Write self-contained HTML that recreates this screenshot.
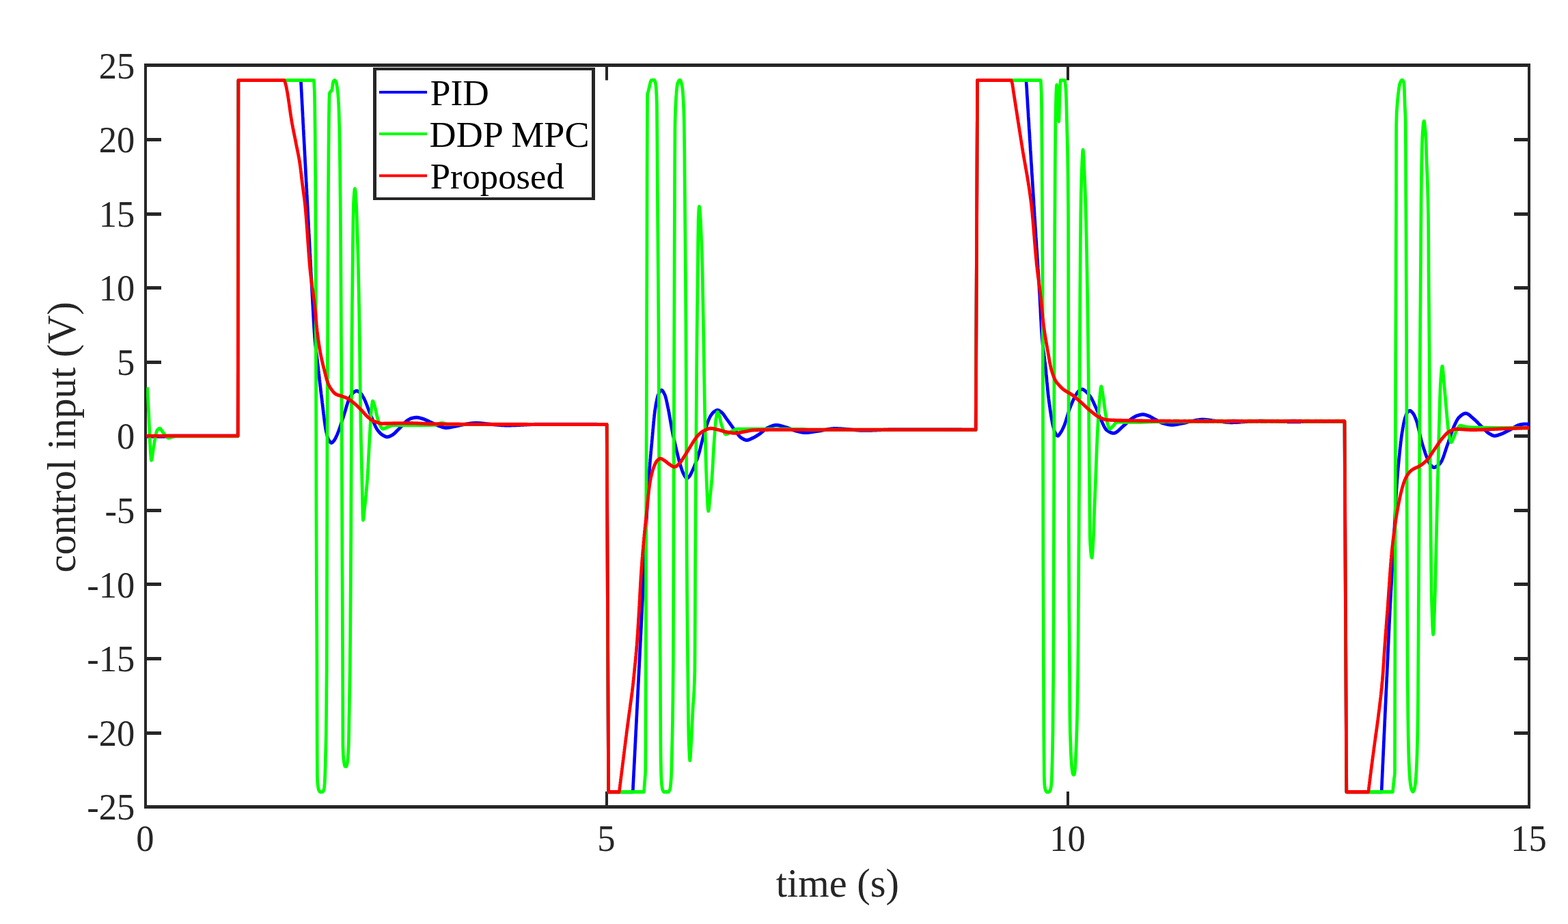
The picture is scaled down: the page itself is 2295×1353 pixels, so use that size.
<!DOCTYPE html>
<html lang="en"><head><meta charset="utf-8"><title>control input</title>
<style>html,body{margin:0;padding:0;background:#fff}body{width:2295px;height:1353px;overflow:hidden}svg{display:block}</style>
</head><body>
<svg width="2295" height="1353" viewBox="0 0 2295 1353" role="img" aria-label="control input versus time">
<rect width="2295" height="1353" fill="#fff"/>
<path d="M211,93H2240V98H211ZM211,1179H2240V1184H211ZM211,93H215V1184H211ZM2236,93H2240V1184H2236ZM215,1071H236V1076H215ZM2216,1071H2236V1076H2216ZM215,962H236V967H215ZM2216,962H2236V967H2216ZM215,853H236V858H215ZM2216,853H2236V858H2216ZM215,745H236V750H215ZM2216,745H2236V750H2216ZM215,636H236V641H215ZM2216,636H2236V641H2216ZM215,528H236V533H215ZM2216,528H2236V533H2216ZM215,419H236V424H215ZM2216,419H2236V424H2216ZM215,311H236V316H215ZM2216,311H2236V316H2216ZM215,202H236V207H215ZM2216,202H2236V207H2216ZM886,98H890V117.5H886ZM886,1159H890V1179H886ZM1561,98H1565V117.5H1561ZM1561,1159H1565V1179H1561Z" fill="#262626"/>
<clipPath id="c"><rect x="214.2" y="98" width="2024.6" height="1081"/></clipPath>
<g clip-path="url(#c)"><g transform="scale(1,1.0851063829787233)">
<path d="M213.2,589.16L241.0,589.16L245.0,588.24L348.2,588.24L348.9,108.28L440.4,108.28L440.6,112.68L440.9,117.07L441.1,121.46L441.4,125.86L441.6,130.24L441.9,134.63L442.1,139.02L442.4,143.41L442.6,147.79L442.9,152.17L443.1,156.56L443.4,160.94L443.6,165.32L443.9,169.70L444.1,174.07L444.4,178.45L444.6,182.83L444.9,187.20L445.1,191.57L445.4,195.95L445.6,200.32L445.9,204.69L446.1,209.05L446.4,213.42L446.6,217.79L446.9,222.15L447.1,226.52L447.4,230.88L447.6,235.24L447.9,239.60L448.1,243.96L448.4,248.32L448.6,252.68L448.9,257.04L449.1,261.39L449.4,265.75L449.6,270.10L449.8,272.78L449.9,274.45L450.1,278.82L450.4,283.19L450.6,287.57L450.9,291.97L451.1,296.36L451.4,300.77L451.6,305.18L451.9,309.59L452.1,314.00L452.4,318.41L452.6,322.82L452.9,327.23L453.1,331.63L453.4,336.03L453.6,340.42L453.9,344.80L454.1,349.17L454.4,353.53L454.6,357.87L454.9,362.21L455.1,366.52L455.4,370.82L455.6,375.11L455.9,379.37L456.1,383.61L456.4,387.83L456.6,392.02L456.9,396.19L457.1,400.33L457.4,404.44L457.4,404.57L457.6,408.60L457.9,412.85L458.1,417.16L458.4,421.49L458.6,425.80L458.9,430.05L459.1,434.20L459.4,438.22L459.6,442.07L459.9,445.70L460.1,449.08L460.4,452.17L460.5,453.41L460.6,454.96L460.9,457.60L461.1,460.13L461.4,462.54L461.6,464.84L461.9,467.06L462.1,469.20L462.4,471.26L462.6,473.26L462.9,475.21L463.1,477.11L463.4,478.99L463.6,480.84L463.9,482.67L464.1,484.51L464.4,486.35L464.6,488.21L464.9,490.10L465.1,492.02L465.4,493.99L465.5,494.88L465.6,496.01L465.9,498.03L466.1,500.06L466.4,502.08L466.6,504.11L466.9,506.13L467.1,508.15L467.4,510.17L467.6,512.18L467.9,514.19L468.1,516.19L468.4,518.18L468.6,520.16L468.9,522.13L469.1,524.10L469.4,526.05L469.6,527.99L469.9,529.91L470.1,531.82L470.4,533.71L470.6,535.59L470.9,537.45L471.0,538.29L471.1,539.30L471.4,541.17L471.6,543.07L471.9,544.99L472.1,546.93L472.4,548.87L472.6,550.82L472.9,552.78L473.1,554.72L473.4,556.66L473.6,558.58L473.9,560.48L474.1,562.35L474.4,564.20L474.6,566.01L474.9,567.77L475.1,569.49L475.4,571.16L475.6,572.77L475.9,574.33L476.1,575.81L476.4,577.22L476.6,578.55L476.9,579.81L477.1,580.97L477.3,581.69L477.4,582.05L477.6,583.09L477.9,584.11L478.1,585.11L478.4,586.08L478.6,587.02L478.9,587.92L479.1,588.78L479.4,589.60L479.6,590.37L479.9,591.08L480.1,591.73L480.4,592.32L480.6,592.85L480.9,593.30L481.0,593.49L481.1,593.69L481.4,594.07L481.6,594.44L481.9,594.80L482.1,595.15L482.4,595.49L482.6,595.81L482.9,596.11L483.1,596.39L483.4,596.64L483.6,596.87L483.9,597.07L484.1,597.24L484.4,597.37L484.6,597.47L484.9,597.53L485.1,597.55L485.1,597.54L485.4,597.52L485.6,597.46L485.9,597.36L486.1,597.22L486.4,597.06L486.6,596.88L486.9,596.67L487.1,596.44L487.4,596.19L487.6,595.93L487.9,595.66L488.1,595.39L488.4,595.11L488.6,594.82L488.9,594.55L489.0,594.41L489.1,594.27L489.4,593.96L489.6,593.63L489.9,593.28L490.1,592.90L490.4,592.50L490.6,592.08L490.9,591.64L491.1,591.19L491.4,590.72L491.6,590.24L491.9,589.76L492.1,589.26L492.4,588.76L492.6,588.26L492.9,587.75L493.0,587.50L493.1,587.24L493.4,586.72L493.6,586.19L493.9,585.64L494.1,585.08L494.4,584.50L494.6,583.92L494.9,583.32L495.1,582.72L495.4,582.10L495.6,581.47L495.9,580.84L496.1,580.20L496.4,579.54L496.6,578.89L496.9,578.22L497.1,577.55L497.4,576.87L497.6,576.19L497.9,575.50L498.1,574.81L498.4,574.12L498.6,573.42L498.9,572.72L499.1,572.02L499.4,571.31L499.6,570.61L499.9,569.90L500.1,569.20L500.4,568.50L500.6,567.80L500.9,567.10L501.1,566.40L501.4,565.70L501.6,565.01L501.9,564.33L502.1,563.65L502.4,562.97L502.4,562.89L502.6,562.29L502.9,561.60L503.1,560.89L503.4,560.17L503.6,559.44L503.9,558.69L504.1,557.94L504.4,557.19L504.6,556.42L504.9,555.65L505.1,554.88L505.4,554.10L505.6,553.32L505.9,552.54L506.1,551.76L506.4,550.98L506.6,550.21L506.9,549.44L507.1,548.67L507.4,547.91L507.6,547.16L507.9,546.42L508.1,545.68L508.4,544.96L508.6,544.25L508.9,543.56L509.1,542.88L509.4,542.21L509.6,541.56L509.9,540.93L510.1,540.32L510.4,539.73L510.6,539.17L510.9,538.62L511.1,538.10L511.4,537.61L511.6,537.14L511.8,536.81L511.9,536.70L512.1,536.26L512.4,535.84L512.6,535.42L512.9,535.01L513.1,534.61L513.4,534.21L513.6,533.82L513.9,533.45L514.1,533.08L514.4,532.73L514.6,532.39L514.9,532.06L515.1,531.75L515.4,531.45L515.6,531.16L515.9,530.90L516.1,530.64L516.4,530.41L516.6,530.20L516.9,530.00L517.0,529.90L517.1,529.82L517.4,529.64L517.6,529.47L517.9,529.30L518.1,529.12L518.4,528.96L518.6,528.79L518.9,528.64L519.1,528.48L519.4,528.34L519.6,528.20L519.9,528.08L520.1,527.96L520.4,527.85L520.6,527.76L520.9,527.68L521.1,527.61L521.4,527.56L521.6,527.53L521.9,527.51L522.0,527.51L522.1,527.51L522.4,527.52L522.6,527.56L522.9,527.61L523.1,527.67L523.4,527.75L523.6,527.85L523.9,527.95L524.1,528.07L524.4,528.19L524.6,528.33L524.9,528.47L525.1,528.62L525.4,528.78L525.6,528.94L525.9,529.11L526.1,529.28L526.4,529.45L526.6,529.63L526.9,529.80L527.0,529.90L527.1,529.98L527.4,530.18L527.6,530.40L527.9,530.64L528.1,530.89L528.4,531.17L528.6,531.46L528.9,531.77L529.1,532.09L529.4,532.43L529.6,532.77L529.9,533.13L530.1,533.50L530.4,533.88L530.6,534.26L530.9,534.65L531.1,535.05L531.4,535.45L531.6,535.85L531.9,536.26L532.1,536.67L532.2,536.81L532.4,537.07L532.6,537.50L532.9,537.94L533.1,538.39L533.4,538.86L533.6,539.34L533.9,539.83L534.1,540.34L534.4,540.85L534.6,541.38L534.9,541.92L535.1,542.47L535.4,543.02L535.6,543.59L535.9,544.16L536.1,544.74L536.4,545.33L536.6,545.92L536.9,546.52L537.1,547.12L537.4,547.73L537.6,548.34L537.9,548.95L538.1,549.57L538.4,550.18L538.6,550.80L538.9,551.42L539.1,552.04L539.4,552.66L539.6,553.27L539.9,553.89L540.1,554.50L540.4,555.11L540.6,555.72L540.9,556.32L541.1,556.91L541.4,557.50L541.6,558.09L541.9,558.66L542.1,559.23L542.4,559.80L542.6,560.35L542.9,560.89L543.1,561.42L543.1,561.43L543.4,561.96L543.6,562.50L543.9,563.04L544.1,563.59L544.4,564.15L544.6,564.71L544.9,565.27L545.1,565.83L545.4,566.39L545.6,566.96L545.9,567.52L546.1,568.09L546.4,568.65L546.6,569.22L546.9,569.77L547.1,570.33L547.4,570.88L547.6,571.43L547.9,571.97L548.1,572.51L548.4,573.04L548.6,573.56L548.9,574.07L549.1,574.58L549.4,575.07L549.6,575.56L549.9,576.03L550.1,576.50L550.4,576.95L550.6,577.38L550.9,577.81L551.1,578.22L551.4,578.61L551.6,578.99L551.9,579.36L552.1,579.70L552.4,580.03L552.5,580.22L552.6,580.34L552.8,580.65L553.1,580.95L553.3,581.24L553.6,581.53L553.8,581.81L554.1,582.09L554.3,582.37L554.6,582.64L554.8,582.90L555.1,583.16L555.3,583.41L555.6,583.66L555.8,583.90L556.1,584.14L556.3,584.37L556.6,584.60L556.8,584.82L557.1,585.03L557.3,585.24L557.6,585.44L557.8,585.63L558.1,585.82L558.3,586.00L558.6,586.18L558.8,586.35L559.1,586.51L559.3,586.66L559.6,586.81L559.8,586.96L560.0,587.04L560.1,587.09L560.3,587.23L560.6,587.36L560.8,587.50L561.1,587.64L561.3,587.77L561.6,587.91L561.8,588.04L562.1,588.17L562.3,588.30L562.6,588.42L562.8,588.55L563.1,588.66L563.3,588.78L563.6,588.89L563.8,588.99L564.1,589.09L564.3,589.18L564.6,589.26L564.8,589.34L565.1,589.40L565.3,589.46L565.6,589.51L565.8,589.56L566.1,589.59L566.3,589.61L566.6,589.62L566.7,589.62L566.8,589.62L567.1,589.61L567.3,589.59L567.6,589.56L567.8,589.52L568.1,589.48L568.3,589.43L568.6,589.37L568.8,589.30L569.1,589.23L569.3,589.15L569.6,589.06L569.8,588.97L570.1,588.88L570.3,588.78L570.6,588.67L570.8,588.57L571.1,588.45L571.3,588.34L571.6,588.22L571.8,588.10L572.1,587.98L572.3,587.86L572.6,587.74L572.8,587.61L573.1,587.49L573.3,587.36L573.6,587.24L573.8,587.12L574.0,587.04L574.1,586.99L574.3,586.87L574.6,586.73L574.8,586.58L575.1,586.43L575.3,586.27L575.6,586.11L575.8,585.94L576.1,585.76L576.3,585.57L576.6,585.38L576.8,585.19L577.1,584.99L577.3,584.78L577.6,584.57L577.8,584.36L578.1,584.14L578.3,583.92L578.6,583.70L578.8,583.47L579.1,583.24L579.3,583.01L579.6,582.78L579.8,582.54L580.1,582.31L580.3,582.07L580.6,581.83L580.8,581.59L581.1,581.35L581.3,581.11L581.6,580.88L581.8,580.64L582.1,580.40L582.3,580.17L582.6,579.93L582.8,579.70L583.1,579.47L583.3,579.25L583.6,579.02L583.8,578.80L583.9,578.75L584.1,578.58L584.3,578.36L584.6,578.13L584.8,577.90L585.1,577.67L585.3,577.43L585.6,577.19L585.8,576.95L586.1,576.71L586.3,576.46L586.6,576.21L586.8,575.96L587.1,575.71L587.3,575.46L587.6,575.20L587.8,574.95L588.1,574.69L588.3,574.44L588.6,574.18L588.8,573.92L589.1,573.67L589.3,573.41L589.6,573.16L589.8,572.90L590.1,572.65L590.3,572.40L590.6,572.15L590.8,571.90L591.1,571.65L591.3,571.41L591.6,571.17L591.8,570.93L592.1,570.69L592.3,570.46L592.6,570.23L592.8,570.00L593.1,569.78L593.3,569.56L593.6,569.35L593.8,569.14L594.1,568.93L594.3,568.73L594.6,568.54L594.8,568.35L595.1,568.16L595.3,567.98L595.6,567.81L595.8,567.64L596.1,567.48L596.3,567.33L596.5,567.23L596.6,567.18L596.8,567.03L597.1,566.89L597.3,566.74L597.6,566.60L597.8,566.46L598.1,566.32L598.3,566.18L598.6,566.04L598.8,565.91L599.1,565.78L599.3,565.65L599.6,565.53L599.8,565.41L600.1,565.29L600.3,565.18L600.6,565.07L600.8,564.96L601.1,564.86L601.3,564.77L601.6,564.68L601.8,564.59L602.1,564.51L602.3,564.44L602.6,564.37L602.8,564.31L603.0,564.28L603.1,564.26L603.3,564.21L603.6,564.16L603.8,564.11L604.1,564.05L604.3,564.00L604.6,563.96L604.8,563.91L605.1,563.86L605.3,563.82L605.6,563.77L605.8,563.73L606.1,563.69L606.3,563.65L606.6,563.61L606.8,563.58L607.1,563.54L607.3,563.51L607.6,563.48L607.8,563.46L608.1,563.43L608.3,563.41L608.6,563.40L608.8,563.38L609.1,563.37L609.3,563.36L609.6,563.36L609.8,563.35L610.1,563.36L610.3,563.37L610.6,563.38L610.8,563.39L611.1,563.41L611.3,563.44L611.6,563.47L611.8,563.50L612.1,563.53L612.3,563.57L612.6,563.62L612.8,563.66L613.1,563.71L613.3,563.76L613.6,563.81L613.8,563.86L614.1,563.92L614.3,563.98L614.6,564.04L614.8,564.10L615.1,564.16L615.3,564.22L615.6,564.29L615.8,564.35L616.1,564.42L616.3,564.48L616.6,564.55L616.8,564.62L617.1,564.68L617.3,564.75L617.6,564.81L617.8,564.88L618.0,564.92L618.1,564.94L618.3,565.00L618.6,565.07L618.8,565.14L619.1,565.21L619.3,565.29L619.6,565.37L619.8,565.45L620.1,565.53L620.3,565.61L620.6,565.70L620.8,565.79L621.1,565.88L621.3,565.97L621.6,566.06L621.8,566.15L622.1,566.25L622.3,566.35L622.6,566.45L622.8,566.55L623.1,566.65L623.3,566.75L623.6,566.86L623.8,566.96L624.1,567.07L624.3,567.18L624.6,567.28L624.8,567.39L625.1,567.50L625.3,567.61L625.6,567.72L625.8,567.83L626.1,567.94L626.3,568.05L626.6,568.16L626.8,568.28L627.1,568.39L627.3,568.50L627.6,568.61L627.8,568.72L628.1,568.83L628.3,568.94L628.6,569.05L628.8,569.16L629.1,569.27L629.3,569.38L629.6,569.48L629.8,569.59L630.1,569.70L630.3,569.80L630.6,569.90L630.8,570.01L631.0,570.08L631.1,570.11L631.3,570.21L631.6,570.31L631.8,570.42L632.1,570.52L632.3,570.63L632.6,570.74L632.8,570.84L633.1,570.95L633.3,571.06L633.6,571.17L633.8,571.28L634.1,571.39L634.3,571.50L634.6,571.62L634.8,571.73L635.1,571.84L635.3,571.95L635.6,572.06L635.8,572.17L636.1,572.28L636.3,572.39L636.6,572.50L636.8,572.61L637.1,572.72L637.3,572.83L637.6,572.93L637.8,573.04L638.1,573.14L638.3,573.25L638.6,573.35L638.8,573.45L639.1,573.55L639.3,573.65L639.6,573.75L639.8,573.84L640.1,573.94L640.3,574.03L640.6,574.12L640.8,574.21L641.1,574.29L641.3,574.38L641.6,574.46L641.8,574.54L642.0,574.60L642.1,574.62L642.3,574.69L642.6,574.77L642.8,574.85L643.1,574.93L643.3,575.02L643.6,575.10L643.8,575.18L644.1,575.26L644.3,575.35L644.6,575.43L644.8,575.51L645.1,575.60L645.3,575.68L645.6,575.76L645.8,575.84L646.1,575.92L646.3,576.00L646.6,576.08L646.8,576.16L647.1,576.24L647.3,576.31L647.6,576.38L647.8,576.45L648.1,576.52L648.3,576.59L648.6,576.66L648.8,576.72L649.1,576.78L649.3,576.83L649.6,576.89L649.8,576.94L650.1,576.99L650.3,577.03L650.6,577.07L650.8,577.11L651.1,577.15L651.3,577.18L651.6,577.20L651.8,577.23L652.1,577.24L652.3,577.26L652.6,577.27L652.8,577.27L652.9,577.27L653.1,577.27L653.3,577.27L653.6,577.26L653.8,577.25L654.1,577.24L654.3,577.23L654.6,577.21L654.8,577.20L655.1,577.18L655.3,577.15L655.6,577.13L655.8,577.10L656.1,577.08L656.3,577.05L656.6,577.01L656.8,576.98L657.1,576.95L657.3,576.91L657.6,576.87L657.8,576.84L658.1,576.80L658.3,576.75L658.6,576.71L658.8,576.67L659.1,576.63L659.3,576.58L659.6,576.54L659.8,576.49L660.1,576.44L660.3,576.40L660.6,576.35L660.8,576.30L661.1,576.25L661.3,576.20L661.6,576.16L661.8,576.11L662.1,576.06L662.3,576.01L662.6,575.96L662.8,575.91L663.1,575.87L663.3,575.82L663.6,575.77L663.8,575.73L664.1,575.68L664.3,575.64L664.5,575.60L664.8,575.55L665.0,575.52L665.0,575.51L665.3,575.47L665.5,575.43L665.8,575.38L666.0,575.34L666.3,575.29L666.5,575.25L666.8,575.20L667.0,575.15L667.3,575.11L667.5,575.06L667.8,575.01L668.0,574.96L668.3,574.91L668.5,574.86L668.8,574.81L669.0,574.76L669.3,574.71L669.5,574.66L669.8,574.60L670.0,574.55L670.3,574.50L670.5,574.45L670.8,574.39L671.0,574.34L671.3,574.29L671.5,574.24L671.8,574.19L672.0,574.13L672.3,574.08L672.5,574.03L672.8,573.98L673.0,573.93L673.3,573.88L673.5,573.83L673.8,573.78L674.0,573.73L674.3,573.68L674.5,573.63L674.8,573.58L675.0,573.53L675.3,573.49L675.5,573.44L675.8,573.39L676.0,573.35L676.3,573.31L676.5,573.26L676.8,573.22L677.0,573.18L677.3,573.14L677.5,573.10L677.8,573.06L678.0,573.03L678.0,573.02L678.3,572.99L678.5,572.95L678.8,572.91L679.0,572.87L679.3,572.84L679.5,572.80L679.8,572.76L680.0,572.72L680.3,572.68L680.5,572.64L680.8,572.60L681.0,572.56L681.3,572.52L681.5,572.48L681.8,572.44L682.0,572.40L682.3,572.36L682.5,572.32L682.8,572.28L683.0,572.24L683.3,572.20L683.5,572.16L683.8,572.12L684.0,572.09L684.3,572.05L684.5,572.01L684.8,571.97L685.0,571.93L685.3,571.89L685.5,571.85L685.8,571.82L686.0,571.78L686.3,571.74L686.5,571.71L686.8,571.67L687.0,571.63L687.3,571.60L687.5,571.56L687.8,571.53L688.0,571.50L688.3,571.46L688.5,571.43L688.8,571.40L689.0,571.37L689.3,571.34L689.5,571.31L689.8,571.28L690.0,571.25L690.3,571.22L690.5,571.19L690.8,571.17L691.0,571.14L691.3,571.12L691.5,571.09L691.8,571.07L692.0,571.05L692.3,571.03L692.5,571.00L692.8,570.98L693.0,570.97L693.3,570.95L693.5,570.93L693.8,570.92L694.0,570.90L694.3,570.89L694.5,570.88L694.8,570.87L695.0,570.86L695.3,570.85L695.5,570.84L695.8,570.83L696.0,570.83L696.3,570.82L696.5,570.82L696.8,570.82L696.9,570.82L697.0,570.82L697.3,570.82L697.5,570.82L697.8,570.83L698.0,570.83L698.3,570.83L698.5,570.84L698.8,570.85L699.0,570.85L699.3,570.86L699.5,570.87L699.8,570.88L700.0,570.89L700.3,570.90L700.5,570.92L700.8,570.93L701.0,570.94L701.3,570.96L701.5,570.97L701.8,570.99L702.0,571.00L702.3,571.02L702.5,571.04L702.8,571.06L703.0,571.07L703.3,571.09L703.5,571.11L703.8,571.13L704.0,571.15L704.3,571.18L704.5,571.20L704.8,571.22L705.0,571.24L705.3,571.27L705.5,571.29L705.8,571.31L706.0,571.34L706.3,571.36L706.5,571.39L706.8,571.41L707.0,571.44L707.3,571.46L707.5,571.49L707.8,571.52L708.0,571.54L708.3,571.57L708.5,571.60L708.8,571.62L709.0,571.65L709.3,571.68L709.5,571.71L709.8,571.73L710.0,571.76L710.3,571.79L710.5,571.82L710.8,571.85L711.0,571.87L711.3,571.90L711.5,571.93L711.8,571.96L712.0,571.99L712.3,572.01L712.5,572.04L712.8,572.07L713.0,572.10L713.3,572.13L713.5,572.15L713.8,572.18L714.0,572.21L714.3,572.23L714.5,572.26L714.8,572.29L715.0,572.31L715.3,572.34L715.5,572.36L715.8,572.39L716.0,572.42L716.3,572.44L716.5,572.46L716.8,572.49L717.0,572.51L717.3,572.53L717.5,572.56L717.8,572.58L718.0,572.60L718.3,572.62L718.5,572.64L718.8,572.66L719.0,572.68L719.3,572.70L719.5,572.72L719.8,572.74L720.0,572.75L720.0,572.76L720.3,572.77L720.5,572.79L720.8,572.81L721.0,572.83L721.3,572.85L721.5,572.86L721.8,572.88L722.0,572.90L722.3,572.92L722.5,572.94L722.8,572.96L723.0,572.98L723.3,573.00L723.5,573.01L723.8,573.03L724.0,573.05L724.3,573.07L724.5,573.09L724.8,573.11L725.0,573.13L725.3,573.15L725.5,573.17L725.8,573.19L726.0,573.21L726.3,573.23L726.5,573.25L726.8,573.27L727.0,573.29L727.3,573.31L727.5,573.33L727.8,573.35L728.0,573.37L728.3,573.39L728.5,573.41L728.8,573.43L729.0,573.44L729.3,573.46L729.5,573.48L729.8,573.50L730.0,573.52L730.3,573.54L730.5,573.56L730.8,573.57L731.0,573.59L731.3,573.61L731.5,573.63L731.8,573.64L732.0,573.66L732.3,573.68L732.5,573.69L732.8,573.71L733.0,573.73L733.3,573.74L733.5,573.76L733.8,573.77L734.0,573.79L734.3,573.80L734.5,573.81L734.8,573.83L735.0,573.84L735.3,573.86L735.5,573.87L735.8,573.88L736.0,573.89L736.3,573.90L736.5,573.92L736.8,573.93L737.0,573.94L737.3,573.95L737.5,573.96L737.8,573.97L738.0,573.97L738.3,573.98L738.5,573.99L738.8,574.00L739.0,574.00L739.3,574.01L739.5,574.02L739.8,574.02L740.0,574.03L740.3,574.03L740.5,574.03L740.8,574.04L741.0,574.04L741.3,574.04L741.5,574.04L741.8,574.04L742.0,574.05L742.3,574.04L742.5,574.04L742.8,574.04L743.0,574.04L743.3,574.04L743.5,574.04L743.8,574.04L744.0,574.04L744.3,574.04L744.5,574.03L744.8,574.03L745.0,574.03L745.3,574.03L745.5,574.02L745.8,574.02L746.0,574.02L746.3,574.01L746.5,574.01L746.8,574.00L747.0,574.00L747.3,574.00L747.5,573.99L747.8,573.99L748.0,573.98L748.3,573.98L748.5,573.97L748.8,573.97L749.0,573.96L749.3,573.95L749.5,573.95L749.8,573.94L750.0,573.94L750.3,573.93L750.5,573.92L750.8,573.92L751.0,573.91L751.3,573.90L751.5,573.89L751.8,573.89L752.0,573.88L752.3,573.87L752.5,573.86L752.8,573.86L753.0,573.85L753.3,573.84L753.5,573.83L753.8,573.82L754.0,573.81L754.3,573.81L754.5,573.80L754.8,573.79L755.0,573.78L755.3,573.77L755.5,573.76L755.8,573.75L756.0,573.74L756.3,573.73L756.5,573.72L756.8,573.71L757.0,573.70L757.3,573.69L757.5,573.68L757.8,573.67L758.0,573.66L758.3,573.65L758.5,573.64L758.8,573.63L759.0,573.62L759.3,573.61L759.5,573.60L759.8,573.59L760.0,573.58L760.3,573.57L760.5,573.56L760.8,573.55L761.0,573.53L761.3,573.52L761.5,573.51L761.8,573.50L762.0,573.49L762.3,573.48L762.5,573.47L762.8,573.46L763.0,573.45L763.3,573.43L763.5,573.42L763.8,573.41L764.0,573.40L764.3,573.39L764.5,573.38L764.8,573.37L765.0,573.35L765.3,573.34L765.5,573.33L765.8,573.32L766.0,573.31L766.3,573.30L766.5,573.28L766.8,573.27L767.0,573.26L767.3,573.25L767.5,573.24L767.8,573.23L768.0,573.22L768.3,573.20L768.5,573.19L768.8,573.18L769.0,573.17L769.3,573.16L769.5,573.15L769.8,573.14L770.0,573.13L770.3,573.11L770.5,573.10L770.8,573.09L771.0,573.08L771.3,573.07L771.5,573.06L771.8,573.05L772.0,573.04L772.3,573.03L772.5,573.02L772.8,573.00L773.0,572.99L773.3,572.98L773.5,572.97L773.8,572.96L774.0,572.95L774.3,572.94L774.5,572.93L774.8,572.92L775.0,572.91L775.3,572.90L775.5,572.89L775.8,572.88L776.0,572.87L776.2,572.86L776.5,572.85L776.7,572.85L777.0,572.84L777.2,572.83L777.5,572.82L777.7,572.81L778.0,572.80L778.2,572.79L778.5,572.78L778.7,572.78L779.0,572.77L779.2,572.76L779.5,572.75L779.7,572.74L780.0,572.74L780.2,572.73L780.5,572.72L780.7,572.71L781.0,572.71L781.2,572.70L781.5,572.69L781.7,572.69L782.0,572.68L782.2,572.67L782.5,572.67L782.7,572.66L783.0,572.66L783.2,572.65L783.5,572.64L783.7,572.64L784.0,572.63L784.2,572.63L784.5,572.62L784.7,572.62L785.0,572.62L785.2,572.61L785.5,572.61L785.7,572.60L786.0,572.60L786.2,572.60L786.5,572.59L786.7,572.59L787.0,572.59L787.2,572.58L787.5,572.58L787.7,572.58L788.0,572.58L788.2,572.58L788.5,572.57L788.7,572.57L789.0,572.57L789.2,572.57L789.5,572.57L789.7,572.57L790.0,572.57L790.2,572.57L790.5,572.57L790.7,572.57L791.0,572.57L791.2,572.57L791.5,572.57L791.7,572.57L792.0,572.57L792.2,572.57L792.5,572.57L792.7,572.57L793.0,572.57L793.2,572.57L793.5,572.57L793.7,572.57L794.0,572.57L794.2,572.57L794.5,572.57L794.7,572.57L795.0,572.57L795.2,572.57L795.5,572.57L795.7,572.57L796.0,572.57L796.2,572.57L796.5,572.57L796.7,572.57L797.0,572.57L797.2,572.57L797.5,572.57L797.7,572.57L798.0,572.57L798.2,572.57L798.5,572.57L798.7,572.57L799.0,572.57L799.2,572.57L799.5,572.57L799.7,572.57L800.0,572.57L800.2,572.57L800.5,572.57L800.7,572.57L801.0,572.57L801.2,572.57L801.5,572.57L801.7,572.57L802.0,572.57L802.2,572.57L802.5,572.57L802.7,572.57L803.0,572.57L803.2,572.57L803.5,572.57L803.7,572.57L804.0,572.57L804.2,572.57L804.5,572.57L804.7,572.57L805.0,572.57L805.2,572.57L805.5,572.57L805.7,572.57L806.0,572.57L806.2,572.57L806.5,572.57L806.7,572.57L807.0,572.57L807.2,572.57L807.5,572.57L807.7,572.57L808.0,572.57L808.2,572.57L808.5,572.57L808.7,572.57L809.0,572.57L809.2,572.57L809.5,572.57L809.7,572.57L810.0,572.57L810.2,572.57L810.5,572.57L810.7,572.57L811.0,572.57L811.2,572.57L811.5,572.57L811.7,572.57L812.0,572.57L812.2,572.57L812.5,572.57L812.7,572.57L813.0,572.57L813.2,572.57L813.5,572.57L813.7,572.57L814.0,572.57L814.2,572.57L814.5,572.57L814.7,572.57L815.0,572.57L815.2,572.57L815.5,572.57L815.7,572.57L816.0,572.57L816.2,572.57L816.5,572.57L816.7,572.57L817.0,572.57L817.2,572.57L817.5,572.57L817.7,572.57L818.0,572.57L818.2,572.57L818.5,572.58L818.7,572.58L819.0,572.58L819.2,572.58L819.5,572.58L819.7,572.58L820.0,572.58L820.2,572.58L820.5,572.58L820.7,572.58L821.0,572.58L821.2,572.58L821.5,572.58L821.7,572.58L822.0,572.58L822.2,572.58L822.5,572.58L822.7,572.58L823.0,572.58L823.2,572.58L823.5,572.58L823.7,572.58L824.0,572.58L824.2,572.58L824.5,572.58L824.7,572.58L825.0,572.58L825.2,572.58L825.5,572.58L825.7,572.58L826.0,572.58L826.2,572.58L826.5,572.58L826.7,572.58L827.0,572.58L827.2,572.58L827.5,572.58L827.7,572.58L828.0,572.58L828.2,572.58L828.5,572.58L828.7,572.58L829.0,572.58L829.2,572.58L829.5,572.58L829.7,572.58L830.0,572.58L830.2,572.58L830.5,572.58L830.7,572.58L831.0,572.58L831.2,572.58L831.5,572.58L831.7,572.58L832.0,572.58L832.2,572.59L832.5,572.59L832.7,572.59L833.0,572.59L833.2,572.59L833.5,572.59L833.7,572.59L834.0,572.59L834.2,572.59L834.5,572.59L834.7,572.59L835.0,572.59L835.2,572.59L835.5,572.59L835.7,572.59L836.0,572.59L836.2,572.59L836.5,572.59L836.7,572.59L837.0,572.59L837.2,572.59L837.5,572.59L837.7,572.59L838.0,572.59L838.2,572.59L838.5,572.59L838.7,572.59L839.0,572.59L839.2,572.59L839.5,572.59L839.7,572.59L840.0,572.59L840.2,572.60L840.5,572.60L840.7,572.60L841.0,572.60L841.2,572.60L841.5,572.60L841.7,572.60L842.0,572.60L842.2,572.60L842.5,572.60L842.7,572.60L843.0,572.60L843.2,572.60L843.5,572.60L843.7,572.60L844.0,572.60L844.2,572.60L844.5,572.60L844.7,572.60L845.0,572.60L845.2,572.60L845.5,572.60L845.7,572.60L846.0,572.60L846.2,572.61L846.5,572.61L846.7,572.61L847.0,572.61L847.2,572.61L847.5,572.61L847.7,572.61L848.0,572.61L848.2,572.61L848.5,572.61L848.7,572.61L849.0,572.61L849.2,572.61L849.5,572.61L849.7,572.61L850.0,572.61L850.2,572.61L850.5,572.61L850.7,572.61L851.0,572.61L851.2,572.62L851.5,572.62L851.7,572.62L852.0,572.62L852.2,572.62L852.5,572.62L852.7,572.62L853.0,572.62L853.2,572.62L853.5,572.62L853.7,572.62L854.0,572.62L854.2,572.62L854.5,572.62L854.7,572.62L855.0,572.62L855.2,572.62L855.5,572.63L855.7,572.63L856.0,572.63L856.2,572.63L856.5,572.63L856.7,572.63L857.0,572.63L857.2,572.63L857.5,572.63L857.7,572.63L858.0,572.63L858.2,572.63L858.5,572.63L858.7,572.63L859.0,572.63L859.2,572.64L859.5,572.64L859.7,572.64L860.0,572.64L860.2,572.64L860.5,572.64L860.7,572.64L861.0,572.64L861.2,572.64L861.5,572.64L861.7,572.64L862.0,572.64L862.2,572.64L862.5,572.64L862.7,572.65L863.0,572.65L863.2,572.65L863.5,572.65L863.7,572.65L864.0,572.65L864.2,572.65L864.5,572.65L864.7,572.65L865.0,572.65L865.2,572.65L865.5,572.65L865.7,572.66L866.0,572.66L866.2,572.66L866.5,572.66L866.7,572.66L867.0,572.66L867.2,572.66L867.5,572.66L867.7,572.66L868.0,572.66L868.2,572.66L868.5,572.66L868.7,572.67L869.0,572.67L869.2,572.67L869.5,572.67L869.7,572.67L870.0,572.67L870.2,572.67L870.5,572.67L870.7,572.67L871.0,572.67L871.2,572.67L871.5,572.68L871.7,572.68L872.0,572.68L872.2,572.68L872.5,572.68L872.7,572.68L873.0,572.68L873.2,572.68L873.5,572.68L873.7,572.68L874.0,572.69L874.2,572.69L874.5,572.69L874.7,572.69L875.0,572.69L875.2,572.69L875.5,572.69L875.7,572.69L876.0,572.69L876.2,572.70L876.5,572.70L876.7,572.70L877.0,572.70L877.2,572.70L877.5,572.70L877.7,572.70L878.0,572.70L878.2,572.70L878.5,572.71L878.7,572.71L879.0,572.71L879.2,572.71L879.5,572.71L879.7,572.71L880.0,572.71L880.2,572.71L880.5,572.71L880.7,572.72L881.0,572.72L881.2,572.72L881.5,572.72L881.7,572.72L882.0,572.72L882.2,572.72L882.5,572.72L882.7,572.73L883.0,572.73L883.2,572.73L883.5,572.73L883.7,572.73L884.0,572.73L884.2,572.73L884.5,572.73L884.7,572.74L885.0,572.74L885.2,572.74L885.5,572.74L885.7,572.74L886.0,572.74L886.2,572.74L886.5,572.75L886.7,572.75L887.0,572.75L887.2,572.75L887.5,572.75L887.7,572.75L888.0,572.75L888.2,572.75L890.6,1068.65L926.2,1068.65L926.5,1064.15L926.7,1059.64L927.0,1055.12L927.2,1050.61L927.5,1046.09L927.7,1041.57L928.0,1037.05L928.2,1032.53L928.5,1028.00L928.7,1023.47L929.0,1018.94L929.2,1014.41L929.5,1009.87L929.7,1005.33L930.0,1000.79L930.2,996.25L930.5,991.70L930.7,987.15L931.0,982.60L931.2,978.05L931.5,973.50L931.7,968.94L932.0,964.38L932.2,959.82L932.5,955.26L932.7,950.70L933.0,946.13L933.2,941.57L933.5,937.00L933.7,932.43L934.0,927.85L934.2,923.28L934.5,918.71L934.7,914.13L935.0,909.55L935.2,904.97L935.3,903.14L935.5,900.39L935.7,895.80L936.0,891.20L936.2,886.61L936.5,882.00L936.7,877.39L937.0,872.78L937.2,868.17L937.5,863.56L937.7,858.94L938.0,854.32L938.2,849.71L938.5,845.09L938.7,840.48L939.0,835.86L939.2,831.25L939.5,826.64L939.7,822.02L940.0,817.38L940.2,812.74L940.5,808.09L940.7,803.44L941.0,798.78L941.2,794.13L941.5,789.48L941.7,784.83L942.0,780.18L942.2,775.55L942.5,770.92L942.7,766.30L943.0,761.70L943.2,757.11L943.5,752.54L943.7,747.99L944.0,743.46L944.2,738.95L944.5,734.46L944.5,733.57L944.7,729.97L945.0,725.42L945.2,720.82L945.5,716.18L945.7,711.51L946.0,706.83L946.2,702.16L946.5,697.49L946.7,692.85L947.0,688.25L947.2,683.70L947.5,679.21L947.7,674.80L948.0,670.48L948.2,666.26L948.5,662.15L948.7,658.17L949.0,654.34L949.2,650.65L949.5,647.13L949.6,645.10L949.7,643.78L950.0,640.55L950.2,637.42L950.5,634.38L950.7,631.43L951.0,628.56L951.2,625.76L951.5,623.03L951.7,620.35L952.0,617.72L952.2,615.14L952.5,612.59L952.7,610.07L953.0,607.58L953.2,605.09L953.5,602.62L953.7,600.14L954.0,597.66L954.1,596.16L954.2,595.16L954.5,592.62L954.7,590.05L955.0,587.46L955.2,584.85L955.5,582.25L955.7,579.65L956.0,577.08L956.2,574.54L956.5,572.04L956.7,569.60L957.0,567.23L957.2,564.93L957.5,562.71L957.7,560.60L958.0,558.60L958.2,556.72L958.5,554.97L958.7,553.36L958.8,552.76L959.0,551.88L959.2,550.43L959.5,549.01L959.7,547.63L960.0,546.27L960.2,544.95L960.5,543.67L960.7,542.43L961.0,541.24L961.2,540.10L961.5,539.01L961.7,537.97L962.0,537.00L962.2,536.09L962.5,535.24L962.7,534.46L963.0,533.76L963.2,533.13L963.5,532.58L963.5,532.48L963.7,532.09L964.0,531.60L964.2,531.13L964.5,530.66L964.7,530.20L965.0,529.76L965.2,529.34L965.5,528.93L965.7,528.55L966.0,528.19L966.2,527.86L966.5,527.56L966.7,527.29L967.0,527.06L967.2,526.86L967.5,526.70L967.7,526.59L968.0,526.52L968.2,526.49L968.5,526.52L968.7,526.59L969.0,526.71L969.2,526.87L969.5,527.08L969.7,527.31L970.0,527.59L970.2,527.90L970.5,528.23L970.7,528.59L971.0,528.98L971.2,529.38L971.5,529.81L971.7,530.25L972.0,530.70L972.2,531.16L972.5,531.63L972.7,532.10L972.9,532.48L973.0,532.58L973.2,533.11L973.5,533.71L973.7,534.39L974.0,535.13L974.2,535.93L974.5,536.78L974.7,537.69L975.0,538.63L975.2,539.61L975.5,540.63L975.7,541.67L976.0,542.73L976.2,543.81L976.5,544.90L976.7,546.00L977.0,547.09L977.2,548.18L977.5,549.26L977.6,549.90L977.7,550.33L978.0,551.42L978.2,552.56L978.5,553.73L978.7,554.93L979.0,556.16L979.2,557.41L979.5,558.69L979.7,559.98L980.0,561.30L980.2,562.62L980.5,563.95L980.7,565.29L981.0,566.64L981.2,567.98L981.5,569.33L981.7,570.66L982.0,571.99L982.2,573.30L982.5,574.61L982.7,575.89L983.0,577.15L983.2,578.39L983.5,579.60L983.7,580.77L983.9,581.69L984.0,581.92L984.2,583.05L984.5,584.17L984.7,585.28L985.0,586.37L985.2,587.47L985.5,588.55L985.7,589.62L986.0,590.68L986.2,591.74L986.5,592.79L986.7,593.83L987.0,594.86L987.2,595.88L987.5,596.90L987.7,597.91L988.0,598.92L988.2,599.91L988.5,600.90L988.7,601.89L989.0,602.87L989.2,603.84L989.5,604.81L989.7,605.77L990.0,606.73L990.2,607.68L990.5,608.63L990.7,609.59L991.0,610.54L991.2,611.50L991.5,612.46L991.7,613.41L992.0,614.36L992.2,615.31L992.5,616.25L992.7,617.19L993.0,618.11L993.2,619.03L993.5,619.94L993.7,620.85L994.0,621.73L994.2,622.61L994.5,623.47L994.7,624.32L995.0,625.15L995.2,625.97L995.5,626.76L995.7,627.54L996.0,628.30L996.2,629.04L996.5,629.75L996.5,629.89L996.7,630.45L997.0,631.14L997.2,631.83L997.5,632.52L997.7,633.19L998.0,633.85L998.2,634.51L998.5,635.14L998.7,635.77L999.0,636.37L999.2,636.96L999.5,637.53L999.7,638.07L1000.0,638.60L1000.2,639.09L1000.5,639.56L1000.7,640.00L1001.0,640.41L1001.0,640.49L1001.2,640.80L1001.5,641.20L1001.7,641.61L1002.0,642.01L1002.2,642.41L1002.5,642.80L1002.7,643.18L1003.0,643.54L1003.2,643.88L1003.5,644.20L1003.7,644.48L1004.0,644.74L1004.2,644.96L1004.5,645.13L1004.7,645.26L1005.0,645.35L1005.2,645.37L1005.5,645.36L1005.7,645.31L1006.0,645.23L1006.2,645.12L1006.5,644.99L1006.7,644.83L1007.0,644.66L1007.2,644.47L1007.5,644.26L1007.7,644.04L1008.0,643.81L1008.2,643.57L1008.5,643.33L1008.7,643.09L1009.0,642.84L1009.0,642.79L1009.2,642.59L1009.5,642.29L1009.7,641.97L1010.0,641.61L1010.2,641.22L1010.5,640.81L1010.7,640.37L1011.0,639.92L1011.2,639.45L1011.5,638.97L1011.7,638.48L1012.0,637.98L1012.2,637.48L1012.5,636.97L1012.7,636.47L1013.0,635.98L1013.0,635.88L1013.2,635.49L1013.5,635.00L1013.7,634.50L1014.0,633.99L1014.2,633.49L1014.5,632.97L1014.7,632.45L1015.0,631.93L1015.2,631.40L1015.5,630.87L1015.7,630.33L1016.0,629.79L1016.2,629.23L1016.5,628.68L1016.7,628.12L1017.0,627.55L1017.2,626.98L1017.5,626.40L1017.7,625.82L1018.0,625.23L1018.2,624.63L1018.5,624.03L1018.7,623.42L1019.0,622.80L1019.2,622.18L1019.5,621.56L1019.7,620.92L1020.0,620.28L1020.2,619.63L1020.5,618.98L1020.7,618.32L1021.0,617.65L1021.2,616.98L1021.5,616.30L1021.7,615.61L1021.9,615.05L1022.0,614.91L1022.2,614.20L1022.5,613.46L1022.7,612.70L1023.0,611.92L1023.2,611.11L1023.5,610.29L1023.7,609.46L1024.0,608.60L1024.2,607.73L1024.5,606.85L1024.7,605.96L1025.0,605.05L1025.2,604.14L1025.5,603.22L1025.7,602.30L1026.0,601.37L1026.2,600.43L1026.5,599.50L1026.7,598.56L1027.0,597.63L1027.2,596.70L1027.5,595.77L1027.7,594.84L1028.0,593.93L1028.2,593.02L1028.5,592.12L1028.7,591.23L1029.0,590.35L1029.2,589.49L1029.5,588.64L1029.7,587.80L1030.0,586.99L1030.2,586.19L1030.5,585.42L1030.7,584.66L1030.8,584.37L1031.0,583.93L1031.2,583.19L1031.5,582.45L1031.7,581.71L1032.0,580.96L1032.2,580.22L1032.5,579.48L1032.7,578.73L1033.0,577.99L1033.2,577.26L1033.5,576.52L1033.7,575.80L1034.0,575.07L1034.2,574.35L1034.5,573.64L1034.7,572.94L1035.0,572.25L1035.2,571.56L1035.5,570.89L1035.7,570.22L1036.0,569.57L1036.2,568.93L1036.5,568.30L1036.7,567.69L1037.0,567.09L1037.2,566.51L1037.5,565.95L1037.7,565.40L1038.0,564.87L1038.2,564.36L1038.5,563.86L1038.7,563.39L1039.0,562.94L1039.2,562.52L1039.5,562.11L1039.6,561.88L1039.7,561.73L1040.0,561.36L1040.2,560.99L1040.5,560.63L1040.7,560.28L1041.0,559.94L1041.2,559.61L1041.5,559.28L1041.7,558.96L1042.0,558.66L1042.2,558.36L1042.5,558.07L1042.7,557.79L1043.0,557.53L1043.2,557.27L1043.5,557.02L1043.7,556.79L1044.0,556.57L1044.2,556.36L1044.5,556.16L1044.7,555.98L1045.0,555.80L1045.1,555.71L1045.2,555.64L1045.5,555.48L1045.7,555.33L1046.0,555.17L1046.2,555.01L1046.5,554.86L1046.7,554.71L1047.0,554.56L1047.2,554.42L1047.5,554.28L1047.7,554.16L1048.0,554.04L1048.2,553.93L1048.5,553.83L1048.7,553.74L1049.0,553.66L1049.2,553.60L1049.5,553.55L1049.7,553.52L1050.0,553.50L1050.1,553.49L1050.2,553.50L1050.5,553.51L1050.7,553.54L1051.0,553.58L1051.2,553.64L1051.5,553.71L1051.7,553.80L1052.0,553.89L1052.2,554.00L1052.5,554.11L1052.7,554.24L1053.0,554.37L1053.2,554.51L1053.5,554.66L1053.7,554.81L1054.0,554.97L1054.2,555.13L1054.5,555.29L1054.7,555.46L1055.0,555.63L1055.2,555.80L1055.5,555.98L1055.7,556.15L1056.0,556.32L1056.0,556.35L1056.2,556.49L1056.5,556.68L1056.7,556.89L1057.0,557.10L1057.2,557.34L1057.5,557.58L1057.7,557.84L1058.0,558.10L1058.2,558.38L1058.5,558.67L1058.7,558.97L1059.0,559.27L1059.2,559.58L1059.5,559.90L1059.7,560.22L1060.0,560.55L1060.2,560.89L1060.5,561.22L1060.7,561.56L1061.0,561.91L1061.2,562.25L1061.5,562.59L1061.7,562.94L1062.0,563.28L1062.2,563.62L1062.5,563.96L1062.7,564.30L1063.0,564.63L1063.2,564.96L1063.5,565.28L1063.7,565.60L1063.9,565.84L1064.0,565.90L1064.2,566.21L1064.5,566.52L1064.7,566.83L1065.0,567.14L1065.2,567.46L1065.5,567.77L1065.7,568.09L1066.0,568.40L1066.2,568.72L1066.5,569.04L1066.7,569.35L1067.0,569.67L1067.2,569.99L1067.5,570.31L1067.7,570.63L1068.0,570.95L1068.2,571.28L1068.5,571.60L1068.7,571.92L1069.0,572.24L1069.2,572.56L1069.5,572.89L1069.7,573.21L1070.0,573.53L1070.2,573.85L1070.5,574.17L1070.7,574.49L1071.0,574.82L1071.2,575.14L1071.5,575.46L1071.7,575.78L1072.0,576.09L1072.2,576.41L1072.5,576.73L1072.7,577.04L1073.0,577.36L1073.2,577.67L1073.5,577.99L1073.7,578.30L1074.0,578.61L1074.2,578.92L1074.5,579.23L1074.7,579.53L1075.0,579.84L1075.2,580.14L1075.5,580.44L1075.7,580.75L1076.0,581.04L1076.2,581.34L1076.5,581.64L1076.5,581.69L1076.7,581.93L1077.0,582.23L1077.2,582.54L1077.5,582.85L1077.7,583.16L1078.0,583.47L1078.2,583.79L1078.5,584.11L1078.7,584.43L1079.0,584.75L1079.2,585.07L1079.5,585.39L1079.7,585.70L1080.0,586.02L1080.2,586.33L1080.5,586.63L1080.7,586.94L1081.0,587.23L1081.2,587.52L1081.5,587.81L1081.7,588.08L1082.0,588.35L1082.2,588.61L1082.5,588.86L1082.7,589.10L1083.0,589.33L1083.2,589.55L1083.5,589.75L1083.7,589.95L1084.0,590.13L1084.2,590.29L1084.3,590.36L1084.5,590.45L1084.7,590.60L1085.0,590.76L1085.2,590.91L1085.5,591.06L1085.7,591.21L1086.0,591.36L1086.2,591.51L1086.5,591.66L1086.7,591.80L1087.0,591.95L1087.2,592.09L1087.5,592.22L1087.7,592.36L1088.0,592.49L1088.2,592.62L1088.5,592.74L1088.7,592.86L1089.0,592.97L1089.2,593.08L1089.5,593.19L1089.7,593.29L1090.0,593.38L1090.2,593.47L1090.5,593.55L1090.7,593.62L1091.0,593.69L1091.2,593.75L1091.5,593.80L1091.7,593.85L1092.0,593.89L1092.2,593.92L1092.5,593.94L1092.7,593.95L1092.9,593.95L1093.0,593.95L1093.2,593.95L1093.5,593.93L1093.7,593.91L1094.0,593.88L1094.2,593.85L1094.5,593.80L1094.7,593.75L1095.0,593.70L1095.2,593.64L1095.5,593.57L1095.7,593.50L1096.0,593.43L1096.2,593.35L1096.5,593.26L1096.7,593.17L1097.0,593.08L1097.2,592.98L1097.5,592.89L1097.7,592.78L1098.0,592.68L1098.2,592.58L1098.5,592.47L1098.7,592.36L1099.0,592.25L1099.2,592.14L1099.5,592.03L1099.7,591.92L1100.0,591.80L1100.2,591.69L1100.5,591.58L1100.7,591.47L1101.0,591.37L1101.2,591.26L1101.5,591.16L1101.6,591.09L1101.7,591.05L1102.0,590.95L1102.2,590.84L1102.5,590.73L1102.7,590.62L1103.0,590.51L1103.2,590.39L1103.5,590.27L1103.7,590.15L1104.0,590.03L1104.2,589.91L1104.5,589.78L1104.7,589.65L1105.0,589.52L1105.2,589.39L1105.5,589.26L1105.7,589.12L1106.0,588.98L1106.2,588.85L1106.5,588.71L1106.7,588.57L1107.0,588.42L1107.2,588.28L1107.5,588.14L1107.7,587.99L1108.0,587.85L1108.2,587.70L1108.5,587.55L1108.7,587.41L1109.0,587.26L1109.2,587.11L1109.5,586.96L1109.7,586.81L1110.0,586.66L1110.2,586.51L1110.5,586.36L1110.7,586.21L1111.0,586.06L1111.0,586.03L1111.2,585.90L1111.5,585.75L1111.7,585.59L1112.0,585.42L1112.2,585.25L1112.5,585.08L1112.7,584.91L1113.0,584.73L1113.2,584.55L1113.5,584.36L1113.7,584.18L1114.0,583.99L1114.2,583.80L1114.5,583.60L1114.7,583.41L1115.0,583.21L1115.2,583.02L1115.5,582.82L1115.7,582.62L1116.0,582.42L1116.2,582.23L1116.5,582.03L1116.7,581.83L1117.0,581.63L1117.2,581.43L1117.5,581.24L1117.7,581.04L1118.0,580.85L1118.2,580.66L1118.5,580.47L1118.7,580.28L1119.0,580.09L1119.2,579.91L1119.5,579.73L1119.7,579.55L1120.0,579.38L1120.2,579.20L1120.5,579.04L1120.7,578.87L1121.0,578.71L1121.2,578.56L1121.5,578.41L1121.7,578.26L1122.0,578.12L1122.2,577.98L1122.5,577.85L1122.7,577.72L1123.0,577.60L1123.2,577.49L1123.5,577.38L1123.5,577.36L1123.7,577.28L1124.0,577.18L1124.2,577.07L1124.5,576.97L1124.7,576.86L1125.0,576.76L1125.2,576.66L1125.5,576.55L1125.7,576.45L1126.0,576.34L1126.2,576.24L1126.5,576.14L1126.7,576.04L1127.0,575.94L1127.2,575.84L1127.5,575.74L1127.7,575.64L1128.0,575.54L1128.2,575.45L1128.5,575.35L1128.7,575.26L1129.0,575.17L1129.2,575.08L1129.5,574.99L1129.7,574.91L1130.0,574.82L1130.2,574.74L1130.5,574.66L1130.7,574.58L1131.0,574.51L1131.2,574.44L1131.5,574.37L1131.7,574.30L1132.0,574.24L1132.2,574.17L1132.5,574.12L1132.7,574.06L1133.0,574.01L1133.2,573.96L1133.5,573.92L1133.7,573.87L1134.0,573.84L1134.2,573.80L1134.5,573.77L1134.7,573.75L1135.0,573.72L1135.2,573.71L1135.5,573.69L1135.7,573.68L1136.0,573.68L1136.1,573.68L1136.2,573.68L1136.5,573.68L1136.7,573.69L1137.0,573.70L1137.2,573.71L1137.5,573.72L1137.7,573.74L1138.0,573.76L1138.2,573.79L1138.5,573.81L1138.7,573.84L1139.0,573.87L1139.2,573.91L1139.5,573.94L1139.7,573.98L1140.0,574.02L1140.2,574.07L1140.5,574.11L1140.7,574.16L1141.0,574.21L1141.2,574.26L1141.5,574.31L1141.7,574.36L1142.0,574.42L1142.2,574.48L1142.5,574.53L1142.7,574.59L1143.0,574.66L1143.2,574.72L1143.5,574.78L1143.7,574.85L1144.0,574.91L1144.2,574.98L1144.5,575.04L1144.7,575.11L1145.0,575.18L1145.2,575.25L1145.5,575.32L1145.7,575.39L1146.0,575.46L1146.2,575.53L1146.5,575.60L1146.7,575.67L1147.0,575.74L1147.2,575.81L1147.5,575.88L1147.7,575.95L1148.0,576.02L1148.2,576.09L1148.5,576.16L1148.7,576.23L1149.0,576.30L1149.2,576.36L1149.5,576.43L1149.7,576.50L1150.0,576.56L1150.2,576.63L1150.5,576.69L1150.7,576.76L1151.0,576.82L1151.2,576.89L1151.5,576.96L1151.7,577.04L1152.0,577.11L1152.2,577.19L1152.5,577.26L1152.7,577.34L1153.0,577.42L1153.2,577.50L1153.5,577.59L1153.7,577.67L1154.0,577.75L1154.2,577.84L1154.5,577.93L1154.7,578.01L1155.0,578.10L1155.2,578.19L1155.5,578.28L1155.7,578.37L1156.0,578.46L1156.2,578.55L1156.5,578.64L1156.7,578.73L1157.0,578.82L1157.2,578.91L1157.5,579.00L1157.7,579.10L1158.0,579.19L1158.2,579.28L1158.5,579.37L1158.7,579.46L1159.0,579.55L1159.2,579.64L1159.5,579.73L1159.7,579.82L1160.0,579.91L1160.2,580.00L1160.5,580.09L1160.7,580.17L1161.0,580.26L1161.2,580.35L1161.5,580.43L1161.7,580.51L1162.0,580.59L1162.2,580.68L1162.5,580.76L1162.7,580.83L1163.0,580.91L1163.2,580.99L1163.5,581.06L1163.7,581.13L1164.0,581.20L1164.2,581.27L1164.5,581.34L1164.7,581.41L1165.0,581.47L1165.2,581.53L1165.5,581.59L1165.7,581.65L1165.9,581.69L1166.0,581.71L1166.2,581.76L1166.5,581.82L1166.7,581.87L1167.0,581.93L1167.2,581.99L1167.5,582.05L1167.7,582.10L1168.0,582.16L1168.2,582.22L1168.5,582.28L1168.7,582.34L1169.0,582.39L1169.2,582.45L1169.5,582.51L1169.7,582.57L1170.0,582.62L1170.2,582.68L1170.5,582.74L1170.7,582.79L1171.0,582.85L1171.2,582.90L1171.5,582.95L1171.7,583.01L1172.0,583.06L1172.2,583.11L1172.5,583.16L1172.7,583.20L1173.0,583.25L1173.2,583.30L1173.5,583.34L1173.7,583.38L1174.0,583.42L1174.2,583.46L1174.5,583.50L1174.7,583.54L1175.0,583.57L1175.2,583.60L1175.5,583.63L1175.7,583.66L1176.0,583.69L1176.2,583.71L1176.5,583.73L1176.7,583.75L1177.0,583.77L1177.2,583.78L1177.5,583.79L1177.7,583.80L1178.0,583.81L1178.2,583.81L1178.4,583.81L1178.5,583.81L1178.7,583.81L1179.0,583.81L1179.2,583.81L1179.5,583.80L1179.7,583.80L1180.0,583.79L1180.2,583.78L1180.5,583.77L1180.7,583.76L1181.0,583.74L1181.2,583.73L1181.5,583.72L1181.7,583.70L1182.0,583.68L1182.2,583.67L1182.5,583.65L1182.7,583.63L1183.0,583.61L1183.2,583.58L1183.5,583.56L1183.7,583.54L1184.0,583.51L1184.2,583.49L1184.5,583.46L1184.7,583.43L1185.0,583.41L1185.2,583.38L1185.5,583.35L1185.7,583.32L1186.0,583.29L1186.2,583.26L1186.5,583.23L1186.7,583.20L1187.0,583.16L1187.2,583.13L1187.5,583.10L1187.7,583.06L1188.0,583.03L1188.2,582.99L1188.5,582.96L1188.7,582.92L1189.0,582.89L1189.2,582.85L1189.5,582.81L1189.7,582.78L1190.0,582.74L1190.2,582.70L1190.5,582.67L1190.7,582.63L1191.0,582.59L1191.2,582.55L1191.5,582.52L1191.7,582.48L1192.0,582.44L1192.2,582.40L1192.5,582.37L1192.7,582.33L1193.0,582.29L1193.2,582.26L1193.5,582.22L1193.7,582.18L1194.0,582.15L1194.2,582.11L1194.5,582.07L1194.7,582.04L1195.0,582.00L1195.2,581.97L1195.5,581.93L1195.7,581.90L1196.0,581.87L1196.2,581.83L1196.5,581.80L1196.7,581.77L1197.0,581.74L1197.2,581.71L1197.3,581.69L1197.5,581.68L1197.7,581.64L1198.0,581.61L1198.2,581.58L1198.5,581.55L1198.7,581.51L1199.0,581.48L1199.2,581.44L1199.5,581.40L1199.7,581.37L1200.0,581.33L1200.2,581.29L1200.5,581.25L1200.7,581.22L1201.0,581.18L1201.2,581.14L1201.5,581.09L1201.7,581.05L1202.0,581.01L1202.2,580.97L1202.5,580.93L1202.7,580.89L1203.0,580.84L1203.2,580.80L1203.5,580.76L1203.7,580.71L1204.0,580.67L1204.2,580.63L1204.5,580.58L1204.7,580.54L1205.0,580.49L1205.2,580.45L1205.5,580.40L1205.7,580.36L1206.0,580.31L1206.2,580.27L1206.5,580.22L1206.7,580.18L1207.0,580.13L1207.2,580.09L1207.5,580.05L1207.7,580.00L1208.0,579.96L1208.2,579.91L1208.5,579.87L1208.7,579.82L1209.0,579.78L1209.2,579.74L1209.5,579.69L1209.7,579.65L1210.0,579.61L1210.2,579.57L1210.5,579.52L1210.7,579.48L1211.0,579.44L1211.2,579.40L1211.5,579.36L1211.7,579.32L1212.0,579.28L1212.2,579.24L1212.5,579.21L1212.7,579.17L1213.0,579.13L1213.2,579.09L1213.5,579.06L1213.7,579.02L1214.0,578.99L1214.2,578.95L1214.5,578.92L1214.7,578.89L1215.0,578.86L1215.2,578.83L1215.5,578.80L1215.7,578.77L1216.0,578.74L1216.2,578.71L1216.5,578.69L1216.7,578.66L1217.0,578.64L1217.2,578.61L1217.5,578.59L1217.7,578.57L1218.0,578.55L1218.2,578.53L1218.5,578.51L1218.7,578.49L1219.0,578.48L1219.2,578.46L1219.5,578.45L1219.7,578.43L1220.0,578.42L1220.2,578.41L1220.5,578.40L1220.7,578.40L1221.0,578.39L1221.2,578.38L1221.5,578.38L1221.7,578.38L1222.0,578.38L1222.2,578.38L1222.5,578.38L1222.7,578.38L1223.0,578.38L1223.2,578.38L1223.5,578.38L1223.7,578.39L1224.0,578.39L1224.2,578.40L1224.5,578.40L1224.7,578.40L1225.0,578.41L1225.2,578.42L1225.5,578.42L1225.7,578.43L1226.0,578.44L1226.2,578.44L1226.5,578.45L1226.7,578.46L1227.0,578.47L1227.2,578.48L1227.5,578.49L1227.7,578.50L1228.0,578.51L1228.2,578.52L1228.5,578.53L1228.7,578.54L1229.0,578.55L1229.2,578.56L1229.5,578.57L1229.7,578.59L1230.0,578.60L1230.2,578.61L1230.5,578.63L1230.7,578.64L1231.0,578.65L1231.2,578.67L1231.5,578.68L1231.7,578.70L1232.0,578.71L1232.2,578.73L1232.5,578.75L1232.7,578.76L1233.0,578.78L1233.2,578.79L1233.5,578.81L1233.7,578.83L1234.0,578.85L1234.2,578.86L1234.5,578.88L1234.7,578.90L1235.0,578.92L1235.2,578.94L1235.5,578.95L1235.7,578.97L1236.0,578.99L1236.2,579.01L1236.5,579.03L1236.7,579.05L1237.0,579.07L1237.2,579.09L1237.5,579.11L1237.7,579.13L1238.0,579.15L1238.2,579.17L1238.5,579.19L1238.7,579.21L1239.0,579.23L1239.2,579.25L1239.5,579.27L1239.7,579.29L1240.0,579.32L1240.2,579.34L1240.5,579.36L1240.7,579.38L1241.0,579.40L1241.2,579.42L1241.5,579.44L1241.7,579.46L1242.0,579.49L1242.2,579.51L1242.5,579.53L1242.7,579.55L1243.0,579.57L1243.2,579.59L1243.5,579.62L1243.7,579.64L1244.0,579.66L1244.2,579.68L1244.5,579.70L1244.7,579.72L1245.0,579.75L1245.2,579.77L1245.5,579.79L1245.7,579.81L1246.0,579.83L1246.2,579.85L1246.5,579.88L1246.7,579.90L1247.0,579.92L1247.2,579.94L1247.5,579.96L1247.7,579.98L1248.0,580.00L1248.2,580.02L1248.5,580.04L1248.7,580.06L1249.0,580.08L1249.2,580.10L1249.5,580.12L1249.7,580.14L1250.0,580.16L1250.2,580.18L1250.5,580.20L1250.7,580.22L1251.0,580.24L1251.2,580.26L1251.5,580.28L1251.7,580.30L1252.0,580.32L1252.2,580.33L1252.5,580.35L1252.7,580.37L1253.0,580.39L1253.2,580.41L1253.5,580.42L1253.7,580.44L1254.0,580.46L1254.2,580.47L1254.5,580.49L1254.7,580.50L1255.0,580.52L1255.2,580.54L1255.5,580.55L1255.7,580.57L1256.0,580.58L1256.2,580.59L1256.5,580.61L1256.7,580.62L1257.0,580.64L1257.2,580.65L1257.5,580.66L1257.7,580.67L1258.0,580.69L1258.2,580.70L1258.5,580.71L1258.7,580.72L1259.0,580.73L1259.2,580.74L1259.5,580.75L1259.7,580.76L1260.0,580.77L1260.2,580.78L1260.5,580.79L1260.7,580.80L1261.0,580.80L1261.2,580.81L1261.5,580.82L1261.7,580.82L1262.0,580.83L1262.2,580.83L1262.5,580.84L1262.7,580.84L1263.0,580.85L1263.2,580.85L1263.5,580.86L1263.7,580.86L1264.0,580.86L1264.2,580.86L1264.5,580.86L1264.7,580.86L1265.0,580.86L1265.2,580.86L1265.5,580.86L1265.7,580.86L1266.0,580.86L1266.2,580.86L1266.5,580.86L1266.7,580.86L1267.0,580.86L1267.2,580.86L1267.5,580.85L1267.7,580.85L1268.0,580.85L1268.2,580.85L1268.5,580.84L1268.7,580.84L1269.0,580.84L1269.2,580.84L1269.5,580.83L1269.7,580.83L1270.0,580.82L1270.2,580.82L1270.5,580.82L1270.7,580.81L1271.0,580.81L1271.2,580.80L1271.5,580.80L1271.7,580.79L1272.0,580.79L1272.2,580.78L1272.5,580.78L1272.7,580.77L1273.0,580.77L1273.2,580.76L1273.5,580.75L1273.7,580.75L1274.0,580.74L1274.2,580.73L1274.5,580.73L1274.7,580.72L1275.0,580.71L1275.2,580.71L1275.5,580.70L1275.7,580.69L1276.0,580.69L1276.2,580.68L1276.5,580.67L1276.7,580.66L1277.0,580.66L1277.2,580.65L1277.5,580.64L1277.7,580.63L1278.0,580.62L1278.2,580.62L1278.5,580.61L1278.7,580.60L1279.0,580.59L1279.2,580.58L1279.5,580.57L1279.7,580.56L1280.0,580.56L1280.2,580.55L1280.5,580.54L1280.7,580.53L1281.0,580.52L1281.2,580.51L1281.5,580.50L1281.7,580.49L1282.0,580.48L1282.2,580.47L1282.5,580.46L1282.7,580.45L1283.0,580.44L1283.2,580.44L1283.5,580.43L1283.7,580.42L1284.0,580.41L1284.2,580.40L1284.5,580.39L1284.7,580.38L1285.0,580.37L1285.2,580.36L1285.5,580.35L1285.7,580.34L1286.0,580.33L1286.2,580.32L1286.5,580.31L1286.7,580.30L1287.0,580.29L1287.2,580.28L1287.5,580.27L1287.7,580.26L1288.0,580.25L1288.2,580.24L1288.5,580.23L1288.7,580.22L1289.0,580.21L1289.2,580.20L1289.5,580.19L1289.7,580.18L1290.0,580.17L1290.2,580.16L1290.5,580.15L1290.7,580.14L1291.0,580.13L1291.2,580.12L1291.5,580.11L1291.7,580.10L1292.0,580.09L1292.2,580.08L1292.5,580.07L1292.7,580.06L1293.0,580.05L1293.2,580.04L1293.5,580.03L1293.7,580.02L1294.0,580.02L1294.2,580.01L1294.5,580.00L1294.7,579.99L1295.0,579.98L1295.2,579.97L1295.5,579.96L1295.7,579.95L1296.0,579.94L1296.2,579.94L1296.5,579.93L1296.7,579.92L1297.0,579.91L1297.2,579.90L1297.5,579.89L1297.7,579.89L1298.0,579.88L1298.2,579.87L1298.5,579.86L1298.7,579.86L1299.0,579.85L1299.2,579.84L1299.5,579.83L1299.7,579.83L1300.0,579.82L1300.2,579.81L1300.5,579.81L1300.7,579.80L1301.0,579.79L1301.2,579.79L1301.5,579.78L1301.7,579.77L1302.0,579.77L1302.2,579.76L1302.5,579.76L1302.7,579.75L1303.0,579.75L1303.2,579.74L1303.5,579.74L1303.7,579.73L1304.0,579.73L1304.2,579.72L1304.5,579.72L1304.7,579.71L1305.0,579.71L1305.2,579.70L1305.5,579.70L1305.7,579.70L1306.0,579.69L1306.2,579.69L1306.5,579.69L1306.7,579.69L1307.0,579.68L1307.2,579.68L1307.5,579.68L1307.7,579.68L1308.0,579.67L1308.2,579.67L1308.5,579.67L1308.7,579.67L1309.0,579.67L1309.2,579.67L1309.5,579.67L1309.7,579.67L1310.0,579.67L1310.2,579.67L1310.5,579.67L1310.7,579.67L1311.0,579.67L1311.2,579.67L1311.5,579.67L1311.7,579.67L1312.0,579.67L1312.2,579.67L1312.5,579.67L1312.7,579.67L1313.0,579.67L1313.2,579.67L1313.5,579.67L1313.7,579.67L1314.0,579.67L1314.2,579.67L1314.5,579.67L1314.7,579.67L1315.0,579.67L1315.2,579.67L1315.5,579.67L1315.7,579.67L1316.0,579.67L1316.2,579.67L1316.5,579.67L1316.7,579.67L1317.0,579.67L1317.2,579.67L1317.5,579.67L1317.7,579.67L1318.0,579.67L1318.2,579.67L1318.5,579.67L1318.7,579.67L1319.0,579.67L1319.2,579.67L1319.5,579.67L1319.7,579.67L1320.0,579.67L1320.2,579.67L1320.5,579.67L1320.7,579.67L1321.0,579.67L1321.2,579.67L1321.5,579.67L1321.7,579.67L1322.0,579.67L1322.2,579.67L1322.5,579.67L1322.7,579.67L1323.0,579.67L1323.2,579.67L1323.5,579.67L1323.7,579.67L1324.0,579.67L1324.2,579.67L1324.5,579.67L1324.7,579.67L1325.0,579.67L1325.2,579.67L1325.5,579.67L1325.7,579.67L1326.0,579.67L1326.2,579.67L1326.5,579.67L1326.7,579.67L1327.0,579.67L1327.2,579.67L1327.5,579.67L1327.7,579.67L1328.0,579.67L1328.2,579.67L1328.5,579.67L1328.7,579.67L1329.0,579.67L1329.2,579.67L1329.5,579.67L1329.7,579.67L1330.0,579.67L1330.2,579.67L1330.5,579.67L1330.7,579.67L1331.0,579.67L1331.2,579.67L1331.5,579.67L1331.7,579.67L1332.0,579.67L1332.2,579.67L1332.5,579.67L1332.7,579.67L1333.0,579.67L1333.2,579.67L1333.5,579.67L1333.7,579.67L1334.0,579.67L1334.2,579.67L1334.5,579.67L1334.7,579.67L1335.0,579.67L1335.2,579.67L1335.5,579.67L1335.7,579.67L1336.0,579.67L1336.2,579.67L1336.5,579.67L1336.7,579.67L1337.0,579.67L1337.2,579.67L1337.5,579.67L1337.7,579.67L1338.0,579.67L1338.2,579.67L1338.5,579.67L1338.7,579.67L1339.0,579.67L1339.2,579.67L1339.5,579.67L1339.7,579.67L1340.0,579.67L1340.2,579.67L1340.5,579.67L1340.7,579.67L1341.0,579.67L1341.2,579.67L1341.5,579.67L1341.7,579.67L1342.0,579.67L1342.2,579.67L1342.5,579.67L1342.7,579.67L1343.0,579.67L1343.2,579.67L1343.5,579.67L1343.7,579.67L1344.0,579.67L1344.2,579.67L1344.5,579.67L1344.7,579.67L1345.0,579.67L1345.2,579.67L1345.5,579.67L1345.7,579.67L1346.0,579.67L1346.2,579.67L1346.5,579.67L1346.7,579.67L1347.0,579.68L1347.2,579.68L1347.5,579.68L1347.7,579.68L1348.0,579.68L1348.2,579.68L1348.5,579.68L1348.7,579.68L1349.0,579.68L1349.2,579.68L1349.5,579.68L1349.7,579.68L1350.0,579.68L1350.2,579.68L1350.5,579.68L1350.7,579.68L1351.0,579.68L1351.2,579.68L1351.5,579.68L1351.7,579.68L1352.0,579.68L1352.2,579.68L1352.5,579.68L1352.7,579.68L1353.0,579.68L1353.2,579.68L1353.5,579.68L1353.7,579.68L1354.0,579.68L1354.2,579.68L1354.5,579.68L1354.7,579.68L1355.0,579.68L1355.2,579.68L1355.5,579.68L1355.7,579.68L1356.0,579.68L1356.2,579.68L1356.5,579.68L1356.7,579.68L1357.0,579.68L1357.2,579.68L1357.5,579.68L1357.7,579.68L1358.0,579.69L1358.2,579.69L1358.5,579.69L1358.7,579.69L1359.0,579.69L1359.2,579.69L1359.5,579.69L1359.7,579.69L1360.0,579.69L1360.2,579.69L1360.5,579.69L1360.7,579.69L1361.0,579.69L1361.2,579.69L1361.5,579.69L1361.7,579.69L1362.0,579.69L1362.2,579.69L1362.5,579.69L1362.7,579.69L1363.0,579.69L1363.2,579.69L1363.5,579.69L1363.7,579.69L1364.0,579.69L1364.2,579.69L1364.5,579.69L1364.7,579.69L1365.0,579.69L1365.2,579.69L1365.5,579.70L1365.7,579.70L1366.0,579.70L1366.2,579.70L1366.5,579.70L1366.7,579.70L1367.0,579.70L1367.2,579.70L1367.5,579.70L1367.7,579.70L1368.0,579.70L1368.2,579.70L1368.5,579.70L1368.7,579.70L1369.0,579.70L1369.2,579.70L1369.5,579.70L1369.7,579.70L1370.0,579.70L1370.2,579.70L1370.5,579.70L1370.7,579.70L1371.0,579.70L1371.2,579.71L1371.5,579.71L1371.7,579.71L1372.0,579.71L1372.2,579.71L1372.5,579.71L1372.7,579.71L1373.0,579.71L1373.2,579.71L1373.5,579.71L1373.7,579.71L1374.0,579.71L1374.2,579.71L1374.5,579.71L1374.7,579.71L1375.0,579.71L1375.2,579.71L1375.5,579.71L1375.7,579.71L1376.0,579.71L1376.2,579.72L1376.5,579.72L1376.7,579.72L1377.0,579.72L1377.2,579.72L1377.5,579.72L1377.7,579.72L1378.0,579.72L1378.2,579.72L1378.5,579.72L1378.7,579.72L1379.0,579.72L1379.2,579.72L1379.5,579.72L1379.7,579.72L1380.0,579.72L1380.2,579.72L1380.5,579.73L1380.7,579.73L1381.0,579.73L1381.2,579.73L1381.5,579.73L1381.7,579.73L1382.0,579.73L1382.2,579.73L1382.5,579.73L1382.7,579.73L1383.0,579.73L1383.2,579.73L1383.5,579.73L1383.7,579.73L1384.0,579.73L1384.2,579.74L1384.5,579.74L1384.7,579.74L1385.0,579.74L1385.2,579.74L1385.5,579.74L1385.7,579.74L1386.0,579.74L1386.2,579.74L1386.5,579.74L1386.7,579.74L1387.0,579.74L1387.2,579.74L1387.5,579.74L1387.7,579.75L1388.0,579.75L1388.2,579.75L1388.5,579.75L1388.7,579.75L1389.0,579.75L1389.2,579.75L1389.5,579.75L1389.7,579.75L1390.0,579.75L1390.2,579.75L1390.5,579.75L1390.7,579.75L1391.0,579.76L1391.2,579.76L1391.5,579.76L1391.7,579.76L1392.0,579.76L1392.2,579.76L1392.5,579.76L1392.7,579.76L1393.0,579.76L1393.2,579.76L1393.5,579.76L1393.7,579.76L1394.0,579.77L1394.2,579.77L1394.5,579.77L1394.7,579.77L1395.0,579.77L1395.2,579.77L1395.5,579.77L1395.7,579.77L1396.0,579.77L1396.2,579.77L1396.5,579.77L1396.7,579.78L1397.0,579.78L1397.2,579.78L1397.5,579.78L1397.7,579.78L1398.0,579.78L1398.2,579.78L1398.5,579.78L1398.7,579.78L1399.0,579.78L1399.2,579.79L1399.5,579.79L1399.7,579.79L1400.0,579.79L1400.2,579.79L1400.5,579.79L1400.7,579.79L1401.0,579.79L1401.2,579.79L1401.5,579.79L1401.7,579.80L1402.0,579.80L1402.2,579.80L1402.5,579.80L1402.7,579.80L1403.0,579.80L1403.2,579.80L1403.5,579.80L1403.7,579.80L1404.0,579.81L1404.2,579.81L1404.5,579.81L1404.7,579.81L1405.0,579.81L1405.2,579.81L1405.5,579.81L1405.7,579.81L1406.0,579.81L1406.2,579.82L1406.5,579.82L1406.7,579.82L1407.0,579.82L1407.2,579.82L1407.5,579.82L1407.7,579.82L1408.0,579.82L1408.2,579.83L1408.5,579.83L1408.7,579.83L1409.0,579.83L1409.2,579.83L1409.5,579.83L1409.7,579.83L1410.0,579.83L1410.2,579.84L1410.5,579.84L1410.7,579.84L1411.0,579.84L1411.2,579.84L1411.5,579.84L1411.7,579.84L1412.0,579.84L1412.2,579.85L1412.5,579.85L1412.7,579.85L1413.0,579.85L1413.2,579.85L1413.5,579.85L1413.7,579.85L1414.0,579.85L1414.2,579.86L1414.5,579.86L1414.7,579.86L1415.0,579.86L1415.2,579.86L1415.5,579.86L1415.7,579.86L1416.0,579.87L1416.2,579.87L1416.5,579.87L1416.7,579.87L1417.0,579.87L1417.2,579.87L1417.5,579.87L1417.7,579.88L1418.0,579.88L1418.2,579.88L1418.5,579.88L1418.7,579.88L1419.0,579.88L1419.2,579.88L1419.5,579.89L1419.7,579.89L1420.0,579.89L1420.2,579.89L1420.5,579.89L1420.7,579.89L1421.0,579.90L1421.2,579.90L1421.5,579.90L1421.7,579.90L1422.0,579.90L1422.2,579.90L1422.5,579.90L1422.7,579.91L1423.0,579.91L1423.2,579.91L1423.5,579.91L1423.7,579.91L1424.0,579.91L1424.2,579.92L1424.5,579.92L1424.7,579.92L1425.0,579.92L1425.2,579.92L1425.5,579.92L1425.7,579.93L1426.0,579.93L1426.2,579.93L1426.5,579.93L1426.7,579.93L1427.0,579.93L1427.2,579.94L1427.5,579.94L1427.7,579.94L1428.0,579.94L1428.2,579.94L1430.6,108.28L1502.0,108.28L1502.2,112.09L1502.5,115.89L1502.8,119.69L1503.0,123.49L1503.2,127.28L1503.5,131.07L1503.8,134.85L1504.0,138.64L1504.2,142.42L1504.5,146.19L1504.8,149.97L1505.0,153.74L1505.2,157.50L1505.5,161.27L1505.8,165.03L1506.0,168.79L1506.2,172.54L1506.5,176.29L1506.8,180.04L1507.0,183.78L1507.2,187.53L1507.5,191.27L1507.8,195.00L1508.0,198.73L1508.2,202.47L1508.5,206.19L1508.8,209.92L1509.0,213.64L1509.2,217.36L1509.5,221.07L1509.8,224.78L1510.0,228.49L1510.2,232.20L1510.5,235.90L1510.8,239.60L1511.0,243.30L1511.2,247.00L1511.5,250.69L1511.8,254.38L1512.0,258.07L1512.2,261.75L1512.5,265.43L1512.8,269.11L1513.0,272.78L1513.2,276.45L1513.5,280.09L1513.8,283.71L1514.0,287.32L1514.2,290.90L1514.5,294.48L1514.8,298.04L1515.0,301.59L1515.2,305.13L1515.5,308.67L1515.8,312.19L1516.0,315.72L1516.2,319.24L1516.5,322.76L1516.8,326.28L1517.0,329.80L1517.2,333.33L1517.5,336.87L1517.8,340.41L1518.0,343.96L1518.2,347.52L1518.5,351.10L1518.8,354.69L1519.0,358.30L1519.2,361.92L1519.5,365.57L1519.8,369.23L1520.0,372.92L1520.2,376.64L1520.5,380.38L1520.8,384.15L1521.0,387.95L1521.2,391.78L1521.5,395.64L1521.6,397.20L1521.8,399.58L1522.0,403.74L1522.2,408.09L1522.5,412.58L1522.8,417.15L1523.0,421.75L1523.2,426.33L1523.5,430.84L1523.8,435.22L1524.0,439.42L1524.2,443.40L1524.5,447.09L1524.8,450.44L1525.0,453.41L1525.2,456.09L1525.5,458.62L1525.8,461.02L1526.0,463.29L1526.2,465.45L1526.5,467.51L1526.8,469.49L1527.0,471.39L1527.2,473.24L1527.5,475.04L1527.8,476.80L1528.0,478.54L1528.2,480.27L1528.5,482.01L1528.8,483.76L1529.0,485.54L1529.2,487.36L1529.5,489.24L1529.8,491.18L1530.0,493.20L1530.2,494.88L1530.2,495.31L1530.5,497.52L1530.8,499.79L1531.0,502.14L1531.2,504.54L1531.5,506.98L1531.8,509.45L1532.0,511.93L1532.2,514.43L1532.5,516.92L1532.8,519.39L1533.0,521.84L1533.2,524.24L1533.5,526.60L1533.8,528.89L1534.0,531.11L1534.2,533.24L1534.5,535.27L1534.8,537.19L1534.9,538.29L1535.0,539.00L1535.2,540.77L1535.5,542.53L1535.8,544.26L1536.0,545.97L1536.2,547.65L1536.5,549.31L1536.8,550.95L1537.0,552.56L1537.2,554.14L1537.5,555.69L1537.8,557.21L1538.0,558.70L1538.2,560.15L1538.5,561.57L1538.8,562.96L1539.0,564.31L1539.2,565.62L1539.5,566.89L1539.8,568.12L1540.0,569.31L1540.2,570.46L1540.5,571.57L1540.8,572.62L1541.0,573.64L1541.2,574.41L1541.2,574.60L1541.5,575.55L1541.8,576.48L1542.0,577.39L1542.2,578.27L1542.5,579.13L1542.8,579.95L1543.0,580.73L1543.2,581.47L1543.5,582.15L1543.8,582.78L1544.0,583.35L1544.2,583.85L1544.5,584.27L1544.8,584.67L1545.0,585.05L1545.2,585.43L1545.5,585.80L1545.8,586.16L1546.0,586.50L1546.2,586.81L1546.5,587.11L1546.8,587.37L1547.0,587.60L1547.2,587.79L1547.5,587.95L1547.8,588.06L1548.0,588.13L1548.2,588.15L1548.2,588.14L1548.5,588.10L1548.8,588.01L1549.0,587.87L1549.2,587.69L1549.5,587.47L1549.8,587.21L1550.0,586.93L1550.2,586.62L1550.5,586.30L1550.8,585.97L1551.0,585.62L1551.2,585.28L1551.5,584.93L1551.8,584.60L1552.0,584.27L1552.2,583.95L1552.5,583.62L1552.8,583.27L1553.0,582.90L1553.2,582.53L1553.5,582.14L1553.8,581.74L1554.0,581.34L1554.2,580.91L1554.5,580.48L1554.8,580.04L1555.0,579.59L1555.2,579.13L1555.5,578.66L1555.8,578.19L1556.0,577.70L1556.2,577.21L1556.5,576.70L1556.8,576.20L1556.9,575.89L1557.0,575.68L1557.2,575.14L1557.5,574.58L1557.8,574.00L1558.0,573.40L1558.2,572.78L1558.5,572.14L1558.8,571.49L1559.0,570.82L1559.2,570.13L1559.5,569.43L1559.8,568.72L1560.0,568.00L1560.2,567.27L1560.5,566.53L1560.8,565.79L1561.0,565.04L1561.2,564.28L1561.5,563.52L1561.8,562.76L1562.0,562.00L1562.2,561.24L1562.5,560.47L1562.8,559.72L1563.0,558.96L1563.2,558.21L1563.5,557.46L1563.8,556.73L1564.0,556.00L1564.2,555.28L1564.5,554.57L1564.8,553.88L1565.0,553.19L1565.2,552.52L1565.5,551.87L1565.8,551.23L1566.0,550.62L1566.2,550.02L1566.3,549.90L1566.5,549.43L1566.8,548.85L1567.0,548.27L1567.2,547.69L1567.5,547.12L1567.8,546.55L1568.0,545.98L1568.2,545.41L1568.5,544.85L1568.8,544.30L1569.0,543.74L1569.2,543.20L1569.5,542.66L1569.8,542.12L1570.0,541.59L1570.2,541.06L1570.5,540.55L1570.8,540.04L1571.0,539.53L1571.2,539.03L1571.5,538.54L1571.8,538.06L1572.0,537.59L1572.2,537.12L1572.5,536.66L1572.8,536.21L1573.0,535.77L1573.2,535.34L1573.5,534.92L1573.8,534.51L1574.0,534.11L1574.1,533.96L1574.2,533.72L1574.5,533.33L1574.8,532.94L1575.0,532.55L1575.2,532.16L1575.5,531.78L1575.8,531.40L1576.0,531.03L1576.2,530.67L1576.5,530.32L1576.8,529.98L1577.0,529.65L1577.2,529.33L1577.5,529.03L1577.8,528.74L1578.0,528.47L1578.2,528.22L1578.5,527.99L1578.8,527.78L1579.0,527.60L1579.2,527.42L1579.5,527.25L1579.8,527.07L1580.0,526.90L1580.2,526.73L1580.5,526.57L1580.8,526.41L1581.0,526.26L1581.2,526.11L1581.5,525.97L1581.8,525.84L1582.0,525.73L1582.2,525.62L1582.5,525.53L1582.8,525.45L1583.0,525.39L1583.2,525.34L1583.5,525.31L1583.8,525.29L1584.0,525.30L1584.2,525.33L1584.5,525.37L1584.8,525.44L1585.0,525.52L1585.2,525.62L1585.5,525.73L1585.8,525.85L1586.0,525.99L1586.2,526.13L1586.5,526.29L1586.8,526.45L1587.0,526.62L1587.2,526.80L1587.5,526.98L1587.8,527.16L1588.0,527.34L1588.2,527.52L1588.5,527.70L1588.8,527.88L1589.0,528.06L1589.2,528.24L1589.5,528.42L1589.8,528.61L1590.0,528.81L1590.2,529.01L1590.5,529.22L1590.8,529.44L1591.0,529.66L1591.2,529.89L1591.5,530.13L1591.8,530.37L1592.0,530.62L1592.2,530.87L1592.5,531.13L1592.8,531.40L1593.0,531.67L1593.2,531.94L1593.5,532.22L1593.8,532.51L1594.0,532.80L1594.2,533.10L1594.5,533.40L1594.8,533.70L1595.0,534.01L1595.2,534.33L1595.5,534.65L1595.8,534.97L1596.0,535.30L1596.1,535.43L1596.2,535.63L1596.5,535.98L1596.8,536.34L1597.0,536.71L1597.2,537.10L1597.5,537.50L1597.8,537.91L1598.0,538.33L1598.2,538.76L1598.5,539.20L1598.8,539.64L1599.0,540.10L1599.2,540.56L1599.5,541.04L1599.8,541.51L1600.0,542.00L1600.2,542.49L1600.5,542.98L1600.8,543.48L1601.0,543.99L1601.2,544.49L1601.5,545.00L1601.8,545.51L1602.0,546.02L1602.2,546.54L1602.5,547.05L1602.8,547.56L1603.0,548.07L1603.2,548.58L1603.5,549.09L1603.8,549.60L1603.9,549.90L1604.0,550.10L1604.2,550.61L1604.5,551.13L1604.8,551.66L1605.0,552.20L1605.2,552.75L1605.5,553.30L1605.8,553.86L1606.0,554.42L1606.2,554.99L1606.5,555.56L1606.8,556.13L1607.0,556.71L1607.2,557.29L1607.5,557.87L1607.8,558.45L1608.0,559.02L1608.2,559.60L1608.5,560.18L1608.8,560.75L1609.0,561.32L1609.2,561.88L1609.5,562.44L1609.8,562.99L1610.0,563.54L1610.2,564.08L1610.5,564.61L1610.8,565.14L1611.0,565.65L1611.2,566.16L1611.5,566.65L1611.8,567.13L1611.8,567.23L1612.0,567.61L1612.2,568.09L1612.5,568.58L1612.8,569.07L1613.0,569.57L1613.2,570.07L1613.5,570.57L1613.8,571.08L1614.0,571.58L1614.2,572.08L1614.5,572.58L1614.8,573.07L1615.0,573.56L1615.2,574.04L1615.5,574.52L1615.8,574.98L1616.0,575.44L1616.2,575.88L1616.5,576.32L1616.8,576.74L1617.0,577.14L1617.2,577.53L1617.5,577.90L1617.8,578.26L1618.0,578.59L1618.2,578.91L1618.5,579.21L1618.8,579.48L1619.0,579.73L1619.2,579.95L1619.5,580.15L1619.6,580.22L1619.8,580.32L1620.0,580.50L1620.2,580.67L1620.5,580.83L1620.8,581.00L1621.0,581.17L1621.2,581.33L1621.5,581.49L1621.8,581.65L1622.0,581.80L1622.2,581.95L1622.5,582.10L1622.8,582.25L1623.0,582.39L1623.2,582.53L1623.5,582.67L1623.8,582.80L1624.0,582.93L1624.2,583.06L1624.5,583.18L1624.8,583.29L1625.0,583.41L1625.2,583.52L1625.5,583.62L1625.8,583.72L1626.0,583.81L1626.2,583.90L1626.5,583.99L1626.8,584.07L1627.0,584.14L1627.2,584.21L1627.5,584.27L1627.8,584.33L1628.0,584.38L1628.2,584.42L1628.5,584.46L1628.8,584.49L1629.0,584.52L1629.2,584.53L1629.5,584.55L1629.8,584.55L1630.0,584.55L1630.2,584.53L1630.5,584.51L1630.8,584.47L1631.0,584.43L1631.2,584.38L1631.5,584.31L1631.8,584.24L1632.0,584.16L1632.2,584.07L1632.5,583.97L1632.8,583.86L1633.0,583.75L1633.2,583.62L1633.5,583.49L1633.8,583.36L1634.0,583.21L1634.2,583.06L1634.5,582.91L1634.8,582.75L1635.0,582.58L1635.2,582.40L1635.5,582.23L1635.8,582.04L1636.0,581.85L1636.2,581.66L1636.5,581.47L1636.8,581.26L1637.0,581.06L1637.2,580.85L1637.5,580.64L1637.8,580.43L1638.0,580.21L1638.2,579.99L1638.5,579.77L1638.8,579.55L1639.0,579.33L1639.2,579.10L1639.5,578.88L1639.8,578.65L1640.0,578.42L1640.2,578.20L1640.5,577.97L1640.8,577.74L1641.0,577.52L1641.2,577.29L1641.5,577.07L1641.8,576.84L1642.0,576.62L1642.2,576.40L1642.5,576.19L1642.8,575.97L1643.0,575.76L1643.2,575.55L1643.5,575.35L1643.8,575.14L1644.0,574.95L1644.2,574.75L1644.5,574.56L1644.7,574.41L1644.8,574.38L1645.0,574.19L1645.2,574.00L1645.5,573.81L1645.8,573.61L1646.0,573.42L1646.2,573.21L1646.5,573.01L1646.8,572.81L1647.0,572.60L1647.2,572.39L1647.5,572.18L1647.8,571.97L1648.0,571.75L1648.2,571.54L1648.5,571.32L1648.8,571.10L1649.0,570.89L1649.2,570.67L1649.5,570.45L1649.8,570.23L1650.0,570.01L1650.2,569.79L1650.5,569.58L1650.8,569.36L1651.0,569.14L1651.2,568.92L1651.5,568.71L1651.8,568.49L1652.0,568.28L1652.2,568.07L1652.5,567.86L1652.8,567.65L1653.0,567.44L1653.2,567.24L1653.5,567.04L1653.8,566.84L1654.0,566.64L1654.2,566.45L1654.5,566.26L1654.8,566.07L1655.0,565.88L1655.2,565.70L1655.5,565.53L1655.8,565.35L1656.0,565.18L1656.2,565.02L1656.5,564.85L1656.8,564.70L1657.0,564.55L1657.2,564.40L1657.3,564.37L1657.5,564.25L1657.8,564.11L1658.0,563.97L1658.2,563.82L1658.5,563.68L1658.8,563.54L1659.0,563.40L1659.2,563.27L1659.5,563.13L1659.8,562.99L1660.0,562.86L1660.2,562.73L1660.5,562.60L1660.8,562.47L1661.0,562.35L1661.2,562.22L1661.5,562.10L1661.8,561.99L1662.0,561.87L1662.2,561.76L1662.5,561.65L1662.8,561.55L1663.0,561.45L1663.2,561.35L1663.5,561.25L1663.8,561.16L1664.0,561.08L1664.2,561.00L1664.5,560.92L1664.8,560.84L1665.0,560.77L1665.2,560.71L1665.5,560.64L1665.8,560.57L1666.0,560.51L1666.2,560.44L1666.5,560.37L1666.8,560.31L1667.0,560.24L1667.2,560.18L1667.5,560.11L1667.8,560.05L1668.0,559.99L1668.2,559.93L1668.5,559.87L1668.8,559.82L1669.0,559.76L1669.2,559.71L1669.5,559.66L1669.8,559.61L1670.0,559.57L1670.2,559.53L1670.5,559.49L1670.8,559.45L1671.0,559.42L1671.2,559.39L1671.5,559.37L1671.8,559.35L1672.0,559.33L1672.2,559.32L1672.5,559.31L1672.8,559.30L1672.9,559.30L1673.0,559.30L1673.2,559.31L1673.5,559.32L1673.8,559.33L1674.0,559.36L1674.2,559.38L1674.5,559.42L1674.8,559.45L1675.0,559.49L1675.2,559.54L1675.5,559.59L1675.8,559.64L1676.0,559.70L1676.2,559.76L1676.5,559.82L1676.8,559.89L1677.0,559.96L1677.2,560.03L1677.5,560.10L1677.8,560.18L1678.0,560.26L1678.2,560.33L1678.5,560.41L1678.8,560.50L1679.0,560.58L1679.2,560.66L1679.5,560.74L1679.8,560.83L1680.0,560.91L1680.2,560.99L1680.5,561.07L1680.8,561.15L1681.0,561.24L1681.2,561.32L1681.5,561.40L1681.8,561.50L1682.0,561.59L1682.2,561.69L1682.5,561.80L1682.8,561.90L1683.0,562.02L1683.2,562.13L1683.5,562.25L1683.8,562.37L1684.0,562.49L1684.2,562.62L1684.5,562.74L1684.8,562.87L1685.0,563.00L1685.2,563.14L1685.5,563.27L1685.8,563.41L1686.0,563.54L1686.2,563.68L1686.5,563.82L1686.8,563.95L1687.0,564.09L1687.2,564.23L1687.5,564.36L1687.8,564.50L1688.0,564.64L1688.2,564.77L1688.5,564.90L1688.8,565.03L1689.0,565.16L1689.2,565.29L1689.5,565.41L1689.8,565.54L1690.0,565.66L1690.2,565.75L1690.2,565.77L1690.5,565.89L1690.8,566.01L1691.0,566.13L1691.2,566.25L1691.5,566.37L1691.8,566.50L1692.0,566.62L1692.2,566.74L1692.5,566.87L1692.8,566.99L1693.0,567.12L1693.2,567.25L1693.5,567.37L1693.8,567.50L1694.0,567.63L1694.2,567.75L1694.5,567.88L1694.8,568.01L1695.0,568.13L1695.2,568.26L1695.5,568.38L1695.8,568.51L1696.0,568.63L1696.2,568.75L1696.5,568.88L1696.8,569.00L1697.0,569.12L1697.2,569.23L1697.5,569.35L1697.8,569.47L1698.0,569.58L1698.2,569.69L1698.5,569.80L1698.8,569.91L1699.0,570.02L1699.2,570.12L1699.5,570.22L1699.8,570.32L1700.0,570.42L1700.2,570.52L1700.5,570.61L1700.8,570.70L1701.0,570.79L1701.2,570.87L1701.5,570.95L1701.8,571.03L1702.0,571.11L1702.2,571.18L1702.5,571.25L1702.8,571.31L1703.0,571.37L1703.2,571.43L1703.5,571.49L1703.8,571.55L1704.0,571.61L1704.2,571.67L1704.5,571.73L1704.8,571.79L1705.0,571.85L1705.2,571.91L1705.5,571.97L1705.8,572.03L1706.0,572.09L1706.2,572.14L1706.5,572.20L1706.8,572.26L1707.0,572.31L1707.2,572.37L1707.5,572.42L1707.8,572.47L1708.0,572.53L1708.2,572.58L1708.5,572.63L1708.8,572.68L1709.0,572.73L1709.2,572.77L1709.5,572.82L1709.8,572.86L1710.0,572.91L1710.2,572.95L1710.5,572.99L1710.8,573.03L1711.0,573.06L1711.2,573.10L1711.5,573.13L1711.8,573.17L1712.0,573.20L1712.2,573.22L1712.5,573.25L1712.8,573.27L1713.0,573.30L1713.2,573.32L1713.5,573.34L1713.8,573.35L1714.0,573.37L1714.2,573.38L1714.5,573.39L1714.8,573.39L1715.0,573.40L1715.2,573.40L1715.3,573.40L1715.5,573.40L1715.8,573.40L1716.0,573.39L1716.2,573.39L1716.5,573.38L1716.8,573.37L1717.0,573.35L1717.2,573.34L1717.5,573.32L1717.8,573.31L1718.0,573.29L1718.2,573.27L1718.5,573.24L1718.8,573.22L1719.0,573.20L1719.2,573.17L1719.5,573.14L1719.8,573.11L1720.0,573.08L1720.2,573.05L1720.5,573.02L1720.8,572.98L1721.0,572.95L1721.2,572.91L1721.5,572.88L1721.8,572.84L1722.0,572.80L1722.2,572.76L1722.5,572.72L1722.8,572.68L1723.0,572.64L1723.2,572.59L1723.5,572.55L1723.8,572.51L1724.0,572.46L1724.2,572.42L1724.5,572.37L1724.8,572.33L1725.0,572.28L1725.2,572.24L1725.5,572.19L1725.8,572.14L1726.0,572.10L1726.2,572.05L1726.5,572.00L1726.8,571.96L1727.0,571.91L1727.2,571.86L1727.5,571.82L1727.8,571.77L1728.0,571.72L1728.2,571.68L1728.5,571.63L1728.8,571.59L1729.0,571.54L1729.2,571.50L1729.5,571.46L1729.8,571.41L1730.0,571.37L1730.2,571.33L1730.5,571.29L1730.8,571.24L1731.0,571.20L1731.2,571.15L1731.5,571.10L1731.8,571.05L1732.0,571.00L1732.2,570.95L1732.5,570.90L1732.8,570.85L1733.0,570.80L1733.2,570.74L1733.5,570.69L1733.8,570.64L1734.0,570.58L1734.2,570.53L1734.5,570.47L1734.8,570.41L1735.0,570.36L1735.2,570.30L1735.5,570.24L1735.8,570.18L1736.0,570.12L1736.2,570.06L1736.5,570.01L1736.8,569.95L1737.0,569.89L1737.2,569.83L1737.5,569.77L1737.8,569.71L1738.0,569.65L1738.2,569.59L1738.5,569.53L1738.8,569.47L1739.0,569.42L1739.2,569.36L1739.5,569.30L1739.8,569.24L1740.0,569.18L1740.2,569.13L1740.5,569.07L1740.8,569.01L1741.0,568.96L1741.2,568.90L1741.5,568.85L1741.8,568.79L1742.0,568.74L1742.2,568.69L1742.5,568.64L1742.8,568.58L1743.0,568.53L1743.2,568.48L1743.5,568.44L1743.8,568.39L1744.0,568.34L1744.2,568.29L1744.5,568.25L1744.8,568.21L1745.0,568.16L1745.1,568.15L1745.2,568.12L1745.5,568.08L1745.8,568.04L1746.0,567.99L1746.2,567.95L1746.5,567.91L1746.8,567.86L1747.0,567.82L1747.2,567.77L1747.5,567.73L1747.8,567.68L1748.0,567.63L1748.2,567.59L1748.5,567.54L1748.8,567.50L1749.0,567.45L1749.2,567.40L1749.5,567.36L1749.8,567.31L1750.0,567.27L1750.2,567.22L1750.5,567.18L1750.8,567.13L1751.0,567.09L1751.2,567.04L1751.5,567.00L1751.8,566.96L1752.0,566.91L1752.2,566.87L1752.5,566.83L1752.8,566.79L1753.0,566.75L1753.2,566.71L1753.5,566.67L1753.8,566.64L1754.0,566.60L1754.2,566.57L1754.5,566.53L1754.8,566.50L1755.0,566.47L1755.2,566.43L1755.5,566.41L1755.8,566.38L1756.0,566.35L1756.2,566.32L1756.5,566.30L1756.8,566.27L1757.0,566.25L1757.2,566.23L1757.5,566.21L1757.8,566.20L1758.0,566.18L1758.2,566.17L1758.5,566.15L1758.8,566.14L1759.0,566.14L1759.2,566.13L1759.5,566.12L1759.8,566.12L1760.0,566.12L1760.2,566.12L1760.5,566.12L1760.8,566.13L1761.0,566.13L1761.2,566.14L1761.5,566.14L1761.8,566.15L1762.0,566.16L1762.2,566.17L1762.5,566.18L1762.8,566.19L1763.0,566.21L1763.2,566.22L1763.5,566.24L1763.8,566.25L1764.0,566.27L1764.2,566.29L1764.5,566.31L1764.8,566.33L1765.0,566.35L1765.2,566.37L1765.5,566.39L1765.8,566.41L1766.0,566.44L1766.2,566.46L1766.5,566.49L1766.8,566.51L1767.0,566.54L1767.2,566.57L1767.5,566.60L1767.8,566.62L1768.0,566.65L1768.2,566.68L1768.5,566.71L1768.8,566.74L1769.0,566.77L1769.2,566.80L1769.5,566.83L1769.8,566.87L1770.0,566.90L1770.2,566.93L1770.5,566.96L1770.8,567.00L1771.0,567.03L1771.2,567.06L1771.5,567.09L1771.8,567.13L1772.0,567.16L1772.2,567.20L1772.5,567.23L1772.8,567.26L1773.0,567.30L1773.2,567.33L1773.5,567.36L1773.8,567.40L1774.0,567.43L1774.2,567.47L1774.5,567.50L1774.8,567.53L1775.0,567.57L1775.2,567.60L1775.5,567.63L1775.8,567.66L1776.0,567.69L1776.2,567.73L1776.5,567.76L1776.8,567.79L1777.0,567.82L1777.2,567.85L1777.5,567.88L1777.8,567.91L1778.0,567.94L1778.2,567.97L1778.5,567.99L1778.8,568.02L1779.0,568.05L1779.2,568.07L1779.5,568.10L1779.8,568.12L1780.0,568.15L1780.2,568.17L1780.5,568.20L1780.8,568.22L1781.0,568.24L1781.2,568.27L1781.5,568.30L1781.8,568.32L1782.0,568.35L1782.2,568.37L1782.5,568.40L1782.8,568.43L1783.0,568.46L1783.2,568.48L1783.5,568.51L1783.8,568.54L1784.0,568.57L1784.2,568.60L1784.5,568.63L1784.8,568.65L1785.0,568.68L1785.2,568.71L1785.5,568.74L1785.8,568.77L1786.0,568.80L1786.2,568.83L1786.5,568.86L1786.8,568.89L1787.0,568.92L1787.2,568.95L1787.5,568.98L1787.8,569.00L1788.0,569.03L1788.2,569.06L1788.5,569.09L1788.8,569.12L1789.0,569.15L1789.2,569.18L1789.5,569.21L1789.8,569.24L1790.0,569.26L1790.2,569.29L1790.5,569.32L1790.8,569.35L1791.0,569.37L1791.2,569.40L1791.5,569.43L1791.8,569.45L1792.0,569.48L1792.2,569.51L1792.5,569.53L1792.8,569.56L1793.0,569.58L1793.2,569.61L1793.5,569.63L1793.8,569.65L1794.0,569.68L1794.2,569.70L1794.5,569.72L1794.8,569.74L1795.0,569.76L1795.2,569.78L1795.5,569.80L1795.8,569.82L1796.0,569.84L1796.2,569.86L1796.5,569.88L1796.8,569.89L1797.0,569.91L1797.2,569.93L1797.5,569.94L1797.8,569.96L1798.0,569.97L1798.2,569.98L1798.5,570.00L1798.8,570.01L1799.0,570.02L1799.2,570.03L1799.5,570.04L1799.8,570.05L1800.0,570.05L1800.2,570.06L1800.5,570.07L1800.8,570.07L1801.0,570.07L1801.2,570.08L1801.5,570.08L1801.8,570.08L1802.0,570.08L1802.2,570.08L1802.5,570.08L1802.8,570.08L1803.0,570.08L1803.2,570.08L1803.5,570.08L1803.8,570.07L1804.0,570.07L1804.2,570.07L1804.5,570.06L1804.8,570.06L1805.0,570.05L1805.2,570.05L1805.5,570.04L1805.8,570.04L1806.0,570.03L1806.2,570.03L1806.5,570.02L1806.8,570.01L1807.0,570.01L1807.2,570.00L1807.5,569.99L1807.8,569.98L1808.0,569.97L1808.2,569.97L1808.5,569.96L1808.8,569.95L1809.0,569.94L1809.2,569.93L1809.5,569.92L1809.8,569.91L1810.0,569.90L1810.2,569.89L1810.5,569.88L1810.8,569.86L1811.0,569.85L1811.2,569.84L1811.5,569.83L1811.8,569.82L1812.0,569.80L1812.2,569.79L1812.5,569.78L1812.8,569.77L1813.0,569.75L1813.2,569.74L1813.5,569.72L1813.8,569.71L1814.0,569.70L1814.2,569.68L1814.5,569.67L1814.8,569.65L1815.0,569.64L1815.2,569.62L1815.5,569.61L1815.8,569.59L1816.0,569.58L1816.2,569.56L1816.5,569.55L1816.8,569.53L1817.0,569.51L1817.2,569.50L1817.5,569.48L1817.8,569.47L1818.0,569.45L1818.2,569.43L1818.5,569.42L1818.8,569.40L1819.0,569.38L1819.2,569.37L1819.5,569.35L1819.8,569.33L1820.0,569.31L1820.2,569.30L1820.5,569.28L1820.8,569.26L1821.0,569.24L1821.2,569.23L1821.5,569.21L1821.8,569.19L1822.0,569.17L1822.2,569.16L1822.5,569.14L1822.8,569.12L1823.0,569.10L1823.2,569.09L1823.5,569.07L1823.8,569.05L1824.0,569.03L1824.2,569.02L1824.5,569.00L1824.8,568.98L1825.0,568.96L1825.2,568.95L1825.5,568.93L1825.8,568.91L1826.0,568.89L1826.2,568.88L1826.5,568.86L1826.8,568.84L1827.0,568.82L1827.2,568.81L1827.5,568.79L1827.8,568.77L1828.0,568.76L1828.2,568.74L1828.5,568.72L1828.8,568.70L1829.0,568.69L1829.2,568.67L1829.5,568.66L1829.8,568.64L1830.0,568.62L1830.2,568.61L1830.5,568.59L1830.8,568.58L1831.0,568.56L1831.2,568.54L1831.5,568.53L1831.8,568.51L1832.0,568.50L1832.2,568.48L1832.5,568.47L1832.8,568.45L1833.0,568.44L1833.2,568.43L1833.5,568.41L1833.8,568.40L1834.0,568.39L1834.2,568.37L1834.5,568.36L1834.8,568.35L1835.0,568.33L1835.2,568.32L1835.5,568.31L1835.8,568.30L1836.0,568.28L1836.2,568.27L1836.5,568.26L1836.8,568.25L1837.0,568.24L1837.2,568.23L1837.5,568.22L1837.8,568.21L1838.0,568.20L1838.2,568.19L1838.5,568.18L1838.8,568.17L1839.0,568.16L1839.2,568.15L1839.5,568.15L1839.8,568.14L1840.0,568.13L1840.2,568.12L1840.5,568.12L1840.8,568.11L1841.0,568.10L1841.2,568.10L1841.5,568.09L1841.8,568.09L1842.0,568.08L1842.2,568.08L1842.5,568.07L1842.8,568.07L1843.0,568.07L1843.2,568.06L1843.5,568.06L1843.8,568.06L1844.0,568.06L1844.2,568.06L1844.5,568.06L1844.8,568.06L1845.0,568.05L1845.2,568.05L1845.5,568.06L1845.8,568.06L1846.0,568.06L1846.2,568.06L1846.5,568.06L1846.8,568.06L1847.0,568.06L1847.2,568.06L1847.5,568.06L1847.8,568.06L1848.0,568.06L1848.2,568.07L1848.5,568.07L1848.8,568.07L1849.0,568.07L1849.2,568.07L1849.5,568.08L1849.8,568.08L1850.0,568.08L1850.2,568.08L1850.5,568.09L1850.8,568.09L1851.0,568.09L1851.2,568.09L1851.5,568.10L1851.8,568.10L1852.0,568.10L1852.2,568.11L1852.5,568.11L1852.8,568.11L1853.0,568.12L1853.2,568.12L1853.5,568.12L1853.8,568.13L1854.0,568.13L1854.2,568.14L1854.5,568.14L1854.8,568.14L1855.0,568.15L1855.2,568.15L1855.5,568.16L1855.8,568.16L1856.0,568.17L1856.2,568.17L1856.5,568.17L1856.8,568.18L1857.0,568.18L1857.2,568.19L1857.5,568.19L1857.8,568.20L1858.0,568.20L1858.2,568.21L1858.5,568.21L1858.8,568.22L1859.0,568.22L1859.2,568.23L1859.5,568.24L1859.8,568.24L1860.0,568.25L1860.2,568.25L1860.5,568.26L1860.8,568.26L1861.0,568.27L1861.2,568.27L1861.5,568.28L1861.8,568.29L1862.0,568.29L1862.2,568.30L1862.5,568.30L1862.8,568.31L1863.0,568.31L1863.2,568.32L1863.5,568.33L1863.8,568.33L1864.0,568.34L1864.2,568.34L1864.5,568.35L1864.8,568.36L1865.0,568.36L1865.2,568.37L1865.5,568.37L1865.8,568.38L1866.0,568.39L1866.2,568.39L1866.5,568.40L1866.8,568.41L1867.0,568.41L1867.2,568.42L1867.5,568.42L1867.8,568.43L1868.0,568.44L1868.2,568.44L1868.5,568.45L1868.8,568.45L1869.0,568.46L1869.2,568.47L1869.5,568.47L1869.8,568.48L1870.0,568.48L1870.2,568.49L1870.5,568.50L1870.8,568.50L1871.0,568.51L1871.2,568.51L1871.5,568.52L1871.8,568.53L1872.0,568.53L1872.2,568.54L1872.5,568.54L1872.8,568.55L1873.0,568.56L1873.2,568.56L1873.5,568.57L1873.8,568.57L1874.0,568.58L1874.2,568.58L1874.5,568.59L1874.8,568.60L1875.0,568.60L1875.2,568.61L1875.5,568.61L1875.8,568.62L1876.0,568.62L1876.2,568.63L1876.5,568.63L1876.8,568.64L1877.0,568.64L1877.2,568.65L1877.5,568.65L1877.8,568.66L1878.0,568.66L1878.2,568.67L1878.5,568.67L1878.8,568.68L1879.0,568.68L1879.2,568.69L1879.5,568.69L1879.8,568.69L1880.0,568.70L1880.2,568.70L1880.5,568.71L1880.8,568.71L1881.0,568.72L1881.2,568.72L1881.5,568.72L1881.8,568.73L1882.0,568.73L1882.2,568.73L1882.5,568.74L1882.8,568.74L1883.0,568.74L1883.2,568.75L1883.5,568.75L1883.8,568.75L1884.0,568.76L1884.2,568.76L1884.5,568.76L1884.8,568.76L1885.0,568.77L1885.2,568.77L1885.5,568.77L1885.8,568.77L1886.0,568.78L1886.2,568.78L1886.5,568.78L1886.8,568.78L1887.0,568.78L1887.2,568.78L1887.5,568.79L1887.8,568.79L1888.0,568.79L1888.2,568.79L1888.5,568.79L1888.8,568.79L1889.0,568.79L1889.2,568.79L1889.5,568.79L1889.8,568.79L1890.0,568.79L1890.2,568.79L1890.5,568.79L1890.8,568.79L1891.0,568.79L1891.2,568.79L1891.5,568.79L1891.8,568.79L1892.0,568.79L1892.2,568.79L1892.5,568.79L1892.8,568.79L1893.0,568.79L1893.2,568.79L1893.5,568.79L1893.8,568.79L1894.0,568.78L1894.2,568.78L1894.5,568.78L1894.8,568.78L1895.0,568.78L1895.2,568.78L1895.5,568.78L1895.8,568.78L1896.0,568.78L1896.2,568.77L1896.5,568.77L1896.8,568.77L1897.0,568.77L1897.2,568.77L1897.5,568.77L1897.8,568.77L1898.0,568.76L1898.2,568.76L1898.5,568.76L1898.8,568.76L1899.0,568.76L1899.2,568.75L1899.5,568.75L1899.8,568.75L1900.0,568.75L1900.2,568.75L1900.5,568.75L1900.8,568.74L1901.0,568.74L1901.2,568.74L1901.5,568.74L1901.8,568.73L1902.0,568.73L1902.2,568.73L1902.5,568.73L1902.8,568.73L1903.0,568.72L1903.2,568.72L1903.5,568.72L1903.8,568.72L1904.0,568.71L1904.2,568.71L1904.5,568.71L1904.8,568.71L1905.0,568.70L1905.2,568.70L1905.5,568.70L1905.8,568.70L1906.0,568.69L1906.2,568.69L1906.5,568.69L1906.8,568.69L1907.0,568.68L1907.2,568.68L1907.5,568.68L1907.8,568.68L1908.0,568.67L1908.2,568.67L1908.5,568.67L1908.8,568.67L1909.0,568.66L1909.2,568.66L1909.5,568.66L1909.8,568.66L1910.0,568.65L1910.2,568.65L1910.5,568.65L1910.8,568.65L1911.0,568.64L1911.2,568.64L1911.5,568.64L1911.8,568.64L1912.0,568.63L1912.2,568.63L1912.5,568.63L1912.8,568.63L1913.0,568.62L1913.2,568.62L1913.5,568.62L1913.8,568.62L1914.0,568.61L1914.2,568.61L1914.5,568.61L1914.8,568.61L1915.0,568.60L1915.2,568.60L1915.5,568.60L1915.8,568.60L1916.0,568.59L1916.2,568.59L1916.5,568.59L1916.8,568.59L1917.0,568.58L1917.2,568.58L1917.5,568.58L1917.8,568.58L1918.0,568.58L1918.2,568.57L1918.5,568.57L1918.8,568.57L1919.0,568.57L1919.2,568.56L1919.5,568.56L1919.8,568.56L1920.0,568.56L1920.2,568.56L1920.5,568.56L1920.8,568.55L1921.0,568.55L1921.2,568.55L1921.5,568.55L1921.8,568.55L1922.0,568.54L1922.2,568.54L1922.5,568.54L1922.8,568.54L1923.0,568.54L1923.2,568.54L1923.5,568.54L1923.8,568.53L1924.0,568.53L1924.2,568.53L1924.5,568.53L1924.8,568.53L1925.0,568.53L1925.2,568.53L1925.5,568.53L1925.8,568.52L1926.0,568.52L1926.2,568.52L1926.5,568.52L1926.8,568.52L1927.0,568.52L1927.2,568.52L1927.5,568.52L1927.8,568.52L1928.0,568.52L1928.2,568.52L1928.5,568.52L1928.8,568.52L1929.0,568.52L1929.2,568.52L1929.5,568.52L1929.8,568.52L1930.0,568.52L1930.2,568.52L1930.5,568.52L1930.8,568.52L1931.0,568.52L1931.2,568.52L1931.5,568.52L1931.8,568.52L1932.0,568.52L1932.2,568.52L1932.5,568.52L1932.8,568.52L1933.0,568.52L1933.2,568.52L1933.5,568.52L1933.8,568.52L1934.0,568.52L1934.2,568.52L1934.5,568.52L1934.8,568.52L1935.0,568.52L1935.2,568.52L1935.5,568.52L1935.8,568.52L1936.0,568.52L1936.2,568.52L1936.5,568.52L1936.8,568.52L1937.0,568.52L1937.2,568.52L1937.5,568.52L1937.8,568.52L1938.0,568.52L1938.2,568.52L1938.5,568.52L1938.8,568.52L1939.0,568.52L1939.2,568.52L1939.5,568.52L1939.8,568.52L1940.0,568.52L1940.2,568.52L1940.5,568.52L1940.8,568.52L1941.0,568.52L1941.2,568.52L1941.5,568.52L1941.8,568.52L1942.0,568.52L1942.2,568.52L1942.5,568.52L1942.8,568.52L1943.0,568.52L1943.2,568.52L1943.5,568.52L1943.8,568.52L1944.0,568.52L1944.2,568.52L1944.5,568.52L1944.8,568.52L1945.0,568.52L1945.2,568.52L1945.5,568.52L1945.8,568.52L1946.0,568.52L1946.2,568.52L1946.5,568.52L1946.8,568.52L1947.0,568.52L1947.2,568.52L1947.5,568.52L1947.8,568.52L1948.0,568.52L1948.2,568.52L1948.5,568.52L1948.8,568.52L1949.0,568.52L1949.2,568.52L1949.5,568.52L1949.8,568.52L1950.0,568.52L1950.2,568.52L1950.5,568.52L1950.8,568.52L1951.0,568.52L1951.2,568.52L1951.5,568.52L1951.8,568.52L1952.0,568.52L1952.2,568.52L1952.5,568.52L1952.8,568.52L1953.0,568.52L1953.2,568.52L1953.5,568.52L1953.8,568.52L1954.0,568.52L1954.2,568.52L1954.5,568.52L1954.8,568.52L1955.0,568.52L1955.2,568.52L1955.5,568.52L1955.8,568.52L1956.0,568.52L1956.2,568.52L1956.5,568.52L1956.8,568.52L1957.0,568.52L1957.2,568.52L1957.5,568.52L1957.8,568.52L1958.0,568.52L1958.2,568.52L1958.5,568.52L1958.8,568.52L1959.0,568.52L1959.2,568.52L1959.5,568.52L1959.8,568.52L1960.0,568.52L1960.2,568.52L1960.5,568.52L1960.8,568.52L1961.0,568.52L1961.2,568.52L1961.5,568.52L1961.8,568.52L1962.0,568.52L1962.2,568.52L1962.5,568.52L1962.8,568.52L1963.0,568.52L1963.2,568.52L1963.5,568.52L1963.8,568.52L1964.0,568.52L1964.2,568.52L1964.5,568.52L1964.8,568.52L1965.0,568.52L1965.2,568.52L1965.5,568.52L1965.8,568.52L1966.0,568.52L1966.2,568.52L1966.5,568.52L1966.8,568.52L1967.0,568.52L1967.2,568.52L1967.5,568.52L1967.8,568.52L1968.0,568.52L1970.8,1068.65L2022.1,1068.65L2022.3,1063.58L2022.6,1058.51L2022.8,1053.44L2023.1,1048.38L2023.3,1043.33L2023.6,1038.28L2023.8,1033.23L2024.1,1028.19L2024.3,1023.15L2024.6,1018.12L2024.8,1013.09L2025.1,1008.06L2025.3,1003.04L2025.6,998.03L2025.8,993.02L2026.1,988.01L2026.3,983.00L2026.6,978.00L2026.8,973.01L2027.1,968.02L2027.3,963.03L2027.6,958.04L2027.8,953.06L2028.1,948.09L2028.3,943.11L2028.6,938.14L2028.8,933.18L2029.1,928.21L2029.3,923.25L2029.6,918.30L2029.8,913.34L2029.9,912.35L2030.1,908.38L2030.3,903.39L2030.6,898.38L2030.8,893.35L2031.1,888.31L2031.3,883.27L2031.6,878.23L2031.8,873.20L2032.1,868.18L2032.3,863.18L2032.6,858.21L2032.8,853.28L2033.1,848.38L2033.3,843.53L2033.6,838.74L2033.8,834.00L2034.1,829.32L2034.3,824.72L2034.6,820.20L2034.8,815.76L2035.1,811.42L2035.3,807.16L2035.6,802.96L2035.8,798.82L2036.1,794.72L2036.3,790.66L2036.6,786.61L2036.8,782.56L2037.1,778.51L2037.3,774.44L2037.6,770.34L2037.8,766.19L2038.1,761.99L2038.2,760.29L2038.3,757.73L2038.6,753.42L2038.8,749.07L2039.1,744.70L2039.3,740.31L2039.6,735.91L2039.8,731.50L2040.1,727.10L2040.3,722.72L2040.6,718.36L2040.8,714.03L2041.0,711.45L2041.1,709.73L2041.3,705.35L2041.6,700.90L2041.8,696.40L2042.1,691.89L2042.3,687.38L2042.6,682.92L2042.8,678.52L2043.1,674.23L2043.3,670.06L2043.6,666.04L2043.8,662.22L2044.1,658.60L2044.3,655.88L2044.3,655.22L2044.6,652.00L2044.8,648.87L2045.1,645.83L2045.3,642.89L2045.6,640.02L2045.8,637.24L2046.1,634.53L2046.3,631.90L2046.6,629.33L2046.8,626.82L2047.1,624.37L2047.3,621.97L2047.6,619.62L2047.8,617.32L2048.1,615.05L2048.3,612.82L2048.6,610.61L2048.8,608.43L2049.1,606.28L2049.3,604.16L2049.6,602.09L2049.8,600.06L2050.1,598.07L2050.3,596.13L2050.6,594.25L2050.8,592.42L2051.1,590.66L2051.3,588.95L2051.6,587.32L2051.8,585.76L2052.1,584.27L2052.3,582.84L2052.6,581.42L2052.8,580.02L2053.1,578.65L2053.3,577.31L2053.6,576.00L2053.8,574.73L2054.1,573.49L2054.3,572.29L2054.6,571.13L2054.8,570.01L2055.1,568.95L2055.3,567.93L2055.6,566.97L2055.8,566.07L2056.1,565.22L2056.3,564.44L2056.5,564.00L2056.6,563.72L2056.8,563.02L2057.1,562.34L2057.3,561.68L2057.6,561.04L2057.8,560.43L2058.1,559.84L2058.3,559.29L2058.6,558.78L2058.8,558.29L2059.1,557.85L2059.3,557.45L2059.6,557.10L2059.8,556.79L2060.0,556.63L2060.1,556.53L2060.3,556.27L2060.6,556.03L2060.8,555.79L2061.1,555.56L2061.3,555.33L2061.6,555.13L2061.8,554.94L2062.1,554.76L2062.3,554.61L2062.6,554.48L2062.8,554.37L2063.1,554.30L2063.3,554.25L2063.6,554.23L2063.8,554.25L2064.1,554.30L2064.3,554.37L2064.6,554.48L2064.8,554.61L2065.1,554.76L2065.3,554.94L2065.6,555.13L2065.8,555.34L2066.1,555.57L2066.3,555.81L2066.6,556.06L2066.8,556.31L2067.1,556.58L2067.3,556.85L2067.6,557.12L2067.8,557.39L2068.0,557.55L2068.1,557.66L2068.3,557.95L2068.6,558.28L2068.8,558.63L2069.1,559.00L2069.3,559.40L2069.6,559.82L2069.8,560.26L2070.1,560.73L2070.3,561.21L2070.6,561.72L2070.8,562.23L2071.1,562.77L2071.3,563.32L2071.6,563.88L2071.8,564.46L2072.1,565.04L2072.3,565.64L2072.6,566.24L2072.8,566.86L2073.0,567.23L2073.1,567.48L2073.3,568.14L2073.6,568.84L2073.8,569.58L2074.1,570.35L2074.3,571.16L2074.6,572.01L2074.8,572.88L2075.1,573.78L2075.3,574.70L2075.6,575.65L2075.8,576.61L2076.1,577.59L2076.3,578.59L2076.6,579.60L2076.8,580.61L2077.1,581.63L2077.3,582.66L2077.6,583.69L2077.8,584.71L2078.1,585.74L2078.3,586.75L2078.6,587.76L2078.8,588.75L2079.1,589.74L2079.3,590.70L2079.6,591.65L2079.8,592.57L2080.1,593.47L2080.3,594.35L2080.6,595.19L2080.8,596.00L2080.9,596.16L2081.1,596.79L2081.3,597.58L2081.6,598.36L2081.8,599.14L2082.1,599.91L2082.3,600.68L2082.6,601.45L2082.8,602.21L2083.1,602.97L2083.3,603.72L2083.6,604.46L2083.8,605.20L2084.1,605.93L2084.3,606.65L2084.6,607.37L2084.8,608.08L2085.1,608.78L2085.3,609.47L2085.6,610.16L2085.8,610.83L2086.1,611.50L2086.3,612.16L2086.6,612.81L2086.8,613.44L2087.1,614.07L2087.3,614.69L2087.6,615.29L2087.8,615.89L2088.1,616.47L2088.3,617.04L2088.6,617.60L2088.7,617.82L2088.8,618.15L2089.1,618.70L2089.3,619.25L2089.6,619.80L2089.8,620.35L2090.1,620.90L2090.3,621.44L2090.6,621.97L2090.8,622.50L2091.1,623.01L2091.3,623.51L2091.6,624.00L2091.8,624.47L2092.1,624.92L2092.3,625.36L2092.6,625.77L2092.8,626.16L2093.1,626.52L2093.3,626.85L2093.6,627.16L2093.8,627.44L2094.0,627.59L2094.1,627.68L2094.3,627.93L2094.6,628.17L2094.8,628.41L2095.1,628.64L2095.3,628.87L2095.6,629.10L2095.8,629.31L2096.1,629.52L2096.3,629.72L2096.6,629.90L2096.8,630.07L2097.1,630.23L2097.3,630.37L2097.6,630.50L2097.8,630.60L2098.1,630.69L2098.3,630.75L2098.6,630.80L2098.8,630.81L2098.9,630.81L2099.1,630.81L2099.3,630.79L2099.6,630.75L2099.8,630.69L2100.1,630.62L2100.3,630.54L2100.6,630.45L2100.8,630.34L2101.1,630.23L2101.3,630.10L2101.6,629.97L2101.8,629.83L2102.1,629.69L2102.3,629.54L2102.6,629.39L2102.8,629.23L2103.1,629.07L2103.3,628.92L2103.6,628.76L2103.8,628.60L2104.0,628.51L2104.1,628.45L2104.3,628.29L2104.6,628.12L2104.8,627.94L2105.1,627.76L2105.3,627.56L2105.6,627.36L2105.8,627.15L2106.1,626.93L2106.3,626.71L2106.6,626.47L2106.8,626.23L2107.1,625.97L2107.3,625.71L2107.6,625.44L2107.8,625.16L2108.1,624.87L2108.3,624.57L2108.6,624.27L2108.8,623.95L2109.1,623.63L2109.3,623.28L2109.6,622.91L2109.8,622.51L2110.1,622.08L2110.3,621.63L2110.6,621.16L2110.8,620.66L2111.1,620.14L2111.3,619.60L2111.6,619.05L2111.8,618.47L2112.1,617.88L2112.3,617.27L2112.6,616.65L2112.8,616.01L2113.1,615.36L2113.3,614.70L2113.6,614.03L2113.8,613.35L2114.1,612.66L2114.3,611.97L2114.6,611.27L2114.8,610.57L2115.1,609.86L2115.3,609.15L2115.6,608.44L2115.8,607.73L2116.1,607.02L2116.3,606.31L2116.6,605.61L2116.8,604.91L2117.1,604.22L2117.3,603.53L2117.6,602.85L2117.8,602.18L2118.1,601.52L2118.3,600.88L2118.5,600.49L2118.6,600.24L2118.8,599.60L2119.1,598.94L2119.3,598.28L2119.6,597.61L2119.8,596.94L2120.1,596.26L2120.3,595.57L2120.6,594.88L2120.8,594.18L2121.1,593.48L2121.3,592.78L2121.6,592.07L2121.8,591.37L2122.1,590.66L2122.3,589.96L2122.6,589.25L2122.8,588.55L2123.1,587.85L2123.3,587.15L2123.6,586.46L2123.8,585.77L2124.1,585.09L2124.3,584.41L2124.6,583.74L2124.8,583.08L2125.1,582.42L2125.3,581.78L2125.6,581.14L2125.8,580.52L2126.1,579.90L2126.3,579.30L2126.6,578.71L2126.8,578.14L2127.1,577.58L2127.3,577.03L2127.6,576.50L2127.8,575.99L2127.9,575.89L2128.1,575.49L2128.3,574.98L2128.6,574.48L2128.8,573.98L2129.1,573.47L2129.3,572.97L2129.6,572.48L2129.8,571.98L2130.1,571.49L2130.3,571.01L2130.6,570.53L2130.8,570.05L2131.1,569.58L2131.3,569.12L2131.6,568.67L2131.8,568.22L2132.1,567.79L2132.3,567.36L2132.6,566.95L2132.8,566.55L2133.1,566.16L2133.3,565.78L2133.6,565.41L2133.8,565.06L2134.1,564.73L2134.3,564.41L2134.6,564.10L2134.8,563.82L2135.1,563.55L2135.3,563.30L2135.6,563.07L2135.8,562.89L2135.8,562.85L2136.1,562.65L2136.3,562.44L2136.6,562.24L2136.8,562.04L2137.1,561.83L2137.3,561.64L2137.6,561.44L2137.8,561.24L2138.1,561.05L2138.3,560.86L2138.6,560.68L2138.8,560.49L2139.1,560.31L2139.3,560.14L2139.6,559.97L2139.8,559.80L2140.1,559.64L2140.3,559.48L2140.6,559.33L2140.8,559.19L2141.1,559.05L2141.3,558.91L2141.6,558.79L2141.8,558.66L2142.1,558.55L2142.3,558.44L2142.6,558.35L2142.8,558.25L2143.1,558.17L2143.3,558.10L2143.6,558.03L2143.8,557.97L2144.1,557.92L2144.3,557.88L2144.6,557.86L2144.8,557.84L2145.1,557.83L2145.2,557.83L2145.3,557.83L2145.6,557.84L2145.8,557.86L2146.1,557.90L2146.3,557.94L2146.6,558.00L2146.8,558.06L2147.1,558.14L2147.3,558.22L2147.6,558.31L2147.8,558.41L2148.1,558.52L2148.3,558.64L2148.6,558.76L2148.8,558.89L2149.1,559.03L2149.3,559.17L2149.6,559.33L2149.8,559.48L2150.1,559.65L2150.3,559.82L2150.6,559.99L2150.8,560.17L2151.1,560.35L2151.3,560.54L2151.6,560.73L2151.8,560.92L2152.1,561.12L2152.3,561.32L2152.6,561.53L2152.8,561.73L2153.1,561.94L2153.3,562.15L2153.6,562.36L2153.8,562.57L2154.1,562.79L2154.3,563.00L2154.6,563.21L2154.8,563.43L2155.1,563.64L2155.3,563.85L2155.6,564.06L2155.8,564.27L2156.1,564.48L2156.3,564.69L2156.6,564.89L2156.8,565.09L2157.1,565.29L2157.3,565.48L2157.6,565.68L2157.7,565.75L2157.8,565.86L2158.1,566.06L2158.3,566.25L2158.6,566.45L2158.8,566.65L2159.1,566.86L2159.3,567.07L2159.6,567.28L2159.8,567.50L2160.1,567.72L2160.3,567.94L2160.6,568.16L2160.8,568.39L2161.1,568.62L2161.3,568.85L2161.6,569.08L2161.8,569.32L2162.1,569.55L2162.3,569.79L2162.6,570.03L2162.8,570.27L2163.1,570.51L2163.3,570.75L2163.6,571.00L2163.8,571.24L2164.1,571.49L2164.3,571.73L2164.6,571.98L2164.8,572.22L2165.1,572.47L2165.3,572.71L2165.6,572.96L2165.8,573.21L2166.1,573.45L2166.3,573.70L2166.6,573.94L2166.8,574.18L2167.1,574.42L2167.3,574.66L2167.6,574.90L2167.8,575.14L2168.1,575.38L2168.3,575.61L2168.6,575.84L2168.8,576.07L2169.1,576.30L2169.3,576.53L2169.6,576.75L2169.8,576.97L2170.1,577.19L2170.3,577.36L2170.3,577.41L2170.6,577.62L2170.8,577.84L2171.1,578.06L2171.3,578.28L2171.6,578.51L2171.8,578.73L2172.1,578.95L2172.3,579.18L2172.6,579.41L2172.8,579.63L2173.1,579.86L2173.3,580.09L2173.6,580.31L2173.8,580.54L2174.1,580.76L2174.3,580.99L2174.6,581.21L2174.8,581.43L2175.1,581.64L2175.3,581.86L2175.6,582.07L2175.8,582.29L2176.1,582.49L2176.3,582.70L2176.6,582.90L2176.8,583.10L2177.1,583.29L2177.3,583.48L2177.6,583.67L2177.8,583.85L2178.1,584.03L2178.3,584.20L2178.6,584.37L2178.8,584.53L2179.1,584.69L2179.3,584.84L2179.6,584.98L2179.8,585.12L2180.0,585.20L2180.1,585.25L2180.3,585.38L2180.6,585.51L2180.8,585.65L2181.1,585.79L2181.3,585.92L2181.6,586.06L2181.8,586.19L2182.1,586.33L2182.3,586.46L2182.6,586.59L2182.8,586.72L2183.1,586.85L2183.3,586.97L2183.6,587.09L2183.8,587.20L2184.1,587.32L2184.3,587.42L2184.6,587.52L2184.8,587.62L2185.1,587.70L2185.3,587.79L2185.6,587.86L2185.8,587.93L2186.1,587.99L2186.3,588.04L2186.6,588.08L2186.8,588.11L2187.1,588.13L2187.3,588.14L2187.5,588.15L2187.6,588.14L2187.8,588.14L2188.1,588.13L2188.3,588.11L2188.6,588.09L2188.8,588.06L2189.1,588.03L2189.3,587.99L2189.6,587.95L2189.8,587.91L2190.1,587.86L2190.3,587.81L2190.6,587.75L2190.8,587.69L2191.1,587.63L2191.3,587.56L2191.6,587.49L2191.8,587.42L2192.1,587.35L2192.3,587.28L2192.6,587.20L2192.8,587.12L2193.1,587.04L2193.3,586.96L2193.6,586.88L2193.8,586.80L2194.1,586.72L2194.3,586.64L2194.6,586.56L2194.8,586.48L2195.1,586.40L2195.3,586.32L2195.6,586.24L2195.8,586.16L2196.0,586.12L2196.1,586.09L2196.3,586.01L2196.6,585.93L2196.8,585.85L2197.1,585.76L2197.3,585.68L2197.6,585.59L2197.8,585.50L2198.1,585.41L2198.3,585.31L2198.6,585.21L2198.8,585.12L2199.1,585.02L2199.3,584.92L2199.6,584.81L2199.8,584.71L2200.1,584.60L2200.3,584.50L2200.6,584.39L2200.8,584.28L2201.1,584.17L2201.3,584.06L2201.6,583.94L2201.8,583.83L2202.1,583.72L2202.3,583.60L2202.6,583.48L2202.8,583.37L2203.1,583.25L2203.3,583.13L2203.6,583.01L2203.8,582.89L2204.1,582.77L2204.3,582.65L2204.6,582.53L2204.8,582.41L2205.1,582.29L2205.3,582.17L2205.6,582.05L2205.8,581.93L2206.1,581.81L2206.3,581.69L2206.6,581.57L2206.8,581.45L2207.1,581.33L2207.3,581.21L2207.6,581.09L2207.8,580.98L2208.1,580.86L2208.3,580.74L2208.6,580.63L2208.8,580.51L2209.1,580.40L2209.3,580.29L2209.5,580.22L2209.6,580.17L2209.8,580.06L2210.1,579.94L2210.3,579.83L2210.6,579.71L2210.8,579.58L2211.1,579.46L2211.3,579.33L2211.6,579.20L2211.8,579.07L2212.1,578.94L2212.3,578.81L2212.6,578.68L2212.8,578.54L2213.1,578.41L2213.3,578.27L2213.6,578.13L2213.8,578.00L2214.1,577.86L2214.3,577.72L2214.6,577.58L2214.8,577.44L2215.1,577.30L2215.3,577.16L2215.6,577.02L2215.8,576.88L2216.1,576.75L2216.3,576.61L2216.6,576.47L2216.8,576.34L2217.1,576.20L2217.3,576.07L2217.6,575.93L2217.8,575.80L2218.1,575.67L2218.3,575.54L2218.6,575.42L2218.8,575.29L2219.1,575.17L2219.3,575.04L2219.6,574.92L2219.8,574.81L2220.1,574.69L2220.3,574.58L2220.6,574.47L2220.8,574.36L2221.1,574.26L2221.3,574.15L2221.6,574.05L2221.8,573.96L2222.1,573.87L2222.3,573.78L2222.6,573.69L2222.8,573.61L2223.1,573.53L2223.3,573.45L2223.6,573.38L2223.8,573.32L2224.1,573.25L2224.3,573.20L2224.6,573.14L2224.8,573.09L2225.1,573.05L2225.2,573.03L2225.3,573.01L2225.6,572.97L2225.8,572.93L2226.1,572.89L2226.3,572.85L2226.6,572.81L2226.8,572.77L2227.1,572.73L2227.3,572.69L2227.6,572.66L2227.8,572.62L2228.1,572.59L2228.3,572.56L2228.6,572.52L2228.8,572.50L2229.1,572.47L2229.3,572.44L2229.6,572.42L2229.8,572.39L2230.1,572.37L2230.3,572.35L2230.6,572.34L2230.8,572.32L2231.1,572.31L2231.3,572.30L2231.6,572.30L2231.8,572.29L2232.0,572.29L2232.1,572.29L2232.3,572.29L2232.6,572.30L2232.8,572.30L2233.1,572.30L2233.3,572.30L2233.6,572.30L2233.8,572.31L2234.1,572.31L2234.3,572.32L2234.6,572.33L2234.8,572.34L2235.1,572.34L2235.3,572.35L2235.6,572.37L2235.8,572.38L2236.1,572.39L2236.3,572.41L2236.6,572.43L2236.8,572.45L2237.1,572.47L2237.3,572.49L2237.6,572.52L2237.8,572.54L2238.1,572.57" fill="none" stroke="#0000ff" stroke-width="4.7" stroke-linejoin="round" stroke-linecap="butt"/>
<path d="M215.5,522.53L215.8,525.86L216.0,529.43L216.2,533.22L216.5,537.21L216.8,541.38L217.0,545.72L217.2,550.20L217.5,554.82L217.8,559.54L217.8,560.50L218.0,564.56L218.2,570.09L218.5,575.83L218.8,581.46L218.9,584.64L219.0,586.72L219.2,592.01L219.5,597.13L219.8,601.68L219.9,604.00L220.0,605.43L220.2,609.11L220.5,612.73L220.8,616.00L221.0,618.68L221.2,620.48L221.5,621.14L221.8,620.93L222.0,620.36L222.2,619.46L222.5,618.29L222.8,616.90L223.0,615.33L223.2,613.65L223.5,611.88L223.8,610.10L224.0,608.34L224.2,606.67L224.5,605.11L224.7,604.00L224.8,603.73L225.0,602.40L225.2,601.04L225.5,599.68L225.8,598.31L226.0,596.95L226.2,595.61L226.5,594.30L226.8,593.02L227.0,591.80L227.2,590.63L227.5,589.53L227.8,588.44L228.0,587.31L228.2,586.18L228.5,585.08L228.8,584.03L229.0,583.06L229.2,582.22L229.5,581.52L229.8,580.99L229.9,580.77L230.0,580.65L230.2,580.37L230.5,580.09L230.8,579.84L231.0,579.59L231.2,579.37L231.5,579.16L231.8,578.98L232.0,578.81L232.2,578.66L232.5,578.54L232.8,578.44L233.0,578.36L233.2,578.31L233.5,578.29L233.6,578.28L233.8,578.29L234.0,578.34L234.2,578.44L234.5,578.58L234.8,578.75L235.0,578.95L235.2,579.19L235.5,579.45L235.8,579.73L236.0,580.04L236.2,580.36L236.5,580.69L236.8,581.03L237.0,581.38L237.2,581.73L237.5,582.07L237.8,582.42L238.0,582.75L238.2,583.07L238.5,583.38L238.8,583.67L238.8,583.72L239.0,583.94L239.2,584.23L239.5,584.53L239.8,584.83L240.0,585.13L240.2,585.44L240.5,585.75L240.8,586.06L241.0,586.37L241.2,586.67L241.5,586.97L241.8,587.26L242.0,587.54L242.2,587.80L242.5,588.06L242.8,588.29L243.0,588.51L243.2,588.73L243.5,588.95L243.8,589.18L244.0,589.41L244.2,589.64L244.5,589.86L244.8,590.07L245.0,590.26L245.2,590.45L245.5,590.61L245.8,590.75L246.0,590.86L246.2,590.94L246.5,590.99L246.7,591.00L246.8,591.00L247.0,590.99L247.2,590.96L247.5,590.92L247.8,590.86L248.0,590.79L248.2,590.72L248.5,590.63L248.8,590.55L249.0,590.46L249.2,590.37L249.5,590.28L249.8,590.19L250.0,590.11L250.2,590.03L250.4,589.99L250.5,589.96L250.8,589.89L251.0,589.82L251.2,589.75L251.5,589.67L251.8,589.60L252.0,589.53L252.2,589.46L252.5,589.39L252.8,589.32L253.0,589.26L253.2,589.20L253.5,589.15L253.8,589.10L254.0,589.07L254.2,589.03L254.5,589.00L254.8,588.97L255.0,588.93L255.2,588.90L255.5,588.87L255.8,588.84L256.0,588.82L256.2,588.79L256.5,588.77L256.8,588.75L257.0,588.73L257.2,588.72L257.5,588.71L257.8,588.70L258.0,588.70L348.2,588.70L348.9,108.28L459.2,108.28L459.4,109.34L459.7,112.24L459.9,116.60L460.2,122.02L460.3,124.41L460.4,128.92L460.7,140.52L460.9,157.37L461.2,179.65L461.4,207.55L461.7,241.26L461.9,272.78L461.9,282.68L462.2,374.29L462.4,460.78L462.4,479.57L462.7,584.43L462.9,684.63L463.1,733.57L463.2,758.40L463.4,808.53L463.7,854.90L463.9,903.14L463.9,918.75L464.2,1013.18L464.2,1013.73L464.4,1048.09L464.5,1050.59L464.7,1054.42L464.9,1057.31L465.2,1059.10L465.3,1059.80L465.4,1060.82L465.7,1062.39L465.9,1063.74L466.2,1064.84L466.4,1065.66L466.5,1065.79L466.7,1066.25L466.9,1066.79L467.2,1067.27L467.4,1067.68L467.7,1068.00L467.9,1068.24L468.2,1068.37L468.4,1068.45L468.7,1068.51L468.9,1068.57L469.2,1068.62L469.4,1068.66L469.7,1068.69L469.9,1068.72L470.2,1068.74L470.4,1068.74L470.5,1068.74L470.7,1068.74L470.9,1068.72L471.2,1068.68L471.4,1068.63L471.7,1068.56L471.9,1068.48L472.2,1068.38L472.4,1068.28L472.7,1068.15L472.8,1068.10L472.9,1067.99L473.2,1067.66L473.4,1067.17L473.7,1066.52L473.9,1065.74L474.2,1064.84L474.3,1064.41L474.4,1063.72L474.7,1061.94L474.9,1059.56L475.1,1057.78L475.2,1056.59L475.4,1052.27L475.7,1046.79L475.8,1044.14L475.9,1040.31L476.2,1032.07L476.4,1022.87L476.6,1016.95L476.7,1013.80L476.9,1005.40L477.2,995.40L477.3,989.76L477.4,979.86L477.7,954.75L477.9,927.54L478.0,921.57L478.2,904.64L478.2,903.14L478.4,810.99L478.6,733.57L478.7,698.23L478.9,601.55L479.1,552.94L479.2,533.31L479.4,489.81L479.6,460.78L479.7,441.91L479.9,380.93L480.2,319.88L480.4,278.31L480.4,272.40L480.7,236.62L480.9,206.57L481.2,181.77L481.2,180.63L481.4,160.34L481.7,143.28L481.8,138.24L481.9,133.59L482.2,127.37L482.3,126.25L482.4,125.80L482.7,125.14L482.9,124.67L483.2,124.33L483.4,124.07L483.7,123.83L483.9,123.57L484.0,123.49L484.2,123.28L484.4,123.06L484.7,122.88L484.9,122.71L485.2,122.50L485.4,122.23L485.7,121.86L485.8,121.65L485.9,121.16L486.2,119.46L486.4,117.49L486.5,117.04L486.7,115.77L486.9,113.95L487.2,112.37L487.4,111.51L487.4,111.43L487.7,110.85L487.9,110.31L488.2,109.84L488.4,109.41L488.7,109.05L488.9,108.75L489.2,108.53L489.4,108.37L489.7,108.29L489.8,108.28L489.9,108.30L490.2,108.37L490.4,108.52L490.7,108.74L490.9,109.02L491.2,109.37L491.4,109.76L491.7,110.21L491.9,110.70L492.2,111.24L492.3,111.51L492.4,111.91L492.7,113.09L492.9,114.64L493.2,116.29L493.3,117.04L493.4,117.82L493.7,119.30L493.9,120.87L494.2,122.62L494.4,124.41L494.4,124.67L494.7,127.07L494.9,129.87L495.2,133.16L495.4,137.02L495.5,138.24L495.7,141.64L495.9,147.38L496.2,154.25L496.4,162.28L496.7,171.47L496.9,180.63L496.9,181.87L497.2,194.98L497.4,211.43L497.7,230.76L497.9,252.47L498.2,276.09L498.2,278.31L498.4,303.13L498.7,335.40L498.9,371.63L499.2,410.52L499.4,450.74L499.5,462.63L499.7,492.36L499.9,538.46L500.0,552.94L500.2,590.05L500.4,647.38L500.7,705.73L500.8,733.57L500.9,759.84L501.2,808.46L501.4,860.15L501.6,903.14L501.7,929.76L501.9,1004.51L501.9,1005.73L502.2,1014.46L502.4,1018.95L502.6,1021.10L502.7,1021.98L502.9,1024.59L503.2,1026.71L503.4,1028.41L503.7,1029.75L503.8,1030.31L503.9,1030.83L504.2,1031.85L504.4,1032.77L504.7,1033.53L504.9,1034.06L505.2,1034.27L505.2,1034.28L505.4,1034.28L505.7,1034.28L505.9,1034.28L506.2,1034.28L506.4,1034.28L506.7,1034.28L506.8,1034.28L506.9,1034.23L507.2,1033.90L507.4,1033.29L507.7,1032.46L507.9,1031.49L508.2,1030.44L508.2,1030.31L508.4,1029.14L508.7,1027.35L508.9,1025.12L509.2,1022.54L509.3,1021.10L509.4,1019.66L509.7,1016.24L509.9,1011.99L510.2,1006.63L510.3,1003.31L510.4,999.16L510.7,986.43L510.9,971.93L511.0,967.65L511.2,959.12L511.4,946.76L511.7,934.08L511.9,921.57L511.9,920.48L512.2,905.41L512.2,903.14L512.4,884.56L512.7,859.08L512.9,829.59L513.2,796.69L513.4,760.97L513.6,733.57L513.7,722.39L513.9,671.99L514.2,612.67L514.4,552.37L514.7,499.03L514.9,462.63L514.9,460.55L515.2,434.49L515.4,413.37L515.7,394.57L515.9,375.49L516.0,368.63L516.2,353.85L516.4,331.69L516.6,317.94L516.7,313.60L516.9,297.60L517.2,284.20L517.4,276.47L517.4,276.15L517.7,271.46L517.9,267.24L518.2,263.57L518.4,260.46L518.7,257.98L518.9,256.17L519.2,255.07L519.4,254.72L519.7,255.22L519.9,256.54L520.2,258.56L520.4,261.16L520.7,264.24L520.9,267.67L521.2,271.35L521.4,275.15L521.5,276.47L521.7,279.37L521.9,285.11L522.2,291.94L522.4,299.33L522.7,306.75L522.9,313.33L522.9,313.67L523.2,319.91L523.4,326.11L523.7,333.02L523.7,334.16L523.9,341.18L524.2,350.48L524.4,360.62L524.6,368.63L524.7,371.31L524.9,382.50L525.2,394.26L525.4,406.63L525.7,419.68L525.9,433.46L526.2,448.02L526.2,450.37L526.4,464.36L526.7,483.32L526.9,503.45L527.2,523.29L527.4,541.34L527.6,552.94L527.7,556.22L527.9,569.19L528.2,581.22L528.4,592.45L528.7,603.02L528.9,613.08L529.2,622.77L529.4,632.24L529.7,641.63L529.8,646.94L529.9,651.24L530.2,662.14L530.4,673.54L530.7,684.33L530.9,693.38L531.2,699.57L531.4,701.77L531.7,701.37L531.9,700.30L532.2,698.69L532.4,696.68L532.7,694.41L532.9,692.01L533.2,689.61L533.4,687.35L533.5,686.57L533.7,685.29L533.9,683.24L534.2,681.16L534.4,679.06L534.7,676.93L534.9,674.76L535.2,672.54L535.4,670.26L535.7,667.93L535.9,665.52L536.2,663.05L536.4,660.49L536.7,657.85L536.9,655.11L537.2,652.27L537.4,649.33L537.6,646.94L537.7,646.26L537.9,642.92L538.2,639.26L538.4,635.34L538.7,631.20L538.9,626.88L539.2,622.42L539.4,617.88L539.7,613.30L539.9,608.72L540.2,604.19L540.4,599.76L540.7,595.46L540.9,591.35L541.0,589.80L541.2,587.38L541.4,583.26L541.7,579.05L541.9,574.82L542.2,570.66L542.4,566.65L542.7,562.87L542.9,559.42L543.2,556.37L543.4,553.80L543.5,552.94L543.7,551.69L543.9,549.61L544.2,547.59L544.4,545.72L544.7,544.07L544.9,542.73L545.1,541.77L545.4,541.28L545.5,541.24L545.6,541.27L545.9,541.45L546.1,541.78L546.4,542.23L546.6,542.78L546.9,543.41L547.1,544.09L547.4,544.80L547.6,545.51L547.9,546.21L548.0,546.49L548.1,546.90L548.4,547.67L548.6,548.52L548.9,549.44L549.1,550.42L549.4,551.44L549.6,552.50L549.9,553.59L550.1,554.69L550.4,555.79L550.6,556.88L550.9,557.95L551.1,558.99L551.4,559.99L551.6,560.93L551.9,561.81L552.0,562.16L552.1,562.63L552.4,563.44L552.6,564.25L552.9,565.05L553.1,565.84L553.4,566.62L553.6,567.39L553.9,568.13L554.1,568.85L554.4,569.55L554.6,570.22L554.9,570.86L555.1,571.46L555.4,572.03L555.6,572.55L555.9,573.03L556.0,573.22L556.1,573.47L556.4,573.91L556.6,574.35L556.9,574.79L557.1,575.23L557.4,575.66L557.6,576.07L557.9,576.47L558.1,576.85L558.4,577.21L558.6,577.54L558.9,577.83L559.1,578.09L559.4,578.32L559.6,578.50L559.9,578.63L560.1,578.71L560.4,578.75L560.6,578.74L560.9,578.72L561.1,578.68L561.4,578.64L561.6,578.58L561.9,578.52L562.1,578.44L562.4,578.36L562.6,578.27L562.9,578.17L563.1,578.07L563.4,577.97L563.6,577.86L563.9,577.75L564.1,577.64L564.4,577.53L564.6,577.42L564.9,577.32L565.1,577.22L565.4,577.12L565.6,577.02L565.9,576.94L566.0,576.90L566.1,576.86L566.4,576.77L566.6,576.69L566.9,576.60L567.1,576.51L567.4,576.42L567.6,576.32L567.9,576.22L568.1,576.13L568.4,576.03L568.6,575.93L568.9,575.82L569.1,575.72L569.4,575.62L569.6,575.52L569.9,575.42L570.1,575.32L570.4,575.22L570.6,575.12L570.9,575.03L571.1,574.93L571.4,574.84L571.6,574.75L571.9,574.67L572.1,574.58L572.4,574.50L572.6,574.42L572.9,574.35L573.1,574.28L573.4,574.22L573.6,574.16L573.9,574.10L574.1,574.05L574.4,574.00L574.6,573.96L574.9,573.93L575.1,573.90L575.4,573.88L575.6,573.87L575.9,573.86L576.0,573.86L576.1,573.86L576.4,573.86L576.6,573.86L576.9,573.86L577.1,573.86L577.4,573.86L577.6,573.86L577.9,573.86L578.1,573.86L578.4,573.86L578.6,573.86L578.9,573.86L579.1,573.86L579.4,573.86L579.6,573.86L579.9,573.86L580.1,573.86L580.4,573.86L580.6,573.86L580.9,573.86L581.1,573.86L581.4,573.86L581.6,573.86L581.9,573.86L582.1,573.86L582.4,573.86L582.6,573.86L582.9,573.86L583.1,573.86L583.4,573.86L583.6,573.86L583.9,573.86L584.1,573.86L584.4,573.86L584.6,573.86L584.9,573.86L585.1,573.86L585.4,573.86L585.6,573.86L585.9,573.86L586.1,573.86L586.4,573.86L586.6,573.86L586.9,573.86L587.1,573.86L587.4,573.86L587.6,573.86L587.9,573.86L588.1,573.86L588.4,573.86L588.6,573.86L588.9,573.86L589.1,573.86L589.4,573.86L589.6,573.86L589.9,573.86L590.1,573.86L590.4,573.86L590.6,573.86L590.9,573.86L591.1,573.86L591.4,573.86L591.6,573.86L591.9,573.86L592.1,573.86L592.4,573.86L592.6,573.86L592.9,573.86L593.1,573.86L593.4,573.86L593.6,573.86L593.9,573.86L594.1,573.86L594.4,573.86L594.6,573.86L594.9,573.86L595.1,573.86L595.4,573.86L595.6,573.86L595.9,573.86L596.1,573.86L596.4,573.86L596.6,573.86L596.9,573.86L597.1,573.86L597.4,573.86L597.6,573.86L597.9,573.86L598.1,573.86L598.4,573.86L598.6,573.86L598.9,573.86L599.1,573.86L599.4,573.86L599.6,573.86L599.9,573.86L600.0,573.86L600.1,573.86L600.4,573.86L600.6,573.86L600.9,573.86L601.1,573.86L601.4,573.86L601.6,573.86L601.9,573.86L602.1,573.86L602.4,573.86L602.6,573.86L602.9,573.86L603.1,573.86L603.4,573.86L603.6,573.86L603.9,573.86L604.1,573.86L604.4,573.86L604.6,573.85L604.9,573.85L605.1,573.85L605.4,573.85L605.6,573.85L605.9,573.85L606.1,573.85L606.4,573.85L606.6,573.85L606.9,573.85L607.1,573.85L607.4,573.85L607.6,573.84L607.9,573.84L608.1,573.84L608.4,573.84L608.6,573.84L608.9,573.84L609.1,573.84L609.4,573.84L609.6,573.83L609.9,573.83L610.1,573.83L610.4,573.83L610.6,573.83L610.9,573.83L611.1,573.82L611.4,573.82L611.6,573.82L611.9,573.82L612.1,573.82L612.4,573.82L612.6,573.81L612.9,573.81L613.1,573.81L613.4,573.81L613.6,573.81L613.9,573.80L614.1,573.80L614.4,573.80L614.6,573.80L614.9,573.79L615.1,573.79L615.4,573.79L615.6,573.79L615.9,573.78L616.1,573.78L616.4,573.78L616.6,573.78L616.9,573.77L617.1,573.77L617.4,573.77L617.6,573.77L617.9,573.76L618.1,573.76L618.4,573.76L618.6,573.75L618.9,573.75L619.1,573.75L619.4,573.74L619.6,573.74L619.9,573.74L620.1,573.73L620.4,573.73L620.6,573.73L620.9,573.72L621.1,573.72L621.4,573.72L621.6,573.71L621.9,573.71L622.1,573.70L622.4,573.70L622.6,573.70L622.9,573.69L623.1,573.69L623.4,573.68L623.6,573.68L623.9,573.68L624.1,573.67L624.4,573.67L624.6,573.66L624.9,573.66L625.1,573.65L625.4,573.65L625.6,573.65L625.9,573.64L626.1,573.64L626.4,573.63L626.6,573.63L626.9,573.62L627.1,573.62L627.4,573.61L627.6,573.61L627.9,573.60L628.1,573.60L628.4,573.59L628.6,573.59L628.9,573.58L629.1,573.57L629.4,573.57L629.6,573.56L629.9,573.56L630.1,573.55L630.4,573.55L630.6,573.54L630.8,573.54L631.1,573.53L631.3,573.52L631.6,573.52L631.8,573.51L632.1,573.50L632.3,573.50L632.6,573.49L632.8,573.49L633.1,573.48L633.3,573.47L633.6,573.47L633.8,573.46L634.1,573.45L634.3,573.45L634.6,573.44L634.8,573.43L635.1,573.43L635.3,573.42L635.6,573.41L635.8,573.40L636.0,573.40L636.1,573.40L636.3,573.38L636.6,573.36L636.8,573.33L637.1,573.30L637.3,573.26L637.6,573.22L637.8,573.17L638.1,573.11L638.3,573.05L638.6,572.99L638.8,572.92L639.1,572.85L639.3,572.78L639.6,572.70L639.8,572.62L640.1,572.54L640.3,572.46L640.6,572.37L640.8,572.29L641.1,572.20L641.3,572.12L641.6,572.03L641.8,571.95L642.1,571.87L642.3,571.78L642.6,571.70L642.8,571.62L643.1,571.55L643.3,571.47L643.6,571.40L643.8,571.33L644.1,571.27L644.3,571.21L644.6,571.15L644.8,571.10L645.1,571.06L645.3,571.02L645.6,570.98L645.8,570.96L646.1,570.93L646.3,570.92L646.6,570.91L646.7,570.91L646.8,570.91L647.1,570.92L647.3,570.94L647.6,570.96L647.8,570.99L648.1,571.02L648.3,571.06L648.6,571.11L648.8,571.16L649.1,571.21L649.3,571.27L649.6,571.33L649.8,571.40L650.1,571.47L650.3,571.54L650.6,571.61L650.8,571.68L651.1,571.76L651.3,571.83L651.6,571.90L651.8,571.98L652.1,572.05L652.3,572.12L652.6,572.19L652.8,572.26L653.1,572.33L653.3,572.39L653.6,572.45L653.8,572.50L654.1,572.55L654.3,572.60L654.6,572.64L654.8,572.68L655.1,572.70L655.3,572.73L655.6,572.74L655.8,572.75L656.0,572.75L656.1,572.75L656.3,572.75L656.6,572.75L656.8,572.75L657.1,572.75L657.3,572.75L657.6,572.75L657.8,572.75L658.1,572.75L658.3,572.75L658.6,572.75L658.8,572.75L659.1,572.75L659.3,572.75L659.6,572.75L659.8,572.75L660.1,572.75L660.3,572.75L660.6,572.75L660.8,572.75L661.1,572.75L661.3,572.75L661.6,572.75L661.8,572.75L662.1,572.75L662.3,572.75L662.6,572.75L662.8,572.75L663.1,572.75L663.3,572.75L663.6,572.75L663.8,572.75L664.1,572.75L664.3,572.75L664.6,572.75L664.8,572.75L665.1,572.75L665.3,572.75L665.6,572.75L665.8,572.75L666.1,572.75L666.3,572.75L666.6,572.75L666.8,572.75L667.1,572.75L667.3,572.75L667.6,572.75L667.8,572.75L668.1,572.75L668.3,572.75L668.6,572.75L668.8,572.75L669.1,572.75L669.3,572.75L669.6,572.75L669.8,572.75L670.1,572.75L670.3,572.75L670.6,572.75L670.8,572.75L671.1,572.75L671.3,572.75L671.6,572.75L671.8,572.75L672.1,572.75L672.3,572.75L672.6,572.75L672.8,572.75L673.1,572.75L673.3,572.75L673.6,572.75L673.8,572.75L674.1,572.75L674.3,572.75L674.6,572.75L674.8,572.75L675.1,572.75L675.3,572.75L675.6,572.75L675.8,572.75L676.1,572.75L676.3,572.75L676.6,572.75L676.8,572.75L677.1,572.75L677.3,572.75L677.6,572.75L677.8,572.75L678.1,572.75L678.3,572.75L678.6,572.75L678.8,572.75L679.1,572.75L679.3,572.75L679.6,572.75L679.8,572.75L680.1,572.75L680.3,572.75L680.6,572.75L680.8,572.75L681.1,572.75L681.3,572.75L681.6,572.75L681.8,572.75L682.1,572.75L682.3,572.75L682.6,572.75L682.8,572.75L683.1,572.75L683.3,572.75L683.6,572.75L683.8,572.75L684.1,572.75L684.3,572.75L684.6,572.75L684.8,572.75L685.1,572.75L685.3,572.75L685.6,572.75L685.8,572.75L686.1,572.75L686.3,572.75L686.6,572.75L686.8,572.75L687.1,572.75L687.3,572.75L687.6,572.75L687.8,572.75L688.1,572.75L688.3,572.75L688.6,572.75L688.8,572.75L689.1,572.75L689.3,572.75L689.6,572.75L689.8,572.75L690.1,572.75L690.3,572.75L690.6,572.75L690.8,572.75L691.1,572.75L691.3,572.75L691.6,572.75L691.8,572.75L692.1,572.75L692.3,572.75L692.6,572.75L692.8,572.75L693.1,572.75L693.3,572.75L693.6,572.75L693.8,572.75L694.1,572.75L694.3,572.75L694.6,572.75L694.8,572.75L695.1,572.75L695.3,572.75L695.6,572.75L695.8,572.75L696.1,572.75L696.3,572.75L696.6,572.75L696.8,572.75L697.1,572.75L697.3,572.75L697.6,572.75L697.8,572.75L698.1,572.75L698.3,572.75L698.6,572.75L698.8,572.75L699.1,572.75L699.3,572.75L699.6,572.75L699.8,572.75L700.0,572.75L700.1,572.75L700.3,572.75L700.6,572.75L700.8,572.75L701.1,572.75L701.3,572.75L701.6,572.75L701.8,572.75L702.1,572.75L702.3,572.75L702.6,572.75L702.8,572.75L703.1,572.75L703.3,572.75L703.6,572.75L703.8,572.75L704.1,572.75L704.3,572.75L704.6,572.75L704.8,572.75L705.1,572.75L705.3,572.75L705.6,572.75L705.8,572.75L706.1,572.75L706.3,572.75L706.6,572.75L706.8,572.75L707.1,572.75L707.3,572.75L707.6,572.75L707.8,572.75L708.1,572.75L708.3,572.75L708.6,572.75L708.8,572.75L709.1,572.75L709.3,572.75L709.6,572.75L709.8,572.75L710.1,572.75L710.3,572.75L710.6,572.75L710.8,572.75L711.1,572.75L711.3,572.75L711.6,572.75L711.8,572.75L712.1,572.75L712.3,572.75L712.6,572.75L712.8,572.75L713.1,572.75L713.3,572.75L713.6,572.75L713.8,572.75L714.1,572.75L714.3,572.75L714.6,572.75L714.8,572.75L715.1,572.75L715.3,572.75L715.6,572.75L715.8,572.75L716.1,572.75L716.3,572.75L716.6,572.75L716.8,572.75L717.0,572.75L717.3,572.75L717.5,572.75L717.8,572.75L718.0,572.75L718.3,572.75L718.5,572.75L718.8,572.75L719.0,572.75L719.3,572.75L719.5,572.75L719.8,572.75L720.0,572.75L720.3,572.75L720.5,572.75L720.8,572.75L721.0,572.75L721.3,572.75L721.5,572.75L721.8,572.75L722.0,572.75L722.3,572.75L722.5,572.75L722.8,572.75L723.0,572.75L723.3,572.75L723.5,572.75L723.8,572.75L724.0,572.75L724.3,572.75L724.5,572.75L724.8,572.75L725.0,572.75L725.3,572.75L725.5,572.75L725.8,572.75L726.0,572.75L726.3,572.75L726.5,572.75L726.8,572.75L727.0,572.75L727.3,572.75L727.5,572.75L727.8,572.75L728.0,572.75L728.3,572.75L728.5,572.75L728.8,572.75L729.0,572.75L729.3,572.75L729.5,572.75L729.8,572.75L730.0,572.75L730.3,572.75L730.5,572.75L730.8,572.75L731.0,572.75L731.3,572.75L731.5,572.75L731.8,572.75L732.0,572.75L732.3,572.75L732.5,572.75L732.8,572.75L733.0,572.75L733.3,572.75L733.5,572.75L733.8,572.75L734.0,572.75L734.3,572.75L734.5,572.75L734.8,572.75L735.0,572.75L735.3,572.75L735.5,572.75L735.8,572.75L736.0,572.75L736.3,572.75L736.5,572.75L736.8,572.75L737.0,572.75L737.3,572.75L737.5,572.75L737.8,572.75L738.0,572.75L738.3,572.75L738.5,572.75L738.8,572.75L739.0,572.75L739.3,572.75L739.5,572.75L739.8,572.75L740.0,572.75L740.3,572.75L740.5,572.75L740.8,572.75L741.0,572.75L741.3,572.75L741.5,572.75L741.8,572.75L742.0,572.75L742.3,572.75L742.5,572.75L742.8,572.75L743.0,572.75L743.3,572.75L743.5,572.75L743.8,572.75L744.0,572.75L744.3,572.75L744.5,572.75L744.8,572.75L745.0,572.75L745.3,572.75L745.5,572.75L745.8,572.75L746.0,572.75L746.3,572.75L746.5,572.75L746.8,572.75L747.0,572.75L747.3,572.75L747.5,572.75L747.8,572.75L748.0,572.75L748.3,572.75L748.5,572.75L748.8,572.75L749.0,572.75L749.3,572.75L749.5,572.75L749.8,572.75L750.0,572.75L750.3,572.75L750.5,572.75L750.8,572.75L751.0,572.75L751.3,572.75L751.5,572.75L751.8,572.75L752.0,572.75L752.3,572.75L752.5,572.75L752.8,572.75L753.0,572.75L753.3,572.75L753.5,572.75L753.8,572.75L754.0,572.75L754.3,572.75L754.5,572.75L754.8,572.75L755.0,572.75L755.3,572.75L755.5,572.75L755.8,572.75L756.0,572.75L756.3,572.75L756.5,572.75L756.8,572.75L757.0,572.75L757.3,572.75L757.5,572.75L757.8,572.75L758.0,572.75L758.3,572.75L758.5,572.75L758.8,572.75L759.0,572.75L759.3,572.75L759.5,572.75L759.8,572.75L760.0,572.75L760.3,572.75L760.5,572.75L760.8,572.75L761.0,572.75L761.3,572.75L761.5,572.75L761.8,572.75L762.0,572.75L762.3,572.75L762.5,572.75L762.8,572.75L763.0,572.75L763.3,572.75L763.5,572.75L763.8,572.75L764.0,572.75L764.3,572.75L764.5,572.75L764.8,572.75L765.0,572.75L765.3,572.75L765.5,572.75L765.8,572.75L766.0,572.75L766.3,572.75L766.5,572.75L766.8,572.75L767.0,572.75L767.3,572.75L767.5,572.75L767.8,572.75L768.0,572.75L768.3,572.75L768.5,572.75L768.8,572.75L769.0,572.75L769.3,572.75L769.5,572.75L769.8,572.75L770.0,572.75L770.3,572.75L770.5,572.75L770.8,572.75L771.0,572.75L771.3,572.75L771.5,572.75L771.8,572.75L772.0,572.75L772.3,572.75L772.5,572.75L772.8,572.75L773.0,572.75L773.3,572.75L773.5,572.75L773.8,572.75L774.0,572.75L774.3,572.75L774.5,572.75L774.8,572.75L775.0,572.75L775.3,572.75L775.5,572.75L775.8,572.75L776.0,572.75L776.3,572.75L776.5,572.75L776.8,572.75L777.0,572.75L777.3,572.75L777.5,572.75L777.8,572.75L778.0,572.75L778.3,572.75L778.5,572.75L778.8,572.75L779.0,572.75L779.3,572.75L779.5,572.75L779.8,572.75L780.0,572.75L780.3,572.75L780.5,572.75L780.8,572.75L781.0,572.75L781.3,572.75L781.5,572.75L781.8,572.75L782.0,572.75L782.3,572.75L782.5,572.75L782.8,572.75L783.0,572.75L783.3,572.75L783.5,572.75L783.8,572.75L784.0,572.75L784.3,572.75L784.5,572.75L784.8,572.75L785.0,572.75L785.3,572.75L785.5,572.75L785.8,572.75L786.0,572.75L786.3,572.75L786.5,572.75L786.8,572.75L787.0,572.75L787.3,572.75L787.5,572.75L787.8,572.75L788.0,572.75L788.3,572.75L788.5,572.75L788.8,572.75L789.0,572.75L789.3,572.75L789.5,572.75L789.8,572.75L790.0,572.75L790.3,572.75L790.5,572.75L790.8,572.75L791.0,572.75L791.3,572.75L791.5,572.75L791.8,572.75L792.0,572.75L792.3,572.75L792.5,572.75L792.8,572.75L793.0,572.75L793.3,572.75L793.5,572.75L793.8,572.75L794.0,572.75L794.3,572.75L794.5,572.75L794.8,572.75L795.0,572.75L795.3,572.75L795.5,572.75L795.8,572.75L796.0,572.75L796.3,572.75L796.5,572.75L796.8,572.75L797.0,572.75L797.3,572.75L797.5,572.75L797.8,572.75L798.0,572.75L798.3,572.75L798.5,572.75L798.8,572.75L799.0,572.75L799.3,572.75L799.5,572.75L799.8,572.75L800.0,572.75L800.3,572.75L800.5,572.75L800.8,572.75L801.0,572.75L801.3,572.75L801.5,572.75L801.8,572.75L802.0,572.75L802.3,572.75L802.5,572.75L802.7,572.75L803.0,572.75L803.2,572.75L803.5,572.75L803.7,572.75L804.0,572.75L804.2,572.75L804.5,572.75L804.7,572.75L805.0,572.75L805.2,572.75L805.5,572.75L805.7,572.75L806.0,572.75L806.2,572.75L806.5,572.75L806.7,572.75L807.0,572.75L807.2,572.75L807.5,572.75L807.7,572.75L808.0,572.75L808.2,572.75L808.5,572.75L808.7,572.75L809.0,572.75L809.2,572.75L809.5,572.75L809.7,572.75L810.0,572.75L810.2,572.75L810.5,572.75L810.7,572.75L811.0,572.75L811.2,572.75L811.5,572.75L811.7,572.75L812.0,572.75L812.2,572.75L812.5,572.75L812.7,572.75L813.0,572.75L813.2,572.75L813.5,572.75L813.7,572.75L814.0,572.75L814.2,572.75L814.5,572.75L814.7,572.75L815.0,572.75L815.2,572.75L815.5,572.75L815.7,572.75L816.0,572.75L816.2,572.75L816.5,572.75L816.7,572.75L817.0,572.75L817.2,572.75L817.5,572.75L817.7,572.75L818.0,572.75L818.2,572.75L818.5,572.75L818.7,572.75L819.0,572.75L819.2,572.75L819.5,572.75L819.7,572.75L820.0,572.75L820.2,572.75L820.5,572.75L820.7,572.75L821.0,572.75L821.2,572.75L821.5,572.75L821.7,572.75L822.0,572.75L822.2,572.75L822.5,572.75L822.7,572.75L823.0,572.75L823.2,572.75L823.5,572.75L823.7,572.75L824.0,572.75L824.2,572.75L824.5,572.75L824.7,572.75L825.0,572.75L825.2,572.75L825.5,572.75L825.7,572.75L826.0,572.75L826.2,572.75L826.5,572.75L826.7,572.75L827.0,572.75L827.2,572.75L827.5,572.75L827.7,572.75L828.0,572.75L828.2,572.75L828.5,572.75L828.7,572.75L829.0,572.75L829.2,572.75L829.5,572.75L829.7,572.75L830.0,572.75L830.2,572.75L830.5,572.75L830.7,572.75L831.0,572.75L831.2,572.75L831.5,572.75L831.7,572.75L832.0,572.75L832.2,572.75L832.5,572.75L832.7,572.75L833.0,572.75L833.2,572.75L833.5,572.75L833.7,572.75L834.0,572.75L834.2,572.75L834.5,572.75L834.7,572.75L835.0,572.75L835.2,572.75L835.5,572.75L835.7,572.75L836.0,572.75L836.2,572.75L836.5,572.75L836.7,572.75L837.0,572.75L837.2,572.75L837.5,572.75L837.7,572.75L838.0,572.75L838.2,572.75L838.5,572.75L838.7,572.75L839.0,572.75L839.2,572.75L839.5,572.75L839.7,572.75L840.0,572.75L840.2,572.75L840.5,572.75L840.7,572.75L841.0,572.75L841.2,572.75L841.5,572.75L841.7,572.75L842.0,572.75L842.2,572.75L842.5,572.75L842.7,572.75L843.0,572.75L843.2,572.75L843.5,572.75L843.7,572.75L844.0,572.75L844.2,572.75L844.5,572.75L844.7,572.75L845.0,572.75L845.2,572.75L845.5,572.75L845.7,572.75L846.0,572.75L846.2,572.75L846.5,572.75L846.7,572.75L847.0,572.75L847.2,572.75L847.5,572.75L847.7,572.75L848.0,572.75L848.2,572.75L848.5,572.75L848.7,572.75L849.0,572.75L849.2,572.75L849.5,572.75L849.7,572.75L850.0,572.75L850.2,572.75L850.5,572.75L850.7,572.75L851.0,572.75L851.2,572.75L851.5,572.75L851.7,572.75L852.0,572.75L852.2,572.75L852.5,572.75L852.7,572.75L853.0,572.75L853.2,572.75L853.5,572.75L853.7,572.75L854.0,572.75L854.2,572.75L854.5,572.75L854.7,572.75L855.0,572.75L855.2,572.75L855.5,572.75L855.7,572.75L856.0,572.75L856.2,572.75L856.5,572.75L856.7,572.75L857.0,572.75L857.2,572.75L857.5,572.75L857.7,572.75L858.0,572.75L858.2,572.75L858.5,572.75L858.7,572.75L859.0,572.75L859.2,572.75L859.5,572.75L859.7,572.75L860.0,572.75L860.2,572.75L860.5,572.75L860.7,572.75L861.0,572.75L861.2,572.75L861.5,572.75L861.7,572.75L862.0,572.75L862.2,572.75L862.5,572.75L862.7,572.75L863.0,572.75L863.2,572.75L863.5,572.75L863.7,572.75L864.0,572.75L864.2,572.75L864.5,572.75L864.7,572.75L865.0,572.75L865.2,572.75L865.5,572.75L865.7,572.75L866.0,572.75L866.2,572.75L866.5,572.75L866.7,572.75L867.0,572.75L867.2,572.75L867.5,572.75L867.7,572.75L868.0,572.75L868.2,572.75L868.5,572.75L868.7,572.75L869.0,572.75L869.2,572.75L869.5,572.75L869.7,572.75L870.0,572.75L870.2,572.75L870.5,572.75L870.7,572.75L871.0,572.75L871.2,572.75L871.5,572.75L871.7,572.75L872.0,572.75L872.2,572.75L872.5,572.75L872.7,572.75L873.0,572.75L873.2,572.75L873.5,572.75L873.7,572.75L874.0,572.75L874.2,572.75L874.5,572.75L874.7,572.75L875.0,572.75L875.2,572.75L875.5,572.75L875.7,572.75L876.0,572.75L876.2,572.75L876.5,572.75L876.7,572.75L877.0,572.75L877.2,572.75L877.5,572.75L877.7,572.75L878.0,572.75L878.2,572.75L878.5,572.75L878.7,572.75L879.0,572.75L879.2,572.75L879.5,572.75L879.7,572.75L880.0,572.75L880.2,572.75L880.5,572.75L880.7,572.75L881.0,572.75L881.2,572.75L881.5,572.75L881.7,572.75L882.0,572.75L882.2,572.75L882.5,572.75L882.7,572.75L883.0,572.75L883.2,572.75L883.5,572.75L883.7,572.75L884.0,572.75L884.2,572.75L884.5,572.75L884.7,572.75L885.0,572.75L885.2,572.75L885.5,572.75L885.7,572.75L886.0,572.75L886.2,572.75L886.5,572.75L886.7,572.75L887.0,572.75L887.2,572.75L887.5,572.75L887.7,572.75L888.0,572.75L888.2,572.75L890.6,1068.65L942.4,1068.65L942.6,1066.28L942.9,1063.71L943.1,1060.96L943.4,1058.06L943.6,1055.02L943.9,1051.88L944.0,1050.59L944.1,1048.91L944.4,1046.23L944.6,1041.78L944.7,1040.45L944.9,1017.77L945.1,953.01L945.3,903.14L945.4,853.04L945.6,733.57L945.6,716.33L945.9,648.80L946.1,593.61L946.3,552.94L946.4,520.62L946.6,426.56L946.8,368.63L946.9,330.44L947.1,230.79L947.3,184.31L947.4,160.10L947.6,129.02L947.6,128.51L947.9,126.53L948.1,125.39L948.4,124.69L948.6,124.03L948.8,123.49L948.9,123.09L949.1,122.08L949.4,121.12L949.6,120.18L949.9,119.26L950.1,118.34L950.4,117.42L950.5,117.04L950.6,116.47L950.9,115.43L951.1,114.34L951.4,113.25L951.6,112.21L951.9,111.27L952.1,110.47L952.4,109.85L952.5,109.67L952.6,109.44L952.9,109.06L953.1,108.71L953.4,108.43L953.6,108.22L953.9,108.11L954.0,108.10L954.1,108.10L954.4,108.10L954.6,108.10L954.9,108.10L955.1,108.10L955.4,108.10L955.6,108.10L955.9,108.10L956.1,108.10L956.4,108.10L956.6,108.10L956.9,108.10L957.1,108.10L957.4,108.10L957.5,108.10L957.6,108.13L957.9,108.30L958.1,108.62L958.4,109.08L958.6,109.66L958.9,110.35L959.1,111.15L959.4,112.03L959.5,112.43L959.6,113.07L959.9,114.69L960.1,116.99L960.4,120.03L960.6,123.87L960.9,128.57L961.1,134.19L961.3,138.24L961.4,141.93L961.6,162.31L961.9,193.35L962.1,229.37L962.4,264.67L962.5,278.31L962.6,294.67L962.9,321.79L963.1,348.31L963.4,376.12L963.6,407.07L963.9,443.06L964.0,460.78L964.1,489.29L964.4,550.74L964.4,552.94L964.6,617.73L964.9,686.99L965.1,733.57L965.1,740.70L965.4,778.71L965.6,809.69L965.9,837.75L966.1,867.02L966.4,901.60L966.4,903.14L966.6,951.92L966.9,1001.87L967.0,1013.73L967.1,1022.00L967.4,1034.26L967.6,1043.56L967.9,1050.19L968.1,1054.47L968.2,1055.20L968.4,1057.16L968.6,1059.43L968.9,1061.36L969.1,1062.96L969.4,1064.25L969.6,1065.26L969.9,1066.01L970.0,1066.25L970.1,1066.53L970.4,1067.00L970.6,1067.43L970.9,1067.81L971.1,1068.13L971.4,1068.38L971.6,1068.55L971.9,1068.64L972.0,1068.65L972.1,1068.65L972.4,1068.65L972.6,1068.65L972.9,1068.65L973.1,1068.65L973.4,1068.65L973.6,1068.65L973.9,1068.65L974.1,1068.65L974.4,1068.65L974.6,1068.65L974.9,1068.65L975.1,1068.65L975.4,1068.65L975.6,1068.65L975.9,1068.65L976.1,1068.65L976.4,1068.65L976.6,1068.65L976.9,1068.65L977.1,1068.65L977.4,1068.65L977.6,1068.65L977.9,1068.65L978.0,1068.65L978.1,1068.64L978.4,1068.56L978.6,1068.40L978.9,1068.18L979.1,1067.89L979.4,1067.54L979.6,1067.13L979.9,1066.67L980.1,1066.16L980.4,1065.60L980.5,1065.33L980.6,1064.95L980.9,1063.91L981.1,1062.45L981.4,1060.59L981.6,1058.34L981.9,1055.72L982.1,1052.75L982.3,1050.59L982.4,1049.32L982.6,1043.97L982.9,1036.69L983.1,1027.99L983.4,1018.38L983.5,1013.73L983.6,1008.46L983.9,998.58L984.1,987.98L984.4,975.78L984.6,961.10L984.9,943.09L985.1,920.85L985.3,903.14L985.4,890.51L985.6,822.53L985.9,739.14L985.9,733.57L986.1,656.14L986.4,566.43L986.6,481.57L986.7,460.78L986.9,408.37L987.1,341.25L987.4,282.29L987.4,278.31L987.6,226.42L987.9,180.46L988.0,169.57L988.1,163.45L988.4,153.98L988.6,146.88L988.9,141.56L989.1,137.43L989.4,133.89L989.4,133.63L989.6,130.54L989.9,127.38L990.1,124.44L990.4,121.75L990.6,119.33L990.9,117.22L991.1,115.42L991.4,113.98L991.6,112.92L991.8,112.43L991.9,112.25L992.1,111.69L992.4,111.17L992.6,110.68L992.9,110.23L993.1,109.82L993.4,109.44L993.6,109.11L993.9,108.82L994.1,108.58L994.4,108.39L994.6,108.24L994.9,108.14L995.1,108.10L995.2,108.10L995.4,108.13L995.6,108.28L995.9,108.55L996.1,108.93L996.4,109.42L996.6,110.01L996.9,110.71L997.1,111.50L997.4,112.38L997.6,113.34L997.9,114.39L998.1,115.51L998.4,116.71L998.6,117.97L998.8,118.88L998.9,119.33L999.1,121.35L999.4,124.11L999.6,127.50L999.9,131.40L1000.1,135.70L1000.4,140.28L1000.4,140.72L1000.6,145.27L1000.9,151.41L1001.1,159.38L1001.2,162.20L1001.4,171.08L1001.6,189.39L1001.9,212.54L1002.1,238.51L1002.4,265.28L1002.5,278.31L1002.6,291.12L1002.9,316.80L1003.1,343.54L1003.4,372.39L1003.6,404.42L1003.9,440.68L1004.0,460.78L1004.1,484.86L1004.4,548.37L1004.6,620.74L1004.9,688.23L1005.1,733.57L1005.1,737.22L1005.4,772.17L1005.6,802.56L1005.9,829.31L1006.1,853.31L1006.4,875.47L1006.6,896.69L1006.7,903.14L1006.9,918.04L1007.1,939.68L1007.4,960.09L1007.6,977.67L1007.9,990.82L1008.0,995.29L1008.1,998.75L1008.4,1005.41L1008.6,1011.43L1008.9,1016.64L1009.1,1020.88L1009.4,1023.98L1009.6,1025.78L1009.8,1026.17L1009.9,1026.10L1010.1,1024.87L1010.4,1022.36L1010.6,1018.93L1010.9,1014.91L1011.1,1010.66L1011.4,1006.50L1011.5,1004.51L1011.6,1002.66L1011.9,998.63L1012.1,994.34L1012.4,989.82L1012.6,985.14L1012.9,980.33L1013.1,975.46L1013.4,970.56L1013.6,965.68L1013.9,960.87L1014.0,958.43L1014.1,956.27L1014.4,952.34L1014.6,948.96L1014.9,945.88L1015.1,942.88L1015.4,939.73L1015.6,936.18L1015.9,932.00L1016.1,926.97L1016.4,920.84L1016.6,913.38L1016.9,904.36L1016.9,903.14L1017.1,879.06L1017.4,826.78L1017.6,768.14L1017.8,733.57L1017.9,723.01L1018.1,687.00L1018.4,653.84L1018.6,622.67L1018.9,592.61L1019.1,562.78L1019.2,552.94L1019.4,532.32L1019.6,501.93L1019.9,473.87L1020.0,460.78L1020.1,450.21L1020.4,430.22L1020.6,412.17L1020.9,394.44L1021.1,375.44L1021.2,368.63L1021.4,352.80L1021.6,328.81L1021.7,322.55L1021.9,311.38L1022.1,297.23L1022.3,291.22L1022.4,289.98L1022.6,285.83L1022.9,282.50L1023.1,280.13L1023.4,278.86L1023.5,278.68L1023.6,278.80L1023.9,279.79L1024.1,281.62L1024.4,284.12L1024.6,287.10L1024.9,290.38L1025.1,293.77L1025.2,294.90L1025.4,297.39L1025.6,302.03L1025.9,307.44L1026.1,313.32L1026.4,319.35L1026.5,322.55L1026.6,325.24L1026.9,330.99L1027.1,336.88L1027.4,343.20L1027.6,350.21L1027.9,358.19L1027.9,359.41L1028.1,368.03L1028.4,380.23L1028.6,393.74L1028.9,407.51L1029.0,414.71L1029.1,420.64L1029.4,433.78L1029.6,447.13L1029.9,460.66L1029.9,462.63L1030.1,474.69L1030.4,489.45L1030.6,504.49L1030.9,519.32L1031.1,533.48L1031.4,546.48L1031.5,552.94L1031.6,558.06L1031.9,569.22L1032.1,580.13L1032.4,590.70L1032.6,600.83L1032.9,610.45L1033.1,619.45L1033.4,627.74L1033.6,635.25L1033.9,641.86L1034.0,645.10L1034.1,647.62L1034.4,653.28L1034.6,658.91L1034.9,664.40L1035.1,669.63L1035.4,674.48L1035.6,678.86L1035.9,682.64L1036.1,685.72L1036.4,687.97L1036.6,689.30L1036.8,689.61L1036.9,689.59L1037.1,689.01L1037.4,687.77L1037.6,686.00L1037.9,683.84L1038.1,681.41L1038.4,678.87L1038.6,676.34L1038.9,673.96L1039.0,672.75L1039.1,671.83L1039.4,669.76L1039.6,667.69L1039.9,665.61L1040.1,663.50L1040.4,661.35L1040.6,659.14L1040.9,656.86L1041.1,654.48L1041.4,652.01L1041.6,649.42L1041.9,646.70L1042.0,645.10L1042.1,643.80L1042.4,640.57L1042.6,637.01L1042.9,633.19L1043.1,629.17L1043.4,625.02L1043.6,620.81L1043.9,616.58L1044.1,612.42L1044.4,608.38L1044.6,604.53L1044.9,600.93L1045.0,599.02L1045.1,597.61L1045.4,594.28L1045.6,590.93L1045.9,587.58L1046.1,584.29L1046.4,581.08L1046.6,578.00L1046.9,575.08L1047.1,572.36L1047.4,569.89L1047.6,567.70L1047.9,565.83L1048.0,564.92L1048.1,564.29L1048.4,562.79L1048.6,561.33L1048.9,559.96L1049.1,558.72L1049.4,557.67L1049.6,556.86L1049.9,556.35L1050.1,556.17L1050.4,556.24L1050.6,556.45L1050.9,556.77L1051.1,557.18L1051.4,557.66L1051.6,558.20L1051.9,558.78L1052.1,559.38L1052.4,559.97L1052.5,560.31L1052.6,560.57L1052.9,561.26L1053.1,562.06L1053.4,562.95L1053.6,563.91L1053.9,564.93L1054.1,565.98L1054.4,567.05L1054.6,568.12L1054.9,569.17L1055.1,570.18L1055.4,571.13L1055.6,572.01L1055.9,572.80L1056.0,573.22L1056.1,573.49L1056.4,574.17L1056.6,574.86L1056.9,575.55L1057.1,576.24L1057.4,576.94L1057.6,577.63L1057.9,578.31L1058.1,578.99L1058.4,579.65L1058.6,580.29L1058.9,580.92L1059.1,581.53L1059.4,582.11L1059.6,582.66L1059.9,583.18L1060.1,583.67L1060.4,584.12L1060.6,584.53L1060.9,584.90L1061.1,585.22L1061.4,585.49L1061.6,585.71L1061.9,585.87L1062.1,585.98L1062.4,586.02L1062.4,586.03L1062.6,586.02L1062.9,586.00L1063.1,585.96L1063.4,585.91L1063.6,585.85L1063.8,585.77L1064.1,585.69L1064.3,585.59L1064.6,585.48L1064.8,585.36L1065.1,585.24L1065.3,585.11L1065.6,584.97L1065.8,584.83L1066.1,584.68L1066.3,584.52L1066.6,584.37L1066.8,584.21L1067.1,584.06L1067.3,583.90L1067.6,583.74L1067.8,583.58L1068.1,583.43L1068.3,583.28L1068.6,583.13L1068.8,582.99L1069.1,582.86L1069.3,582.73L1069.6,582.61L1069.8,582.50L1070.0,582.43L1070.1,582.39L1070.3,582.29L1070.6,582.18L1070.8,582.07L1071.1,581.96L1071.3,581.84L1071.6,581.73L1071.8,581.61L1072.1,581.49L1072.3,581.37L1072.6,581.25L1072.8,581.14L1073.1,581.02L1073.3,580.90L1073.6,580.78L1073.8,580.66L1074.1,580.55L1074.3,580.44L1074.6,580.33L1074.8,580.22L1075.1,580.11L1075.3,580.01L1075.6,579.91L1075.8,579.81L1076.1,579.72L1076.3,579.63L1076.6,579.55L1076.8,579.47L1077.1,579.40L1077.3,579.33L1077.6,579.27L1077.8,579.21L1078.1,579.17L1078.3,579.12L1078.6,579.09L1078.8,579.06L1079.1,579.04L1079.3,579.03L1079.6,579.02L1079.8,579.02L1080.1,579.02L1080.3,579.02L1080.6,579.02L1080.8,579.02L1081.1,579.02L1081.3,579.02L1081.6,579.02L1081.8,579.02L1082.1,579.02L1082.3,579.02L1082.6,579.02L1082.8,579.02L1083.1,579.02L1083.3,579.02L1083.6,579.02L1083.8,579.02L1084.1,579.02L1084.3,579.02L1084.6,579.02L1084.8,579.02L1085.1,579.02L1085.3,579.02L1085.6,579.02L1085.8,579.02L1086.1,579.02L1086.3,579.02L1086.6,579.02L1086.8,579.02L1087.1,579.02L1087.3,579.02L1087.6,579.02L1087.8,579.02L1088.1,579.02L1088.3,579.02L1088.6,579.02L1088.8,579.02L1089.1,579.02L1089.3,579.02L1089.6,579.02L1089.8,579.02L1090.1,579.02L1090.3,579.02L1090.6,579.02L1090.8,579.02L1091.1,579.02L1091.3,579.02L1091.6,579.02L1091.8,579.02L1092.1,579.02L1092.3,579.02L1092.6,579.02L1092.8,579.02L1093.1,579.02L1093.3,579.02L1093.6,579.02L1093.8,579.02L1094.1,579.02L1094.3,579.02L1094.6,579.02L1094.8,579.02L1095.1,579.02L1095.3,579.02L1095.6,579.02L1095.8,579.02L1096.1,579.02L1096.3,579.02L1096.6,579.02L1096.8,579.02L1097.1,579.02L1097.3,579.02L1097.6,579.02L1097.8,579.02L1098.1,579.02L1098.3,579.02L1098.6,579.02L1098.8,579.02L1099.1,579.02L1099.3,579.02L1099.6,579.02L1099.8,579.02L1100.0,579.02L1100.1,579.02L1100.3,579.02L1100.6,579.02L1100.8,579.02L1101.1,579.02L1101.3,579.02L1101.6,579.02L1101.8,579.02L1102.1,579.02L1102.3,579.02L1102.6,579.02L1102.8,579.02L1103.1,579.02L1103.3,579.02L1103.6,579.02L1103.8,579.02L1104.1,579.02L1104.3,579.02L1104.6,579.02L1104.8,579.02L1105.1,579.02L1105.3,579.02L1105.6,579.02L1105.8,579.02L1106.1,579.02L1106.3,579.02L1106.6,579.02L1106.8,579.02L1107.1,579.02L1107.3,579.02L1107.6,579.02L1107.8,579.02L1108.1,579.02L1108.3,579.02L1108.6,579.02L1108.8,579.02L1109.1,579.02L1109.3,579.02L1109.6,579.02L1109.8,579.02L1110.1,579.02L1110.3,579.02L1110.6,579.02L1110.8,579.02L1111.1,579.02L1111.3,579.02L1111.6,579.02L1111.8,579.02L1112.1,579.03L1112.3,579.03L1112.6,579.03L1112.8,579.03L1113.1,579.03L1113.3,579.03L1113.6,579.03L1113.8,579.03L1114.1,579.03L1114.3,579.03L1114.6,579.03L1114.8,579.03L1115.1,579.03L1115.3,579.03L1115.6,579.03L1115.8,579.03L1116.1,579.03L1116.3,579.03L1116.6,579.03L1116.8,579.03L1117.1,579.03L1117.3,579.03L1117.6,579.03L1117.8,579.03L1118.1,579.03L1118.3,579.03L1118.6,579.03L1118.8,579.03L1119.1,579.03L1119.3,579.03L1119.6,579.03L1119.8,579.03L1120.1,579.03L1120.3,579.03L1120.6,579.03L1120.8,579.03L1121.1,579.03L1121.3,579.03L1121.6,579.03L1121.8,579.03L1122.1,579.03L1122.3,579.03L1122.6,579.03L1122.8,579.04L1123.1,579.04L1123.3,579.04L1123.6,579.04L1123.8,579.04L1124.1,579.04L1124.3,579.04L1124.6,579.04L1124.8,579.04L1125.1,579.04L1125.3,579.04L1125.6,579.04L1125.8,579.04L1126.1,579.04L1126.3,579.04L1126.6,579.04L1126.8,579.04L1127.1,579.04L1127.3,579.04L1127.6,579.04L1127.8,579.04L1128.1,579.04L1128.3,579.04L1128.6,579.04L1128.8,579.04L1129.1,579.04L1129.3,579.04L1129.6,579.05L1129.8,579.05L1130.1,579.05L1130.3,579.05L1130.6,579.05L1130.8,579.05L1131.1,579.05L1131.3,579.05L1131.6,579.05L1131.8,579.05L1132.1,579.05L1132.3,579.05L1132.6,579.05L1132.8,579.05L1133.1,579.05L1133.3,579.05L1133.6,579.05L1133.8,579.05L1134.1,579.05L1134.3,579.05L1134.6,579.06L1134.8,579.06L1135.1,579.06L1135.3,579.06L1135.6,579.06L1135.8,579.06L1136.1,579.06L1136.3,579.06L1136.6,579.06L1136.8,579.06L1137.1,579.06L1137.3,579.06L1137.6,579.06L1137.8,579.06L1138.1,579.06L1138.3,579.06L1138.6,579.06L1138.8,579.07L1139.1,579.07L1139.3,579.07L1139.6,579.07L1139.8,579.07L1140.1,579.07L1140.3,579.07L1140.6,579.07L1140.8,579.07L1141.1,579.07L1141.3,579.07L1141.6,579.07L1141.8,579.07L1142.1,579.07L1142.3,579.07L1142.6,579.08L1142.8,579.08L1143.1,579.08L1143.3,579.08L1143.6,579.08L1143.8,579.08L1144.1,579.08L1144.3,579.08L1144.6,579.08L1144.8,579.08L1145.1,579.08L1145.3,579.08L1145.6,579.08L1145.8,579.09L1146.1,579.09L1146.3,579.09L1146.6,579.09L1146.8,579.09L1147.1,579.09L1147.3,579.09L1147.6,579.09L1147.8,579.09L1148.1,579.09L1148.3,579.09L1148.6,579.09L1148.8,579.10L1149.1,579.10L1149.3,579.10L1149.6,579.10L1149.8,579.10L1150.1,579.10L1150.3,579.10L1150.6,579.10L1150.8,579.10L1151.1,579.10L1151.3,579.10L1151.6,579.11L1151.8,579.11L1152.1,579.11L1152.3,579.11L1152.6,579.11L1152.8,579.11L1153.1,579.11L1153.3,579.11L1153.6,579.11L1153.8,579.11L1154.1,579.12L1154.3,579.12L1154.6,579.12L1154.8,579.12L1155.1,579.12L1155.3,579.12L1155.6,579.12L1155.8,579.12L1156.1,579.12L1156.3,579.12L1156.6,579.13L1156.8,579.13L1157.1,579.13L1157.3,579.13L1157.6,579.13L1157.8,579.13L1158.1,579.13L1158.3,579.13L1158.6,579.13L1158.8,579.14L1159.1,579.14L1159.3,579.14L1159.6,579.14L1159.8,579.14L1160.1,579.14L1160.3,579.14L1160.6,579.14L1160.8,579.14L1161.1,579.15L1161.3,579.15L1161.6,579.15L1161.8,579.15L1162.1,579.15L1162.3,579.15L1162.6,579.15L1162.8,579.15L1163.1,579.16L1163.3,579.16L1163.6,579.16L1163.8,579.16L1164.1,579.16L1164.3,579.16L1164.6,579.16L1164.8,579.16L1165.1,579.17L1165.3,579.17L1165.6,579.17L1165.8,579.17L1166.1,579.17L1166.3,579.17L1166.6,579.17L1166.8,579.18L1167.1,579.18L1167.3,579.18L1167.6,579.18L1167.8,579.18L1168.1,579.18L1168.3,579.18L1168.6,579.19L1168.8,579.19L1169.1,579.19L1169.3,579.19L1169.6,579.19L1169.8,579.19L1170.1,579.19L1170.3,579.20L1170.6,579.20L1170.8,579.20L1171.1,579.20L1171.3,579.20L1171.6,579.20L1171.8,579.20L1172.0,579.21L1172.1,579.21L1172.3,579.21L1172.6,579.21L1172.8,579.22L1173.1,579.22L1173.3,579.23L1173.6,579.24L1173.8,579.25L1174.1,579.26L1174.3,579.27L1174.6,579.28L1174.8,579.29L1175.1,579.31L1175.3,579.32L1175.6,579.34L1175.8,579.35L1176.1,579.37L1176.3,579.38L1176.6,579.40L1176.8,579.42L1177.1,579.44L1177.3,579.46L1177.6,579.47L1177.8,579.49L1178.1,579.51L1178.3,579.53L1178.6,579.55L1178.8,579.57L1179.1,579.59L1179.3,579.61L1179.6,579.63L1179.8,579.65L1180.1,579.67L1180.3,579.68L1180.6,579.70L1180.8,579.72L1181.1,579.74L1181.3,579.76L1181.6,579.77L1181.8,579.79L1182.1,579.81L1182.3,579.82L1182.6,579.83L1182.8,579.85L1183.1,579.86L1183.3,579.87L1183.6,579.89L1183.8,579.90L1184.1,579.91L1184.3,579.91L1184.6,579.92L1184.8,579.93L1185.1,579.93L1185.3,579.94L1185.5,579.94L1185.8,579.94L1186.0,579.94L1186.3,579.94L1186.5,579.94L1186.8,579.94L1187.0,579.94L1187.3,579.94L1187.5,579.94L1187.8,579.94L1188.0,579.94L1188.3,579.94L1188.5,579.94L1188.8,579.94L1189.0,579.94L1189.3,579.94L1189.5,579.94L1189.8,579.94L1190.0,579.94L1190.3,579.94L1190.5,579.94L1190.8,579.94L1191.0,579.94L1191.3,579.94L1191.5,579.94L1191.8,579.94L1192.0,579.94L1192.3,579.94L1192.5,579.94L1192.8,579.94L1193.0,579.94L1193.3,579.94L1193.5,579.94L1193.8,579.94L1194.0,579.94L1194.3,579.94L1194.5,579.94L1194.8,579.94L1195.0,579.94L1195.3,579.94L1195.5,579.94L1195.8,579.94L1196.0,579.94L1196.3,579.94L1196.5,579.94L1196.8,579.94L1197.0,579.94L1197.3,579.94L1197.5,579.94L1197.8,579.94L1198.0,579.94L1198.3,579.94L1198.5,579.94L1198.8,579.94L1199.0,579.94L1199.3,579.94L1199.5,579.94L1199.8,579.94L1200.0,579.94L1200.3,579.94L1200.5,579.94L1200.8,579.94L1201.0,579.94L1201.3,579.94L1201.5,579.94L1201.8,579.94L1202.0,579.94L1202.3,579.94L1202.5,579.94L1202.8,579.94L1203.0,579.94L1203.3,579.94L1203.5,579.94L1203.8,579.94L1204.0,579.94L1204.3,579.94L1204.5,579.94L1204.8,579.94L1205.0,579.94L1205.3,579.94L1205.5,579.94L1205.8,579.94L1206.0,579.94L1206.3,579.94L1206.5,579.94L1206.8,579.94L1207.0,579.94L1207.3,579.94L1207.5,579.94L1207.8,579.94L1208.0,579.94L1208.3,579.94L1208.5,579.94L1208.8,579.94L1209.0,579.94L1209.3,579.94L1209.5,579.94L1209.8,579.94L1210.0,579.94L1210.3,579.94L1210.5,579.94L1210.8,579.94L1211.0,579.94L1211.3,579.94L1211.5,579.94L1211.8,579.94L1212.0,579.94L1212.3,579.94L1212.5,579.94L1212.8,579.94L1213.0,579.94L1213.3,579.94L1213.5,579.94L1213.8,579.94L1214.0,579.94L1214.3,579.94L1214.5,579.94L1214.8,579.94L1215.0,579.94L1215.3,579.94L1215.5,579.94L1215.8,579.94L1216.0,579.94L1216.3,579.94L1216.5,579.94L1216.8,579.94L1217.0,579.94L1217.3,579.94L1217.5,579.94L1217.8,579.94L1218.0,579.94L1218.3,579.94L1218.5,579.94L1218.8,579.94L1219.0,579.94L1219.3,579.94L1219.5,579.94L1219.8,579.94L1220.0,579.94L1220.3,579.94L1220.5,579.94L1220.8,579.94L1221.0,579.94L1221.3,579.94L1221.5,579.94L1221.8,579.94L1222.0,579.94L1222.3,579.94L1222.5,579.94L1222.8,579.94L1223.0,579.94L1223.3,579.94L1223.5,579.94L1223.8,579.94L1224.0,579.94L1224.3,579.94L1224.5,579.94L1224.8,579.94L1225.0,579.94L1225.3,579.94L1225.5,579.94L1225.8,579.94L1226.0,579.94L1226.3,579.94L1226.5,579.94L1226.8,579.94L1227.0,579.94L1227.3,579.94L1227.5,579.94L1227.8,579.94L1228.0,579.94L1228.3,579.94L1228.5,579.94L1228.8,579.94L1229.0,579.94L1229.3,579.94L1229.5,579.94L1229.8,579.94L1230.0,579.94L1230.3,579.94L1230.5,579.94L1230.8,579.94L1231.0,579.94L1231.3,579.94L1231.5,579.94L1231.8,579.94L1232.0,579.94L1232.3,579.94L1232.5,579.94L1232.8,579.94L1233.0,579.94L1233.3,579.94L1233.5,579.94L1233.8,579.94L1234.0,579.94L1234.3,579.94L1234.5,579.94L1234.8,579.94L1235.0,579.94L1235.3,579.94L1235.5,579.94L1235.8,579.94L1236.0,579.94L1236.3,579.94L1236.5,579.94L1236.8,579.94L1237.0,579.94L1237.3,579.94L1237.5,579.94L1237.8,579.94L1238.0,579.94L1238.3,579.94L1238.5,579.94L1238.8,579.94L1239.0,579.94L1239.3,579.94L1239.5,579.94L1239.8,579.94L1240.0,579.94L1240.3,579.94L1240.5,579.94L1240.8,579.94L1241.0,579.94L1241.3,579.94L1241.5,579.94L1241.8,579.94L1242.0,579.94L1242.3,579.94L1242.5,579.94L1242.8,579.94L1243.0,579.94L1243.3,579.94L1243.5,579.94L1243.8,579.94L1244.0,579.94L1244.3,579.94L1244.5,579.94L1244.8,579.94L1245.0,579.94L1245.3,579.94L1245.5,579.94L1245.8,579.94L1246.0,579.94L1246.3,579.94L1246.5,579.94L1246.8,579.94L1247.0,579.94L1247.3,579.94L1247.5,579.94L1247.8,579.94L1248.0,579.94L1248.3,579.94L1248.5,579.94L1248.8,579.94L1249.0,579.94L1249.3,579.94L1249.5,579.94L1249.8,579.94L1250.0,579.94L1250.3,579.94L1250.5,579.94L1250.8,579.94L1251.0,579.94L1251.3,579.94L1251.5,579.94L1251.8,579.94L1252.0,579.94L1252.3,579.94L1252.5,579.94L1252.8,579.94L1253.0,579.94L1253.3,579.94L1253.5,579.94L1253.8,579.94L1254.0,579.94L1254.3,579.94L1254.5,579.94L1254.8,579.94L1255.0,579.94L1255.3,579.94L1255.5,579.94L1255.8,579.94L1256.0,579.94L1256.3,579.94L1256.5,579.94L1256.8,579.94L1257.0,579.94L1257.3,579.94L1257.5,579.94L1257.8,579.94L1258.0,579.94L1258.3,579.94L1258.5,579.94L1258.8,579.94L1259.0,579.94L1259.3,579.94L1259.5,579.94L1259.8,579.94L1260.0,579.94L1260.3,579.94L1260.5,579.94L1260.8,579.94L1261.0,579.94L1261.3,579.94L1261.5,579.94L1261.8,579.94L1262.0,579.94L1262.3,579.94L1262.5,579.94L1262.8,579.94L1263.0,579.94L1263.3,579.94L1263.5,579.94L1263.8,579.94L1264.0,579.94L1264.3,579.94L1264.5,579.94L1264.8,579.94L1265.0,579.94L1265.3,579.94L1265.5,579.94L1265.8,579.94L1266.0,579.94L1266.3,579.94L1266.5,579.94L1266.8,579.94L1267.0,579.94L1267.3,579.94L1267.5,579.94L1267.8,579.94L1268.0,579.94L1268.3,579.94L1268.5,579.94L1268.8,579.94L1269.0,579.94L1269.3,579.94L1269.5,579.94L1269.8,579.94L1270.0,579.94L1270.3,579.94L1270.5,579.94L1270.8,579.94L1271.0,579.94L1271.3,579.94L1271.5,579.94L1271.8,579.94L1272.0,579.94L1272.3,579.94L1272.5,579.94L1272.8,579.94L1273.0,579.94L1273.3,579.94L1273.5,579.94L1273.8,579.94L1274.0,579.94L1274.3,579.94L1274.5,579.94L1274.8,579.94L1275.0,579.94L1275.3,579.94L1275.5,579.94L1275.8,579.94L1276.0,579.94L1276.3,579.94L1276.5,579.94L1276.8,579.94L1277.0,579.94L1277.3,579.94L1277.5,579.94L1277.8,579.94L1278.0,579.94L1278.3,579.94L1278.5,579.94L1278.8,579.94L1279.0,579.94L1279.3,579.94L1279.5,579.94L1279.8,579.94L1280.0,579.94L1280.3,579.94L1280.5,579.94L1280.8,579.94L1281.0,579.94L1281.3,579.94L1281.5,579.94L1281.8,579.94L1282.0,579.94L1282.3,579.94L1282.5,579.94L1282.8,579.94L1283.0,579.94L1283.3,579.94L1283.5,579.94L1283.8,579.94L1284.0,579.94L1284.3,579.94L1284.5,579.94L1284.8,579.94L1285.0,579.94L1285.3,579.94L1285.5,579.94L1285.8,579.94L1286.0,579.94L1286.3,579.94L1286.5,579.94L1286.8,579.94L1287.0,579.94L1287.3,579.94L1287.5,579.94L1287.8,579.94L1288.0,579.94L1288.3,579.94L1288.5,579.94L1288.8,579.94L1289.0,579.94L1289.3,579.94L1289.5,579.94L1289.8,579.94L1290.0,579.94L1290.3,579.94L1290.5,579.94L1290.8,579.94L1291.0,579.94L1291.3,579.94L1291.5,579.94L1291.8,579.94L1292.0,579.94L1292.3,579.94L1292.5,579.94L1292.8,579.94L1293.0,579.94L1293.3,579.94L1293.5,579.94L1293.8,579.94L1294.0,579.94L1294.3,579.94L1294.5,579.94L1294.8,579.94L1295.0,579.94L1295.3,579.94L1295.5,579.94L1295.8,579.94L1296.0,579.94L1296.3,579.94L1296.5,579.94L1296.8,579.94L1297.0,579.94L1297.3,579.94L1297.5,579.94L1297.8,579.94L1298.0,579.94L1298.3,579.94L1298.5,579.94L1298.8,579.94L1299.0,579.94L1299.3,579.94L1299.5,579.94L1299.8,579.94L1300.0,579.94L1300.3,579.94L1300.5,579.94L1300.8,579.94L1301.0,579.94L1301.3,579.94L1301.5,579.94L1301.8,579.94L1302.0,579.94L1302.3,579.94L1302.5,579.94L1302.8,579.94L1303.0,579.94L1303.3,579.94L1303.5,579.94L1303.8,579.94L1304.0,579.94L1304.3,579.94L1304.5,579.94L1304.8,579.94L1305.0,579.94L1305.3,579.94L1305.5,579.94L1305.8,579.94L1306.0,579.94L1306.3,579.94L1306.5,579.94L1306.8,579.94L1307.0,579.94L1307.2,579.94L1307.5,579.94L1307.7,579.94L1308.0,579.94L1308.2,579.94L1308.5,579.94L1308.7,579.94L1309.0,579.94L1309.2,579.94L1309.5,579.94L1309.7,579.94L1310.0,579.94L1310.2,579.94L1310.5,579.94L1310.7,579.94L1311.0,579.94L1311.2,579.94L1311.5,579.94L1311.7,579.94L1312.0,579.94L1312.2,579.94L1312.5,579.94L1312.7,579.94L1313.0,579.94L1313.2,579.94L1313.5,579.94L1313.7,579.94L1314.0,579.94L1314.2,579.94L1314.5,579.94L1314.7,579.94L1315.0,579.94L1315.2,579.94L1315.5,579.94L1315.7,579.94L1316.0,579.94L1316.2,579.94L1316.5,579.94L1316.7,579.94L1317.0,579.94L1317.2,579.94L1317.5,579.94L1317.7,579.94L1318.0,579.94L1318.2,579.94L1318.5,579.94L1318.7,579.94L1319.0,579.94L1319.2,579.94L1319.5,579.94L1319.7,579.94L1320.0,579.94L1320.2,579.94L1320.5,579.94L1320.7,579.94L1321.0,579.94L1321.2,579.94L1321.5,579.94L1321.7,579.94L1322.0,579.94L1322.2,579.94L1322.5,579.94L1322.7,579.94L1323.0,579.94L1323.2,579.94L1323.5,579.94L1323.7,579.94L1324.0,579.94L1324.2,579.94L1324.5,579.94L1324.7,579.94L1325.0,579.94L1325.2,579.94L1325.5,579.94L1325.7,579.94L1326.0,579.94L1326.2,579.94L1326.5,579.94L1326.7,579.94L1327.0,579.94L1327.2,579.94L1327.5,579.94L1327.7,579.94L1328.0,579.94L1328.2,579.94L1328.5,579.94L1328.7,579.94L1329.0,579.94L1329.2,579.94L1329.5,579.94L1329.7,579.94L1330.0,579.94L1330.2,579.94L1330.5,579.94L1330.7,579.94L1331.0,579.94L1331.2,579.94L1331.5,579.94L1331.7,579.94L1332.0,579.94L1332.2,579.94L1332.5,579.94L1332.7,579.94L1333.0,579.94L1333.2,579.94L1333.5,579.94L1333.7,579.94L1334.0,579.94L1334.2,579.94L1334.5,579.94L1334.7,579.94L1335.0,579.94L1335.2,579.94L1335.5,579.94L1335.7,579.94L1336.0,579.94L1336.2,579.94L1336.5,579.94L1336.7,579.94L1337.0,579.94L1337.2,579.94L1337.5,579.94L1337.7,579.94L1338.0,579.94L1338.2,579.94L1338.5,579.94L1338.7,579.94L1339.0,579.94L1339.2,579.94L1339.5,579.94L1339.7,579.94L1340.0,579.94L1340.2,579.94L1340.5,579.94L1340.7,579.94L1341.0,579.94L1341.2,579.94L1341.5,579.94L1341.7,579.94L1342.0,579.94L1342.2,579.94L1342.5,579.94L1342.7,579.94L1343.0,579.94L1343.2,579.94L1343.5,579.94L1343.7,579.94L1344.0,579.94L1344.2,579.94L1344.5,579.94L1344.7,579.94L1345.0,579.94L1345.2,579.94L1345.5,579.94L1345.7,579.94L1346.0,579.94L1346.2,579.94L1346.5,579.94L1346.7,579.94L1347.0,579.94L1347.2,579.94L1347.5,579.94L1347.7,579.94L1348.0,579.94L1348.2,579.94L1348.5,579.94L1348.7,579.94L1349.0,579.94L1349.2,579.94L1349.5,579.94L1349.7,579.94L1350.0,579.94L1350.2,579.94L1350.5,579.94L1350.7,579.94L1351.0,579.94L1351.2,579.94L1351.5,579.94L1351.7,579.94L1352.0,579.94L1352.2,579.94L1352.5,579.94L1352.7,579.94L1353.0,579.94L1353.2,579.94L1353.5,579.94L1353.7,579.94L1354.0,579.94L1354.2,579.94L1354.5,579.94L1354.7,579.94L1355.0,579.94L1355.2,579.94L1355.5,579.94L1355.7,579.94L1356.0,579.94L1356.2,579.94L1356.5,579.94L1356.7,579.94L1357.0,579.94L1357.2,579.94L1357.5,579.94L1357.7,579.94L1358.0,579.94L1358.2,579.94L1358.5,579.94L1358.7,579.94L1359.0,579.94L1359.2,579.94L1359.5,579.94L1359.7,579.94L1360.0,579.94L1360.2,579.94L1360.5,579.94L1360.7,579.94L1361.0,579.94L1361.2,579.94L1361.5,579.94L1361.7,579.94L1362.0,579.94L1362.2,579.94L1362.5,579.94L1362.7,579.94L1363.0,579.94L1363.2,579.94L1363.5,579.94L1363.7,579.94L1364.0,579.94L1364.2,579.94L1364.5,579.94L1364.7,579.94L1365.0,579.94L1365.2,579.94L1365.5,579.94L1365.7,579.94L1366.0,579.94L1366.2,579.94L1366.5,579.94L1366.7,579.94L1367.0,579.94L1367.2,579.94L1367.5,579.94L1367.7,579.94L1368.0,579.94L1368.2,579.94L1368.5,579.94L1368.7,579.94L1369.0,579.94L1369.2,579.94L1369.5,579.94L1369.7,579.94L1370.0,579.94L1370.2,579.94L1370.5,579.94L1370.7,579.94L1371.0,579.94L1371.2,579.94L1371.5,579.94L1371.7,579.94L1372.0,579.94L1372.2,579.94L1372.5,579.94L1372.7,579.94L1373.0,579.94L1373.2,579.94L1373.5,579.94L1373.7,579.94L1374.0,579.94L1374.2,579.94L1374.5,579.94L1374.7,579.94L1375.0,579.94L1375.2,579.94L1375.5,579.94L1375.7,579.94L1376.0,579.94L1376.2,579.94L1376.5,579.94L1376.7,579.94L1377.0,579.94L1377.2,579.94L1377.5,579.94L1377.7,579.94L1378.0,579.94L1378.2,579.94L1378.5,579.94L1378.7,579.94L1379.0,579.94L1379.2,579.94L1379.5,579.94L1379.7,579.94L1380.0,579.94L1380.2,579.94L1380.5,579.94L1380.7,579.94L1381.0,579.94L1381.2,579.94L1381.5,579.94L1381.7,579.94L1382.0,579.94L1382.2,579.94L1382.5,579.94L1382.7,579.94L1383.0,579.94L1383.2,579.94L1383.5,579.94L1383.7,579.94L1384.0,579.94L1384.2,579.94L1384.5,579.94L1384.7,579.94L1385.0,579.94L1385.2,579.94L1385.5,579.94L1385.7,579.94L1386.0,579.94L1386.2,579.94L1386.5,579.94L1386.7,579.94L1387.0,579.94L1387.2,579.94L1387.5,579.94L1387.7,579.94L1388.0,579.94L1388.2,579.94L1388.5,579.94L1388.7,579.94L1389.0,579.94L1389.2,579.94L1389.5,579.94L1389.7,579.94L1390.0,579.94L1390.2,579.94L1390.5,579.94L1390.7,579.94L1391.0,579.94L1391.2,579.94L1391.5,579.94L1391.7,579.94L1392.0,579.94L1392.2,579.94L1392.5,579.94L1392.7,579.94L1393.0,579.94L1393.2,579.94L1393.5,579.94L1393.7,579.94L1394.0,579.94L1394.2,579.94L1394.5,579.94L1394.7,579.94L1395.0,579.94L1395.2,579.94L1395.5,579.94L1395.7,579.94L1396.0,579.94L1396.2,579.94L1396.5,579.94L1396.7,579.94L1397.0,579.94L1397.2,579.94L1397.5,579.94L1397.7,579.94L1398.0,579.94L1398.2,579.94L1398.5,579.94L1398.7,579.94L1399.0,579.94L1399.2,579.94L1399.5,579.94L1399.7,579.94L1400.0,579.94L1400.2,579.94L1400.5,579.94L1400.7,579.94L1401.0,579.94L1401.2,579.94L1401.5,579.94L1401.7,579.94L1402.0,579.94L1402.2,579.94L1402.5,579.94L1402.7,579.94L1403.0,579.94L1403.2,579.94L1403.5,579.94L1403.7,579.94L1404.0,579.94L1404.2,579.94L1404.5,579.94L1404.7,579.94L1405.0,579.94L1405.2,579.94L1405.5,579.94L1405.7,579.94L1406.0,579.94L1406.2,579.94L1406.5,579.94L1406.7,579.94L1407.0,579.94L1407.2,579.94L1407.5,579.94L1407.7,579.94L1408.0,579.94L1408.2,579.94L1408.5,579.94L1408.7,579.94L1409.0,579.94L1409.2,579.94L1409.5,579.94L1409.7,579.94L1410.0,579.94L1410.2,579.94L1410.5,579.94L1410.7,579.94L1411.0,579.94L1411.2,579.94L1411.5,579.94L1411.7,579.94L1412.0,579.94L1412.2,579.94L1412.5,579.94L1412.7,579.94L1413.0,579.94L1413.2,579.94L1413.5,579.94L1413.7,579.94L1414.0,579.94L1414.2,579.94L1414.5,579.94L1414.7,579.94L1415.0,579.94L1415.2,579.94L1415.5,579.94L1415.7,579.94L1416.0,579.94L1416.2,579.94L1416.5,579.94L1416.7,579.94L1417.0,579.94L1417.2,579.94L1417.5,579.94L1417.7,579.94L1418.0,579.94L1418.2,579.94L1418.5,579.94L1418.7,579.94L1419.0,579.94L1419.2,579.94L1419.5,579.94L1419.7,579.94L1420.0,579.94L1420.2,579.94L1420.5,579.94L1420.7,579.94L1421.0,579.94L1421.2,579.94L1421.5,579.94L1421.7,579.94L1422.0,579.94L1422.2,579.94L1422.5,579.94L1422.7,579.94L1423.0,579.94L1423.2,579.94L1423.5,579.94L1423.7,579.94L1424.0,579.94L1424.2,579.94L1424.5,579.94L1424.7,579.94L1425.0,579.94L1425.2,579.94L1425.5,579.94L1425.7,579.94L1426.0,579.94L1426.2,579.94L1426.5,579.94L1426.7,579.94L1427.0,579.94L1427.2,579.94L1427.5,579.94L1427.7,579.94L1428.0,579.94L1428.2,579.94L1430.6,108.28L1523.1,108.28L1523.3,109.36L1523.6,112.39L1523.8,117.12L1524.1,123.26L1524.3,129.02L1524.3,130.83L1524.6,148.20L1524.8,176.78L1525.1,213.04L1525.3,253.45L1525.5,278.31L1525.6,295.00L1525.8,341.98L1526.1,400.88L1526.3,460.78L1526.3,479.86L1526.6,625.92L1526.8,733.57L1526.8,751.55L1527.1,829.57L1527.3,891.64L1527.4,903.14L1527.6,946.56L1527.8,993.31L1528.0,1013.73L1528.1,1024.41L1528.3,1046.67L1528.5,1053.35L1528.6,1055.21L1528.8,1058.69L1529.1,1060.88L1529.3,1062.11L1529.3,1062.37L1529.6,1063.61L1529.8,1064.67L1530.1,1065.56L1530.3,1066.28L1530.6,1066.84L1530.8,1067.18L1530.8,1067.24L1531.1,1067.58L1531.3,1067.90L1531.6,1068.18L1531.8,1068.41L1532.1,1068.59L1532.3,1068.70L1532.6,1068.74L1532.8,1068.74L1533.1,1068.74L1533.3,1068.74L1533.6,1068.74L1533.8,1068.74L1534.1,1068.74L1534.3,1068.74L1534.6,1068.74L1534.8,1068.74L1535.1,1068.70L1535.3,1068.60L1535.6,1068.45L1535.8,1068.25L1536.1,1068.01L1536.3,1067.74L1536.6,1067.44L1536.8,1067.18L1536.8,1067.11L1537.1,1066.66L1537.3,1066.02L1537.6,1065.21L1537.8,1064.25L1538.1,1063.13L1538.3,1062.11L1538.3,1061.85L1538.6,1060.14L1538.8,1057.80L1539.1,1054.80L1539.2,1053.35L1539.3,1050.60L1539.6,1044.06L1539.6,1043.95L1539.8,1036.84L1540.1,1028.92L1540.3,1019.81L1540.6,1009.02L1540.8,996.04L1540.9,992.90L1541.1,977.02L1541.3,949.34L1541.6,921.97L1541.6,921.57L1541.8,903.14L1541.8,896.37L1542.1,834.54L1542.3,751.58L1542.4,733.57L1542.6,659.07L1542.8,551.36L1543.1,462.01L1543.1,460.78L1543.3,399.82L1543.6,347.45L1543.8,302.88L1544.0,278.31L1544.1,263.66L1544.3,225.62L1544.6,191.68L1544.8,166.23L1545.0,156.67L1545.1,152.60L1545.3,142.65L1545.6,133.92L1545.8,126.59L1546.1,120.86L1546.3,116.91L1546.6,114.93L1546.7,114.74L1546.8,115.09L1547.1,117.16L1547.3,120.65L1547.6,125.07L1547.8,129.92L1548.1,134.70L1548.3,138.24L1548.3,138.96L1548.6,143.81L1548.8,149.40L1549.1,154.95L1549.3,159.72L1549.6,162.92L1549.8,163.85L1549.8,163.75L1550.1,159.68L1550.3,151.54L1550.6,141.81L1550.8,132.98L1551.0,129.02L1551.1,127.14L1551.3,122.02L1551.6,117.10L1551.8,112.87L1552.1,109.79L1552.3,108.34L1552.4,108.28L1552.6,108.28L1552.8,108.28L1553.1,108.28L1553.3,108.28L1553.6,108.28L1553.8,108.28L1554.1,108.28L1554.3,108.28L1554.6,108.28L1554.8,108.28L1555.1,108.28L1555.3,108.28L1555.6,108.28L1555.8,108.28L1556.1,108.28L1556.3,108.28L1556.6,108.28L1556.8,108.28L1557.1,108.28L1557.3,108.28L1557.6,108.28L1557.8,108.28L1558.1,108.28L1558.2,108.28L1558.3,108.38L1558.6,108.96L1558.8,110.04L1559.1,111.56L1559.3,113.45L1559.6,115.66L1559.8,118.13L1560.0,119.80L1560.1,120.97L1560.3,125.73L1560.6,132.46L1560.8,140.67L1561.1,149.89L1561.3,159.64L1561.5,165.88L1561.6,169.34L1561.8,177.94L1562.1,186.13L1562.3,195.06L1562.6,205.83L1562.8,219.57L1563.1,237.39L1563.3,260.43L1563.5,278.31L1563.6,300.97L1563.8,429.62L1563.9,460.78L1564.1,574.13L1564.3,714.14L1564.4,733.57L1564.6,776.81L1564.8,819.00L1565.1,851.51L1565.3,881.71L1565.5,903.14L1565.6,917.11L1565.8,956.33L1566.0,972.25L1566.1,977.17L1566.3,987.69L1566.6,995.18L1566.8,1001.55L1566.9,1003.13L1567.1,1008.10L1567.3,1014.12L1567.6,1019.34L1567.8,1022.94L1567.8,1023.54L1568.1,1027.14L1568.3,1030.40L1568.6,1033.29L1568.8,1035.79L1569.1,1037.84L1569.2,1038.61L1569.3,1039.50L1569.6,1041.02L1569.8,1042.36L1570.1,1043.47L1570.3,1044.28L1570.5,1044.60L1570.6,1044.73L1570.8,1045.07L1571.1,1045.33L1571.3,1045.49L1571.5,1045.52L1571.6,1045.51L1571.8,1045.32L1572.1,1044.97L1572.3,1044.49L1572.5,1044.14L1572.6,1043.89L1572.8,1042.80L1573.1,1041.19L1573.3,1039.17L1573.6,1036.87L1573.6,1036.76L1573.8,1033.93L1574.1,1029.97L1574.3,1025.28L1574.6,1020.09L1574.8,1014.69L1574.9,1013.36L1575.1,1009.20L1575.3,1003.37L1575.6,997.09L1575.8,990.25L1576.1,982.74L1576.3,974.44L1576.4,972.25L1576.6,965.22L1576.8,954.74L1577.1,942.76L1577.3,928.99L1577.6,913.18L1577.6,912.35L1577.8,892.68L1578.0,875.49L1578.1,863.98L1578.3,831.25L1578.3,825.82L1578.6,791.46L1578.8,758.61L1579.1,725.10L1579.3,688.75L1579.6,647.37L1579.6,645.10L1579.8,592.80L1580.1,528.27L1580.3,471.66L1580.4,460.78L1580.6,431.82L1580.8,395.53L1581.1,362.51L1581.3,333.30L1581.6,308.43L1581.8,288.46L1582.0,278.31L1582.1,273.69L1582.3,261.67L1582.6,251.45L1582.8,242.82L1583.1,235.60L1583.3,230.39L1583.3,229.57L1583.6,223.91L1583.8,218.40L1584.1,213.30L1584.3,208.86L1584.6,205.34L1584.8,203.00L1585.1,202.10L1585.3,202.83L1585.6,205.01L1585.8,208.34L1586.1,212.53L1586.3,217.29L1586.6,222.30L1586.8,227.28L1587.0,230.39L1587.1,231.98L1587.3,236.77L1587.6,241.85L1587.8,247.27L1588.1,253.08L1588.3,259.31L1588.6,266.01L1588.8,273.24L1589.0,278.31L1589.1,281.04L1589.3,289.55L1589.6,298.77L1589.8,308.71L1590.1,319.34L1590.3,330.66L1590.6,342.66L1590.8,355.32L1591.1,368.63L1591.3,382.58L1591.6,397.17L1591.8,412.36L1592.1,428.17L1592.3,444.57L1592.6,461.55L1592.6,462.63L1592.8,480.57L1593.1,502.90L1593.3,527.62L1593.6,553.79L1593.8,580.46L1594.1,606.72L1594.3,631.62L1594.5,646.94L1594.6,654.73L1594.8,680.32L1595.1,705.18L1595.3,723.75L1595.5,729.88L1595.6,731.35L1595.8,735.43L1596.1,739.06L1596.3,742.23L1596.6,744.96L1596.8,747.26L1597.1,749.13L1597.3,750.58L1597.6,751.61L1597.8,752.24L1598.1,752.46L1598.3,752.03L1598.6,750.69L1598.8,748.56L1599.1,745.74L1599.3,742.36L1599.6,738.53L1599.8,734.37L1600.1,729.99L1600.3,725.51L1600.5,722.51L1600.6,720.92L1600.8,714.92L1601.1,707.78L1601.3,700.35L1601.6,693.46L1601.6,693.02L1601.8,687.33L1602.1,681.41L1602.3,675.65L1602.6,669.99L1602.8,664.39L1603.1,658.79L1603.3,653.13L1603.6,647.36L1603.6,646.94L1603.8,641.40L1604.1,635.21L1604.3,628.89L1604.6,622.52L1604.8,616.20L1605.1,610.01L1605.3,604.04L1605.6,598.37L1605.8,593.10L1606.0,589.80L1606.1,588.28L1606.3,583.65L1606.6,579.12L1606.8,574.71L1607.1,570.43L1607.3,566.30L1607.6,562.34L1607.8,558.56L1608.1,554.97L1608.3,551.60L1608.6,548.45L1608.8,545.55L1609.0,543.73L1609.1,542.88L1609.3,540.20L1609.6,537.48L1609.8,534.77L1610.1,532.15L1610.3,529.68L1610.6,527.42L1610.8,525.45L1611.1,523.81L1611.3,522.59L1611.6,521.83L1611.8,521.61L1612.1,521.85L1612.3,522.44L1612.6,523.33L1612.8,524.47L1613.1,525.80L1613.3,527.27L1613.6,528.84L1613.8,530.44L1614.1,532.02L1614.3,533.54L1614.5,534.51L1614.6,534.95L1614.8,536.42L1615.1,537.98L1615.3,539.62L1615.6,541.33L1615.8,543.08L1616.1,544.85L1616.3,546.64L1616.6,548.42L1616.8,550.17L1617.1,551.89L1617.3,553.54L1617.6,555.11L1617.8,556.60L1618.0,557.55L1618.1,557.97L1618.3,559.32L1618.6,560.65L1618.8,561.97L1619.1,563.26L1619.3,564.51L1619.6,565.72L1619.8,566.88L1620.1,567.98L1620.3,569.01L1620.6,569.96L1620.8,570.83L1621.0,571.37L1621.1,571.61L1621.3,572.38L1621.6,573.16L1621.8,573.94L1622.1,574.70L1622.3,575.43L1622.6,576.12L1622.8,576.75L1623.1,577.32L1623.3,577.81L1623.6,578.21L1623.8,578.51L1624.1,578.69L1624.3,578.75L1624.3,578.74L1624.6,578.72L1624.8,578.66L1625.1,578.56L1625.3,578.44L1625.6,578.29L1625.8,578.11L1626.1,577.91L1626.3,577.69L1626.6,577.46L1626.8,577.21L1627.1,576.96L1627.3,576.70L1627.6,576.44L1627.8,576.18L1628.1,575.92L1628.3,575.67L1628.6,575.43L1628.8,575.21L1629.0,575.06L1629.1,574.99L1629.3,574.77L1629.6,574.54L1629.8,574.28L1630.1,574.02L1630.3,573.74L1630.6,573.46L1630.8,573.17L1631.1,572.88L1631.3,572.59L1631.6,572.30L1631.8,572.01L1632.1,571.73L1632.3,571.45L1632.6,571.19L1632.8,570.93L1633.1,570.69L1633.3,570.47L1633.6,570.26L1633.8,570.08L1634.1,569.92L1634.3,569.78L1634.6,569.67L1634.8,569.59L1635.1,569.54L1635.3,569.53L1635.6,569.53L1635.8,569.53L1636.1,569.53L1636.3,569.53L1636.6,569.53L1636.8,569.53L1637.1,569.53L1637.3,569.53L1637.6,569.54L1637.8,569.54L1638.1,569.54L1638.3,569.54L1638.6,569.54L1638.8,569.54L1639.1,569.55L1639.3,569.55L1639.6,569.55L1639.8,569.55L1640.1,569.56L1640.3,569.56L1640.6,569.56L1640.8,569.56L1641.1,569.57L1641.3,569.57L1641.6,569.57L1641.8,569.58L1642.1,569.58L1642.3,569.58L1642.6,569.59L1642.8,569.59L1643.1,569.59L1643.3,569.60L1643.6,569.60L1643.8,569.61L1644.1,569.61L1644.3,569.61L1644.6,569.62L1644.8,569.62L1645.1,569.63L1645.3,569.63L1645.6,569.63L1645.8,569.64L1646.1,569.64L1646.3,569.65L1646.6,569.65L1646.8,569.65L1647.1,569.66L1647.3,569.66L1647.6,569.67L1647.8,569.67L1648.1,569.67L1648.3,569.68L1648.6,569.68L1648.8,569.69L1649.1,569.69L1649.3,569.70L1649.6,569.70L1649.8,569.70L1650.1,569.71L1650.3,569.71L1650.6,569.72L1650.8,569.72L1651.1,569.72L1651.3,569.73L1651.6,569.73L1651.8,569.74L1652.1,569.74L1652.3,569.74L1652.6,569.75L1652.8,569.75L1653.1,569.75L1653.3,569.76L1653.6,569.76L1653.8,569.76L1654.1,569.77L1654.3,569.77L1654.6,569.77L1654.8,569.77L1655.1,569.78L1655.3,569.78L1655.6,569.78L1655.8,569.78L1656.1,569.79L1656.3,569.79L1656.6,569.79L1656.8,569.79L1657.1,569.80L1657.3,569.80L1657.6,569.80L1657.8,569.80L1658.1,569.80L1658.3,569.80L1658.6,569.80L1658.8,569.80L1659.1,569.80L1659.3,569.81L1659.6,569.81L1659.8,569.81L1660.0,569.81L1660.1,569.81L1660.3,569.81L1660.6,569.81L1660.8,569.80L1661.1,569.80L1661.3,569.80L1661.6,569.80L1661.8,569.80L1662.1,569.80L1662.3,569.80L1662.6,569.80L1662.8,569.79L1663.1,569.79L1663.3,569.79L1663.6,569.79L1663.8,569.78L1664.1,569.78L1664.3,569.78L1664.6,569.77L1664.8,569.77L1665.1,569.77L1665.3,569.76L1665.6,569.76L1665.8,569.76L1666.1,569.75L1666.3,569.75L1666.6,569.74L1666.8,569.74L1667.1,569.73L1667.3,569.73L1667.6,569.72L1667.8,569.72L1668.1,569.71L1668.3,569.71L1668.6,569.70L1668.8,569.70L1669.1,569.69L1669.3,569.69L1669.6,569.68L1669.8,569.67L1670.1,569.67L1670.3,569.66L1670.6,569.65L1670.8,569.65L1671.1,569.64L1671.3,569.63L1671.6,569.63L1671.8,569.62L1672.1,569.61L1672.3,569.61L1672.6,569.60L1672.8,569.59L1673.1,569.59L1673.3,569.58L1673.6,569.57L1673.8,569.56L1674.1,569.56L1674.3,569.55L1674.6,569.54L1674.8,569.53L1675.1,569.52L1675.3,569.52L1675.6,569.51L1675.8,569.50L1676.1,569.49L1676.3,569.48L1676.6,569.48L1676.8,569.47L1677.1,569.46L1677.3,569.45L1677.6,569.44L1677.8,569.44L1678.1,569.43L1678.3,569.42L1678.6,569.41L1678.8,569.40L1679.1,569.39L1679.3,569.39L1679.6,569.38L1679.8,569.37L1680.1,569.36L1680.3,569.35L1680.6,569.34L1680.8,569.34L1681.1,569.33L1681.3,569.32L1681.6,569.31L1681.8,569.30L1682.1,569.29L1682.3,569.28L1682.6,569.28L1682.8,569.27L1683.1,569.26L1683.3,569.25L1683.6,569.24L1683.8,569.24L1684.1,569.23L1684.3,569.22L1684.6,569.21L1684.8,569.20L1685.1,569.19L1685.3,569.19L1685.6,569.18L1685.8,569.17L1686.1,569.16L1686.3,569.16L1686.6,569.15L1686.8,569.14L1687.1,569.13L1687.3,569.12L1687.6,569.12L1687.8,569.11L1688.1,569.10L1688.3,569.09L1688.6,569.09L1688.8,569.08L1689.1,569.07L1689.3,569.07L1689.6,569.06L1689.8,569.05L1690.1,569.05L1690.3,569.04L1690.6,569.03L1690.8,569.03L1691.1,569.02L1691.3,569.01L1691.6,569.01L1691.8,569.00L1692.1,569.00L1692.3,568.99L1692.6,568.99L1692.8,568.98L1693.1,568.97L1693.3,568.97L1693.6,568.96L1693.8,568.96L1694.1,568.95L1694.3,568.95L1694.6,568.95L1694.8,568.94L1695.1,568.94L1695.3,568.93L1695.6,568.93L1695.8,568.92L1696.1,568.92L1696.3,568.92L1696.6,568.91L1696.8,568.91L1697.1,568.91L1697.3,568.90L1697.6,568.90L1697.8,568.90L1698.1,568.90L1698.3,568.89L1698.6,568.89L1698.8,568.89L1699.1,568.89L1699.3,568.89L1699.6,568.89L1699.8,568.89L1700.0,568.88L1700.1,568.88L1700.3,568.88L1700.6,568.88L1700.8,568.88L1701.1,568.88L1701.3,568.88L1701.6,568.88L1701.8,568.88L1702.1,568.88L1702.3,568.88L1702.6,568.88L1702.8,568.87L1703.1,568.87L1703.3,568.87L1703.6,568.87L1703.8,568.87L1704.1,568.87L1704.3,568.87L1704.6,568.87L1704.8,568.87L1705.1,568.87L1705.3,568.87L1705.6,568.87L1705.8,568.86L1706.1,568.86L1706.3,568.86L1706.6,568.86L1706.8,568.86L1707.1,568.86L1707.3,568.86L1707.6,568.86L1707.8,568.86L1708.1,568.86L1708.3,568.86L1708.6,568.85L1708.8,568.85L1709.1,568.85L1709.3,568.85L1709.6,568.85L1709.8,568.85L1710.1,568.85L1710.3,568.85L1710.6,568.85L1710.8,568.85L1711.1,568.85L1711.3,568.85L1711.6,568.85L1711.8,568.84L1712.1,568.84L1712.3,568.84L1712.6,568.84L1712.8,568.84L1713.1,568.84L1713.3,568.84L1713.6,568.84L1713.8,568.84L1714.1,568.84L1714.3,568.84L1714.6,568.84L1714.8,568.83L1715.1,568.83L1715.3,568.83L1715.6,568.83L1715.8,568.83L1716.1,568.83L1716.3,568.83L1716.6,568.83L1716.8,568.83L1717.1,568.83L1717.3,568.83L1717.6,568.83L1717.8,568.82L1718.1,568.82L1718.3,568.82L1718.6,568.82L1718.8,568.82L1719.1,568.82L1719.3,568.82L1719.6,568.82L1719.8,568.82L1720.1,568.82L1720.3,568.82L1720.6,568.82L1720.8,568.82L1721.1,568.81L1721.3,568.81L1721.6,568.81L1721.8,568.81L1722.1,568.81L1722.3,568.81L1722.6,568.81L1722.8,568.81L1723.1,568.81L1723.3,568.81L1723.6,568.81L1723.8,568.81L1724.1,568.81L1724.3,568.80L1724.6,568.80L1724.8,568.80L1725.1,568.80L1725.3,568.80L1725.6,568.80L1725.8,568.80L1726.1,568.80L1726.3,568.80L1726.6,568.80L1726.8,568.80L1727.1,568.80L1727.3,568.80L1727.6,568.80L1727.8,568.79L1728.1,568.79L1728.3,568.79L1728.6,568.79L1728.8,568.79L1729.1,568.79L1729.3,568.79L1729.6,568.79L1729.8,568.79L1730.1,568.79L1730.3,568.79L1730.6,568.79L1730.8,568.79L1731.1,568.78L1731.3,568.78L1731.6,568.78L1731.8,568.78L1732.1,568.78L1732.3,568.78L1732.6,568.78L1732.8,568.78L1733.1,568.78L1733.3,568.78L1733.6,568.78L1733.8,568.78L1734.1,568.78L1734.3,568.78L1734.6,568.77L1734.8,568.77L1735.1,568.77L1735.3,568.77L1735.6,568.77L1735.8,568.77L1736.1,568.77L1736.3,568.77L1736.6,568.77L1736.8,568.77L1737.1,568.77L1737.3,568.77L1737.6,568.77L1737.8,568.77L1738.1,568.77L1738.3,568.76L1738.6,568.76L1738.8,568.76L1739.1,568.76L1739.3,568.76L1739.6,568.76L1739.8,568.76L1740.1,568.76L1740.3,568.76L1740.6,568.76L1740.8,568.76L1741.1,568.76L1741.3,568.76L1741.6,568.76L1741.8,568.75L1742.1,568.75L1742.3,568.75L1742.6,568.75L1742.8,568.75L1743.1,568.75L1743.3,568.75L1743.6,568.75L1743.8,568.75L1744.1,568.75L1744.3,568.75L1744.6,568.75L1744.8,568.75L1745.1,568.75L1745.3,568.75L1745.5,568.74L1745.8,568.74L1746.0,568.74L1746.3,568.74L1746.5,568.74L1746.8,568.74L1747.0,568.74L1747.3,568.74L1747.5,568.74L1747.8,568.74L1748.0,568.74L1748.3,568.74L1748.5,568.74L1748.8,568.74L1749.0,568.74L1749.3,568.74L1749.5,568.73L1749.8,568.73L1750.0,568.73L1750.3,568.73L1750.5,568.73L1750.8,568.73L1751.0,568.73L1751.3,568.73L1751.5,568.73L1751.8,568.73L1752.0,568.73L1752.3,568.73L1752.5,568.73L1752.8,568.73L1753.0,568.73L1753.3,568.73L1753.5,568.72L1753.8,568.72L1754.0,568.72L1754.3,568.72L1754.5,568.72L1754.8,568.72L1755.0,568.72L1755.3,568.72L1755.5,568.72L1755.8,568.72L1756.0,568.72L1756.3,568.72L1756.5,568.72L1756.8,568.72L1757.0,568.72L1757.3,568.72L1757.5,568.71L1757.8,568.71L1758.0,568.71L1758.3,568.71L1758.5,568.71L1758.8,568.71L1759.0,568.71L1759.3,568.71L1759.5,568.71L1759.8,568.71L1760.0,568.71L1760.3,568.71L1760.5,568.71L1760.8,568.71L1761.0,568.71L1761.3,568.71L1761.5,568.71L1761.8,568.70L1762.0,568.70L1762.3,568.70L1762.5,568.70L1762.8,568.70L1763.0,568.70L1763.3,568.70L1763.5,568.70L1763.8,568.70L1764.0,568.70L1764.3,568.70L1764.5,568.70L1764.8,568.70L1765.0,568.70L1765.3,568.70L1765.5,568.70L1765.8,568.70L1766.0,568.69L1766.3,568.69L1766.5,568.69L1766.8,568.69L1767.0,568.69L1767.3,568.69L1767.5,568.69L1767.8,568.69L1768.0,568.69L1768.3,568.69L1768.5,568.69L1768.8,568.69L1769.0,568.69L1769.3,568.69L1769.5,568.69L1769.8,568.69L1770.0,568.69L1770.3,568.69L1770.5,568.68L1770.8,568.68L1771.0,568.68L1771.3,568.68L1771.5,568.68L1771.8,568.68L1772.0,568.68L1772.3,568.68L1772.5,568.68L1772.8,568.68L1773.0,568.68L1773.3,568.68L1773.5,568.68L1773.8,568.68L1774.0,568.68L1774.3,568.68L1774.5,568.68L1774.8,568.68L1775.0,568.68L1775.3,568.67L1775.5,568.67L1775.8,568.67L1776.0,568.67L1776.3,568.67L1776.5,568.67L1776.8,568.67L1777.0,568.67L1777.3,568.67L1777.5,568.67L1777.8,568.67L1778.0,568.67L1778.3,568.67L1778.5,568.67L1778.8,568.67L1779.0,568.67L1779.3,568.67L1779.5,568.67L1779.8,568.67L1780.0,568.66L1780.3,568.66L1780.5,568.66L1780.8,568.66L1781.0,568.66L1781.3,568.66L1781.5,568.66L1781.8,568.66L1782.0,568.66L1782.3,568.66L1782.5,568.66L1782.8,568.66L1783.0,568.66L1783.3,568.66L1783.5,568.66L1783.8,568.66L1784.0,568.66L1784.3,568.66L1784.5,568.66L1784.8,568.66L1785.0,568.66L1785.3,568.65L1785.5,568.65L1785.8,568.65L1786.0,568.65L1786.3,568.65L1786.5,568.65L1786.8,568.65L1787.0,568.65L1787.3,568.65L1787.5,568.65L1787.8,568.65L1788.0,568.65L1788.3,568.65L1788.5,568.65L1788.8,568.65L1789.0,568.65L1789.3,568.65L1789.5,568.65L1789.8,568.65L1790.0,568.65L1790.3,568.65L1790.5,568.64L1790.8,568.64L1791.0,568.64L1791.3,568.64L1791.5,568.64L1791.8,568.64L1792.0,568.64L1792.3,568.64L1792.5,568.64L1792.8,568.64L1793.0,568.64L1793.3,568.64L1793.5,568.64L1793.8,568.64L1794.0,568.64L1794.3,568.64L1794.5,568.64L1794.8,568.64L1795.0,568.64L1795.3,568.64L1795.5,568.64L1795.8,568.64L1796.0,568.63L1796.3,568.63L1796.5,568.63L1796.8,568.63L1797.0,568.63L1797.3,568.63L1797.5,568.63L1797.8,568.63L1798.0,568.63L1798.3,568.63L1798.5,568.63L1798.8,568.63L1799.0,568.63L1799.3,568.63L1799.5,568.63L1799.8,568.63L1800.0,568.63L1800.3,568.63L1800.5,568.63L1800.8,568.63L1801.0,568.63L1801.3,568.63L1801.5,568.63L1801.8,568.62L1802.0,568.62L1802.3,568.62L1802.5,568.62L1802.8,568.62L1803.0,568.62L1803.3,568.62L1803.5,568.62L1803.8,568.62L1804.0,568.62L1804.3,568.62L1804.5,568.62L1804.8,568.62L1805.0,568.62L1805.3,568.62L1805.5,568.62L1805.8,568.62L1806.0,568.62L1806.3,568.62L1806.5,568.62L1806.8,568.62L1807.0,568.62L1807.3,568.62L1807.5,568.62L1807.8,568.62L1808.0,568.61L1808.3,568.61L1808.5,568.61L1808.8,568.61L1809.0,568.61L1809.3,568.61L1809.5,568.61L1809.8,568.61L1810.0,568.61L1810.3,568.61L1810.5,568.61L1810.8,568.61L1811.0,568.61L1811.3,568.61L1811.5,568.61L1811.8,568.61L1812.0,568.61L1812.3,568.61L1812.5,568.61L1812.8,568.61L1813.0,568.61L1813.3,568.61L1813.5,568.61L1813.8,568.61L1814.0,568.61L1814.3,568.61L1814.5,568.60L1814.8,568.60L1815.0,568.60L1815.3,568.60L1815.5,568.60L1815.8,568.60L1816.0,568.60L1816.3,568.60L1816.5,568.60L1816.8,568.60L1817.0,568.60L1817.3,568.60L1817.5,568.60L1817.8,568.60L1818.0,568.60L1818.3,568.60L1818.5,568.60L1818.8,568.60L1819.0,568.60L1819.3,568.60L1819.5,568.60L1819.8,568.60L1820.0,568.60L1820.3,568.60L1820.5,568.60L1820.8,568.60L1821.0,568.60L1821.3,568.60L1821.5,568.59L1821.8,568.59L1822.0,568.59L1822.3,568.59L1822.5,568.59L1822.8,568.59L1823.0,568.59L1823.3,568.59L1823.5,568.59L1823.8,568.59L1824.0,568.59L1824.3,568.59L1824.5,568.59L1824.8,568.59L1825.0,568.59L1825.3,568.59L1825.5,568.59L1825.8,568.59L1826.0,568.59L1826.3,568.59L1826.5,568.59L1826.8,568.59L1827.0,568.59L1827.3,568.59L1827.5,568.59L1827.8,568.59L1828.0,568.59L1828.3,568.59L1828.5,568.59L1828.8,568.59L1829.0,568.58L1829.3,568.58L1829.5,568.58L1829.8,568.58L1830.0,568.58L1830.3,568.58L1830.5,568.58L1830.8,568.58L1831.0,568.58L1831.3,568.58L1831.5,568.58L1831.8,568.58L1832.0,568.58L1832.3,568.58L1832.5,568.58L1832.8,568.58L1833.0,568.58L1833.3,568.58L1833.5,568.58L1833.8,568.58L1834.0,568.58L1834.3,568.58L1834.5,568.58L1834.8,568.58L1835.0,568.58L1835.3,568.58L1835.5,568.58L1835.8,568.58L1836.0,568.58L1836.3,568.58L1836.5,568.58L1836.8,568.58L1837.0,568.58L1837.3,568.57L1837.5,568.57L1837.8,568.57L1838.0,568.57L1838.3,568.57L1838.5,568.57L1838.8,568.57L1839.0,568.57L1839.3,568.57L1839.5,568.57L1839.8,568.57L1840.0,568.57L1840.3,568.57L1840.5,568.57L1840.8,568.57L1841.0,568.57L1841.3,568.57L1841.5,568.57L1841.8,568.57L1842.0,568.57L1842.3,568.57L1842.5,568.57L1842.8,568.57L1843.0,568.57L1843.3,568.57L1843.5,568.57L1843.8,568.57L1844.0,568.57L1844.3,568.57L1844.5,568.57L1844.8,568.57L1845.0,568.57L1845.3,568.57L1845.5,568.57L1845.8,568.57L1846.0,568.57L1846.3,568.56L1846.5,568.56L1846.8,568.56L1847.0,568.56L1847.3,568.56L1847.5,568.56L1847.8,568.56L1848.0,568.56L1848.3,568.56L1848.5,568.56L1848.8,568.56L1849.0,568.56L1849.3,568.56L1849.5,568.56L1849.8,568.56L1850.0,568.56L1850.3,568.56L1850.5,568.56L1850.8,568.56L1851.0,568.56L1851.3,568.56L1851.5,568.56L1851.8,568.56L1852.0,568.56L1852.3,568.56L1852.5,568.56L1852.8,568.56L1853.0,568.56L1853.3,568.56L1853.5,568.56L1853.8,568.56L1854.0,568.56L1854.3,568.56L1854.5,568.56L1854.8,568.56L1855.0,568.56L1855.3,568.56L1855.5,568.56L1855.8,568.56L1856.0,568.56L1856.3,568.55L1856.5,568.55L1856.8,568.55L1857.0,568.55L1857.3,568.55L1857.5,568.55L1857.8,568.55L1858.0,568.55L1858.3,568.55L1858.5,568.55L1858.8,568.55L1859.0,568.55L1859.3,568.55L1859.5,568.55L1859.8,568.55L1860.0,568.55L1860.3,568.55L1860.5,568.55L1860.8,568.55L1861.0,568.55L1861.3,568.55L1861.5,568.55L1861.8,568.55L1862.0,568.55L1862.3,568.55L1862.5,568.55L1862.8,568.55L1863.0,568.55L1863.3,568.55L1863.5,568.55L1863.8,568.55L1864.0,568.55L1864.3,568.55L1864.5,568.55L1864.8,568.55L1865.0,568.55L1865.3,568.55L1865.5,568.55L1865.8,568.55L1866.0,568.55L1866.3,568.55L1866.5,568.55L1866.8,568.55L1867.0,568.55L1867.3,568.55L1867.5,568.55L1867.8,568.55L1868.0,568.55L1868.3,568.54L1868.5,568.54L1868.8,568.54L1869.0,568.54L1869.3,568.54L1869.5,568.54L1869.8,568.54L1870.0,568.54L1870.3,568.54L1870.5,568.54L1870.8,568.54L1871.0,568.54L1871.3,568.54L1871.5,568.54L1871.8,568.54L1872.0,568.54L1872.3,568.54L1872.5,568.54L1872.8,568.54L1873.0,568.54L1873.3,568.54L1873.5,568.54L1873.8,568.54L1874.0,568.54L1874.3,568.54L1874.5,568.54L1874.8,568.54L1875.0,568.54L1875.3,568.54L1875.5,568.54L1875.8,568.54L1876.0,568.54L1876.3,568.54L1876.5,568.54L1876.8,568.54L1877.0,568.54L1877.3,568.54L1877.5,568.54L1877.8,568.54L1878.0,568.54L1878.3,568.54L1878.5,568.54L1878.8,568.54L1879.0,568.54L1879.3,568.54L1879.5,568.54L1879.8,568.54L1880.0,568.54L1880.3,568.54L1880.5,568.54L1880.8,568.54L1881.0,568.54L1881.3,568.54L1881.5,568.54L1881.8,568.54L1882.0,568.54L1882.3,568.54L1882.5,568.53L1882.8,568.53L1883.0,568.53L1883.3,568.53L1883.5,568.53L1883.8,568.53L1884.0,568.53L1884.3,568.53L1884.5,568.53L1884.8,568.53L1885.0,568.53L1885.3,568.53L1885.5,568.53L1885.8,568.53L1886.0,568.53L1886.3,568.53L1886.5,568.53L1886.8,568.53L1887.0,568.53L1887.3,568.53L1887.5,568.53L1887.8,568.53L1888.0,568.53L1888.3,568.53L1888.5,568.53L1888.8,568.53L1889.0,568.53L1889.3,568.53L1889.5,568.53L1889.8,568.53L1890.0,568.53L1890.3,568.53L1890.5,568.53L1890.8,568.53L1891.0,568.53L1891.3,568.53L1891.5,568.53L1891.8,568.53L1892.0,568.53L1892.3,568.53L1892.5,568.53L1892.8,568.53L1893.0,568.53L1893.3,568.53L1893.5,568.53L1893.8,568.53L1894.0,568.53L1894.3,568.53L1894.5,568.53L1894.8,568.53L1895.0,568.53L1895.3,568.53L1895.5,568.53L1895.8,568.53L1896.0,568.53L1896.3,568.53L1896.5,568.53L1896.8,568.53L1897.0,568.53L1897.3,568.53L1897.5,568.53L1897.8,568.53L1898.0,568.53L1898.3,568.53L1898.5,568.53L1898.8,568.53L1899.0,568.53L1899.3,568.53L1899.5,568.53L1899.8,568.53L1900.0,568.53L1900.3,568.53L1900.5,568.53L1900.8,568.53L1901.0,568.53L1901.3,568.53L1901.5,568.53L1901.8,568.53L1902.0,568.53L1902.3,568.52L1902.5,568.52L1902.8,568.52L1903.0,568.52L1903.3,568.52L1903.5,568.52L1903.8,568.52L1904.0,568.52L1904.3,568.52L1904.5,568.52L1904.8,568.52L1905.0,568.52L1905.3,568.52L1905.5,568.52L1905.8,568.52L1906.0,568.52L1906.3,568.52L1906.5,568.52L1906.8,568.52L1907.0,568.52L1907.3,568.52L1907.5,568.52L1907.8,568.52L1908.0,568.52L1908.3,568.52L1908.5,568.52L1908.8,568.52L1909.0,568.52L1909.3,568.52L1909.5,568.52L1909.8,568.52L1910.0,568.52L1910.3,568.52L1910.5,568.52L1910.8,568.52L1911.0,568.52L1911.3,568.52L1911.5,568.52L1911.8,568.52L1912.0,568.52L1912.3,568.52L1912.5,568.52L1912.8,568.52L1913.0,568.52L1913.3,568.52L1913.5,568.52L1913.8,568.52L1914.0,568.52L1914.3,568.52L1914.5,568.52L1914.8,568.52L1915.0,568.52L1915.3,568.52L1915.5,568.52L1915.8,568.52L1916.0,568.52L1916.3,568.52L1916.5,568.52L1916.8,568.52L1917.0,568.52L1917.3,568.52L1917.5,568.52L1917.8,568.52L1918.0,568.52L1918.3,568.52L1918.5,568.52L1918.8,568.52L1919.0,568.52L1919.3,568.52L1919.5,568.52L1919.8,568.52L1920.0,568.52L1920.3,568.52L1920.5,568.52L1920.8,568.52L1921.0,568.52L1921.3,568.52L1921.5,568.52L1921.8,568.52L1922.0,568.52L1922.3,568.52L1922.5,568.52L1922.8,568.52L1923.0,568.52L1923.3,568.52L1923.5,568.52L1923.8,568.52L1924.0,568.52L1924.3,568.52L1924.5,568.52L1924.8,568.52L1925.0,568.52L1925.3,568.52L1925.5,568.52L1925.8,568.52L1926.0,568.52L1926.3,568.52L1926.5,568.52L1926.8,568.52L1927.0,568.52L1927.3,568.52L1927.5,568.52L1927.8,568.52L1928.0,568.52L1928.3,568.52L1928.5,568.52L1928.8,568.52L1929.0,568.52L1929.3,568.52L1929.5,568.52L1929.8,568.52L1930.0,568.52L1930.3,568.52L1930.5,568.52L1930.8,568.52L1931.0,568.52L1931.3,568.52L1931.5,568.52L1931.8,568.52L1932.0,568.52L1932.3,568.52L1932.5,568.52L1932.8,568.52L1933.0,568.52L1933.3,568.52L1933.5,568.52L1933.8,568.52L1934.0,568.52L1934.3,568.52L1934.5,568.52L1934.8,568.52L1935.0,568.52L1935.3,568.52L1935.5,568.52L1935.8,568.52L1936.0,568.52L1936.3,568.52L1936.5,568.52L1936.8,568.52L1937.0,568.52L1937.3,568.52L1937.5,568.52L1937.8,568.52L1938.0,568.52L1938.3,568.52L1938.5,568.52L1938.8,568.52L1939.0,568.52L1939.3,568.52L1939.5,568.52L1939.8,568.52L1940.0,568.52L1940.3,568.52L1940.5,568.52L1940.8,568.52L1941.0,568.52L1941.3,568.52L1941.5,568.52L1941.8,568.52L1942.0,568.52L1942.3,568.52L1942.5,568.52L1942.8,568.52L1943.0,568.52L1943.3,568.52L1943.5,568.52L1943.8,568.52L1944.0,568.52L1944.3,568.52L1944.5,568.52L1944.8,568.52L1945.0,568.52L1945.3,568.52L1945.5,568.52L1945.8,568.52L1946.0,568.52L1946.3,568.52L1946.5,568.52L1946.8,568.52L1947.0,568.52L1947.3,568.52L1947.5,568.52L1947.8,568.52L1948.0,568.52L1948.3,568.52L1948.5,568.52L1948.8,568.52L1949.0,568.52L1949.3,568.52L1949.5,568.52L1949.8,568.52L1950.0,568.52L1950.3,568.52L1950.5,568.52L1950.8,568.52L1951.0,568.52L1951.3,568.52L1951.5,568.52L1951.8,568.52L1952.0,568.52L1952.3,568.52L1952.5,568.52L1952.8,568.52L1953.0,568.52L1953.3,568.52L1953.5,568.52L1953.8,568.52L1954.0,568.52L1954.3,568.52L1954.5,568.52L1954.8,568.52L1955.0,568.52L1955.3,568.52L1955.5,568.52L1955.8,568.52L1956.0,568.52L1956.3,568.52L1956.5,568.52L1956.8,568.52L1957.0,568.52L1957.3,568.52L1957.5,568.52L1957.8,568.52L1958.0,568.52L1958.3,568.52L1958.5,568.52L1958.8,568.52L1959.0,568.52L1959.3,568.52L1959.5,568.52L1959.8,568.52L1960.0,568.52L1960.3,568.52L1960.5,568.52L1960.8,568.52L1961.0,568.52L1961.3,568.52L1961.5,568.52L1961.8,568.52L1962.0,568.52L1962.3,568.52L1962.5,568.52L1962.8,568.52L1963.0,568.52L1963.3,568.52L1963.5,568.52L1963.8,568.52L1964.0,568.52L1964.3,568.52L1964.5,568.52L1964.8,568.52L1965.0,568.52L1965.3,568.52L1965.5,568.52L1965.8,568.52L1966.0,568.52L1966.3,568.52L1966.5,568.52L1966.8,568.52L1967.0,568.52L1967.3,568.52L1967.5,568.52L1967.8,568.52L1968.0,568.52L1970.8,1068.65L2038.5,1068.65L2038.7,1066.29L2039.0,1063.96L2039.2,1061.66L2039.5,1059.40L2039.7,1057.16L2040.0,1054.95L2040.2,1052.76L2040.5,1050.60L2040.5,1050.59L2040.7,1049.01L2041.0,1047.84L2041.2,1045.98L2041.5,1042.34L2041.5,1042.29L2041.7,932.45L2041.8,903.14L2042.0,790.18L2042.1,733.57L2042.2,660.19L2042.5,553.97L2042.5,552.94L2042.7,481.07L2043.0,420.99L2043.2,368.63L2043.2,356.43L2043.5,280.17L2043.5,278.31L2043.6,184.31L2043.7,168.90L2044.0,158.63L2044.0,158.51L2044.2,152.43L2044.5,148.11L2044.7,144.78L2044.9,142.84L2045.0,141.65L2045.2,138.80L2045.5,136.26L2045.7,133.94L2046.0,131.74L2046.2,129.94L2046.2,129.55L2046.5,127.33L2046.7,125.15L2047.0,123.06L2047.2,121.16L2047.5,119.50L2047.6,118.88L2047.7,118.11L2048.0,116.80L2048.2,115.56L2048.5,114.43L2048.7,113.42L2049.0,112.55L2049.2,111.85L2049.4,111.51L2049.5,111.34L2049.7,110.87L2050.0,110.43L2050.2,110.01L2050.5,109.61L2050.7,109.26L2051.0,108.94L2051.2,108.66L2051.5,108.44L2051.7,108.27L2052.0,108.15L2052.2,108.10L2052.3,108.10L2052.5,108.12L2052.7,108.23L2053.0,108.40L2053.2,108.64L2053.5,108.93L2053.7,109.27L2054.0,109.65L2054.0,109.67L2054.2,110.17L2054.5,110.98L2054.7,112.10L2055.0,113.55L2055.0,113.63L2055.2,116.54L2055.5,121.92L2055.7,128.71L2056.0,135.96L2056.2,142.71L2056.3,144.23L2056.5,147.89L2056.7,152.00L2057.0,157.34L2057.2,164.68L2057.2,166.80L2057.5,206.12L2057.7,264.35L2057.8,278.31L2058.0,316.69L2058.2,370.69L2058.5,430.42L2058.6,460.78L2058.7,501.78L2059.0,591.73L2059.2,682.66L2059.4,733.57L2059.5,756.40L2059.7,822.40L2060.0,878.65L2060.2,912.35L2060.2,916.14L2060.5,941.64L2060.7,962.86L2061.0,980.28L2061.2,994.38L2061.5,1005.67L2061.5,1006.35L2061.7,1014.87L2062.0,1022.63L2062.2,1029.12L2062.5,1034.53L2062.6,1036.76L2062.7,1039.10L2063.0,1043.21L2063.2,1046.90L2063.5,1050.12L2063.7,1052.85L2064.0,1055.05L2064.0,1055.20L2064.2,1056.87L2064.5,1058.55L2064.7,1060.08L2065.0,1061.46L2065.2,1062.67L2065.5,1063.72L2065.7,1064.59L2066.0,1065.28L2066.0,1065.33L2066.2,1065.86L2066.5,1066.42L2066.7,1066.94L2067.0,1067.40L2067.2,1067.79L2067.5,1068.10L2067.7,1068.30L2068.0,1068.37L2068.2,1068.32L2068.5,1068.15L2068.7,1067.87L2069.0,1067.50L2069.2,1067.05L2069.5,1066.54L2069.7,1065.98L2070.0,1065.39L2070.0,1065.33L2070.2,1064.67L2070.5,1063.70L2070.7,1062.49L2071.0,1061.08L2071.2,1059.47L2071.5,1057.70L2071.7,1055.79L2071.8,1055.20L2072.0,1053.67L2072.2,1051.05L2072.5,1047.97L2072.7,1044.47L2073.0,1040.58L2073.2,1036.76L2073.2,1036.34L2073.5,1031.57L2073.7,1026.04L2074.0,1019.63L2074.2,1012.24L2074.4,1006.35L2074.5,1003.73L2074.7,993.39L2075.0,980.45L2075.2,964.24L2075.3,958.43L2075.5,941.47L2075.7,907.07L2076.0,867.05L2076.2,831.25L2076.2,828.06L2076.5,790.66L2076.7,752.43L2077.0,713.45L2077.2,673.84L2077.4,645.10L2077.5,633.50L2077.7,590.18L2078.0,545.57L2078.2,502.77L2078.5,464.86L2078.5,460.78L2078.7,433.81L2079.0,406.90L2079.2,380.41L2079.4,359.41L2079.5,350.41L2079.7,314.08L2080.0,281.48L2080.0,278.31L2080.2,258.57L2080.5,239.72L2080.7,225.78L2080.7,224.82L2081.0,212.72L2081.2,202.57L2081.5,194.43L2081.5,193.53L2081.7,187.85L2082.0,182.23L2082.2,177.98L2082.3,176.94L2082.5,175.08L2082.7,172.41L2083.0,169.96L2083.2,167.79L2083.5,165.99L2083.7,164.62L2084.0,163.76L2084.2,163.49L2084.5,163.89L2084.7,164.91L2085.0,166.41L2085.2,168.29L2085.5,170.39L2085.7,172.60L2086.0,174.79L2086.0,175.10L2086.2,176.99L2086.5,179.49L2086.7,182.52L2086.9,185.24L2087.0,186.33L2087.2,192.13L2087.5,199.51L2087.7,207.38L2088.0,214.68L2088.0,215.65L2088.2,220.82L2088.5,226.42L2088.7,231.89L2089.0,237.61L2089.2,243.96L2089.3,246.43L2089.5,251.19L2089.7,259.18L2090.0,268.27L2090.2,278.31L2090.2,278.82L2090.5,290.77L2090.7,307.80L2090.7,308.86L2091.0,353.19L2091.0,359.41L2091.2,386.45L2091.5,413.85L2091.7,439.75L2091.9,460.78L2092.0,467.88L2092.2,499.00L2092.5,531.60L2092.7,564.37L2093.0,596.00L2093.2,625.21L2093.4,645.10L2093.5,650.83L2093.7,675.38L2094.0,699.76L2094.2,723.39L2094.5,745.68L2094.7,766.03L2095.0,783.84L2095.2,798.54L2095.5,809.52L2095.5,810.98L2095.7,817.67L2096.0,825.40L2096.2,832.62L2096.5,839.17L2096.7,844.88L2097.0,849.59L2097.2,853.14L2097.5,855.38L2097.7,856.14L2098.0,855.24L2098.2,852.79L2098.5,849.03L2098.7,844.19L2099.0,838.51L2099.2,832.24L2099.5,825.60L2099.7,818.83L2100.0,812.18L2100.0,810.98L2100.2,805.30L2100.5,797.32L2100.7,788.44L2101.0,778.91L2101.2,768.96L2101.5,758.84L2101.7,748.80L2102.0,739.06L2102.0,737.25L2102.2,729.60L2102.5,720.02L2102.7,710.34L2103.0,700.60L2103.2,690.84L2103.5,681.11L2103.7,671.44L2104.0,661.88L2104.2,652.47L2104.4,645.10L2104.5,643.25L2104.7,634.06L2105.0,624.88L2105.2,615.75L2105.4,606.74L2105.7,597.90L2105.9,589.28L2106.2,580.95L2106.4,572.96L2106.5,571.37L2106.7,565.10L2106.9,556.99L2107.2,548.86L2107.4,540.97L2107.7,533.56L2107.9,526.90L2108.2,521.24L2108.4,516.82L2108.5,516.08L2108.7,513.43L2108.9,510.15L2109.2,507.03L2109.4,504.11L2109.7,501.45L2109.9,499.13L2110.2,497.19L2110.4,495.69L2110.7,494.69L2110.9,494.25L2111.0,494.24L2111.2,494.48L2111.4,495.45L2111.7,497.04L2111.9,499.13L2112.2,501.60L2112.4,504.34L2112.7,507.22L2112.9,510.12L2113.2,512.94L2113.4,515.53L2113.5,516.08L2113.7,517.95L2113.9,520.43L2114.2,523.00L2114.4,525.62L2114.7,528.29L2114.9,531.00L2115.2,533.73L2115.4,536.47L2115.7,539.21L2115.9,541.93L2116.2,544.61L2116.4,547.26L2116.7,549.84L2116.9,552.36L2117.0,552.94L2117.2,554.85L2117.4,557.42L2117.7,560.05L2117.9,562.72L2118.2,565.39L2118.4,568.03L2118.7,570.62L2118.9,573.13L2119.2,575.53L2119.4,577.79L2119.7,579.89L2119.9,581.79L2120.2,583.46L2120.4,584.89L2120.5,585.20L2120.7,586.12L2120.9,587.33L2121.2,588.53L2121.4,589.70L2121.7,590.83L2121.9,591.90L2122.2,592.90L2122.4,593.81L2122.7,594.63L2122.9,595.34L2123.2,595.93L2123.4,596.37L2123.7,596.67L2123.9,596.80L2124.0,596.81L2124.2,596.78L2124.4,596.66L2124.7,596.46L2124.9,596.17L2125.2,595.82L2125.4,595.41L2125.7,594.94L2125.9,594.44L2126.2,593.90L2126.4,593.34L2126.7,592.76L2126.9,592.17L2127.2,591.59L2127.4,591.02L2127.7,590.46L2127.9,589.94L2128.0,589.80L2128.2,589.43L2128.4,588.88L2128.7,588.31L2128.9,587.70L2129.2,587.08L2129.4,586.44L2129.7,585.80L2129.9,585.16L2130.2,584.52L2130.4,583.89L2130.7,583.28L2130.9,582.69L2131.2,582.13L2131.4,581.61L2131.7,581.13L2131.9,580.70L2132.0,580.59L2132.2,580.31L2132.4,579.91L2132.7,579.51L2132.9,579.11L2133.2,578.71L2133.4,578.32L2133.7,577.93L2133.9,577.55L2134.2,577.18L2134.4,576.82L2134.7,576.48L2134.9,576.16L2135.2,575.85L2135.4,575.57L2135.7,575.32L2135.9,575.09L2136.2,574.89L2136.4,574.72L2136.7,574.59L2136.9,574.49L2137.2,574.43L2137.4,574.41L2137.7,574.42L2137.9,574.43L2138.2,574.45L2138.4,574.48L2138.7,574.51L2138.9,574.55L2139.2,574.59L2139.4,574.64L2139.7,574.69L2139.9,574.75L2140.2,574.81L2140.4,574.87L2140.7,574.94L2140.9,575.00L2141.2,575.07L2141.4,575.14L2141.7,575.21L2141.9,575.28L2142.2,575.35L2142.4,575.42L2142.7,575.49L2142.9,575.56L2143.2,575.62L2143.4,575.68L2143.7,575.74L2143.9,575.80L2144.2,575.85L2144.4,575.89L2144.7,575.93L2144.9,575.97L2145.0,575.98L2145.2,576.00L2145.4,576.03L2145.7,576.06L2145.9,576.09L2146.2,576.12L2146.4,576.15L2146.7,576.18L2146.9,576.21L2147.2,576.24L2147.4,576.27L2147.7,576.29L2147.9,576.32L2148.2,576.35L2148.4,576.37L2148.7,576.40L2148.9,576.42L2149.2,576.45L2149.4,576.47L2149.7,576.50L2149.9,576.52L2150.2,576.54L2150.4,576.56L2150.7,576.58L2150.9,576.60L2151.2,576.62L2151.4,576.64L2151.7,576.66L2151.9,576.68L2152.2,576.69L2152.4,576.71L2152.7,576.73L2152.9,576.74L2153.2,576.75L2153.4,576.76L2153.7,576.78L2153.9,576.79L2154.2,576.80L2154.4,576.80L2154.6,576.81L2154.7,576.81L2154.9,576.82L2155.2,576.83L2155.4,576.83L2155.7,576.84L2155.9,576.85L2156.2,576.85L2156.4,576.86L2156.7,576.87L2156.9,576.87L2157.2,576.88L2157.4,576.89L2157.7,576.90L2157.9,576.90L2158.2,576.91L2158.4,576.92L2158.7,576.92L2158.9,576.93L2159.2,576.93L2159.4,576.94L2159.7,576.95L2159.9,576.95L2160.2,576.96L2160.4,576.97L2160.7,576.97L2160.9,576.98L2161.2,576.99L2161.4,576.99L2161.7,577.00L2161.9,577.00L2162.2,577.01L2162.4,577.02L2162.7,577.02L2162.9,577.03L2163.2,577.03L2163.4,577.04L2163.7,577.04L2163.9,577.05L2164.2,577.06L2164.4,577.06L2164.7,577.07L2164.9,577.07L2165.2,577.08L2165.4,577.08L2165.7,577.09L2165.9,577.09L2166.2,577.10L2166.4,577.10L2166.7,577.11L2166.9,577.12L2167.2,577.12L2167.4,577.13L2167.7,577.13L2167.9,577.14L2168.2,577.14L2168.4,577.15L2168.7,577.15L2168.9,577.16L2169.2,577.16L2169.4,577.17L2169.7,577.17L2169.9,577.17L2170.2,577.18L2170.4,577.18L2170.7,577.19L2170.9,577.19L2171.2,577.20L2171.4,577.20L2171.6,577.21L2171.9,577.21L2172.1,577.22L2172.4,577.22L2172.6,577.22L2172.9,577.23L2173.1,577.23L2173.4,577.24L2173.6,577.24L2173.9,577.24L2174.1,577.25L2174.4,577.25L2174.6,577.26L2174.9,577.26L2175.1,577.26L2175.4,577.27L2175.6,577.27L2175.9,577.28L2176.1,577.28L2176.4,577.28L2176.6,577.29L2176.9,577.29L2177.1,577.29L2177.4,577.30L2177.6,577.30L2177.9,577.30L2178.1,577.31L2178.4,577.31L2178.6,577.31L2178.9,577.32L2179.1,577.32L2179.4,577.32L2179.6,577.33L2179.9,577.33L2180.1,577.33L2180.4,577.34L2180.6,577.34L2180.9,577.34L2181.1,577.35L2181.4,577.35L2181.6,577.35L2181.9,577.35L2182.1,577.36L2182.4,577.36L2182.6,577.36L2182.9,577.37L2183.1,577.37L2183.4,577.37L2183.6,577.37L2183.9,577.38L2184.1,577.38L2184.4,577.38L2184.6,577.38L2184.9,577.39L2185.1,577.39L2185.4,577.39L2185.6,577.39L2185.9,577.39L2186.1,577.40L2186.4,577.40L2186.6,577.40L2186.9,577.40L2187.1,577.40L2187.4,577.41L2187.6,577.41L2187.9,577.41L2188.1,577.41L2188.4,577.41L2188.6,577.42L2188.9,577.42L2189.1,577.42L2189.4,577.42L2189.6,577.42L2189.9,577.42L2190.1,577.43L2190.4,577.43L2190.6,577.43L2190.9,577.43L2191.1,577.43L2191.4,577.43L2191.6,577.43L2191.9,577.43L2192.1,577.44L2192.4,577.44L2192.6,577.44L2192.9,577.44L2193.1,577.44L2193.4,577.44L2193.6,577.44L2193.9,577.44L2194.1,577.44L2194.4,577.45L2194.6,577.45L2194.9,577.45L2195.1,577.45L2195.4,577.45L2195.6,577.45L2195.9,577.45L2196.1,577.45L2196.4,577.45L2196.6,577.45L2196.9,577.45L2197.1,577.45L2197.4,577.45L2197.6,577.45L2197.9,577.45L2198.1,577.45L2198.4,577.45L2198.6,577.45L2198.9,577.45L2199.1,577.45L2199.4,577.45L2199.6,577.45L2199.9,577.45L2200.0,577.45L2200.1,577.45L2200.4,577.45L2200.6,577.45L2200.9,577.45L2201.1,577.45L2201.4,577.45L2201.6,577.45L2201.9,577.45L2202.1,577.45L2202.4,577.45L2202.6,577.45L2202.9,577.45L2203.1,577.45L2203.4,577.45L2203.6,577.45L2203.9,577.45L2204.1,577.45L2204.4,577.45L2204.6,577.45L2204.9,577.45L2205.1,577.45L2205.4,577.45L2205.6,577.45L2205.9,577.45L2206.1,577.45L2206.4,577.45L2206.6,577.45L2206.9,577.45L2207.1,577.45L2207.4,577.45L2207.6,577.45L2207.9,577.45L2208.1,577.45L2208.4,577.45L2208.6,577.45L2208.9,577.45L2209.1,577.45L2209.4,577.45L2209.6,577.45L2209.9,577.45L2210.1,577.45L2210.4,577.45L2210.6,577.45L2210.9,577.45L2211.1,577.45L2211.4,577.45L2211.6,577.45L2211.9,577.45L2212.1,577.45L2212.4,577.45L2212.6,577.45L2212.9,577.45L2213.1,577.45L2213.4,577.45L2213.6,577.45L2213.9,577.45L2214.1,577.45L2214.4,577.45L2214.6,577.45L2214.9,577.45L2215.1,577.45L2215.4,577.45L2215.6,577.45L2215.9,577.45L2216.1,577.45L2216.4,577.45L2216.6,577.45L2216.9,577.45L2217.1,577.45L2217.4,577.45L2217.6,577.45L2217.9,577.45L2218.1,577.45L2218.4,577.45L2218.6,577.45L2218.9,577.45L2219.1,577.45L2219.4,577.45L2219.6,577.45L2219.9,577.45L2220.1,577.45L2220.4,577.45L2220.6,577.45L2220.9,577.45L2221.1,577.45L2221.4,577.45L2221.6,577.45L2221.9,577.45L2222.1,577.45L2222.4,577.45L2222.6,577.45L2222.9,577.45L2223.1,577.45L2223.4,577.45L2223.6,577.45L2223.9,577.45L2224.1,577.45L2224.4,577.45L2224.6,577.45L2224.9,577.45L2225.1,577.45L2225.4,577.45L2225.6,577.45L2225.9,577.45L2226.1,577.45L2226.4,577.45L2226.6,577.45L2226.9,577.45L2227.1,577.45L2227.4,577.45L2227.6,577.45L2227.9,577.45L2228.1,577.45L2228.4,577.45L2228.6,577.45L2228.9,577.45L2229.1,577.45L2229.4,577.45L2229.6,577.45L2229.9,577.45L2230.1,577.45L2230.4,577.45L2230.6,577.45L2230.9,577.45L2231.1,577.45L2231.4,577.45L2231.6,577.45L2231.9,577.45L2232.1,577.45L2232.4,577.45L2232.6,577.45L2232.9,577.45L2233.1,577.45L2233.4,577.45L2233.6,577.45L2233.9,577.45L2234.1,577.45L2234.4,577.45L2234.6,577.45L2234.9,577.45L2235.1,577.45L2235.4,577.45L2235.6,577.45L2235.9,577.45L2236.1,577.45L2236.4,577.45L2236.6,577.45L2236.9,577.45L2237.1,577.45L2237.4,577.45L2237.6,577.45L2237.9,577.45L2238.1,577.45" fill="none" stroke="#00ff00" stroke-width="4.7" stroke-linejoin="round" stroke-linecap="butt"/>
<path d="M1698,568.52H1968" fill="none" stroke="#00ff00" stroke-width="5.9" stroke-dasharray="7 5 3 4 9 6 4 3 5 8 3 7"/>
<path d="M1740,568.79H1960" fill="none" stroke="#0000ff" stroke-width="5.6" stroke-dasharray="0 60 14 70 20 90 16 200"/>
<path d="M213.2,588.24L348.2,588.24L348.9,108.28L416.0,108.28L416.2,108.74L416.5,109.25L416.7,109.82L417.0,110.44L417.2,111.11L417.5,111.82L417.7,112.57L418.0,113.35L418.2,114.20L418.5,115.12L418.7,116.13L419.0,117.19L419.2,118.32L419.5,119.48L419.7,120.69L420.0,121.91L420.2,123.16L420.5,124.41L420.7,125.69L421.0,127.02L421.2,128.39L421.5,129.81L421.7,131.27L422.0,132.77L422.2,134.29L422.5,135.85L422.7,137.43L423.0,139.02L423.2,140.63L423.5,142.26L423.7,143.88L424.0,145.52L424.2,147.15L424.5,148.77L424.7,150.39L425.0,151.99L425.2,153.58L425.5,155.14L425.7,156.68L426.0,158.19L426.2,159.67L426.5,161.10L426.7,162.50L427.0,163.85L427.2,165.16L427.5,166.45L427.7,167.72L428.0,168.97L428.2,170.20L428.5,171.41L428.7,172.60L429.0,173.79L429.2,174.96L429.5,176.12L429.7,177.27L430.0,178.41L430.2,179.54L430.5,180.68L430.7,181.81L431.0,182.93L431.2,184.06L431.5,185.19L431.7,186.32L432.0,187.46L432.2,188.61L432.5,189.76L432.7,190.92L433.0,192.10L433.2,193.28L433.3,193.53L433.5,194.47L433.7,195.64L434.0,196.80L434.2,197.94L434.5,199.08L434.7,200.20L435.0,201.33L435.2,202.45L435.5,203.58L435.7,204.71L436.0,205.86L436.2,207.01L436.5,208.18L436.7,209.37L437.0,210.59L437.2,211.82L437.5,213.09L437.7,214.38L438.0,215.71L438.2,217.08L438.5,218.49L438.7,219.94L438.8,220.25L439.0,221.46L439.2,223.07L439.5,224.75L439.7,226.52L440.0,228.34L440.2,230.21L440.5,232.13L440.7,234.07L441.0,236.04L441.2,238.02L441.5,240.00L441.7,241.96L442.0,243.91L442.2,245.83L442.5,247.71L442.7,249.19L442.7,249.53L443.0,251.30L443.2,253.02L443.5,254.71L443.7,256.37L444.0,258.01L444.2,259.66L444.5,261.31L444.7,262.99L445.0,264.70L445.2,266.46L445.5,268.27L445.7,270.16L446.0,272.12L446.2,274.18L446.3,274.63L446.5,276.35L446.7,278.65L447.0,281.08L447.2,283.63L447.5,286.29L447.7,289.05L448.0,291.90L448.2,294.83L448.5,297.84L448.7,300.91L449.0,304.04L449.2,307.22L449.5,310.43L449.7,313.68L450.0,316.95L450.2,320.23L450.5,323.51L450.7,326.79L451.0,330.06L451.2,333.30L451.5,336.51L451.7,339.68L452.0,342.81L452.2,345.87L452.5,348.87L452.7,351.80L453.0,354.64L453.2,357.39L453.5,360.04L453.7,362.57L454.0,364.99L454.2,367.28L454.4,368.63L454.5,369.44L454.7,371.50L455.0,373.48L455.2,375.38L455.5,377.22L455.7,379.00L456.0,380.72L456.2,382.40L456.5,384.04L456.7,385.65L457.0,387.24L457.2,388.80L457.5,390.36L457.7,391.92L458.0,393.49L458.2,395.06L458.5,396.66L458.7,398.29L459.0,399.95L459.2,401.65L459.5,403.40L459.7,405.20L460.0,407.08L460.2,409.02L460.3,409.45L460.5,411.05L460.7,413.20L461.0,415.46L461.2,417.79L461.5,420.20L461.7,422.67L462.0,425.17L462.2,427.69L462.5,430.23L462.7,432.75L463.0,435.25L463.2,437.70L463.5,440.10L463.7,442.43L464.0,444.67L464.2,446.80L464.5,448.82L464.7,450.37L464.7,450.70L465.0,452.51L465.2,454.27L465.5,456.01L465.7,457.70L466.0,459.36L466.2,460.98L466.5,462.56L466.7,464.12L467.0,465.63L467.2,467.11L467.5,468.56L467.7,469.97L468.0,471.35L468.2,472.70L468.5,474.02L468.7,475.30L469.0,476.55L469.2,477.56L469.2,477.77L469.5,478.96L469.7,480.12L470.0,481.25L470.2,482.35L470.5,483.43L470.7,484.48L471.0,485.51L471.2,486.53L471.5,487.52L471.7,488.50L472.0,489.47L472.2,490.42L472.5,491.36L472.7,492.29L473.0,493.22L473.2,494.14L473.5,495.06L473.7,495.97L474.0,496.89L474.2,497.81L474.3,498.02L474.5,498.73L474.7,499.66L475.0,500.60L475.2,501.55L475.5,502.49L475.7,503.43L476.0,504.37L476.2,505.30L476.5,506.23L476.7,507.14L477.0,508.04L477.2,508.92L477.5,509.78L477.7,510.62L478.0,511.44L478.2,512.23L478.5,512.99L478.7,513.72L479.0,514.42L479.2,515.07L479.5,515.69L479.5,515.71L479.7,516.28L480.0,516.86L480.2,517.42L480.5,517.96L480.7,518.49L481.0,519.01L481.2,519.51L481.5,520.00L481.7,520.47L482.0,520.92L482.2,521.36L482.5,521.79L482.7,522.20L483.0,522.60L483.2,522.98L483.5,523.35L483.7,523.70L483.9,523.91L484.0,524.04L484.2,524.37L484.5,524.70L484.7,525.03L485.0,525.35L485.2,525.67L485.5,525.99L485.7,526.30L486.0,526.61L486.2,526.92L486.5,527.22L486.7,527.51L487.0,527.80L487.2,528.09L487.5,528.36L487.7,528.63L488.0,528.90L488.2,529.16L488.5,529.41L488.7,529.66L489.0,529.89L489.2,530.12L489.5,530.34L489.7,530.56L490.0,530.76L490.2,530.96L490.5,531.14L490.7,531.32L491.0,531.49L491.2,531.65L491.5,531.80L491.7,531.93L492.0,532.06L492.1,532.11L492.2,532.18L492.5,532.29L492.7,532.40L493.0,532.50L493.2,532.60L493.5,532.69L493.7,532.78L494.0,532.87L494.2,532.95L494.5,533.03L494.7,533.11L495.0,533.18L495.2,533.26L495.5,533.33L495.7,533.40L496.0,533.46L496.2,533.53L496.5,533.59L496.7,533.65L497.0,533.72L497.2,533.78L497.5,533.84L497.7,533.90L498.0,533.96L498.2,534.03L498.5,534.09L498.7,534.15L499.0,534.22L499.2,534.29L499.5,534.35L499.7,534.43L500.0,534.50L500.2,534.57L500.5,534.65L500.7,534.73L500.9,534.79L501.0,534.82L501.2,534.90L501.5,534.99L501.7,535.07L502.0,535.15L502.2,535.24L502.5,535.32L502.7,535.41L503.0,535.49L503.2,535.58L503.5,535.66L503.7,535.75L504.0,535.83L504.2,535.92L504.5,536.01L504.7,536.10L505.0,536.19L505.2,536.28L505.5,536.37L505.7,536.46L506.0,536.56L506.2,536.65L506.5,536.75L506.7,536.85L507.0,536.95L507.2,537.05L507.5,537.15L507.7,537.26L508.0,537.36L508.2,537.47L508.5,537.58L508.7,537.69L509.0,537.81L509.2,537.93L509.5,538.04L509.7,538.17L509.8,538.20L510.0,538.29L510.2,538.42L510.5,538.55L510.7,538.69L511.0,538.83L511.2,538.98L511.5,539.13L511.7,539.28L512.0,539.43L512.2,539.59L512.5,539.76L512.7,539.92L513.0,540.09L513.2,540.26L513.5,540.43L513.7,540.61L514.0,540.79L514.2,540.97L514.5,541.15L514.7,541.33L515.0,541.52L515.2,541.70L515.5,541.89L515.7,542.08L516.0,542.27L516.2,542.46L516.5,542.66L516.7,542.85L517.0,543.04L517.2,543.24L517.5,543.43L517.7,543.63L518.0,543.82L518.2,544.01L518.5,544.21L518.7,544.37L518.7,544.40L519.0,544.60L519.2,544.79L519.5,544.99L519.7,545.19L520.0,545.39L520.2,545.59L520.5,545.79L520.7,546.00L521.0,546.21L521.2,546.41L521.5,546.62L521.7,546.84L522.0,547.05L522.2,547.26L522.5,547.48L522.7,547.69L523.0,547.91L523.2,548.13L523.5,548.35L523.7,548.57L524.0,548.79L524.2,549.01L524.5,549.23L524.7,549.46L525.0,549.68L525.2,549.91L525.5,550.14L525.7,550.37L526.0,550.60L526.2,550.82L526.5,551.06L526.7,551.29L527.0,551.52L527.2,551.75L527.5,551.98L527.7,552.22L528.0,552.45L528.2,552.68L528.5,552.92L528.7,553.15L529.0,553.39L529.0,553.40L529.2,553.63L529.5,553.87L529.7,554.12L530.0,554.37L530.2,554.63L530.5,554.88L530.7,555.15L531.0,555.41L531.2,555.68L531.5,555.94L531.7,556.21L532.0,556.48L532.2,556.75L532.5,557.02L532.7,557.29L533.0,557.56L533.2,557.83L533.5,558.10L533.7,558.37L534.0,558.63L534.2,558.89L534.5,559.15L534.7,559.40L535.0,559.66L535.2,559.90L535.5,560.15L535.7,560.39L536.0,560.62L536.2,560.85L536.5,561.07L536.7,561.28L536.9,561.42L537.0,561.49L537.2,561.70L537.5,561.91L537.7,562.11L538.0,562.32L538.2,562.52L538.5,562.73L538.7,562.93L539.0,563.13L539.2,563.33L539.5,563.53L539.7,563.73L540.0,563.92L540.2,564.12L540.5,564.31L540.7,564.50L541.0,564.69L541.2,564.87L541.5,565.06L541.7,565.24L542.0,565.42L542.2,565.59L542.5,565.77L542.7,565.94L543.0,566.10L543.2,566.27L543.5,566.43L543.7,566.58L544.0,566.74L544.2,566.89L544.5,567.03L544.7,567.17L545.0,567.31L545.2,567.44L545.5,567.57L545.7,567.70L546.0,567.82L546.2,567.93L546.3,567.96L546.5,568.05L546.7,568.15L547.0,568.26L547.2,568.36L547.5,568.46L547.7,568.56L548.0,568.66L548.2,568.75L548.5,568.84L548.7,568.93L549.0,569.01L549.2,569.10L549.5,569.18L549.7,569.26L550.0,569.34L550.2,569.42L550.5,569.50L550.7,569.58L551.0,569.65L551.2,569.72L551.5,569.80L551.7,569.87L552.0,569.94L552.2,570.01L552.5,570.08L552.7,570.15L553.0,570.22L553.2,570.30L553.5,570.37L553.7,570.45L554.0,570.53L554.2,570.61L554.5,570.69L554.7,570.77L555.0,570.84L555.2,570.92L555.5,570.99L555.7,571.06L556.0,571.13L556.2,571.19L556.5,571.26L556.7,571.31L557.0,571.36L557.2,571.41L557.5,571.45L557.7,571.49L558.0,571.51L558.2,571.54L558.5,571.55L558.7,571.56L558.8,571.56L559.0,571.56L559.2,571.56L559.5,571.56L559.7,571.56L560.0,571.55L560.2,571.55L560.5,571.55L560.7,571.55L561.0,571.55L561.2,571.55L561.5,571.54L561.7,571.54L562.0,571.54L562.2,571.54L562.5,571.53L562.7,571.53L563.0,571.53L563.2,571.52L563.5,571.52L563.7,571.52L564.0,571.51L564.2,571.51L564.5,571.50L564.7,571.50L565.0,571.50L565.2,571.49L565.5,571.49L565.7,571.48L566.0,571.48L566.2,571.47L566.5,571.47L566.7,571.46L567.0,571.46L567.2,571.45L567.5,571.45L567.7,571.44L568.0,571.44L568.2,571.43L568.5,571.43L568.7,571.42L569.0,571.42L569.2,571.41L569.5,571.41L569.7,571.40L570.0,571.39L570.2,571.39L570.5,571.38L570.7,571.38L571.0,571.37L571.2,571.37L571.5,571.36L571.7,571.36L572.0,571.35L572.2,571.35L572.5,571.34L572.7,571.34L573.0,571.33L573.2,571.33L573.5,571.32L573.7,571.32L574.0,571.31L574.2,571.31L574.5,571.31L574.7,571.30L575.0,571.30L575.2,571.29L575.5,571.29L575.7,571.29L576.0,571.28L576.1,571.28L576.2,571.28L576.5,571.28L576.7,571.27L577.0,571.27L577.2,571.26L577.5,571.26L577.7,571.26L578.0,571.25L578.2,571.25L578.5,571.25L578.7,571.24L579.0,571.24L579.2,571.23L579.5,571.23L579.7,571.23L580.0,571.22L580.2,571.22L580.5,571.22L580.7,571.21L581.0,571.21L581.2,571.20L581.5,571.20L581.7,571.20L582.0,571.19L582.2,571.19L582.5,571.18L582.7,571.18L583.0,571.18L583.2,571.17L583.5,571.17L583.7,571.16L584.0,571.16L584.2,571.16L584.5,571.15L584.7,571.15L585.0,571.14L585.2,571.14L585.5,571.14L585.7,571.13L586.0,571.13L586.2,571.13L586.5,571.12L586.7,571.12L587.0,571.11L587.2,571.11L587.5,571.11L587.7,571.10L588.0,571.10L588.2,571.10L588.5,571.09L588.7,571.09L589.0,571.09L589.2,571.08L589.5,571.08L589.7,571.08L590.0,571.07L590.2,571.07L590.5,571.07L590.7,571.06L591.0,571.06L591.2,571.06L591.5,571.06L591.7,571.05L592.0,571.05L592.2,571.05L592.5,571.04L592.7,571.04L593.0,571.04L593.2,571.04L593.5,571.03L593.7,571.03L594.0,571.03L594.2,571.03L594.5,571.03L594.7,571.02L595.0,571.02L595.2,571.02L595.5,571.02L595.7,571.02L596.0,571.02L596.2,571.01L596.5,571.01L596.7,571.01L597.0,571.01L597.2,571.01L597.5,571.01L597.7,571.01L598.0,571.01L598.2,571.01L598.5,571.01L598.7,571.00L599.0,571.00L599.2,571.00L599.5,571.00L599.6,571.00L599.7,571.00L600.0,571.00L600.2,571.00L600.5,571.01L600.7,571.01L601.0,571.01L601.2,571.01L601.5,571.01L601.7,571.02L602.0,571.02L602.2,571.02L602.5,571.02L602.7,571.03L603.0,571.03L603.2,571.04L603.5,571.04L603.7,571.05L604.0,571.05L604.2,571.06L604.5,571.06L604.7,571.07L605.0,571.07L605.2,571.08L605.5,571.08L605.7,571.09L606.0,571.10L606.2,571.11L606.5,571.11L606.7,571.12L607.0,571.13L607.2,571.13L607.5,571.14L607.7,571.15L608.0,571.16L608.2,571.17L608.5,571.18L608.7,571.19L609.0,571.19L609.2,571.20L609.5,571.21L609.7,571.22L610.0,571.23L610.2,571.24L610.5,571.25L610.7,571.26L611.0,571.27L611.2,571.28L611.5,571.29L611.7,571.30L612.0,571.31L612.2,571.32L612.5,571.33L612.7,571.34L613.0,571.35L613.2,571.36L613.5,571.38L613.7,571.39L614.0,571.40L614.2,571.41L614.5,571.42L614.7,571.43L615.0,571.44L615.2,571.45L615.5,571.46L615.7,571.48L616.0,571.49L616.2,571.50L616.5,571.51L616.7,571.52L617.0,571.53L617.2,571.54L617.5,571.55L617.7,571.57L618.0,571.58L618.2,571.59L618.5,571.60L618.7,571.61L619.0,571.62L619.2,571.63L619.5,571.64L619.7,571.66L620.0,571.67L620.2,571.68L620.5,571.69L620.7,571.70L621.0,571.71L621.2,571.72L621.5,571.73L621.7,571.74L622.0,571.75L622.2,571.76L622.5,571.77L622.7,571.78L623.0,571.79L623.2,571.80L623.5,571.81L623.7,571.82L624.0,571.83L624.2,571.84L624.5,571.85L624.7,571.86L625.0,571.87L625.2,571.87L625.5,571.88L625.7,571.89L626.0,571.90L626.2,571.91L626.5,571.91L626.7,571.92L627.0,571.93L627.2,571.94L627.5,571.94L627.7,571.95L628.0,571.96L628.2,571.96L628.5,571.97L628.7,571.98L629.0,571.98L629.2,571.99L629.5,571.99L629.7,572.00L630.0,572.00L630.2,572.01L630.5,572.01L630.7,572.01L631.0,572.02L631.2,572.02L631.5,572.02L631.7,572.03L632.0,572.03L632.2,572.03L632.5,572.04L632.7,572.04L633.0,572.04L633.2,572.05L633.5,572.05L633.7,572.05L634.0,572.06L634.2,572.06L634.5,572.06L634.7,572.07L635.0,572.07L635.2,572.07L635.5,572.08L635.7,572.08L636.0,572.08L636.2,572.09L636.5,572.09L636.7,572.09L637.0,572.10L637.2,572.10L637.5,572.10L637.7,572.11L638.0,572.11L638.2,572.11L638.5,572.12L638.7,572.12L639.0,572.12L639.2,572.13L639.5,572.13L639.7,572.13L640.0,572.14L640.2,572.14L640.5,572.14L640.7,572.14L641.0,572.15L641.2,572.15L641.5,572.15L641.7,572.16L642.0,572.16L642.2,572.16L642.5,572.17L642.7,572.17L643.0,572.17L643.2,572.17L643.5,572.18L643.7,572.18L644.0,572.18L644.2,572.19L644.5,572.19L644.7,572.19L645.0,572.20L645.2,572.20L645.5,572.20L645.7,572.20L646.0,572.21L646.2,572.21L646.5,572.21L646.7,572.22L647.0,572.22L647.2,572.22L647.5,572.22L647.7,572.23L648.0,572.23L648.2,572.23L648.5,572.23L648.7,572.24L649.0,572.24L649.2,572.24L649.5,572.25L649.7,572.25L650.0,572.25L650.2,572.25L650.5,572.26L650.7,572.26L651.0,572.26L651.2,572.26L651.5,572.27L651.7,572.27L652.0,572.27L652.2,572.27L652.5,572.28L652.7,572.28L653.0,572.28L653.2,572.28L653.5,572.29L653.7,572.29L654.0,572.29L654.2,572.30L654.5,572.30L654.7,572.30L655.0,572.30L655.2,572.30L655.5,572.31L655.7,572.31L656.0,572.31L656.2,572.31L656.5,572.32L656.7,572.32L657.0,572.32L657.2,572.32L657.5,572.33L657.7,572.33L658.0,572.33L658.2,572.33L658.5,572.34L658.7,572.34L659.0,572.34L659.2,572.34L659.5,572.35L659.7,572.35L660.0,572.35L660.2,572.35L660.5,572.35L660.7,572.36L661.0,572.36L661.2,572.36L661.5,572.36L661.7,572.37L662.0,572.37L662.2,572.37L662.5,572.37L662.7,572.37L663.0,572.38L663.2,572.38L663.5,572.38L663.7,572.38L664.0,572.38L664.2,572.39L664.5,572.39L664.7,572.39L665.0,572.39L665.2,572.39L665.5,572.40L665.7,572.40L666.0,572.40L666.2,572.40L666.5,572.40L666.7,572.41L667.0,572.41L667.2,572.41L667.5,572.41L667.7,572.41L668.0,572.42L668.2,572.42L668.5,572.42L668.7,572.42L669.0,572.42L669.2,572.43L669.5,572.43L669.7,572.43L670.0,572.43L670.2,572.43L670.5,572.43L670.7,572.44L671.0,572.44L671.2,572.44L671.5,572.44L671.7,572.44L672.0,572.45L672.2,572.45L672.5,572.45L672.7,572.45L673.0,572.45L673.2,572.45L673.5,572.46L673.7,572.46L674.0,572.46L674.2,572.46L674.5,572.46L674.7,572.46L675.0,572.47L675.2,572.47L675.5,572.47L675.7,572.47L676.0,572.47L676.2,572.47L676.5,572.47L676.7,572.48L677.0,572.48L677.2,572.48L677.5,572.48L677.7,572.48L678.0,572.48L678.2,572.49L678.5,572.49L678.7,572.49L679.0,572.49L679.2,572.49L679.5,572.49L679.7,572.49L680.0,572.50L680.2,572.50L680.5,572.50L680.7,572.50L681.0,572.50L681.2,572.50L681.5,572.50L681.7,572.50L682.0,572.51L682.2,572.51L682.5,572.51L682.7,572.51L683.0,572.51L683.2,572.51L683.5,572.51L683.7,572.51L684.0,572.52L684.2,572.52L684.5,572.52L684.7,572.52L685.0,572.52L685.2,572.52L685.5,572.52L685.7,572.52L686.0,572.53L686.2,572.53L686.5,572.53L686.7,572.53L687.0,572.53L687.2,572.53L687.5,572.53L687.7,572.53L688.0,572.53L688.2,572.53L688.5,572.54L688.7,572.54L689.0,572.54L689.2,572.54L689.5,572.54L689.7,572.54L690.0,572.54L690.2,572.54L690.5,572.54L690.7,572.54L691.0,572.55L691.2,572.55L691.5,572.55L691.7,572.55L692.0,572.55L692.2,572.55L692.5,572.55L692.7,572.55L693.0,572.55L693.2,572.55L693.5,572.55L693.7,572.55L694.0,572.56L694.2,572.56L694.5,572.56L694.7,572.56L695.0,572.56L695.2,572.56L695.5,572.56L695.7,572.56L696.0,572.56L696.2,572.56L696.5,572.56L696.7,572.56L697.0,572.56L697.2,572.56L697.5,572.56L697.7,572.57L698.0,572.57L698.2,572.57L698.5,572.57L698.7,572.57L699.0,572.57L699.2,572.57L699.5,572.57L699.7,572.57L700.0,572.57L700.2,572.57L700.5,572.57L700.7,572.57L701.0,572.57L701.2,572.57L701.5,572.57L701.7,572.57L702.0,572.57L702.2,572.57L702.5,572.58L702.7,572.58L703.0,572.58L703.2,572.58L703.5,572.58L703.7,572.58L704.0,572.58L704.2,572.58L704.5,572.58L704.7,572.58L705.0,572.58L705.2,572.58L705.5,572.58L705.7,572.58L706.0,572.58L706.2,572.58L706.5,572.58L706.7,572.58L707.0,572.58L707.2,572.58L707.5,572.59L707.7,572.59L708.0,572.59L708.2,572.59L708.5,572.59L708.7,572.59L709.0,572.59L709.2,572.59L709.5,572.59L709.7,572.59L710.0,572.59L710.2,572.59L710.5,572.59L710.7,572.59L711.0,572.59L711.2,572.59L711.5,572.59L711.7,572.59L712.0,572.59L712.2,572.59L712.5,572.59L712.7,572.59L713.0,572.60L713.2,572.60L713.5,572.60L713.7,572.60L714.0,572.60L714.2,572.60L714.5,572.60L714.7,572.60L715.0,572.60L715.2,572.60L715.5,572.60L715.7,572.60L716.0,572.60L716.2,572.60L716.5,572.60L716.7,572.60L717.0,572.60L717.2,572.60L717.5,572.60L717.7,572.60L718.0,572.60L718.2,572.60L718.5,572.61L718.7,572.61L719.0,572.61L719.2,572.61L719.5,572.61L719.7,572.61L720.0,572.61L720.2,572.61L720.5,572.61L720.7,572.61L721.0,572.61L721.2,572.61L721.5,572.61L721.7,572.61L722.0,572.61L722.2,572.61L722.5,572.61L722.7,572.61L723.0,572.61L723.2,572.61L723.5,572.61L723.7,572.61L724.0,572.62L724.2,572.62L724.5,572.62L724.7,572.62L725.0,572.62L725.2,572.62L725.5,572.62L725.7,572.62L726.0,572.62L726.2,572.62L726.5,572.62L726.7,572.62L727.0,572.62L727.2,572.62L727.5,572.62L727.7,572.62L728.0,572.62L728.2,572.62L728.5,572.62L728.7,572.62L729.0,572.62L729.2,572.62L729.5,572.62L729.7,572.62L730.0,572.63L730.2,572.63L730.5,572.63L730.7,572.63L731.0,572.63L731.2,572.63L731.5,572.63L731.7,572.63L732.0,572.63L732.2,572.63L732.5,572.63L732.7,572.63L733.0,572.63L733.2,572.63L733.5,572.63L733.7,572.63L734.0,572.63L734.2,572.63L734.5,572.63L734.7,572.63L735.0,572.63L735.2,572.63L735.5,572.63L735.7,572.63L736.0,572.63L736.2,572.64L736.5,572.64L736.7,572.64L737.0,572.64L737.2,572.64L737.5,572.64L737.7,572.64L738.0,572.64L738.2,572.64L738.5,572.64L738.7,572.64L739.0,572.64L739.2,572.64L739.5,572.64L739.7,572.64L740.0,572.64L740.2,572.64L740.5,572.64L740.7,572.64L741.0,572.64L741.2,572.64L741.5,572.64L741.7,572.64L742.0,572.64L742.2,572.64L742.5,572.65L742.7,572.65L743.0,572.65L743.2,572.65L743.5,572.65L743.7,572.65L744.0,572.65L744.2,572.65L744.5,572.65L744.7,572.65L745.0,572.65L745.2,572.65L745.5,572.65L745.7,572.65L746.0,572.65L746.2,572.65L746.5,572.65L746.7,572.65L747.0,572.65L747.2,572.65L747.5,572.65L747.7,572.65L748.0,572.65L748.2,572.65L748.5,572.65L748.7,572.65L749.0,572.65L749.2,572.66L749.5,572.66L749.7,572.66L750.0,572.66L750.2,572.66L750.5,572.66L750.7,572.66L751.0,572.66L751.2,572.66L751.5,572.66L751.7,572.66L752.0,572.66L752.2,572.66L752.5,572.66L752.7,572.66L753.0,572.66L753.2,572.66L753.5,572.66L753.7,572.66L754.0,572.66L754.2,572.66L754.5,572.66L754.7,572.66L755.0,572.66L755.2,572.66L755.5,572.66L755.7,572.66L756.0,572.66L756.2,572.66L756.5,572.67L756.7,572.67L757.0,572.67L757.2,572.67L757.5,572.67L757.7,572.67L758.0,572.67L758.2,572.67L758.5,572.67L758.7,572.67L759.0,572.67L759.2,572.67L759.5,572.67L759.7,572.67L760.0,572.67L760.2,572.67L760.5,572.67L760.7,572.67L761.0,572.67L761.2,572.67L761.5,572.67L761.7,572.67L762.0,572.67L762.2,572.67L762.5,572.67L762.7,572.67L763.0,572.67L763.2,572.67L763.5,572.67L763.7,572.68L764.0,572.68L764.2,572.68L764.5,572.68L764.7,572.68L765.0,572.68L765.2,572.68L765.5,572.68L765.7,572.68L766.0,572.68L766.2,572.68L766.5,572.68L766.7,572.68L767.0,572.68L767.2,572.68L767.5,572.68L767.7,572.68L768.0,572.68L768.2,572.68L768.5,572.68L768.7,572.68L769.0,572.68L769.2,572.68L769.5,572.68L769.7,572.68L770.0,572.68L770.2,572.68L770.5,572.68L770.7,572.68L771.0,572.68L771.2,572.68L771.5,572.68L771.7,572.69L772.0,572.69L772.2,572.69L772.5,572.69L772.7,572.69L773.0,572.69L773.2,572.69L773.5,572.69L773.7,572.69L774.0,572.69L774.2,572.69L774.5,572.69L774.7,572.69L775.0,572.69L775.2,572.69L775.5,572.69L775.7,572.69L776.0,572.69L776.2,572.69L776.5,572.69L776.7,572.69L777.0,572.69L777.2,572.69L777.5,572.69L777.7,572.69L778.0,572.69L778.2,572.69L778.5,572.69L778.7,572.69L779.0,572.69L779.2,572.69L779.5,572.69L779.7,572.69L780.0,572.69L780.2,572.69L780.5,572.70L780.7,572.70L781.0,572.70L781.2,572.70L781.5,572.70L781.7,572.70L782.0,572.70L782.2,572.70L782.5,572.70L782.7,572.70L783.0,572.70L783.2,572.70L783.5,572.70L783.7,572.70L784.0,572.70L784.2,572.70L784.5,572.70L784.7,572.70L785.0,572.70L785.2,572.70L785.5,572.70L785.7,572.70L786.0,572.70L786.2,572.70L786.5,572.70L786.7,572.70L787.0,572.70L787.2,572.70L787.5,572.70L787.7,572.70L788.0,572.70L788.2,572.70L788.5,572.70L788.7,572.70L789.0,572.70L789.2,572.70L789.5,572.70L789.7,572.71L790.0,572.71L790.2,572.71L790.5,572.71L790.7,572.71L791.0,572.71L791.2,572.71L791.5,572.71L791.7,572.71L792.0,572.71L792.2,572.71L792.5,572.71L792.7,572.71L793.0,572.71L793.2,572.71L793.5,572.71L793.7,572.71L794.0,572.71L794.2,572.71L794.5,572.71L794.7,572.71L795.0,572.71L795.2,572.71L795.5,572.71L795.7,572.71L796.0,572.71L796.2,572.71L796.5,572.71L796.7,572.71L797.0,572.71L797.2,572.71L797.5,572.71L797.7,572.71L798.0,572.71L798.2,572.71L798.5,572.71L798.7,572.71L799.0,572.71L799.2,572.71L799.5,572.71L799.7,572.71L800.0,572.71L800.2,572.72L800.5,572.72L800.7,572.72L801.0,572.72L801.2,572.72L801.5,572.72L801.7,572.72L802.0,572.72L802.2,572.72L802.5,572.72L802.7,572.72L803.0,572.72L803.2,572.72L803.5,572.72L803.7,572.72L804.0,572.72L804.2,572.72L804.5,572.72L804.7,572.72L805.0,572.72L805.2,572.72L805.5,572.72L805.7,572.72L806.0,572.72L806.2,572.72L806.5,572.72L806.7,572.72L807.0,572.72L807.2,572.72L807.5,572.72L807.7,572.72L808.0,572.72L808.2,572.72L808.5,572.72L808.7,572.72L809.0,572.72L809.2,572.72L809.5,572.72L809.7,572.72L810.0,572.72L810.2,572.72L810.5,572.72L810.7,572.72L811.0,572.72L811.2,572.72L811.5,572.72L811.7,572.72L812.0,572.73L812.2,572.73L812.5,572.73L812.7,572.73L813.0,572.73L813.2,572.73L813.5,572.73L813.7,572.73L814.0,572.73L814.2,572.73L814.5,572.73L814.7,572.73L815.0,572.73L815.2,572.73L815.5,572.73L815.7,572.73L816.0,572.73L816.2,572.73L816.5,572.73L816.7,572.73L817.0,572.73L817.2,572.73L817.5,572.73L817.7,572.73L818.0,572.73L818.2,572.73L818.5,572.73L818.7,572.73L819.0,572.73L819.2,572.73L819.5,572.73L819.7,572.73L820.0,572.73L820.2,572.73L820.5,572.73L820.7,572.73L821.0,572.73L821.2,572.73L821.5,572.73L821.7,572.73L822.0,572.73L822.2,572.73L822.5,572.73L822.7,572.73L823.0,572.73L823.2,572.73L823.5,572.73L823.7,572.73L824.0,572.73L824.2,572.73L824.5,572.73L824.7,572.73L825.0,572.73L825.2,572.73L825.5,572.73L825.7,572.73L826.0,572.74L826.2,572.74L826.5,572.74L826.7,572.74L827.0,572.74L827.2,572.74L827.5,572.74L827.7,572.74L828.0,572.74L828.2,572.74L828.5,572.74L828.7,572.74L829.0,572.74L829.2,572.74L829.5,572.74L829.7,572.74L830.0,572.74L830.2,572.74L830.5,572.74L830.7,572.74L831.0,572.74L831.2,572.74L831.5,572.74L831.7,572.74L832.0,572.74L832.2,572.74L832.5,572.74L832.7,572.74L833.0,572.74L833.2,572.74L833.5,572.74L833.7,572.74L834.0,572.74L834.2,572.74L834.5,572.74L834.7,572.74L835.0,572.74L835.2,572.74L835.5,572.74L835.7,572.74L836.0,572.74L836.2,572.74L836.5,572.74L836.7,572.74L837.0,572.74L837.2,572.74L837.5,572.74L837.7,572.74L838.0,572.74L838.2,572.74L838.5,572.74L838.7,572.74L839.0,572.74L839.2,572.74L839.5,572.74L839.7,572.74L840.0,572.74L840.2,572.74L840.5,572.74L840.7,572.74L841.0,572.74L841.2,572.74L841.5,572.74L841.7,572.74L842.0,572.74L842.2,572.74L842.5,572.74L842.7,572.74L843.0,572.74L843.2,572.74L843.5,572.74L843.7,572.74L844.0,572.74L844.2,572.75L844.5,572.75L844.7,572.75L845.0,572.75L845.2,572.75L845.5,572.75L845.7,572.75L846.0,572.75L846.2,572.75L846.5,572.75L846.7,572.75L847.0,572.75L847.2,572.75L847.5,572.75L847.7,572.75L848.0,572.75L848.2,572.75L848.5,572.75L848.7,572.75L849.0,572.75L849.2,572.75L849.5,572.75L849.7,572.75L850.0,572.75L850.2,572.75L850.5,572.75L850.7,572.75L851.0,572.75L851.2,572.75L851.5,572.75L851.7,572.75L852.0,572.75L852.2,572.75L852.5,572.75L852.7,572.75L853.0,572.75L853.2,572.75L853.5,572.75L853.7,572.75L854.0,572.75L854.2,572.75L854.5,572.75L854.7,572.75L855.0,572.75L855.2,572.75L855.5,572.75L855.7,572.75L856.0,572.75L856.2,572.75L856.5,572.75L856.7,572.75L857.0,572.75L857.2,572.75L857.5,572.75L857.7,572.75L858.0,572.75L858.2,572.75L858.5,572.75L858.7,572.75L859.0,572.75L859.2,572.75L859.5,572.75L859.7,572.75L860.0,572.75L860.2,572.75L860.5,572.75L860.7,572.75L861.0,572.75L861.2,572.75L861.5,572.75L861.7,572.75L862.0,572.75L862.2,572.75L862.5,572.75L862.7,572.75L863.0,572.75L863.2,572.75L863.5,572.75L863.7,572.75L864.0,572.75L864.2,572.75L864.5,572.75L864.7,572.75L865.0,572.75L865.2,572.75L865.5,572.75L865.7,572.75L866.0,572.75L866.2,572.75L866.5,572.75L866.7,572.75L867.0,572.75L867.2,572.75L867.5,572.75L867.7,572.75L868.0,572.75L868.2,572.75L868.5,572.75L868.7,572.75L869.0,572.75L869.2,572.75L869.5,572.75L869.7,572.75L870.0,572.75L870.2,572.75L870.5,572.75L870.7,572.75L871.0,572.75L871.2,572.75L871.5,572.75L871.7,572.75L872.0,572.75L872.2,572.75L872.5,572.75L872.7,572.75L873.0,572.75L873.2,572.75L873.5,572.75L873.7,572.75L874.0,572.75L874.2,572.75L874.5,572.75L874.7,572.75L875.0,572.75L875.2,572.75L875.5,572.75L875.7,572.75L876.0,572.75L876.2,572.75L876.5,572.75L876.7,572.75L877.0,572.75L877.2,572.75L877.5,572.75L877.7,572.75L878.0,572.75L878.2,572.75L878.5,572.75L878.7,572.75L879.0,572.75L879.2,572.75L879.5,572.75L879.7,572.75L880.0,572.75L880.2,572.75L880.5,572.75L880.7,572.75L881.0,572.75L881.2,572.75L881.5,572.75L881.7,572.75L882.0,572.75L882.2,572.75L882.5,572.75L882.7,572.75L883.0,572.75L883.2,572.75L883.5,572.75L883.7,572.75L884.0,572.75L884.2,572.75L884.5,572.75L884.7,572.75L885.0,572.75L885.2,572.75L885.5,572.75L885.7,572.75L886.0,572.75L886.2,572.75L886.5,572.75L886.7,572.75L887.0,572.75L887.2,572.75L887.5,572.75L887.7,572.75L888.0,572.75L888.2,572.75L890.6,1068.65L906.3,1068.65L906.5,1066.80L906.8,1064.96L907.0,1063.11L907.3,1061.27L907.5,1059.42L907.8,1057.58L908.0,1055.73L908.3,1053.89L908.5,1052.05L908.8,1050.20L909.0,1048.36L909.3,1046.52L909.5,1044.68L909.8,1042.84L910.0,1041.00L910.3,1039.16L910.5,1037.32L910.8,1035.48L911.0,1034.00L911.0,1033.64L911.3,1031.80L911.5,1029.95L911.8,1028.11L912.0,1026.26L912.3,1024.41L912.5,1022.55L912.8,1020.70L913.0,1018.85L913.3,1017.00L913.5,1015.15L913.8,1013.30L914.0,1011.46L914.3,1009.61L914.5,1007.78L914.8,1005.94L915.0,1004.11L915.3,1002.29L915.5,1000.47L915.8,998.66L916.0,996.85L916.3,995.06L916.5,993.27L916.6,992.90L916.8,991.49L917.0,989.72L917.3,987.95L917.5,986.19L917.8,984.44L918.0,982.69L918.3,980.95L918.5,979.21L918.8,977.48L919.0,975.75L919.3,974.02L919.5,972.30L919.8,970.58L920.0,968.86L920.3,967.14L920.5,965.42L920.8,963.71L921.0,961.99L921.3,960.28L921.5,958.56L921.7,957.51L921.8,956.85L922.0,955.15L922.3,953.48L922.5,951.83L922.8,950.19L923.0,948.55L923.3,946.92L923.5,945.28L923.8,943.63L924.0,941.96L924.3,940.27L924.5,938.55L924.8,936.79L925.0,934.99L925.3,933.15L925.5,931.61L925.5,931.26L925.8,929.32L926.0,927.33L926.3,925.30L926.5,923.23L926.8,921.13L927.0,918.99L927.3,916.81L927.5,914.61L927.8,912.38L928.0,910.13L928.3,907.85L928.5,905.55L928.8,903.24L929.0,900.91L929.3,898.57L929.3,898.53L929.5,896.23L929.8,893.88L930.0,891.52L930.3,889.14L930.5,886.73L930.8,884.27L931.0,881.75L931.3,879.16L931.5,876.49L931.8,873.74L932.0,870.88L932.1,870.24L932.3,867.90L932.5,864.77L932.8,861.51L933.0,858.14L933.3,854.66L933.5,851.10L933.8,847.47L934.0,843.77L934.3,840.04L934.5,836.28L934.8,832.51L935.0,829.41L935.0,828.74L935.3,824.85L935.5,820.82L935.8,816.67L936.0,812.43L936.3,808.13L936.5,803.81L936.8,799.50L937.0,795.23L937.3,791.03L937.5,786.93L937.8,782.97L938.0,779.17L938.3,775.58L938.4,774.12L938.5,772.18L938.8,768.88L939.0,765.66L939.3,762.52L939.5,759.44L939.8,756.43L940.0,753.48L940.3,750.59L940.5,747.76L940.8,744.97L941.0,742.24L941.3,739.54L941.5,736.89L941.8,734.27L942.0,731.68L942.3,729.13L942.4,728.04L942.5,726.60L942.8,724.12L943.0,721.69L943.3,719.31L943.5,716.97L943.8,714.67L944.0,712.40L944.3,710.16L944.5,707.94L944.8,705.74L945.0,703.56L945.3,701.40L945.5,699.23L945.8,697.08L946.0,694.92L946.3,692.76L946.5,690.58L946.8,688.40L947.0,686.57L947.0,686.19L947.3,683.94L947.5,681.64L947.8,679.29L948.0,676.93L948.3,674.57L948.5,672.22L948.8,669.90L949.0,667.63L949.3,665.42L949.5,663.29L949.8,661.26L950.0,659.33L950.3,657.54L950.5,656.16L950.5,655.89L950.8,654.34L951.0,652.85L951.3,651.43L951.5,650.07L951.8,648.76L952.0,647.52L952.3,646.33L952.5,645.20L952.8,644.12L953.0,643.25L953.0,643.09L953.3,642.09L953.5,641.11L953.8,640.16L954.0,639.23L954.3,638.32L954.5,637.43L954.8,636.57L955.0,635.73L955.3,634.92L955.5,634.14L955.8,633.38L956.0,632.65L956.3,631.95L956.5,631.28L956.8,630.64L957.0,630.03L957.3,629.45L957.3,629.43L957.5,628.90L957.8,628.35L958.0,627.81L958.3,627.27L958.5,626.75L958.8,626.24L959.0,625.75L959.3,625.27L959.5,624.81L959.8,624.36L960.0,623.94L960.3,623.53L960.5,623.15L960.8,622.79L961.0,622.45L961.3,622.14L961.5,621.86L961.8,621.60L962.0,621.41L962.0,621.38L962.3,621.17L962.5,620.95L962.8,620.74L963.0,620.54L963.3,620.34L963.5,620.14L963.8,619.96L964.0,619.78L964.3,619.62L964.5,619.46L964.8,619.32L965.0,619.20L965.3,619.09L965.5,619.00L965.8,618.93L966.0,618.87L966.3,618.84L966.5,618.83L966.8,618.84L967.0,618.87L967.3,618.91L967.5,618.97L967.8,619.03L968.0,619.11L968.3,619.20L968.5,619.30L968.8,619.41L969.0,619.53L969.3,619.65L969.5,619.78L969.8,619.91L970.0,620.05L970.3,620.19L970.5,620.33L970.8,620.47L971.0,620.61L971.3,620.75L971.5,620.89L971.8,621.03L972.0,621.14L972.0,621.16L972.3,621.29L972.5,621.43L972.8,621.58L973.0,621.73L973.3,621.89L973.5,622.05L973.8,622.22L974.0,622.39L974.3,622.57L974.5,622.75L974.8,622.93L975.0,623.12L975.3,623.31L975.5,623.50L975.8,623.69L976.0,623.88L976.3,624.07L976.5,624.26L976.8,624.45L977.0,624.64L977.3,624.83L977.5,625.02L977.8,625.20L978.0,625.39L978.3,625.56L978.5,625.74L978.8,625.91L979.0,626.08L979.3,626.24L979.5,626.39L979.8,626.54L980.0,626.67L980.0,626.69L980.3,626.83L980.5,626.98L980.8,627.13L981.0,627.29L981.3,627.45L981.5,627.61L981.8,627.77L982.0,627.93L982.3,628.09L982.5,628.25L982.8,628.41L983.0,628.57L983.3,628.72L983.5,628.86L983.8,629.01L984.0,629.14L984.3,629.27L984.5,629.40L984.8,629.51L985.0,629.62L985.3,629.72L985.5,629.80L985.8,629.88L986.0,629.95L986.3,630.00L986.5,630.04L986.8,630.06L987.0,630.08L987.1,630.08L987.3,630.07L987.5,630.05L987.8,630.01L988.0,629.96L988.3,629.89L988.5,629.80L988.8,629.70L989.0,629.59L989.3,629.47L989.5,629.33L989.8,629.19L990.0,629.03L990.3,628.86L990.5,628.69L990.8,628.50L991.0,628.31L991.3,628.11L991.5,627.91L991.8,627.70L992.0,627.49L992.3,627.27L992.5,627.05L992.8,626.83L993.0,626.60L993.3,626.38L993.5,626.15L993.8,625.92L994.0,625.70L994.3,625.48L994.5,625.28L994.5,625.26L994.8,625.03L995.0,624.78L995.3,624.52L995.5,624.25L995.8,623.97L996.0,623.67L996.3,623.37L996.5,623.05L996.8,622.73L997.0,622.39L997.3,622.05L997.5,621.70L997.8,621.35L998.0,620.99L998.3,620.63L998.5,620.26L998.8,619.89L999.0,619.52L999.3,619.15L999.5,618.77L999.8,618.40L1000.0,618.03L1000.3,617.66L1000.5,617.30L1000.8,616.94L1001.0,616.58L1001.2,616.35L1001.3,616.23L1001.5,615.88L1001.8,615.52L1002.0,615.17L1002.3,614.81L1002.5,614.45L1002.8,614.09L1003.0,613.72L1003.3,613.36L1003.5,612.99L1003.8,612.62L1004.0,612.25L1004.3,611.88L1004.5,611.51L1004.8,611.13L1005.0,610.76L1005.3,610.39L1005.5,610.01L1005.8,609.64L1006.0,609.26L1006.3,608.88L1006.5,608.51L1006.8,608.13L1007.0,607.76L1007.3,607.38L1007.5,607.01L1007.8,606.64L1008.0,606.26L1008.3,605.89L1008.5,605.52L1008.8,605.15L1009.0,604.83L1009.0,604.78L1009.3,604.41L1009.5,604.04L1009.8,603.66L1010.0,603.29L1010.3,602.91L1010.5,602.53L1010.8,602.15L1011.0,601.77L1011.3,601.39L1011.5,601.00L1011.8,600.62L1012.0,600.24L1012.3,599.86L1012.5,599.48L1012.8,599.10L1013.0,598.72L1013.3,598.34L1013.5,597.97L1013.8,597.59L1014.0,597.22L1014.3,596.85L1014.5,596.49L1014.8,596.13L1015.0,595.77L1015.3,595.41L1015.5,595.06L1015.8,594.71L1016.0,594.37L1016.3,594.03L1016.5,593.70L1016.8,593.37L1016.9,593.21L1017.0,593.05L1017.3,592.72L1017.5,592.40L1017.8,592.08L1018.0,591.76L1018.3,591.44L1018.5,591.12L1018.8,590.80L1019.0,590.48L1019.3,590.17L1019.5,589.86L1019.8,589.56L1020.0,589.26L1020.3,588.96L1020.5,588.67L1020.8,588.38L1021.0,588.10L1021.3,587.82L1021.5,587.55L1021.8,587.29L1022.0,587.03L1022.3,586.78L1022.5,586.54L1022.8,586.31L1023.0,586.09L1023.1,586.03L1023.3,585.87L1023.5,585.66L1023.8,585.45L1024.0,585.24L1024.3,585.04L1024.5,584.84L1024.8,584.64L1025.0,584.44L1025.3,584.25L1025.5,584.06L1025.8,583.88L1026.0,583.70L1026.3,583.52L1026.5,583.35L1026.8,583.18L1027.0,583.02L1027.3,582.86L1027.5,582.70L1027.8,582.55L1028.0,582.40L1028.3,582.26L1028.5,582.13L1028.8,582.00L1029.0,581.87L1029.3,581.75L1029.4,581.69L1029.5,581.64L1029.8,581.52L1030.0,581.41L1030.3,581.29L1030.5,581.17L1030.8,581.06L1031.0,580.94L1031.3,580.83L1031.5,580.71L1031.8,580.60L1032.0,580.48L1032.3,580.37L1032.5,580.26L1032.8,580.14L1033.0,580.03L1033.3,579.93L1033.5,579.82L1033.8,579.71L1034.0,579.61L1034.3,579.51L1034.5,579.41L1034.8,579.31L1035.0,579.22L1035.3,579.13L1035.5,579.04L1035.8,578.96L1036.0,578.87L1036.3,578.79L1036.5,578.72L1036.8,578.65L1037.0,578.58L1037.3,578.51L1037.5,578.45L1037.8,578.40L1038.0,578.35L1038.3,578.30L1038.5,578.26L1038.8,578.22L1039.0,578.19L1039.3,578.16L1039.5,578.14L1039.8,578.12L1040.0,578.11L1040.3,578.10L1040.4,578.10L1040.5,578.10L1040.8,578.10L1041.0,578.11L1041.3,578.12L1041.5,578.14L1041.8,578.15L1042.0,578.18L1042.3,578.20L1042.5,578.23L1042.8,578.25L1043.0,578.29L1043.3,578.32L1043.5,578.36L1043.8,578.40L1044.0,578.44L1044.3,578.48L1044.5,578.52L1044.8,578.57L1045.0,578.62L1045.3,578.67L1045.5,578.72L1045.8,578.77L1046.0,578.82L1046.3,578.87L1046.5,578.93L1046.8,578.98L1047.0,579.03L1047.3,579.09L1047.5,579.14L1047.8,579.20L1048.0,579.25L1048.3,579.31L1048.5,579.36L1048.8,579.42L1049.0,579.47L1049.3,579.52L1049.5,579.57L1049.8,579.62L1050.0,579.67L1050.3,579.72L1050.5,579.77L1050.8,579.82L1051.0,579.88L1051.3,579.93L1051.5,579.99L1051.8,580.05L1052.0,580.11L1052.3,580.17L1052.5,580.23L1052.8,580.29L1053.0,580.36L1053.3,580.42L1053.5,580.49L1053.8,580.55L1054.0,580.62L1054.3,580.69L1054.5,580.76L1054.8,580.83L1055.0,580.89L1055.3,580.96L1055.5,581.03L1055.8,581.10L1056.0,581.17L1056.3,581.24L1056.5,581.31L1056.8,581.38L1057.0,581.45L1057.3,581.52L1057.5,581.59L1057.8,581.66L1058.0,581.73L1058.3,581.80L1058.5,581.87L1058.8,581.94L1059.0,582.00L1059.3,582.07L1059.5,582.13L1059.8,582.20L1060.0,582.26L1060.3,582.32L1060.5,582.39L1060.8,582.45L1061.0,582.50L1061.3,582.56L1061.5,582.62L1061.8,582.67L1062.0,582.73L1062.3,582.78L1062.5,582.83L1062.8,582.88L1063.0,582.93L1063.3,582.97L1063.5,583.01L1063.8,583.06L1063.9,583.08L1064.0,583.10L1064.3,583.14L1064.5,583.18L1064.8,583.22L1065.0,583.26L1065.3,583.30L1065.5,583.34L1065.8,583.38L1066.0,583.42L1066.3,583.46L1066.5,583.50L1066.8,583.54L1067.0,583.58L1067.3,583.62L1067.5,583.66L1067.8,583.70L1068.0,583.74L1068.3,583.78L1068.5,583.82L1068.8,583.86L1069.0,583.89L1069.3,583.93L1069.5,583.97L1069.8,584.00L1070.0,584.04L1070.3,584.07L1070.5,584.10L1070.8,584.14L1071.0,584.17L1071.3,584.20L1071.5,584.23L1071.8,584.26L1072.0,584.29L1072.3,584.31L1072.5,584.34L1072.8,584.36L1073.0,584.39L1073.3,584.41L1073.5,584.43L1073.8,584.45L1074.0,584.46L1074.3,584.48L1074.5,584.49L1074.8,584.51L1075.0,584.52L1075.3,584.53L1075.5,584.54L1075.8,584.54L1076.0,584.55L1076.3,584.55L1076.5,584.55L1076.8,584.55L1077.0,584.54L1077.3,584.54L1077.5,584.53L1077.8,584.52L1078.0,584.50L1078.3,584.48L1078.5,584.46L1078.8,584.44L1079.0,584.42L1079.3,584.39L1079.5,584.36L1079.8,584.33L1080.0,584.30L1080.3,584.27L1080.5,584.23L1080.8,584.19L1081.0,584.15L1081.3,584.11L1081.5,584.07L1081.8,584.03L1082.0,583.99L1082.3,583.94L1082.5,583.89L1082.8,583.85L1083.0,583.80L1083.3,583.75L1083.5,583.70L1083.8,583.65L1084.0,583.60L1084.3,583.55L1084.5,583.50L1084.8,583.45L1085.0,583.39L1085.3,583.34L1085.5,583.29L1085.8,583.24L1086.0,583.18L1086.3,583.13L1086.5,583.08L1086.8,583.03L1087.0,582.98L1087.3,582.93L1087.5,582.88L1087.8,582.83L1088.0,582.78L1088.3,582.73L1088.5,582.69L1088.8,582.64L1089.0,582.60L1089.3,582.55L1089.5,582.51L1089.8,582.47L1090.0,582.43L1090.3,582.39L1090.5,582.35L1090.8,582.31L1091.0,582.26L1091.3,582.22L1091.5,582.18L1091.8,582.13L1092.0,582.09L1092.3,582.04L1092.5,581.99L1092.8,581.95L1093.0,581.90L1093.3,581.85L1093.5,581.80L1093.8,581.75L1094.0,581.70L1094.3,581.66L1094.5,581.61L1094.8,581.56L1095.0,581.51L1095.3,581.46L1095.5,581.41L1095.8,581.37L1096.0,581.32L1096.3,581.27L1096.5,581.22L1096.8,581.18L1097.0,581.13L1097.3,581.09L1097.5,581.05L1097.8,581.00L1098.0,580.96L1098.3,580.92L1098.5,580.88L1098.8,580.84L1099.0,580.80L1099.3,580.77L1099.5,580.73L1099.8,580.70L1100.0,580.66L1100.3,580.63L1100.5,580.60L1100.8,580.57L1101.0,580.55L1101.3,580.52L1101.5,580.50L1101.8,580.48L1102.0,580.46L1102.3,580.44L1102.5,580.43L1102.8,580.42L1103.0,580.41L1103.1,580.40L1103.3,580.40L1103.5,580.39L1103.8,580.38L1104.0,580.37L1104.3,580.37L1104.5,580.36L1104.8,580.35L1105.0,580.34L1105.3,580.33L1105.5,580.33L1105.8,580.32L1106.0,580.31L1106.3,580.30L1106.5,580.30L1106.8,580.29L1107.0,580.28L1107.3,580.27L1107.5,580.27L1107.8,580.26L1108.0,580.25L1108.3,580.25L1108.5,580.24L1108.8,580.23L1109.0,580.22L1109.3,580.22L1109.5,580.21L1109.8,580.21L1110.0,580.20L1110.3,580.19L1110.5,580.19L1110.8,580.18L1111.0,580.17L1111.3,580.17L1111.5,580.16L1111.8,580.16L1112.0,580.15L1112.3,580.14L1112.5,580.14L1112.8,580.13L1113.0,580.13L1113.3,580.12L1113.5,580.12L1113.8,580.11L1114.0,580.11L1114.3,580.10L1114.5,580.10L1114.8,580.09L1115.0,580.09L1115.3,580.08L1115.5,580.08L1115.8,580.07L1116.0,580.07L1116.3,580.06L1116.5,580.06L1116.8,580.06L1117.0,580.05L1117.3,580.05L1117.5,580.04L1117.8,580.04L1118.0,580.04L1118.3,580.03L1118.5,580.03L1118.8,580.02L1119.0,580.02L1119.3,580.02L1119.5,580.01L1119.8,580.01L1120.0,580.01L1120.3,580.00L1120.5,580.00L1120.8,580.00L1121.0,580.00L1121.3,579.99L1121.5,579.99L1121.8,579.99L1122.0,579.98L1122.3,579.98L1122.5,579.98L1122.8,579.98L1123.0,579.97L1123.3,579.97L1123.5,579.97L1123.8,579.97L1124.0,579.97L1124.3,579.96L1124.5,579.96L1124.8,579.96L1125.0,579.96L1125.3,579.96L1125.5,579.96L1125.8,579.95L1126.0,579.95L1126.3,579.95L1126.5,579.95L1126.8,579.95L1127.0,579.95L1127.3,579.95L1127.5,579.95L1127.8,579.95L1128.0,579.95L1128.3,579.95L1128.5,579.94L1128.8,579.94L1129.0,579.94L1129.3,579.94L1129.5,579.94L1129.8,579.94L1130.0,579.94L1130.3,579.94L1130.5,579.94L1130.8,579.94L1131.0,579.94L1131.3,579.94L1131.5,579.94L1131.8,579.94L1132.0,579.94L1132.3,579.94L1132.5,579.94L1132.8,579.94L1133.0,579.94L1133.3,579.94L1133.5,579.94L1133.8,579.94L1134.0,579.94L1134.3,579.94L1134.5,579.94L1134.8,579.94L1135.0,579.94L1135.3,579.94L1135.5,579.94L1135.8,579.94L1136.0,579.94L1136.3,579.94L1136.5,579.94L1136.8,579.94L1137.0,579.94L1137.3,579.94L1137.5,579.94L1137.8,579.94L1138.0,579.94L1138.3,579.94L1138.5,579.94L1138.8,579.94L1139.0,579.94L1139.3,579.94L1139.5,579.94L1139.8,579.94L1140.0,579.94L1140.3,579.94L1140.5,579.94L1140.8,579.94L1141.0,579.94L1141.3,579.94L1141.5,579.94L1141.8,579.94L1142.0,579.94L1142.3,579.94L1142.5,579.94L1142.8,579.94L1143.0,579.94L1143.3,579.94L1143.5,579.94L1143.8,579.94L1144.0,579.94L1144.3,579.94L1144.5,579.94L1144.8,579.94L1145.0,579.94L1145.3,579.94L1145.5,579.94L1145.8,579.94L1146.0,579.94L1146.3,579.94L1146.5,579.94L1146.8,579.94L1147.0,579.94L1147.3,579.94L1147.5,579.94L1147.8,579.94L1148.0,579.94L1148.3,579.94L1148.5,579.94L1148.8,579.94L1149.0,579.94L1149.3,579.94L1149.5,579.94L1149.8,579.94L1150.0,579.94L1150.3,579.94L1150.5,579.94L1150.8,579.94L1151.0,579.94L1151.3,579.94L1151.5,579.94L1151.8,579.94L1152.0,579.94L1152.3,579.94L1152.5,579.94L1152.8,579.94L1153.0,579.94L1153.3,579.94L1153.5,579.94L1153.8,579.94L1154.0,579.94L1154.3,579.94L1154.5,579.94L1154.8,579.94L1155.0,579.94L1155.3,579.94L1155.5,579.94L1155.8,579.94L1156.0,579.94L1156.3,579.94L1156.5,579.94L1156.8,579.94L1157.0,579.94L1157.3,579.94L1157.5,579.94L1157.8,579.94L1158.0,579.94L1158.3,579.94L1158.5,579.94L1158.8,579.94L1159.0,579.94L1159.3,579.94L1159.5,579.94L1159.8,579.94L1160.0,579.94L1160.3,579.94L1160.5,579.94L1160.8,579.94L1161.0,579.94L1161.3,579.94L1161.5,579.94L1161.8,579.94L1162.0,579.94L1162.3,579.94L1162.5,579.94L1162.8,579.94L1163.0,579.94L1163.3,579.94L1163.5,579.94L1163.8,579.94L1164.0,579.94L1164.3,579.94L1164.5,579.94L1164.8,579.94L1165.0,579.94L1165.3,579.94L1165.5,579.94L1165.8,579.94L1166.0,579.94L1166.3,579.94L1166.5,579.94L1166.8,579.94L1167.0,579.94L1167.2,579.94L1167.5,579.94L1167.7,579.94L1168.0,579.94L1168.2,579.94L1168.5,579.94L1168.7,579.94L1169.0,579.94L1169.2,579.94L1169.5,579.94L1169.7,579.94L1170.0,579.94L1170.2,579.94L1170.5,579.94L1170.7,579.94L1171.0,579.94L1171.2,579.94L1171.5,579.94L1171.7,579.94L1172.0,579.94L1172.2,579.94L1172.5,579.94L1172.7,579.94L1173.0,579.94L1173.2,579.94L1173.5,579.94L1173.7,579.94L1174.0,579.94L1174.2,579.94L1174.5,579.94L1174.7,579.94L1175.0,579.94L1175.2,579.94L1175.5,579.94L1175.7,579.94L1176.0,579.94L1176.2,579.94L1176.5,579.94L1176.7,579.94L1177.0,579.94L1177.2,579.94L1177.5,579.94L1177.7,579.94L1178.0,579.94L1178.2,579.94L1178.5,579.94L1178.7,579.94L1179.0,579.94L1179.2,579.94L1179.5,579.94L1179.7,579.94L1180.0,579.94L1180.2,579.94L1180.5,579.94L1180.7,579.94L1181.0,579.94L1181.2,579.94L1181.5,579.94L1181.7,579.94L1182.0,579.94L1182.2,579.94L1182.5,579.94L1182.7,579.94L1183.0,579.94L1183.2,579.94L1183.5,579.94L1183.7,579.94L1184.0,579.94L1184.2,579.94L1184.5,579.94L1184.7,579.94L1185.0,579.94L1185.2,579.94L1185.5,579.94L1185.7,579.94L1186.0,579.94L1186.2,579.94L1186.5,579.94L1186.7,579.94L1187.0,579.94L1187.2,579.94L1187.5,579.94L1187.7,579.94L1188.0,579.94L1188.2,579.94L1188.5,579.94L1188.7,579.94L1189.0,579.94L1189.2,579.94L1189.5,579.94L1189.7,579.94L1190.0,579.94L1190.2,579.94L1190.5,579.94L1190.7,579.94L1191.0,579.94L1191.2,579.94L1191.5,579.94L1191.7,579.94L1192.0,579.94L1192.2,579.94L1192.5,579.94L1192.7,579.94L1193.0,579.94L1193.2,579.94L1193.5,579.94L1193.7,579.94L1194.0,579.94L1194.2,579.94L1194.5,579.94L1194.7,579.94L1195.0,579.94L1195.2,579.94L1195.5,579.94L1195.7,579.94L1196.0,579.94L1196.2,579.94L1196.5,579.94L1196.7,579.94L1197.0,579.94L1197.2,579.94L1197.5,579.94L1197.7,579.94L1198.0,579.94L1198.2,579.94L1198.5,579.94L1198.7,579.94L1199.0,579.94L1199.2,579.94L1199.5,579.94L1199.7,579.94L1200.0,579.94L1200.2,579.94L1200.5,579.94L1200.7,579.94L1201.0,579.94L1201.2,579.94L1201.5,579.94L1201.7,579.94L1202.0,579.94L1202.2,579.94L1202.5,579.94L1202.7,579.94L1203.0,579.94L1203.2,579.94L1203.5,579.94L1203.7,579.94L1204.0,579.94L1204.2,579.94L1204.5,579.94L1204.7,579.94L1205.0,579.94L1205.2,579.94L1205.5,579.94L1205.7,579.94L1206.0,579.94L1206.2,579.94L1206.5,579.94L1206.7,579.94L1207.0,579.94L1207.2,579.94L1207.5,579.94L1207.7,579.94L1208.0,579.94L1208.2,579.94L1208.5,579.94L1208.7,579.94L1209.0,579.94L1209.2,579.94L1209.5,579.94L1209.7,579.94L1210.0,579.94L1210.2,579.94L1210.5,579.94L1210.7,579.94L1211.0,579.94L1211.2,579.94L1211.5,579.94L1211.7,579.94L1212.0,579.94L1212.2,579.94L1212.5,579.94L1212.7,579.94L1213.0,579.94L1213.2,579.94L1213.5,579.94L1213.7,579.94L1214.0,579.94L1214.2,579.94L1214.5,579.94L1214.7,579.94L1215.0,579.94L1215.2,579.94L1215.5,579.94L1215.7,579.94L1216.0,579.94L1216.2,579.94L1216.5,579.94L1216.7,579.94L1217.0,579.94L1217.2,579.94L1217.5,579.94L1217.7,579.94L1218.0,579.94L1218.2,579.94L1218.5,579.94L1218.7,579.94L1219.0,579.94L1219.2,579.94L1219.5,579.94L1219.7,579.94L1220.0,579.94L1220.2,579.94L1220.5,579.94L1220.7,579.94L1221.0,579.94L1221.2,579.94L1221.5,579.94L1221.7,579.94L1222.0,579.94L1222.2,579.94L1222.5,579.94L1222.7,579.94L1223.0,579.94L1223.2,579.94L1223.5,579.94L1223.7,579.94L1224.0,579.94L1224.2,579.94L1224.5,579.94L1224.7,579.94L1225.0,579.94L1225.2,579.94L1225.5,579.94L1225.7,579.94L1226.0,579.94L1226.2,579.94L1226.5,579.94L1226.7,579.94L1227.0,579.94L1227.2,579.94L1227.5,579.94L1227.7,579.94L1228.0,579.94L1228.2,579.94L1228.5,579.94L1228.7,579.94L1229.0,579.94L1229.2,579.94L1229.5,579.94L1229.7,579.94L1230.0,579.94L1230.2,579.94L1230.5,579.94L1230.7,579.94L1231.0,579.94L1231.2,579.94L1231.5,579.94L1231.7,579.94L1232.0,579.94L1232.2,579.94L1232.5,579.94L1232.7,579.94L1233.0,579.94L1233.2,579.94L1233.5,579.94L1233.7,579.94L1234.0,579.94L1234.2,579.94L1234.5,579.94L1234.7,579.94L1235.0,579.94L1235.2,579.94L1235.5,579.94L1235.7,579.94L1236.0,579.94L1236.2,579.94L1236.5,579.94L1236.7,579.94L1237.0,579.94L1237.2,579.94L1237.5,579.94L1237.7,579.94L1238.0,579.94L1238.2,579.94L1238.5,579.94L1238.7,579.94L1239.0,579.94L1239.2,579.94L1239.5,579.94L1239.7,579.94L1240.0,579.94L1240.2,579.94L1240.5,579.94L1240.7,579.94L1241.0,579.94L1241.2,579.94L1241.5,579.94L1241.7,579.94L1242.0,579.94L1242.2,579.94L1242.5,579.94L1242.7,579.94L1243.0,579.94L1243.2,579.94L1243.5,579.94L1243.7,579.94L1244.0,579.94L1244.2,579.94L1244.5,579.94L1244.7,579.94L1245.0,579.94L1245.2,579.94L1245.5,579.94L1245.7,579.94L1246.0,579.94L1246.2,579.94L1246.5,579.94L1246.7,579.94L1247.0,579.94L1247.2,579.94L1247.5,579.94L1247.7,579.94L1248.0,579.94L1248.2,579.94L1248.5,579.94L1248.7,579.94L1249.0,579.94L1249.2,579.94L1249.5,579.94L1249.7,579.94L1250.0,579.94L1250.2,579.94L1250.5,579.94L1250.7,579.94L1251.0,579.94L1251.2,579.94L1251.5,579.94L1251.7,579.94L1252.0,579.94L1252.2,579.94L1252.5,579.94L1252.7,579.94L1253.0,579.94L1253.2,579.94L1253.5,579.94L1253.7,579.94L1254.0,579.94L1254.2,579.94L1254.5,579.94L1254.7,579.94L1255.0,579.94L1255.2,579.94L1255.5,579.94L1255.7,579.94L1256.0,579.94L1256.2,579.94L1256.5,579.94L1256.7,579.94L1257.0,579.94L1257.2,579.94L1257.5,579.94L1257.7,579.94L1258.0,579.94L1258.2,579.94L1258.5,579.94L1258.7,579.94L1259.0,579.94L1259.2,579.94L1259.5,579.94L1259.7,579.94L1260.0,579.94L1260.2,579.94L1260.5,579.94L1260.7,579.94L1261.0,579.94L1261.2,579.94L1261.5,579.94L1261.7,579.94L1262.0,579.94L1262.2,579.94L1262.5,579.94L1262.7,579.94L1263.0,579.94L1263.2,579.94L1263.5,579.94L1263.7,579.94L1264.0,579.94L1264.2,579.94L1264.5,579.94L1264.7,579.94L1265.0,579.94L1265.2,579.94L1265.5,579.94L1265.7,579.94L1266.0,579.94L1266.2,579.94L1266.5,579.94L1266.7,579.94L1267.0,579.94L1267.2,579.94L1267.5,579.94L1267.7,579.94L1268.0,579.94L1268.2,579.94L1268.5,579.94L1268.7,579.94L1269.0,579.94L1269.2,579.94L1269.5,579.94L1269.7,579.94L1270.0,579.94L1270.2,579.94L1270.5,579.94L1270.7,579.94L1271.0,579.94L1271.2,579.94L1271.5,579.94L1271.7,579.94L1272.0,579.94L1272.2,579.94L1272.5,579.94L1272.7,579.94L1273.0,579.94L1273.2,579.94L1273.5,579.94L1273.7,579.94L1274.0,579.94L1274.2,579.94L1274.5,579.94L1274.7,579.94L1275.0,579.94L1275.2,579.94L1275.5,579.94L1275.7,579.94L1276.0,579.94L1276.2,579.94L1276.5,579.94L1276.7,579.94L1277.0,579.94L1277.2,579.94L1277.5,579.94L1277.7,579.94L1278.0,579.94L1278.2,579.94L1278.5,579.94L1278.7,579.94L1279.0,579.94L1279.2,579.94L1279.5,579.94L1279.7,579.94L1280.0,579.94L1280.2,579.94L1280.5,579.94L1280.7,579.94L1281.0,579.94L1281.2,579.94L1281.5,579.94L1281.7,579.94L1282.0,579.94L1282.2,579.94L1282.5,579.94L1282.7,579.94L1283.0,579.94L1283.2,579.94L1283.5,579.94L1283.7,579.94L1284.0,579.94L1284.2,579.94L1284.5,579.94L1284.7,579.94L1285.0,579.94L1285.2,579.94L1285.5,579.94L1285.7,579.94L1286.0,579.94L1286.2,579.94L1286.5,579.94L1286.7,579.94L1287.0,579.94L1287.2,579.94L1287.5,579.94L1287.7,579.94L1288.0,579.94L1288.2,579.94L1288.5,579.94L1288.7,579.94L1289.0,579.94L1289.2,579.94L1289.5,579.94L1289.7,579.94L1290.0,579.94L1290.2,579.94L1290.5,579.94L1290.7,579.94L1291.0,579.94L1291.2,579.94L1291.5,579.94L1291.7,579.94L1292.0,579.94L1292.2,579.94L1292.5,579.94L1292.7,579.94L1293.0,579.94L1293.2,579.94L1293.5,579.94L1293.7,579.94L1294.0,579.94L1294.2,579.94L1294.5,579.94L1294.7,579.94L1295.0,579.94L1295.2,579.94L1295.5,579.94L1295.7,579.94L1296.0,579.94L1296.2,579.94L1296.5,579.94L1296.7,579.94L1297.0,579.94L1297.2,579.94L1297.5,579.94L1297.7,579.94L1298.0,579.94L1298.2,579.94L1298.5,579.94L1298.7,579.94L1299.0,579.94L1299.2,579.94L1299.5,579.94L1299.7,579.94L1300.0,579.94L1300.2,579.94L1300.5,579.94L1300.7,579.94L1301.0,579.94L1301.2,579.94L1301.5,579.94L1301.7,579.94L1302.0,579.94L1302.2,579.94L1302.5,579.94L1302.7,579.94L1303.0,579.94L1303.2,579.94L1303.5,579.94L1303.7,579.94L1304.0,579.94L1304.2,579.94L1304.5,579.94L1304.7,579.94L1305.0,579.94L1305.2,579.94L1305.5,579.94L1305.7,579.94L1306.0,579.94L1306.2,579.94L1306.5,579.94L1306.7,579.94L1307.0,579.94L1307.2,579.94L1307.5,579.94L1307.7,579.94L1308.0,579.94L1308.2,579.94L1308.5,579.94L1308.7,579.94L1309.0,579.94L1309.2,579.94L1309.5,579.94L1309.7,579.94L1310.0,579.94L1310.2,579.94L1310.5,579.94L1310.7,579.94L1311.0,579.94L1311.2,579.94L1311.5,579.94L1311.7,579.94L1312.0,579.94L1312.2,579.94L1312.5,579.94L1312.7,579.94L1313.0,579.94L1313.2,579.94L1313.5,579.94L1313.7,579.94L1314.0,579.94L1314.2,579.94L1314.5,579.94L1314.7,579.94L1315.0,579.94L1315.2,579.94L1315.5,579.94L1315.7,579.94L1316.0,579.94L1316.2,579.94L1316.5,579.94L1316.7,579.94L1317.0,579.94L1317.2,579.94L1317.5,579.94L1317.7,579.94L1318.0,579.94L1318.2,579.94L1318.5,579.94L1318.7,579.94L1319.0,579.94L1319.2,579.94L1319.5,579.94L1319.7,579.94L1320.0,579.94L1320.2,579.94L1320.5,579.94L1320.7,579.94L1321.0,579.94L1321.2,579.94L1321.5,579.94L1321.7,579.94L1322.0,579.94L1322.2,579.94L1322.5,579.94L1322.7,579.94L1323.0,579.94L1323.2,579.94L1323.5,579.94L1323.7,579.94L1324.0,579.94L1324.2,579.94L1324.5,579.94L1324.7,579.94L1325.0,579.94L1325.2,579.94L1325.5,579.94L1325.7,579.94L1326.0,579.94L1326.2,579.94L1326.5,579.94L1326.7,579.94L1327.0,579.94L1327.2,579.94L1327.5,579.94L1327.7,579.94L1328.0,579.94L1328.2,579.94L1328.5,579.94L1328.7,579.94L1329.0,579.94L1329.2,579.94L1329.5,579.94L1329.7,579.94L1330.0,579.94L1330.2,579.94L1330.5,579.94L1330.7,579.94L1331.0,579.94L1331.2,579.94L1331.5,579.94L1331.7,579.94L1332.0,579.94L1332.2,579.94L1332.5,579.94L1332.7,579.94L1333.0,579.94L1333.2,579.94L1333.5,579.94L1333.7,579.94L1334.0,579.94L1334.2,579.94L1334.5,579.94L1334.7,579.94L1335.0,579.94L1335.2,579.94L1335.5,579.94L1335.7,579.94L1336.0,579.94L1336.2,579.94L1336.5,579.94L1336.7,579.94L1337.0,579.94L1337.2,579.94L1337.5,579.94L1337.7,579.94L1338.0,579.94L1338.2,579.94L1338.5,579.94L1338.7,579.94L1339.0,579.94L1339.2,579.94L1339.5,579.94L1339.7,579.94L1340.0,579.94L1340.2,579.94L1340.5,579.94L1340.7,579.94L1341.0,579.94L1341.2,579.94L1341.5,579.94L1341.7,579.94L1342.0,579.94L1342.2,579.94L1342.5,579.94L1342.7,579.94L1343.0,579.94L1343.2,579.94L1343.5,579.94L1343.7,579.94L1344.0,579.94L1344.2,579.94L1344.5,579.94L1344.7,579.94L1345.0,579.94L1345.2,579.94L1345.5,579.94L1345.7,579.94L1346.0,579.94L1346.2,579.94L1346.5,579.94L1346.7,579.94L1347.0,579.94L1347.2,579.94L1347.5,579.94L1347.7,579.94L1348.0,579.94L1348.2,579.94L1348.5,579.94L1348.7,579.94L1349.0,579.94L1349.2,579.94L1349.5,579.94L1349.7,579.94L1350.0,579.94L1350.2,579.94L1350.5,579.94L1350.7,579.94L1351.0,579.94L1351.2,579.94L1351.5,579.94L1351.7,579.94L1352.0,579.94L1352.2,579.94L1352.5,579.94L1352.7,579.94L1353.0,579.94L1353.2,579.94L1353.5,579.94L1353.7,579.94L1354.0,579.94L1354.2,579.94L1354.5,579.94L1354.7,579.94L1355.0,579.94L1355.2,579.94L1355.5,579.94L1355.7,579.94L1356.0,579.94L1356.2,579.94L1356.5,579.94L1356.7,579.94L1357.0,579.94L1357.2,579.94L1357.5,579.94L1357.7,579.94L1358.0,579.94L1358.2,579.94L1358.5,579.94L1358.7,579.94L1359.0,579.94L1359.2,579.94L1359.5,579.94L1359.7,579.94L1360.0,579.94L1360.2,579.94L1360.5,579.94L1360.7,579.94L1361.0,579.94L1361.2,579.94L1361.5,579.94L1361.7,579.94L1362.0,579.94L1362.2,579.94L1362.5,579.94L1362.7,579.94L1363.0,579.94L1363.2,579.94L1363.5,579.94L1363.7,579.94L1364.0,579.94L1364.2,579.94L1364.5,579.94L1364.7,579.94L1365.0,579.94L1365.2,579.94L1365.5,579.94L1365.7,579.94L1366.0,579.94L1366.2,579.94L1366.5,579.94L1366.7,579.94L1367.0,579.94L1367.2,579.94L1367.5,579.94L1367.7,579.94L1368.0,579.94L1368.2,579.94L1368.5,579.94L1368.7,579.94L1369.0,579.94L1369.2,579.94L1369.5,579.94L1369.7,579.94L1370.0,579.94L1370.2,579.94L1370.5,579.94L1370.7,579.94L1371.0,579.94L1371.2,579.94L1371.5,579.94L1371.7,579.94L1372.0,579.94L1372.2,579.94L1372.5,579.94L1372.7,579.94L1373.0,579.94L1373.2,579.94L1373.5,579.94L1373.7,579.94L1374.0,579.94L1374.2,579.94L1374.5,579.94L1374.7,579.94L1375.0,579.94L1375.2,579.94L1375.5,579.94L1375.7,579.94L1376.0,579.94L1376.2,579.94L1376.5,579.94L1376.7,579.94L1377.0,579.94L1377.2,579.94L1377.5,579.94L1377.7,579.94L1378.0,579.94L1378.2,579.94L1378.5,579.94L1378.7,579.94L1379.0,579.94L1379.2,579.94L1379.5,579.94L1379.7,579.94L1380.0,579.94L1380.2,579.94L1380.5,579.94L1380.7,579.94L1381.0,579.94L1381.2,579.94L1381.5,579.94L1381.7,579.94L1382.0,579.94L1382.2,579.94L1382.5,579.94L1382.7,579.94L1383.0,579.94L1383.2,579.94L1383.5,579.94L1383.7,579.94L1384.0,579.94L1384.2,579.94L1384.5,579.94L1384.7,579.94L1385.0,579.94L1385.2,579.94L1385.5,579.94L1385.7,579.94L1386.0,579.94L1386.2,579.94L1386.5,579.94L1386.7,579.94L1387.0,579.94L1387.2,579.94L1387.5,579.94L1387.7,579.94L1388.0,579.94L1388.2,579.94L1388.5,579.94L1388.7,579.94L1389.0,579.94L1389.2,579.94L1389.5,579.94L1389.7,579.94L1390.0,579.94L1390.2,579.94L1390.5,579.94L1390.7,579.94L1391.0,579.94L1391.2,579.94L1391.5,579.94L1391.7,579.94L1392.0,579.94L1392.2,579.94L1392.5,579.94L1392.7,579.94L1393.0,579.94L1393.2,579.94L1393.5,579.94L1393.7,579.94L1394.0,579.94L1394.2,579.94L1394.5,579.94L1394.7,579.94L1395.0,579.94L1395.2,579.94L1395.5,579.94L1395.7,579.94L1396.0,579.94L1396.2,579.94L1396.5,579.94L1396.7,579.94L1397.0,579.94L1397.2,579.94L1397.5,579.94L1397.7,579.94L1398.0,579.94L1398.2,579.94L1398.5,579.94L1398.7,579.94L1399.0,579.94L1399.2,579.94L1399.5,579.94L1399.7,579.94L1400.0,579.94L1400.2,579.94L1400.5,579.94L1400.7,579.94L1401.0,579.94L1401.2,579.94L1401.5,579.94L1401.7,579.94L1402.0,579.94L1402.2,579.94L1402.5,579.94L1402.7,579.94L1403.0,579.94L1403.2,579.94L1403.5,579.94L1403.7,579.94L1404.0,579.94L1404.2,579.94L1404.5,579.94L1404.7,579.94L1405.0,579.94L1405.2,579.94L1405.5,579.94L1405.7,579.94L1406.0,579.94L1406.2,579.94L1406.5,579.94L1406.7,579.94L1407.0,579.94L1407.2,579.94L1407.5,579.94L1407.7,579.94L1408.0,579.94L1408.2,579.94L1408.5,579.94L1408.7,579.94L1409.0,579.94L1409.2,579.94L1409.5,579.94L1409.7,579.94L1410.0,579.94L1410.2,579.94L1410.5,579.94L1410.7,579.94L1411.0,579.94L1411.2,579.94L1411.5,579.94L1411.7,579.94L1412.0,579.94L1412.2,579.94L1412.5,579.94L1412.7,579.94L1413.0,579.94L1413.2,579.94L1413.5,579.94L1413.7,579.94L1414.0,579.94L1414.2,579.94L1414.5,579.94L1414.7,579.94L1415.0,579.94L1415.2,579.94L1415.5,579.94L1415.7,579.94L1416.0,579.94L1416.2,579.94L1416.5,579.94L1416.7,579.94L1417.0,579.94L1417.2,579.94L1417.5,579.94L1417.7,579.94L1418.0,579.94L1418.2,579.94L1418.5,579.94L1418.7,579.94L1419.0,579.94L1419.2,579.94L1419.5,579.94L1419.7,579.94L1420.0,579.94L1420.2,579.94L1420.5,579.94L1420.7,579.94L1421.0,579.94L1421.2,579.94L1421.5,579.94L1421.7,579.94L1422.0,579.94L1422.2,579.94L1422.5,579.94L1422.7,579.94L1423.0,579.94L1423.2,579.94L1423.5,579.94L1423.7,579.94L1424.0,579.94L1424.2,579.94L1424.5,579.94L1424.7,579.94L1425.0,579.94L1425.2,579.94L1425.5,579.94L1425.7,579.94L1426.0,579.94L1426.2,579.94L1426.5,579.94L1426.7,579.94L1427.0,579.94L1427.2,579.94L1427.5,579.94L1427.7,579.94L1428.0,579.94L1428.2,579.94L1430.6,108.28L1480.0,108.28L1480.2,108.70L1480.5,109.25L1480.8,109.92L1481.0,110.68L1481.2,111.53L1481.5,112.43L1481.8,113.49L1482.0,114.79L1482.2,116.26L1482.5,117.86L1482.8,119.53L1483.0,121.21L1483.2,122.86L1483.5,124.41L1483.8,125.90L1484.0,127.39L1484.2,128.88L1484.5,130.36L1484.8,131.85L1485.0,133.34L1485.2,134.82L1485.5,136.31L1485.8,137.79L1486.0,139.28L1486.2,140.76L1486.5,142.24L1486.8,143.73L1487.0,145.21L1487.2,146.69L1487.5,148.17L1487.8,149.65L1488.0,151.13L1488.2,152.61L1488.5,154.09L1488.8,155.57L1489.0,157.05L1489.2,158.53L1489.5,160.00L1489.8,161.48L1490.0,162.95L1490.2,164.43L1490.5,165.90L1490.8,167.38L1491.0,168.85L1491.2,170.32L1491.5,171.79L1491.8,173.26L1492.0,174.73L1492.2,176.20L1492.5,177.67L1492.8,179.14L1493.0,180.60L1493.2,182.07L1493.5,183.53L1493.8,185.00L1494.0,186.46L1494.2,187.92L1494.5,189.38L1494.8,190.85L1495.0,192.31L1495.2,193.76L1495.5,195.22L1495.8,196.68L1496.0,198.14L1496.2,199.58L1496.5,201.01L1496.8,202.43L1497.0,203.83L1497.2,205.21L1497.5,206.58L1497.8,207.94L1498.0,209.29L1498.2,210.63L1498.5,211.96L1498.8,213.28L1499.0,214.59L1499.2,215.90L1499.5,217.20L1499.8,218.50L1500.0,219.80L1500.2,221.09L1500.5,222.38L1500.8,223.67L1501.0,224.96L1501.2,226.25L1501.5,227.55L1501.8,228.84L1502.0,230.15L1502.2,231.45L1502.5,232.77L1502.8,234.09L1503.0,235.42L1503.2,236.76L1503.5,238.11L1503.8,239.47L1504.0,240.85L1504.2,242.23L1504.5,243.63L1504.8,245.05L1505.0,246.48L1505.2,247.93L1505.5,249.40L1505.8,250.88L1506.0,252.39L1506.2,253.92L1506.5,255.47L1506.8,257.04L1507.0,258.64L1507.2,260.26L1507.5,261.91L1507.8,263.58L1508.0,265.29L1508.2,267.02L1508.5,268.78L1508.8,270.57L1509.0,272.40L1509.2,274.25L1509.3,274.63L1509.5,276.17L1509.8,278.18L1510.0,280.29L1510.2,282.50L1510.5,284.79L1510.8,287.15L1511.0,289.60L1511.2,292.10L1511.5,294.67L1511.8,297.29L1512.0,299.96L1512.2,302.68L1512.5,305.42L1512.8,308.20L1513.0,311.00L1513.2,313.83L1513.5,316.66L1513.8,319.49L1514.0,322.33L1514.2,325.16L1514.5,327.98L1514.8,330.78L1515.0,333.55L1515.2,336.29L1515.5,339.00L1515.8,341.66L1516.0,344.27L1516.2,346.83L1516.5,349.32L1516.8,351.75L1517.0,354.10L1517.2,356.38L1517.5,358.56L1517.6,359.41L1517.8,360.66L1518.0,362.70L1518.2,364.67L1518.5,366.60L1518.8,368.47L1519.0,370.31L1519.2,372.11L1519.5,373.88L1519.8,375.62L1520.0,377.35L1520.2,379.06L1520.5,380.77L1520.8,382.48L1521.0,384.18L1521.2,385.90L1521.5,387.63L1521.8,389.38L1522.0,391.16L1522.2,392.97L1522.5,394.82L1522.8,396.71L1523.0,398.65L1523.2,400.24L1523.2,400.64L1523.5,402.72L1523.8,404.88L1524.0,407.11L1524.2,409.40L1524.5,411.73L1524.8,414.11L1525.0,416.50L1525.2,418.90L1525.5,421.31L1525.8,423.70L1526.0,426.06L1526.2,428.38L1526.5,430.65L1526.8,432.86L1527.0,434.99L1527.2,437.03L1527.5,438.97L1527.8,440.80L1527.8,441.15L1528.0,442.53L1528.2,444.22L1528.5,445.86L1528.8,447.45L1529.0,449.01L1529.2,450.53L1529.5,452.02L1529.8,453.47L1530.0,454.90L1530.2,456.30L1530.5,457.68L1530.8,459.04L1531.0,460.38L1531.2,461.71L1531.5,463.03L1531.8,464.33L1532.0,465.63L1532.2,466.92L1532.5,468.21L1532.8,469.51L1533.0,470.80L1533.2,471.84L1533.2,472.10L1533.5,473.42L1533.8,474.75L1534.0,476.09L1534.2,477.43L1534.5,478.78L1534.8,480.13L1535.0,481.47L1535.2,482.80L1535.5,484.12L1535.8,485.43L1536.0,486.71L1536.2,487.97L1536.5,489.21L1536.8,490.42L1537.0,491.59L1537.2,492.72L1537.5,493.82L1537.8,494.87L1538.0,495.87L1538.2,496.82L1538.5,497.71L1538.7,498.38L1538.8,498.55L1539.0,499.35L1539.2,500.14L1539.5,500.92L1539.8,501.68L1540.0,502.42L1540.2,503.15L1540.5,503.87L1540.8,504.56L1541.0,505.24L1541.2,505.90L1541.5,506.55L1541.8,507.18L1542.0,507.79L1542.2,508.39L1542.5,508.97L1542.8,509.53L1543.0,510.07L1543.2,510.60L1543.5,511.11L1543.8,511.60L1544.0,512.07L1544.2,512.52L1544.5,512.96L1544.8,513.38L1545.0,513.77L1545.2,514.16L1545.5,514.52L1545.8,514.88L1546.0,515.22L1546.2,515.54L1546.5,515.86L1546.8,516.17L1547.0,516.47L1547.2,516.76L1547.5,517.04L1547.8,517.31L1548.0,517.58L1548.2,517.84L1548.5,518.10L1548.8,518.36L1549.0,518.61L1549.2,518.86L1549.5,519.11L1549.8,519.36L1550.0,519.61L1550.2,519.87L1550.5,520.12L1550.6,520.23L1550.8,520.38L1551.0,520.64L1551.2,520.90L1551.5,521.15L1551.8,521.41L1552.0,521.66L1552.2,521.91L1552.5,522.16L1552.8,522.40L1553.0,522.64L1553.2,522.88L1553.5,523.11L1553.8,523.34L1554.0,523.57L1554.2,523.79L1554.5,524.00L1554.8,524.21L1555.0,524.41L1555.2,524.61L1555.3,524.65L1555.5,524.80L1555.8,524.99L1556.0,525.17L1556.2,525.34L1556.5,525.51L1556.8,525.68L1557.0,525.85L1557.2,526.01L1557.5,526.17L1557.8,526.33L1558.0,526.48L1558.2,526.64L1558.5,526.79L1558.8,526.94L1559.0,527.09L1559.2,527.24L1559.5,527.39L1559.8,527.54L1560.0,527.69L1560.2,527.84L1560.5,527.99L1560.8,528.13L1561.0,528.28L1561.2,528.42L1561.5,528.56L1561.8,528.70L1562.0,528.84L1562.2,528.97L1562.5,529.11L1562.8,529.24L1563.0,529.37L1563.2,529.51L1563.5,529.64L1563.8,529.77L1564.0,529.90L1564.2,530.03L1564.5,530.16L1564.8,530.30L1565.0,530.43L1565.2,530.56L1565.5,530.69L1565.8,530.83L1566.0,530.96L1566.2,531.09L1566.5,531.23L1566.8,531.37L1567.0,531.51L1567.2,531.65L1567.5,531.79L1567.8,531.94L1568.0,532.08L1568.2,532.23L1568.5,532.38L1568.8,532.53L1569.0,532.69L1569.2,532.85L1569.4,532.94L1569.5,533.01L1569.8,533.17L1570.0,533.34L1570.2,533.51L1570.5,533.68L1570.8,533.85L1571.0,534.02L1571.2,534.20L1571.5,534.38L1571.8,534.56L1572.0,534.74L1572.2,534.93L1572.5,535.12L1572.8,535.30L1573.0,535.49L1573.2,535.68L1573.5,535.88L1573.8,536.07L1574.0,536.26L1574.2,536.46L1574.5,536.66L1574.8,536.86L1575.0,537.05L1575.2,537.25L1575.5,537.45L1575.8,537.66L1576.0,537.86L1576.2,538.06L1576.5,538.26L1576.8,538.46L1577.0,538.67L1577.2,538.87L1577.5,539.08L1577.8,539.28L1578.0,539.48L1578.2,539.69L1578.5,539.89L1578.8,540.09L1579.0,540.30L1579.2,540.50L1579.5,540.70L1579.8,540.90L1580.0,541.10L1580.2,541.30L1580.4,541.42L1580.5,541.50L1580.8,541.70L1581.0,541.90L1581.2,542.11L1581.5,542.31L1581.8,542.51L1582.0,542.72L1582.2,542.92L1582.5,543.13L1582.8,543.34L1583.0,543.55L1583.2,543.76L1583.5,543.97L1583.8,544.18L1584.0,544.39L1584.2,544.60L1584.5,544.81L1584.8,545.03L1585.0,545.24L1585.2,545.45L1585.5,545.67L1585.8,545.88L1586.0,546.09L1586.2,546.31L1586.5,546.52L1586.8,546.74L1587.0,546.95L1587.2,547.17L1587.5,547.38L1587.8,547.60L1588.0,547.81L1588.2,548.02L1588.5,548.24L1588.8,548.45L1589.0,548.67L1589.2,548.88L1589.5,549.09L1589.8,549.30L1590.0,549.52L1590.2,549.73L1590.5,549.94L1590.8,550.15L1591.0,550.36L1591.2,550.57L1591.5,550.77L1591.8,550.98L1592.0,551.19L1592.2,551.39L1592.5,551.60L1592.8,551.80L1593.0,552.00L1593.2,552.21L1593.5,552.41L1593.8,552.61L1594.0,552.80L1594.2,553.00L1594.5,553.20L1594.8,553.39L1595.0,553.58L1595.2,553.78L1595.5,553.97L1595.8,554.15L1596.0,554.34L1596.1,554.42L1596.2,554.53L1596.5,554.71L1596.8,554.90L1597.0,555.09L1597.2,555.28L1597.5,555.47L1597.8,555.66L1598.0,555.85L1598.2,556.04L1598.5,556.23L1598.8,556.43L1599.0,556.62L1599.2,556.81L1599.5,557.00L1599.8,557.19L1600.0,557.38L1600.2,557.57L1600.5,557.76L1600.8,557.95L1601.0,558.14L1601.2,558.32L1601.5,558.51L1601.8,558.69L1602.0,558.88L1602.2,559.06L1602.5,559.24L1602.8,559.42L1603.0,559.60L1603.2,559.77L1603.5,559.94L1603.8,560.12L1604.0,560.28L1604.2,560.45L1604.5,560.62L1604.8,560.78L1605.0,560.94L1605.2,561.10L1605.5,561.25L1605.8,561.40L1606.0,561.55L1606.2,561.70L1606.5,561.84L1606.8,561.98L1607.0,562.11L1607.2,562.25L1607.5,562.37L1607.8,562.50L1608.0,562.62L1608.2,562.74L1608.5,562.85L1608.6,562.89L1608.8,562.96L1609.0,563.07L1609.2,563.18L1609.5,563.29L1609.8,563.40L1610.0,563.51L1610.2,563.62L1610.5,563.72L1610.8,563.83L1611.0,563.94L1611.2,564.05L1611.5,564.15L1611.8,564.26L1612.0,564.36L1612.2,564.46L1612.5,564.56L1612.8,564.66L1613.0,564.76L1613.2,564.86L1613.5,564.95L1613.8,565.05L1614.0,565.14L1614.2,565.23L1614.5,565.32L1614.8,565.40L1615.0,565.48L1615.2,565.57L1615.5,565.64L1615.8,565.72L1616.0,565.79L1616.2,565.86L1616.5,565.93L1616.8,565.99L1617.0,566.06L1617.2,566.11L1617.5,566.17L1617.8,566.22L1618.0,566.27L1618.2,566.31L1618.5,566.35L1618.8,566.39L1619.0,566.42L1619.2,566.45L1619.5,566.48L1619.6,566.49L1619.8,566.50L1620.0,566.52L1620.2,566.54L1620.5,566.56L1620.8,566.58L1621.0,566.60L1621.2,566.62L1621.5,566.64L1621.8,566.66L1622.0,566.67L1622.2,566.69L1622.5,566.71L1622.8,566.73L1623.0,566.74L1623.2,566.76L1623.5,566.77L1623.8,566.79L1624.0,566.80L1624.2,566.82L1624.5,566.83L1624.8,566.84L1625.0,566.86L1625.2,566.87L1625.5,566.88L1625.8,566.90L1626.0,566.91L1626.2,566.92L1626.5,566.93L1626.8,566.94L1627.0,566.96L1627.2,566.97L1627.5,566.98L1627.8,566.99L1628.0,567.00L1628.2,567.01L1628.5,567.02L1628.8,567.03L1629.0,567.04L1629.2,567.05L1629.5,567.05L1629.8,567.06L1630.0,567.07L1630.2,567.08L1630.5,567.09L1630.8,567.10L1631.0,567.11L1631.2,567.11L1631.5,567.12L1631.8,567.13L1632.0,567.14L1632.2,567.14L1632.5,567.15L1632.8,567.16L1633.0,567.16L1633.2,567.17L1633.5,567.18L1633.8,567.18L1634.0,567.19L1634.2,567.20L1634.5,567.20L1634.8,567.21L1635.0,567.22L1635.2,567.22L1635.3,567.23L1635.5,567.23L1635.8,567.24L1636.0,567.24L1636.2,567.25L1636.5,567.26L1636.8,567.26L1637.0,567.27L1637.2,567.27L1637.5,567.28L1637.8,567.29L1638.0,567.29L1638.2,567.30L1638.5,567.30L1638.8,567.31L1639.0,567.32L1639.2,567.32L1639.5,567.33L1639.8,567.33L1640.0,567.34L1640.2,567.34L1640.5,567.35L1640.8,567.36L1641.0,567.36L1641.2,567.37L1641.5,567.37L1641.8,567.38L1642.0,567.38L1642.2,567.39L1642.5,567.39L1642.8,567.40L1643.0,567.40L1643.2,567.41L1643.5,567.41L1643.8,567.42L1644.0,567.42L1644.2,567.43L1644.5,567.43L1644.8,567.44L1645.0,567.44L1645.2,567.45L1645.5,567.45L1645.8,567.46L1646.0,567.46L1646.2,567.47L1646.5,567.47L1646.8,567.48L1647.0,567.48L1647.2,567.49L1647.5,567.49L1647.8,567.50L1648.0,567.50L1648.2,567.51L1648.5,567.51L1648.8,567.51L1649.0,567.52L1649.2,567.52L1649.5,567.53L1649.8,567.53L1650.0,567.54L1650.2,567.54L1650.5,567.55L1650.8,567.55L1651.0,567.55L1651.2,567.56L1651.5,567.56L1651.8,567.57L1652.0,567.57L1652.2,567.57L1652.5,567.58L1652.8,567.58L1653.0,567.59L1653.2,567.59L1653.5,567.59L1653.8,567.60L1654.0,567.60L1654.2,567.61L1654.5,567.61L1654.8,567.61L1655.0,567.62L1655.2,567.62L1655.5,567.63L1655.8,567.63L1656.0,567.63L1656.2,567.64L1656.5,567.64L1656.8,567.64L1657.0,567.65L1657.2,567.65L1657.5,567.66L1657.8,567.66L1658.0,567.66L1658.2,567.67L1658.5,567.67L1658.8,567.67L1659.0,567.68L1659.2,567.68L1659.5,567.68L1659.8,567.69L1660.0,567.69L1660.2,567.69L1660.5,567.70L1660.8,567.70L1661.0,567.70L1661.2,567.71L1661.5,567.71L1661.8,567.71L1662.0,567.72L1662.2,567.72L1662.5,567.72L1662.8,567.73L1663.0,567.73L1663.2,567.73L1663.5,567.74L1663.8,567.74L1664.0,567.74L1664.2,567.75L1664.5,567.75L1664.8,567.75L1665.0,567.76L1665.2,567.76L1665.5,567.76L1665.8,567.77L1666.0,567.77L1666.2,567.77L1666.5,567.77L1666.8,567.78L1667.0,567.78L1667.2,567.78L1667.5,567.79L1667.8,567.79L1668.0,567.79L1668.2,567.80L1668.5,567.80L1668.8,567.80L1669.0,567.81L1669.2,567.81L1669.5,567.81L1669.8,567.81L1670.0,567.82L1670.2,567.82L1670.5,567.82L1670.8,567.83L1671.0,567.83L1671.2,567.83L1671.5,567.84L1671.8,567.84L1672.0,567.84L1672.2,567.84L1672.5,567.85L1672.8,567.85L1673.0,567.85L1673.2,567.86L1673.5,567.86L1673.8,567.86L1674.0,567.86L1674.2,567.87L1674.5,567.87L1674.8,567.87L1675.0,567.88L1675.2,567.88L1675.5,567.88L1675.8,567.88L1676.0,567.89L1676.2,567.89L1676.5,567.89L1676.8,567.90L1677.0,567.90L1677.2,567.90L1677.5,567.91L1677.8,567.91L1678.0,567.91L1678.2,567.91L1678.5,567.92L1678.8,567.92L1679.0,567.92L1679.2,567.93L1679.5,567.93L1679.8,567.93L1680.0,567.93L1680.2,567.94L1680.5,567.94L1680.8,567.94L1681.0,567.95L1681.2,567.95L1681.5,567.95L1681.8,567.95L1682.0,567.96L1682.2,567.96L1682.4,567.96L1682.5,567.96L1682.8,567.97L1683.0,567.97L1683.2,567.97L1683.5,567.98L1683.8,567.98L1684.0,567.98L1684.2,567.98L1684.5,567.99L1684.8,567.99L1685.0,567.99L1685.2,568.00L1685.5,568.00L1685.8,568.00L1686.0,568.01L1686.2,568.01L1686.5,568.01L1686.8,568.01L1687.0,568.02L1687.2,568.02L1687.5,568.02L1687.8,568.03L1688.0,568.03L1688.2,568.03L1688.5,568.04L1688.8,568.04L1689.0,568.04L1689.2,568.04L1689.5,568.05L1689.8,568.05L1690.0,568.05L1690.2,568.06L1690.5,568.06L1690.8,568.06L1691.0,568.07L1691.2,568.07L1691.5,568.07L1691.8,568.07L1692.0,568.08L1692.2,568.08L1692.5,568.08L1692.8,568.09L1693.0,568.09L1693.2,568.09L1693.5,568.10L1693.8,568.10L1694.0,568.10L1694.2,568.10L1694.5,568.11L1694.8,568.11L1695.0,568.11L1695.2,568.12L1695.5,568.12L1695.8,568.12L1696.0,568.12L1696.2,568.13L1696.5,568.13L1696.8,568.13L1697.0,568.14L1697.2,568.14L1697.5,568.14L1697.8,568.14L1698.0,568.15L1698.2,568.15L1698.5,568.15L1698.8,568.16L1699.0,568.16L1699.2,568.16L1699.5,568.16L1699.8,568.17L1700.0,568.17L1700.2,568.17L1700.5,568.18L1700.8,568.18L1701.0,568.18L1701.2,568.18L1701.5,568.19L1701.8,568.19L1702.0,568.19L1702.2,568.20L1702.5,568.20L1702.8,568.20L1703.0,568.20L1703.2,568.21L1703.5,568.21L1703.8,568.21L1704.0,568.21L1704.2,568.22L1704.5,568.22L1704.8,568.22L1705.0,568.23L1705.2,568.23L1705.5,568.23L1705.8,568.23L1706.0,568.24L1706.2,568.24L1706.5,568.24L1706.8,568.24L1707.0,568.25L1707.2,568.25L1707.5,568.25L1707.8,568.25L1708.0,568.26L1708.2,568.26L1708.5,568.26L1708.8,568.26L1709.0,568.27L1709.2,568.27L1709.5,568.27L1709.8,568.27L1710.0,568.28L1710.2,568.28L1710.5,568.28L1710.8,568.28L1711.0,568.29L1711.2,568.29L1711.5,568.29L1711.8,568.29L1712.0,568.30L1712.2,568.30L1712.5,568.30L1712.8,568.30L1713.0,568.30L1713.2,568.31L1713.5,568.31L1713.8,568.31L1714.0,568.31L1714.2,568.32L1714.5,568.32L1714.8,568.32L1715.0,568.32L1715.2,568.32L1715.5,568.33L1715.8,568.33L1716.0,568.33L1716.2,568.33L1716.5,568.34L1716.8,568.34L1717.0,568.34L1717.2,568.34L1717.5,568.34L1717.8,568.35L1718.0,568.35L1718.2,568.35L1718.5,568.35L1718.8,568.35L1719.0,568.36L1719.2,568.36L1719.5,568.36L1719.8,568.36L1720.0,568.36L1720.2,568.36L1720.5,568.37L1720.8,568.37L1721.0,568.37L1721.2,568.37L1721.5,568.37L1721.8,568.38L1722.0,568.38L1722.2,568.38L1722.5,568.38L1722.8,568.38L1723.0,568.38L1723.2,568.39L1723.5,568.39L1723.8,568.39L1724.0,568.39L1724.2,568.39L1724.5,568.39L1724.8,568.40L1725.0,568.40L1725.2,568.40L1725.5,568.40L1725.8,568.40L1726.0,568.40L1726.2,568.40L1726.5,568.41L1726.8,568.41L1727.0,568.41L1727.2,568.41L1727.5,568.41L1727.8,568.41L1728.0,568.41L1728.2,568.42L1728.5,568.42L1728.8,568.42L1729.0,568.42L1729.2,568.42L1729.5,568.42L1729.8,568.42L1730.0,568.42L1730.2,568.42L1730.5,568.43L1730.8,568.43L1731.0,568.43L1731.2,568.43L1731.5,568.43L1731.8,568.43L1732.0,568.43L1732.2,568.43L1732.5,568.43L1732.8,568.44L1733.0,568.44L1733.2,568.44L1733.5,568.44L1733.8,568.44L1734.0,568.44L1734.2,568.44L1734.5,568.44L1734.8,568.44L1735.0,568.45L1735.2,568.45L1735.5,568.45L1735.8,568.45L1736.0,568.45L1736.2,568.45L1736.5,568.45L1736.8,568.45L1737.0,568.45L1737.2,568.46L1737.5,568.46L1737.8,568.46L1738.0,568.46L1738.2,568.46L1738.5,568.46L1738.8,568.46L1739.0,568.46L1739.2,568.46L1739.5,568.47L1739.8,568.47L1740.0,568.47L1740.2,568.47L1740.5,568.47L1740.8,568.47L1741.0,568.47L1741.2,568.47L1741.5,568.47L1741.8,568.47L1742.0,568.48L1742.2,568.48L1742.5,568.48L1742.8,568.48L1743.0,568.48L1743.2,568.48L1743.5,568.48L1743.8,568.48L1744.0,568.48L1744.2,568.48L1744.5,568.48L1744.8,568.49L1745.0,568.49L1745.2,568.49L1745.5,568.49L1745.8,568.49L1746.0,568.49L1746.2,568.49L1746.5,568.49L1746.8,568.49L1747.0,568.49L1747.2,568.49L1747.5,568.49L1747.8,568.50L1748.0,568.50L1748.2,568.50L1748.5,568.50L1748.8,568.50L1749.0,568.50L1749.2,568.50L1749.5,568.50L1749.8,568.50L1750.0,568.50L1750.2,568.50L1750.5,568.50L1750.8,568.50L1751.0,568.50L1751.2,568.50L1751.5,568.51L1751.8,568.51L1752.0,568.51L1752.2,568.51L1752.5,568.51L1752.8,568.51L1753.0,568.51L1753.2,568.51L1753.5,568.51L1753.8,568.51L1754.0,568.51L1754.2,568.51L1754.5,568.51L1754.8,568.51L1755.0,568.51L1755.2,568.51L1755.5,568.51L1755.8,568.51L1756.0,568.51L1756.2,568.51L1756.5,568.51L1756.8,568.51L1757.0,568.51L1757.2,568.51L1757.5,568.51L1757.8,568.51L1758.0,568.52L1758.2,568.52L1758.5,568.52L1758.8,568.52L1759.0,568.52L1759.2,568.52L1759.5,568.52L1759.8,568.52L1760.0,568.52L1760.2,568.52L1760.5,568.52L1760.8,568.52L1761.0,568.52L1761.2,568.52L1761.5,568.52L1761.8,568.52L1762.0,568.52L1762.2,568.52L1762.5,568.52L1762.8,568.52L1763.0,568.52L1763.2,568.52L1763.5,568.52L1763.8,568.52L1764.0,568.52L1764.2,568.52L1764.5,568.52L1764.8,568.52L1765.0,568.52L1765.2,568.52L1765.5,568.52L1765.8,568.52L1766.0,568.52L1766.2,568.52L1766.5,568.52L1766.8,568.52L1767.0,568.52L1767.2,568.52L1767.5,568.52L1767.8,568.52L1768.0,568.52L1768.2,568.52L1768.5,568.52L1768.8,568.52L1769.0,568.52L1769.2,568.52L1769.5,568.52L1769.8,568.52L1770.0,568.52L1770.2,568.52L1770.5,568.52L1770.8,568.52L1771.0,568.52L1771.2,568.52L1771.5,568.52L1771.8,568.52L1772.0,568.52L1772.2,568.52L1772.5,568.52L1772.8,568.52L1773.0,568.52L1773.2,568.52L1773.5,568.52L1773.8,568.52L1774.0,568.52L1774.2,568.52L1774.5,568.52L1774.8,568.52L1775.0,568.52L1775.2,568.52L1775.5,568.52L1775.8,568.52L1776.0,568.52L1776.2,568.52L1776.5,568.52L1776.8,568.52L1777.0,568.52L1777.2,568.52L1777.5,568.52L1777.8,568.52L1778.0,568.52L1778.2,568.52L1778.5,568.52L1778.8,568.52L1779.0,568.52L1779.2,568.52L1779.5,568.52L1779.8,568.52L1780.0,568.52L1780.2,568.52L1780.5,568.52L1780.8,568.52L1781.0,568.52L1781.2,568.52L1781.5,568.52L1781.8,568.52L1782.0,568.52L1782.2,568.52L1782.5,568.52L1782.8,568.52L1783.0,568.52L1783.2,568.52L1783.5,568.52L1783.8,568.52L1784.0,568.52L1784.2,568.52L1784.5,568.52L1784.8,568.52L1785.0,568.52L1785.2,568.52L1785.5,568.52L1785.8,568.52L1786.0,568.52L1786.2,568.52L1786.5,568.52L1786.8,568.52L1787.0,568.52L1787.2,568.52L1787.5,568.52L1787.8,568.52L1788.0,568.52L1788.2,568.52L1788.5,568.52L1788.8,568.52L1789.0,568.52L1789.2,568.52L1789.5,568.52L1789.8,568.52L1790.0,568.52L1790.2,568.52L1790.5,568.52L1790.8,568.52L1791.0,568.52L1791.2,568.52L1791.5,568.52L1791.8,568.52L1792.0,568.52L1792.2,568.52L1792.5,568.52L1792.8,568.52L1793.0,568.52L1793.2,568.52L1793.5,568.52L1793.8,568.52L1794.0,568.52L1794.2,568.52L1794.5,568.52L1794.8,568.52L1795.0,568.52L1795.2,568.52L1795.5,568.52L1795.8,568.52L1796.0,568.52L1796.2,568.52L1796.5,568.52L1796.8,568.52L1797.0,568.52L1797.2,568.52L1797.5,568.52L1797.8,568.52L1798.0,568.52L1798.2,568.52L1798.5,568.52L1798.8,568.52L1799.0,568.52L1799.2,568.52L1799.5,568.52L1799.8,568.52L1800.0,568.52L1800.2,568.52L1800.5,568.52L1800.8,568.52L1801.0,568.52L1801.2,568.52L1801.5,568.52L1801.8,568.52L1802.0,568.52L1802.2,568.52L1802.5,568.52L1802.8,568.52L1803.0,568.52L1803.2,568.52L1803.5,568.52L1803.8,568.52L1804.0,568.52L1804.2,568.52L1804.5,568.52L1804.8,568.52L1805.0,568.52L1805.2,568.52L1805.5,568.52L1805.8,568.52L1806.0,568.52L1806.2,568.52L1806.5,568.52L1806.8,568.52L1807.0,568.52L1807.2,568.52L1807.5,568.52L1807.8,568.52L1808.0,568.52L1808.2,568.52L1808.5,568.52L1808.8,568.52L1809.0,568.52L1809.2,568.52L1809.5,568.52L1809.8,568.52L1810.0,568.52L1810.2,568.52L1810.5,568.52L1810.8,568.52L1811.0,568.52L1811.2,568.52L1811.5,568.52L1811.8,568.52L1812.0,568.52L1812.2,568.52L1812.5,568.52L1812.8,568.52L1813.0,568.52L1813.2,568.52L1813.5,568.52L1813.8,568.52L1814.0,568.52L1814.2,568.52L1814.5,568.52L1814.8,568.52L1815.0,568.52L1815.2,568.52L1815.5,568.52L1815.8,568.52L1816.0,568.52L1816.2,568.52L1816.5,568.52L1816.8,568.52L1817.0,568.52L1817.2,568.52L1817.5,568.52L1817.8,568.52L1818.0,568.52L1818.2,568.52L1818.5,568.52L1818.8,568.52L1819.0,568.52L1819.2,568.52L1819.5,568.52L1819.8,568.52L1820.0,568.52L1820.2,568.52L1820.5,568.52L1820.8,568.52L1821.0,568.52L1821.2,568.52L1821.5,568.52L1821.8,568.52L1822.0,568.52L1822.2,568.52L1822.5,568.52L1822.8,568.52L1823.0,568.52L1823.2,568.52L1823.5,568.52L1823.8,568.52L1824.0,568.52L1824.2,568.52L1824.5,568.52L1824.8,568.52L1825.0,568.52L1825.2,568.52L1825.5,568.52L1825.8,568.52L1826.0,568.52L1826.2,568.52L1826.5,568.52L1826.8,568.52L1827.0,568.52L1827.2,568.52L1827.5,568.52L1827.8,568.52L1828.0,568.52L1828.2,568.52L1828.5,568.52L1828.8,568.52L1829.0,568.52L1829.2,568.52L1829.5,568.52L1829.8,568.52L1830.0,568.52L1830.2,568.52L1830.5,568.52L1830.8,568.52L1831.0,568.52L1831.2,568.52L1831.5,568.52L1831.8,568.52L1832.0,568.52L1832.2,568.52L1832.5,568.52L1832.8,568.52L1833.0,568.52L1833.2,568.52L1833.5,568.52L1833.8,568.52L1834.0,568.52L1834.2,568.52L1834.5,568.52L1834.8,568.52L1835.0,568.52L1835.2,568.52L1835.5,568.52L1835.8,568.52L1836.0,568.52L1836.2,568.52L1836.5,568.52L1836.8,568.52L1837.0,568.52L1837.2,568.52L1837.5,568.52L1837.8,568.52L1838.0,568.52L1838.2,568.52L1838.5,568.52L1838.8,568.52L1839.0,568.52L1839.2,568.52L1839.5,568.52L1839.8,568.52L1840.0,568.52L1840.2,568.52L1840.5,568.52L1840.8,568.52L1841.0,568.52L1841.2,568.52L1841.5,568.52L1841.8,568.52L1842.0,568.52L1842.2,568.52L1842.5,568.52L1842.8,568.52L1843.0,568.52L1843.2,568.52L1843.5,568.52L1843.8,568.52L1844.0,568.52L1844.2,568.52L1844.5,568.52L1844.8,568.52L1845.0,568.52L1845.2,568.52L1845.5,568.52L1845.8,568.52L1846.0,568.52L1846.2,568.52L1846.5,568.52L1846.8,568.52L1847.0,568.52L1847.2,568.52L1847.5,568.52L1847.8,568.52L1848.0,568.52L1848.2,568.52L1848.5,568.52L1848.8,568.52L1849.0,568.52L1849.2,568.52L1849.5,568.52L1849.8,568.52L1850.0,568.52L1850.2,568.52L1850.5,568.52L1850.8,568.52L1851.0,568.52L1851.2,568.52L1851.5,568.52L1851.8,568.52L1852.0,568.52L1852.2,568.52L1852.5,568.52L1852.8,568.52L1853.0,568.52L1853.2,568.52L1853.5,568.52L1853.8,568.52L1854.0,568.52L1854.2,568.52L1854.5,568.52L1854.8,568.52L1855.0,568.52L1855.2,568.52L1855.5,568.52L1855.8,568.52L1856.0,568.52L1856.2,568.52L1856.5,568.52L1856.8,568.52L1857.0,568.52L1857.2,568.52L1857.5,568.52L1857.8,568.52L1858.0,568.52L1858.2,568.52L1858.5,568.52L1858.8,568.52L1859.0,568.52L1859.2,568.52L1859.5,568.52L1859.8,568.52L1860.0,568.52L1860.2,568.52L1860.5,568.52L1860.8,568.52L1861.0,568.52L1861.2,568.52L1861.5,568.52L1861.8,568.52L1862.0,568.52L1862.2,568.52L1862.5,568.52L1862.8,568.52L1863.0,568.52L1863.2,568.52L1863.5,568.52L1863.8,568.52L1864.0,568.52L1864.2,568.52L1864.5,568.52L1864.8,568.52L1865.0,568.52L1865.2,568.52L1865.5,568.52L1865.8,568.52L1866.0,568.52L1866.2,568.52L1866.5,568.52L1866.8,568.52L1867.0,568.52L1867.2,568.52L1867.5,568.52L1867.8,568.52L1868.0,568.52L1868.2,568.52L1868.5,568.52L1868.8,568.52L1869.0,568.52L1869.2,568.52L1869.5,568.52L1869.8,568.52L1870.0,568.52L1870.2,568.52L1870.5,568.52L1870.8,568.52L1871.0,568.52L1871.2,568.52L1871.5,568.52L1871.8,568.52L1872.0,568.52L1872.2,568.52L1872.5,568.52L1872.8,568.52L1873.0,568.52L1873.2,568.52L1873.5,568.52L1873.8,568.52L1874.0,568.52L1874.2,568.52L1874.5,568.52L1874.8,568.52L1875.0,568.52L1875.2,568.52L1875.5,568.52L1875.8,568.52L1876.0,568.52L1876.2,568.52L1876.5,568.52L1876.8,568.52L1877.0,568.52L1877.2,568.52L1877.5,568.52L1877.8,568.52L1878.0,568.52L1878.2,568.52L1878.5,568.52L1878.8,568.52L1879.0,568.52L1879.2,568.52L1879.5,568.52L1879.8,568.52L1880.0,568.52L1880.2,568.52L1880.5,568.52L1880.8,568.52L1881.0,568.52L1881.2,568.52L1881.5,568.52L1881.8,568.52L1882.0,568.52L1882.2,568.52L1882.5,568.52L1882.8,568.52L1883.0,568.52L1883.2,568.52L1883.5,568.52L1883.8,568.52L1884.0,568.52L1884.2,568.52L1884.5,568.52L1884.8,568.52L1885.0,568.52L1885.2,568.52L1885.5,568.52L1885.8,568.52L1886.0,568.52L1886.2,568.52L1886.5,568.52L1886.8,568.52L1887.0,568.52L1887.2,568.52L1887.5,568.52L1887.8,568.52L1888.0,568.52L1888.2,568.52L1888.5,568.52L1888.8,568.52L1889.0,568.52L1889.2,568.52L1889.5,568.52L1889.8,568.52L1890.0,568.52L1890.2,568.52L1890.5,568.52L1890.8,568.52L1891.0,568.52L1891.2,568.52L1891.5,568.52L1891.8,568.52L1892.0,568.52L1892.2,568.52L1892.5,568.52L1892.8,568.52L1893.0,568.52L1893.2,568.52L1893.5,568.52L1893.8,568.52L1894.0,568.52L1894.2,568.52L1894.5,568.52L1894.8,568.52L1895.0,568.52L1895.2,568.52L1895.5,568.52L1895.8,568.52L1896.0,568.52L1896.2,568.52L1896.5,568.52L1896.8,568.52L1897.0,568.52L1897.2,568.52L1897.5,568.52L1897.8,568.52L1898.0,568.52L1898.2,568.52L1898.5,568.52L1898.8,568.52L1899.0,568.52L1899.2,568.52L1899.5,568.52L1899.8,568.52L1900.0,568.52L1900.2,568.52L1900.5,568.52L1900.8,568.52L1901.0,568.52L1901.2,568.52L1901.5,568.52L1901.8,568.52L1902.0,568.52L1902.2,568.52L1902.5,568.52L1902.8,568.52L1903.0,568.52L1903.2,568.52L1903.5,568.52L1903.8,568.52L1904.0,568.52L1904.2,568.52L1904.5,568.52L1904.8,568.52L1905.0,568.52L1905.2,568.52L1905.5,568.52L1905.8,568.52L1906.0,568.52L1906.2,568.52L1906.5,568.52L1906.8,568.52L1907.0,568.52L1907.2,568.52L1907.5,568.52L1907.8,568.52L1908.0,568.52L1908.2,568.52L1908.5,568.52L1908.8,568.52L1909.0,568.52L1909.2,568.52L1909.5,568.52L1909.8,568.52L1910.0,568.52L1910.2,568.52L1910.5,568.52L1910.8,568.52L1911.0,568.52L1911.2,568.52L1911.5,568.52L1911.8,568.52L1912.0,568.52L1912.2,568.52L1912.5,568.52L1912.8,568.52L1913.0,568.52L1913.2,568.52L1913.5,568.52L1913.8,568.52L1914.0,568.52L1914.2,568.52L1914.5,568.52L1914.8,568.52L1915.0,568.52L1915.2,568.52L1915.5,568.52L1915.8,568.52L1916.0,568.52L1916.2,568.52L1916.5,568.52L1916.8,568.52L1917.0,568.52L1917.2,568.52L1917.5,568.52L1917.8,568.52L1918.0,568.52L1918.2,568.52L1918.5,568.52L1918.8,568.52L1919.0,568.52L1919.2,568.52L1919.5,568.52L1919.8,568.52L1920.0,568.52L1920.2,568.52L1920.5,568.52L1920.8,568.52L1921.0,568.52L1921.2,568.52L1921.5,568.52L1921.8,568.52L1922.0,568.52L1922.2,568.52L1922.5,568.52L1922.8,568.52L1923.0,568.52L1923.2,568.52L1923.5,568.52L1923.8,568.52L1924.0,568.52L1924.2,568.52L1924.5,568.52L1924.8,568.52L1925.0,568.52L1925.2,568.52L1925.5,568.52L1925.8,568.52L1926.0,568.52L1926.2,568.52L1926.5,568.52L1926.8,568.52L1927.0,568.52L1927.2,568.52L1927.5,568.52L1927.8,568.52L1928.0,568.52L1928.2,568.52L1928.5,568.52L1928.8,568.52L1929.0,568.52L1929.2,568.52L1929.5,568.52L1929.8,568.52L1930.0,568.52L1930.2,568.52L1930.5,568.52L1930.8,568.52L1931.0,568.52L1931.2,568.52L1931.5,568.52L1931.8,568.52L1932.0,568.52L1932.2,568.52L1932.5,568.52L1932.8,568.52L1933.0,568.52L1933.2,568.52L1933.5,568.52L1933.8,568.52L1934.0,568.52L1934.2,568.52L1934.5,568.52L1934.8,568.52L1935.0,568.52L1935.2,568.52L1935.5,568.52L1935.8,568.52L1936.0,568.52L1936.2,568.52L1936.5,568.52L1936.8,568.52L1937.0,568.52L1937.2,568.52L1937.5,568.52L1937.8,568.52L1938.0,568.52L1938.2,568.52L1938.5,568.52L1938.8,568.52L1939.0,568.52L1939.2,568.52L1939.5,568.52L1939.8,568.52L1940.0,568.52L1940.2,568.52L1940.5,568.52L1940.8,568.52L1941.0,568.52L1941.2,568.52L1941.5,568.52L1941.8,568.52L1942.0,568.52L1942.2,568.52L1942.5,568.52L1942.8,568.52L1943.0,568.52L1943.2,568.52L1943.5,568.52L1943.8,568.52L1944.0,568.52L1944.2,568.52L1944.5,568.52L1944.8,568.52L1945.0,568.52L1945.2,568.52L1945.5,568.52L1945.8,568.52L1946.0,568.52L1946.2,568.52L1946.5,568.52L1946.8,568.52L1947.0,568.52L1947.2,568.52L1947.5,568.52L1947.8,568.52L1948.0,568.52L1948.2,568.52L1948.5,568.52L1948.8,568.52L1949.0,568.52L1949.2,568.52L1949.5,568.52L1949.8,568.52L1950.0,568.52L1950.2,568.52L1950.5,568.52L1950.8,568.52L1951.0,568.52L1951.2,568.52L1951.5,568.52L1951.8,568.52L1952.0,568.52L1952.2,568.52L1952.5,568.52L1952.8,568.52L1953.0,568.52L1953.2,568.52L1953.5,568.52L1953.8,568.52L1954.0,568.52L1954.2,568.52L1954.5,568.52L1954.8,568.52L1955.0,568.52L1955.2,568.52L1955.5,568.52L1955.8,568.52L1956.0,568.52L1956.2,568.52L1956.5,568.52L1956.8,568.52L1957.0,568.52L1957.2,568.52L1957.5,568.52L1957.8,568.52L1958.0,568.52L1958.2,568.52L1958.5,568.52L1958.8,568.52L1959.0,568.52L1959.2,568.52L1959.5,568.52L1959.8,568.52L1960.0,568.52L1960.2,568.52L1960.5,568.52L1960.8,568.52L1961.0,568.52L1961.2,568.52L1961.5,568.52L1961.8,568.52L1962.0,568.52L1962.2,568.52L1962.5,568.52L1962.8,568.52L1963.0,568.52L1963.2,568.52L1963.5,568.52L1963.8,568.52L1964.0,568.52L1964.2,568.52L1964.5,568.52L1964.8,568.52L1965.0,568.52L1965.2,568.52L1965.5,568.52L1965.8,568.52L1966.0,568.52L1966.2,568.52L1966.5,568.52L1966.8,568.52L1967.0,568.52L1967.2,568.52L1967.5,568.52L1967.8,568.52L1968.0,568.52L1970.8,1068.65L2002.8,1068.65L2003.0,1066.79L2003.3,1064.94L2003.5,1063.09L2003.8,1061.25L2004.0,1059.41L2004.3,1057.58L2004.5,1055.75L2004.8,1053.92L2005.0,1052.10L2005.3,1050.28L2005.5,1048.46L2005.8,1046.65L2006.0,1044.85L2006.3,1043.05L2006.5,1041.25L2006.8,1039.45L2007.0,1037.66L2007.3,1035.88L2007.5,1034.09L2007.8,1032.31L2008.0,1030.54L2008.3,1028.77L2008.5,1027.00L2008.8,1025.23L2009.0,1023.47L2009.3,1021.72L2009.5,1019.96L2009.8,1018.21L2010.0,1016.47L2010.3,1014.72L2010.5,1012.98L2010.8,1011.25L2011.0,1009.51L2011.3,1007.79L2011.5,1006.35L2011.5,1006.06L2011.8,1004.35L2012.0,1002.66L2012.3,1000.99L2012.5,999.34L2012.8,997.70L2013.0,996.07L2013.3,994.44L2013.5,992.82L2013.8,991.21L2014.0,989.59L2014.3,987.98L2014.5,986.35L2014.8,984.72L2015.0,983.08L2015.3,981.42L2015.5,979.74L2015.8,978.05L2016.0,976.34L2016.3,974.60L2016.5,972.83L2016.8,971.04L2017.0,969.49L2017.0,969.21L2017.3,967.38L2017.5,965.55L2017.8,963.73L2018.0,961.90L2018.3,960.07L2018.5,958.24L2018.8,956.40L2019.0,954.55L2019.3,952.68L2019.5,950.79L2019.8,948.89L2020.0,946.95L2020.3,945.00L2020.5,943.01L2020.8,940.99L2021.0,938.93L2021.3,936.83L2021.5,934.69L2021.8,932.51L2022.0,930.28L2022.3,927.99L2022.5,925.66L2022.8,923.26L2023.0,920.80L2023.3,918.29L2023.5,916.04L2023.5,915.70L2023.8,912.95L2024.0,909.99L2024.3,906.86L2024.5,903.58L2024.8,900.18L2025.0,896.69L2025.3,893.13L2025.5,889.53L2025.8,885.92L2026.0,882.32L2026.3,878.77L2026.5,875.30L2026.8,871.92L2027.0,869.04L2027.0,868.66L2027.3,865.49L2027.5,862.35L2027.8,859.24L2028.0,856.16L2028.3,853.11L2028.5,850.07L2028.8,847.05L2029.0,844.04L2029.3,841.04L2029.5,838.04L2029.8,835.04L2030.0,832.03L2030.3,829.02L2030.5,825.99L2030.8,822.94L2031.0,820.20L2031.0,819.88L2031.3,816.75L2031.5,813.57L2031.8,810.33L2032.0,807.04L2032.3,803.71L2032.5,800.35L2032.8,796.97L2033.0,793.58L2033.3,790.20L2033.5,786.81L2033.8,783.45L2034.0,780.11L2034.3,776.80L2034.5,773.54L2034.8,770.33L2035.0,767.19L2035.3,764.11L2035.5,761.12L2035.8,758.21L2036.0,755.41L2036.3,752.71L2036.5,750.13L2036.8,747.68L2037.0,745.55L2037.0,745.36L2037.3,743.12L2037.5,740.93L2037.8,738.77L2038.0,736.65L2038.3,734.57L2038.5,732.52L2038.8,730.51L2039.0,728.54L2039.3,726.60L2039.5,724.69L2039.8,722.82L2040.0,720.98L2040.3,719.17L2040.5,717.40L2040.8,715.65L2041.0,713.93L2041.3,712.25L2041.5,710.59L2041.8,708.96L2042.0,707.36L2042.3,705.79L2042.5,704.24L2042.8,702.72L2043.0,701.22L2043.3,699.74L2043.5,698.29L2043.8,696.86L2044.0,695.46L2044.3,694.07L2044.5,692.71L2044.8,691.37L2044.8,691.18L2045.0,690.04L2045.3,688.73L2045.5,687.43L2045.8,686.15L2046.0,684.88L2046.3,683.63L2046.5,682.40L2046.8,681.18L2047.0,679.97L2047.3,678.78L2047.5,677.61L2047.8,676.45L2048.0,675.31L2048.3,674.19L2048.5,673.08L2048.8,671.99L2049.0,670.92L2049.3,669.87L2049.5,668.83L2049.8,667.81L2050.0,666.81L2050.3,665.83L2050.5,664.86L2050.8,663.92L2051.0,662.99L2051.3,662.08L2051.5,661.19L2051.8,660.32L2052.0,659.47L2052.3,658.64L2052.5,657.83L2052.6,657.54L2052.8,657.04L2053.0,656.26L2053.3,655.49L2053.5,654.72L2053.8,653.98L2054.0,653.24L2054.3,652.52L2054.5,651.81L2054.8,651.12L2055.0,650.45L2055.3,649.80L2055.5,649.17L2055.8,648.55L2056.0,647.96L2056.3,647.39L2056.5,646.85L2056.8,646.32L2057.0,645.83L2057.3,645.36L2057.4,645.10L2057.5,644.92L2057.8,644.48L2058.0,644.06L2058.3,643.64L2058.5,643.23L2058.8,642.83L2059.0,642.43L2059.3,642.04L2059.5,641.66L2059.8,641.29L2060.0,640.92L2060.3,640.57L2060.5,640.22L2060.8,639.87L2061.0,639.54L2061.3,639.21L2061.5,638.89L2061.7,638.58L2062.0,638.28L2062.2,637.99L2062.5,637.70L2062.7,637.42L2063.0,637.15L2063.2,636.89L2063.5,636.64L2063.7,636.40L2064.0,636.16L2064.2,635.93L2064.5,635.71L2064.7,635.50L2065.0,635.30L2065.2,635.15L2065.2,635.11L2065.5,634.92L2065.7,634.74L2066.0,634.57L2066.2,634.40L2066.5,634.23L2066.7,634.07L2067.0,633.91L2067.2,633.76L2067.5,633.61L2067.7,633.46L2068.0,633.32L2068.2,633.18L2068.5,633.05L2068.7,632.92L2069.0,632.79L2069.2,632.66L2069.5,632.54L2069.7,632.42L2070.0,632.30L2070.2,632.19L2070.5,632.07L2070.7,631.96L2071.0,631.85L2071.2,631.74L2071.5,631.63L2071.7,631.53L2072.0,631.42L2072.2,631.31L2072.5,631.21L2072.7,631.11L2073.0,631.00L2073.2,630.90L2073.5,630.80L2073.7,630.69L2074.0,630.59L2074.2,630.48L2074.5,630.38L2074.7,630.27L2075.0,630.16L2075.2,630.05L2075.5,629.94L2075.7,629.83L2076.0,629.72L2076.2,629.60L2076.5,629.48L2076.7,629.36L2077.0,629.24L2077.2,629.12L2077.5,628.99L2077.7,628.86L2078.0,628.72L2078.2,628.58L2078.5,628.44L2078.7,628.30L2079.0,628.15L2079.2,628.00L2079.3,627.96L2079.5,627.84L2079.7,627.68L2080.0,627.52L2080.2,627.36L2080.5,627.20L2080.7,627.04L2081.0,626.87L2081.2,626.70L2081.5,626.54L2081.7,626.36L2082.0,626.19L2082.2,626.02L2082.5,625.84L2082.7,625.66L2083.0,625.48L2083.2,625.30L2083.5,625.11L2083.7,624.93L2084.0,624.74L2084.2,624.54L2084.5,624.35L2084.7,624.15L2085.0,623.96L2085.2,623.75L2085.5,623.55L2085.7,623.34L2086.0,623.13L2086.2,622.92L2086.5,622.71L2086.7,622.49L2087.0,622.27L2087.2,622.05L2087.5,621.82L2087.7,621.59L2088.0,621.36L2088.2,621.13L2088.5,620.89L2088.7,620.68L2088.7,620.65L2089.0,620.40L2089.2,620.15L2089.5,619.89L2089.7,619.62L2090.0,619.34L2090.2,619.06L2090.5,618.77L2090.7,618.48L2091.0,618.18L2091.2,617.87L2091.5,617.56L2091.7,617.25L2092.0,616.93L2092.2,616.60L2092.5,616.27L2092.7,615.94L2093.0,615.61L2093.2,615.27L2093.5,614.92L2093.7,614.58L2094.0,614.23L2094.2,613.88L2094.5,613.53L2094.7,613.18L2095.0,612.82L2095.2,612.47L2095.5,612.11L2095.7,611.75L2096.0,611.40L2096.2,611.04L2096.5,610.68L2096.7,610.32L2097.0,609.97L2097.2,609.61L2097.5,609.26L2097.7,608.91L2098.0,608.56L2098.2,608.21L2098.5,607.87L2098.7,607.52L2099.0,607.18L2099.2,606.85L2099.5,606.51L2099.7,606.21L2099.7,606.18L2100.0,605.86L2100.2,605.52L2100.5,605.19L2100.7,604.86L2101.0,604.52L2101.2,604.18L2101.5,603.84L2101.7,603.50L2102.0,603.16L2102.2,602.81L2102.5,602.47L2102.7,602.13L2103.0,601.78L2103.2,601.44L2103.5,601.09L2103.7,600.75L2104.0,600.40L2104.2,600.06L2104.5,599.71L2104.7,599.37L2105.0,599.03L2105.2,598.69L2105.5,598.35L2105.7,598.01L2106.0,597.67L2106.2,597.34L2106.5,597.01L2106.7,596.68L2107.0,596.35L2107.2,596.02L2107.5,595.70L2107.7,595.38L2108.0,595.06L2108.2,594.75L2108.5,594.44L2108.7,594.13L2109.0,593.83L2109.2,593.53L2109.5,593.23L2109.7,592.94L2110.0,592.66L2110.2,592.37L2110.5,592.10L2110.7,591.83L2110.7,591.82L2111.0,591.55L2111.2,591.28L2111.5,591.01L2111.7,590.73L2112.0,590.46L2112.2,590.19L2112.5,589.91L2112.7,589.64L2113.0,589.37L2113.2,589.10L2113.5,588.83L2113.7,588.56L2114.0,588.30L2114.2,588.03L2114.5,587.77L2114.7,587.51L2115.0,587.26L2115.2,587.00L2115.5,586.76L2115.7,586.51L2116.0,586.27L2116.2,586.03L2116.5,585.80L2116.7,585.57L2117.0,585.35L2117.2,585.13L2117.5,584.92L2117.7,584.71L2118.0,584.51L2118.2,584.32L2118.5,584.13L2118.7,583.95L2119.0,583.78L2119.2,583.61L2119.5,583.45L2119.7,583.30L2120.0,583.16L2120.1,583.08L2120.2,583.02L2120.4,582.89L2120.7,582.76L2120.9,582.62L2121.2,582.49L2121.4,582.35L2121.7,582.22L2121.9,582.09L2122.2,581.96L2122.4,581.82L2122.7,581.69L2122.9,581.57L2123.2,581.44L2123.4,581.31L2123.7,581.19L2123.9,581.07L2124.2,580.95L2124.4,580.83L2124.7,580.71L2124.9,580.60L2125.2,580.49L2125.4,580.38L2125.7,580.27L2125.9,580.17L2126.2,580.07L2126.4,579.98L2126.7,579.89L2126.9,579.80L2127.2,579.71L2127.4,579.63L2127.7,579.56L2127.9,579.49L2128.2,579.42L2128.4,579.36L2128.7,579.30L2128.9,579.25L2129.2,579.20L2129.4,579.16L2129.7,579.12L2129.9,579.09L2130.2,579.06L2130.4,579.04L2130.7,579.03L2130.9,579.02L2131.1,579.02L2131.2,579.02L2131.4,579.02L2131.7,579.02L2131.9,579.03L2132.2,579.03L2132.4,579.03L2132.7,579.03L2132.9,579.04L2133.2,579.04L2133.4,579.05L2133.7,579.06L2133.9,579.06L2134.2,579.07L2134.4,579.08L2134.7,579.09L2134.9,579.09L2135.2,579.10L2135.4,579.11L2135.7,579.12L2135.9,579.13L2136.2,579.14L2136.4,579.15L2136.7,579.17L2136.9,579.18L2137.2,579.19L2137.4,579.20L2137.7,579.22L2137.9,579.23L2138.2,579.24L2138.4,579.26L2138.7,579.27L2138.9,579.28L2139.2,579.30L2139.4,579.31L2139.7,579.33L2139.9,579.34L2140.2,579.36L2140.4,579.37L2140.7,579.39L2140.9,579.41L2141.2,579.42L2141.4,579.44L2141.7,579.45L2141.9,579.47L2142.2,579.49L2142.4,579.50L2142.7,579.52L2142.9,579.53L2143.2,579.55L2143.4,579.57L2143.7,579.58L2143.9,579.60L2144.2,579.61L2144.4,579.63L2144.7,579.65L2144.9,579.66L2145.2,579.68L2145.4,579.69L2145.7,579.71L2145.9,579.72L2146.2,579.74L2146.4,579.75L2146.7,579.77L2146.9,579.78L2147.2,579.80L2147.4,579.81L2147.7,579.82L2147.9,579.84L2148.2,579.85L2148.4,579.86L2148.7,579.87L2148.9,579.89L2149.2,579.90L2149.4,579.91L2149.7,579.92L2149.9,579.93L2150.2,579.94L2150.4,579.95L2150.7,579.96L2150.9,579.97L2151.2,579.98L2151.4,579.98L2151.7,579.99L2151.9,580.00L2152.2,580.01L2152.4,580.01L2152.7,580.02L2152.9,580.02L2153.2,580.02L2153.4,580.03L2153.7,580.03L2153.9,580.03L2154.2,580.03L2154.4,580.04L2154.6,580.04L2154.7,580.04L2154.9,580.04L2155.2,580.03L2155.4,580.03L2155.7,580.03L2155.9,580.03L2156.2,580.03L2156.4,580.03L2156.7,580.03L2156.9,580.03L2157.2,580.03L2157.4,580.02L2157.7,580.02L2157.9,580.02L2158.2,580.02L2158.4,580.02L2158.7,580.01L2158.9,580.01L2159.2,580.01L2159.4,580.00L2159.7,580.00L2159.9,580.00L2160.2,579.99L2160.4,579.99L2160.7,579.99L2160.9,579.98L2161.2,579.98L2161.4,579.97L2161.7,579.97L2161.9,579.96L2162.2,579.96L2162.4,579.95L2162.7,579.95L2162.9,579.94L2163.2,579.94L2163.4,579.93L2163.7,579.93L2163.9,579.92L2164.2,579.92L2164.4,579.91L2164.7,579.90L2164.9,579.90L2165.2,579.89L2165.4,579.89L2165.7,579.88L2165.9,579.87L2166.2,579.87L2166.4,579.86L2166.7,579.85L2166.9,579.85L2167.2,579.84L2167.4,579.83L2167.7,579.82L2167.9,579.82L2168.2,579.81L2168.4,579.80L2168.7,579.79L2168.9,579.79L2169.2,579.78L2169.4,579.77L2169.7,579.76L2169.9,579.75L2170.2,579.74L2170.4,579.74L2170.7,579.73L2170.9,579.72L2171.2,579.71L2171.4,579.70L2171.7,579.69L2171.9,579.68L2172.2,579.67L2172.4,579.67L2172.7,579.66L2172.9,579.65L2173.2,579.64L2173.4,579.63L2173.7,579.62L2173.9,579.61L2174.2,579.60L2174.4,579.59L2174.7,579.58L2174.9,579.57L2175.2,579.56L2175.4,579.55L2175.7,579.54L2175.9,579.53L2176.2,579.52L2176.4,579.51L2176.7,579.50L2176.9,579.49L2177.2,579.48L2177.4,579.47L2177.7,579.46L2177.9,579.45L2178.2,579.44L2178.4,579.43L2178.7,579.42L2178.9,579.41L2179.2,579.40L2179.4,579.39L2179.6,579.37L2179.9,579.36L2180.1,579.35L2180.4,579.34L2180.6,579.33L2180.9,579.32L2181.1,579.31L2181.4,579.30L2181.6,579.29L2181.9,579.28L2182.1,579.27L2182.4,579.26L2182.6,579.24L2182.9,579.23L2183.1,579.22L2183.4,579.21L2183.6,579.20L2183.9,579.19L2184.1,579.18L2184.4,579.17L2184.6,579.16L2184.9,579.14L2185.1,579.13L2185.4,579.12L2185.6,579.11L2185.9,579.10L2186.1,579.09L2186.4,579.08L2186.6,579.07L2186.9,579.06L2187.1,579.05L2187.4,579.03L2187.6,579.02L2187.9,579.01L2188.1,579.00L2188.4,578.99L2188.6,578.98L2188.9,578.97L2189.1,578.96L2189.4,578.95L2189.6,578.94L2189.9,578.92L2190.1,578.91L2190.4,578.90L2190.6,578.89L2190.9,578.88L2191.1,578.87L2191.4,578.86L2191.6,578.85L2191.9,578.84L2192.1,578.83L2192.4,578.82L2192.6,578.81L2192.9,578.80L2193.1,578.79L2193.4,578.78L2193.6,578.77L2193.9,578.76L2194.1,578.75L2194.4,578.74L2194.6,578.73L2194.9,578.72L2195.1,578.71L2195.4,578.70L2195.6,578.69L2195.9,578.68L2196.1,578.67L2196.4,578.66L2196.6,578.65L2196.9,578.64L2197.1,578.63L2197.4,578.62L2197.6,578.61L2197.9,578.60L2198.1,578.59L2198.4,578.58L2198.6,578.57L2198.9,578.56L2199.1,578.55L2199.4,578.55L2199.6,578.54L2199.9,578.53L2200.1,578.52L2200.4,578.51L2200.6,578.50L2200.9,578.50L2201.1,578.49L2201.4,578.48L2201.6,578.47L2201.7,578.47L2201.9,578.46L2202.1,578.45L2202.4,578.45L2202.6,578.44L2202.9,578.43L2203.1,578.42L2203.4,578.42L2203.6,578.41L2203.9,578.40L2204.1,578.39L2204.4,578.38L2204.6,578.38L2204.9,578.37L2205.1,578.36L2205.4,578.35L2205.6,578.34L2205.9,578.34L2206.1,578.33L2206.4,578.32L2206.6,578.31L2206.9,578.31L2207.1,578.30L2207.4,578.29L2207.6,578.28L2207.9,578.27L2208.1,578.27L2208.4,578.26L2208.6,578.25L2208.9,578.24L2209.1,578.24L2209.4,578.23L2209.6,578.22L2209.9,578.21L2210.1,578.20L2210.4,578.20L2210.6,578.19L2210.9,578.18L2211.1,578.17L2211.4,578.17L2211.6,578.16L2211.9,578.15L2212.1,578.14L2212.4,578.13L2212.6,578.13L2212.9,578.12L2213.1,578.11L2213.4,578.10L2213.6,578.10L2213.9,578.09L2214.1,578.08L2214.4,578.07L2214.6,578.07L2214.9,578.06L2215.1,578.05L2215.4,578.04L2215.6,578.03L2215.9,578.03L2216.1,578.02L2216.4,578.01L2216.6,578.00L2216.9,578.00L2217.1,577.99L2217.4,577.98L2217.6,577.97L2217.9,577.97L2218.1,577.96L2218.4,577.95L2218.6,577.94L2218.9,577.94L2219.1,577.93L2219.4,577.92L2219.6,577.91L2219.9,577.91L2220.1,577.90L2220.4,577.89L2220.6,577.88L2220.9,577.87L2221.1,577.87L2221.4,577.86L2221.6,577.85L2221.9,577.84L2222.1,577.84L2222.4,577.83L2222.6,577.82L2222.9,577.81L2223.1,577.81L2223.4,577.80L2223.6,577.79L2223.9,577.78L2224.1,577.78L2224.4,577.77L2224.6,577.76L2224.9,577.75L2225.1,577.75L2225.4,577.74L2225.6,577.73L2225.9,577.72L2226.1,577.72L2226.4,577.71L2226.6,577.70L2226.9,577.69L2227.1,577.69L2227.4,577.68L2227.6,577.67L2227.9,577.66L2228.1,577.66L2228.4,577.65L2228.6,577.64L2228.9,577.63L2229.1,577.63L2229.4,577.62L2229.6,577.61L2229.9,577.61L2230.1,577.60L2230.4,577.59L2230.6,577.58L2230.9,577.58L2231.1,577.57L2231.4,577.56L2231.6,577.55L2231.9,577.55L2232.1,577.54L2232.4,577.53L2232.6,577.52L2232.9,577.52L2233.1,577.51L2233.4,577.50L2233.6,577.49L2233.9,577.49L2234.1,577.48L2234.4,577.47L2234.6,577.47L2234.9,577.46L2235.1,577.45L2235.4,577.44L2235.6,577.44L2235.9,577.43L2236.1,577.42L2236.4,577.41L2236.6,577.41L2236.9,577.40L2237.1,577.39L2237.4,577.38L2237.6,577.38L2237.9,577.37L2238.1,577.36" fill="none" stroke="#ff0000" stroke-width="4.7" stroke-linejoin="round" stroke-linecap="butt"/>
</g></g>
<g font-family="'Liberation Serif', 'Times New Roman', serif" font-size="54.2" fill="#262626">
<text transform="translate(197.3,1200.2) scale(0.97,1)" text-anchor="end">-25</text>
<text transform="translate(197.3,1091.6) scale(0.97,1)" text-anchor="end">-20</text>
<text transform="translate(197.3,983.1) scale(0.97,1)" text-anchor="end">-15</text>
<text transform="translate(197.3,874.5) scale(0.97,1)" text-anchor="end">-10</text>
<text transform="translate(197.3,765.9) scale(0.97,1)" text-anchor="end">-5</text>
<text transform="translate(197.3,657.4) scale(0.97,1)" text-anchor="end">0</text>
<text transform="translate(197.3,548.8) scale(0.97,1)" text-anchor="end">5</text>
<text transform="translate(197.3,440.2) scale(0.97,1)" text-anchor="end">10</text>
<text transform="translate(197.3,331.6) scale(0.97,1)" text-anchor="end">15</text>
<text transform="translate(197.3,223.1) scale(0.97,1)" text-anchor="end">20</text>
<text transform="translate(197.3,114.5) scale(0.97,1)" text-anchor="end">25</text>
<text transform="translate(212.5,1246.2) scale(0.97,1)" text-anchor="middle">0</text>
<text transform="translate(887.5,1246.2) scale(0.97,1)" text-anchor="middle">5</text>
<text transform="translate(1562.5,1246.2) scale(0.97,1)" text-anchor="middle">10</text>
<text transform="translate(2237.5,1246.2) scale(0.97,1)" text-anchor="middle">15</text>
</g>
<g font-family="'Liberation Serif', 'Times New Roman', serif" font-size="58.5" fill="#262626">
<text x="1225.8" y="1313.2" text-anchor="middle">time (s)</text>
<text transform="translate(110.0,640.3) rotate(-90)" text-anchor="middle">control input (V)</text>
</g>
<rect x="546" y="99" width="325" height="194" fill="#fff"/>
<path d="M546,99H871V103H546ZM546,289H871V293H546ZM546,99H551V293H546ZM866,99H871V293H866Z" fill="#262626"/>
<rect x="555" y="133.0" width="70" height="4" fill="#0000ff"/>
<rect x="555" y="194.0" width="70" height="4" fill="#00ff00"/>
<rect x="555" y="255.3" width="70" height="4" fill="#ff0000"/>
<g font-family="'Liberation Serif', 'Times New Roman', serif" font-size="54.2" fill="#000">
<text transform="translate(629.7,154.1) scale(0.985,0.965)">PID</text>
<text transform="translate(628.6,215.0) scale(0.998,0.965)">DDP MPC</text>
<text transform="translate(629.7,275.8) scale(0.972,0.965)">Proposed</text>
</g>
</svg>
</body></html>
